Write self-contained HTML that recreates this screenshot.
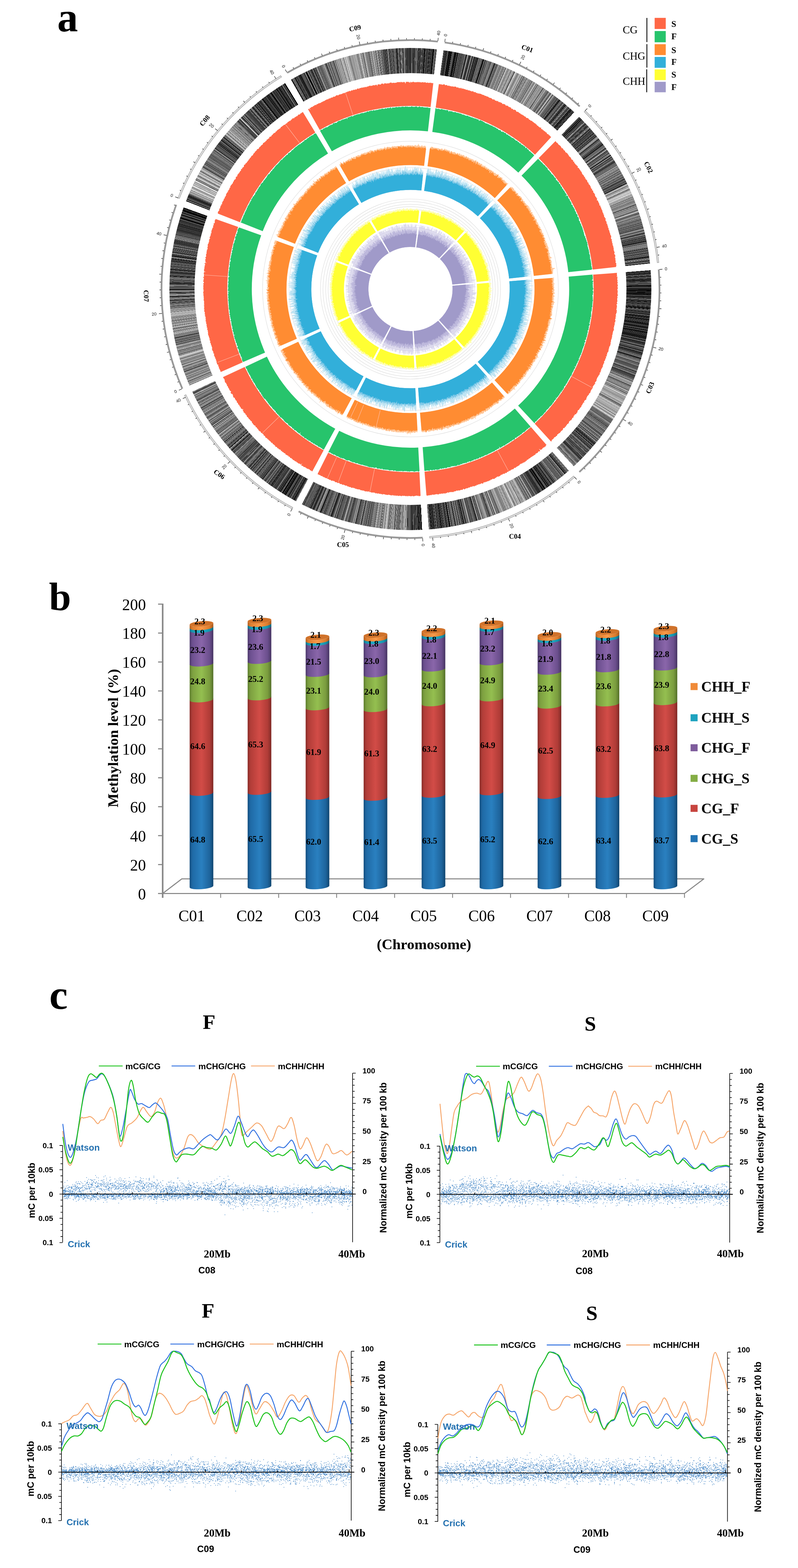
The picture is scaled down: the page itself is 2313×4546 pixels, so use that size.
<!DOCTYPE html><html><head><meta charset="utf-8"><title>Figure</title><style>html,body{margin:0;padding:0;background:#fff}#root{position:relative;width:2313px;height:4546px;overflow:hidden;background:#fff}#hm{position:absolute;border-radius:50%}svg{position:absolute;left:0;top:0}</style></head><body><div id="root">
<div id="hm" style="left:491.2px;top:139.4px;width:1397.2px;height:1397.2px;background:conic-gradient(#444 0 0.01deg,#333 0 0.10deg,#444 0 0.19deg,#777 0 0.24deg,#555 0 0.35deg,#aaa 0 0.38deg,#444 0 0.51deg,#444 0 0.67deg,#222 0 0.73deg,#333 0 0.77deg,#222 0 0.86deg,#666 0 0.95deg,#111 0 1.11deg,#888 0 1.27deg,#888 0 1.30deg,#222 0 1.41deg,#555 0 1.46deg,#777 0 1.57deg,#888 0 1.66deg,#555 0 1.82deg,#000 0 1.91deg,#555 0 2.00deg,#111 0 2.07deg,#666 0 2.16deg,#444 0 2.21deg,#000 0 2.30deg,#444 0 2.46deg,#555 0 2.50deg,#444 0 2.56deg,#111 0 2.59deg,#444 0 2.67deg,#000 0 2.70deg,#999 0 2.81deg,#222 0 2.90deg,#222 0 2.94deg,#333 0 3.05deg,#777 0 3.10deg,#444 0 3.26deg,#111 0 3.35deg,#333 0 3.38deg,#000 0 3.45deg,#222 0 3.50deg,#000 0 3.57deg,#666 0 3.70deg,#333 0 3.81deg,#555 0 3.92deg,#222 0 3.95deg,#222 0 4.00deg,#333 0 4.11deg,#444 0 4.27deg,#333 0 4.34deg,#222 0 4.37deg,#666 0 4.43deg,#444 0 4.49deg,#000 0 4.55deg,#333 0 4.66deg,#000 0 4.72deg,#666 0 4.83deg,#555 0 4.91deg,#000 0 5.00deg,#444 0 5.03deg,#000 0 5.06deg,#444 0 5.12deg,#666 0 5.23deg,#333 0 5.27deg,#111 0 5.35deg,#111 0 5.51deg,#111 0 5.60deg,#000 0 5.66deg,#555 0 5.73deg,#666 0 5.86deg,#666 0 5.99deg,#444 0 6.05deg,#777 0 6.08deg,#333 0 6.17deg,#666 0 6.30deg,#fff 0 7.90deg,#555 0 8.01deg,#111 0 8.04deg,#333 0 8.08deg,#111 0 8.11deg,#555 0 8.19deg,#333 0 8.23deg,#444 0 8.31deg,#444 0 8.35deg,#000 0 8.43deg,#000 0 8.46deg,#444 0 8.59deg,#333 0 8.65deg,#000 0 8.74deg,#444 0 8.83deg,#555 0 8.89deg,#444 0 8.96deg,#666 0 9.07deg,#555 0 9.10deg,#000 0 9.18deg,#222 0 9.29deg,#000 0 9.45deg,#111 0 9.54deg,#333 0 9.61deg,#000 0 9.69deg,#000 0 9.73deg,#111 0 9.84deg,#111 0 10.00deg,#aaa 0 10.05deg,#444 0 10.18deg,#555 0 10.34deg,#666 0 10.47deg,#333 0 10.58deg,#111 0 10.69deg,#000 0 10.85deg,#666 0 10.89deg,#000 0 11.05deg,#666 0 11.10deg,#444 0 11.26deg,#111 0 11.35deg,#000 0 11.46deg,#555 0 11.49deg,#222 0 11.53deg,#777 0 11.69deg,#444 0 11.75deg,#000 0 11.83deg,#666 0 11.99deg,#444 0 12.03deg,#555 0 12.12deg,#555 0 12.18deg,#000 0 12.27deg,#777 0 12.40deg,#333 0 12.53deg,#444 0 12.61deg,#444 0 12.68deg,#888 0 12.76deg,#444 0 12.82deg,#333 0 12.91deg,#555 0 13.02deg,#777 0 13.13deg,#222 0 13.16deg,#777 0 13.32deg,#111 0 13.45deg,#333 0 13.58deg,#444 0 13.71deg,#666 0 13.74deg,#bbb 0 13.90deg,#666 0 13.96deg,#666 0 14.00deg,#111 0 14.03deg,#222 0 14.14deg,#555 0 14.17deg,#555 0 14.30deg,#000 0 14.36deg,#000 0 14.47deg,#888 0 14.63deg,#888 0 14.79deg,#333 0 14.95deg,#444 0 15.00deg,#444 0 15.11deg,#111 0 15.17deg,#666 0 15.20deg,#bbb 0 15.31deg,#222 0 15.37deg,#000 0 15.46deg,#444 0 15.50deg,#222 0 15.61deg,#333 0 15.67deg,#666 0 15.78deg,#111 0 15.86deg,#111 0 15.93deg,#666 0 16.01deg,#111 0 16.08deg,#222 0 16.16deg,#444 0 16.19deg,#555 0 16.22deg,#222 0 16.29deg,#000 0 16.40deg,#777 0 16.51deg,#666 0 16.62deg,#666 0 16.78deg,#333 0 16.86deg,#888 0 16.89deg,#777 0 17.05deg,#444 0 17.09deg,#999 0 17.14deg,#333 0 17.21deg,#777 0 17.37deg,#333 0 17.48deg,#777 0 17.53deg,#000 0 17.66deg,#000 0 17.82deg,#999 0 17.88deg,#666 0 17.94deg,#555 0 18.10deg,#333 0 18.16deg,#333 0 18.32deg,#888 0 18.43deg,#888 0 18.46deg,#777 0 18.49deg,#222 0 18.53deg,#111 0 18.59deg,#888 0 18.67deg,#666 0 18.70deg,#888 0 18.77deg,#666 0 18.88deg,#999 0 18.94deg,#888 0 18.97deg,#555 0 19.13deg,#999 0 19.26deg,#111 0 19.32deg,#666 0 19.38deg,#666 0 19.54deg,#333 0 19.60deg,#333 0 19.66deg,#999 0 19.72deg,#999 0 19.77deg,#555 0 19.80deg,#999 0 19.96deg,#777 0 20.00deg,#666 0 20.08deg,#888 0 20.17deg,#777 0 20.33deg,#777 0 20.36deg,#111 0 20.52deg,#444 0 20.63deg,#555 0 20.70deg,#444 0 20.79deg,#888 0 20.95deg,#555 0 21.03deg,#222 0 21.12deg,#888 0 21.19deg,#666 0 21.24deg,#666 0 21.37deg,#777 0 21.44deg,#aaa 0 21.57deg,#999 0 21.62deg,#aaa 0 21.68deg,#666 0 21.79deg,#777 0 21.85deg,#888 0 22.01deg,#777 0 22.08deg,#666 0 22.24deg,#ccc 0 22.30deg,#777 0 22.36deg,#aaa 0 22.49deg,#777 0 22.62deg,#777 0 22.70deg,#888 0 22.81deg,#666 0 22.84deg,#aaa 0 22.87deg,#666 0 23.00deg,#bbb 0 23.04deg,#ccc 0 23.09deg,#777 0 23.13deg,#777 0 23.18deg,#888 0 23.24deg,#888 0 23.33deg,#333 0 23.42deg,#bbb 0 23.55deg,#ccc 0 23.71deg,#888 0 23.82deg,#888 0 23.88deg,#999 0 24.01deg,#666 0 24.04deg,#888 0 24.08deg,#777 0 24.16deg,#888 0 24.20deg,#999 0 24.23deg,#bbb 0 24.34deg,#888 0 24.43deg,#ccc 0 24.49deg,#999 0 24.54deg,#888 0 24.60deg,#aaa 0 24.69deg,#666 0 24.78deg,#888 0 24.94deg,#777 0 25.00deg,#ddd 0 25.09deg,#ccc 0 25.12deg,#999 0 25.19deg,#888 0 25.35deg,#bbb 0 25.48deg,#333 0 25.64deg,#777 0 25.73deg,#bbb 0 25.81deg,#888 0 25.87deg,#eee 0 26.00deg,#888 0 26.06deg,#ccc 0 26.09deg,#aaa 0 26.18deg,#999 0 26.31deg,#999 0 26.44deg,#555 0 26.53deg,#666 0 26.56deg,#999 0 26.72deg,#aaa 0 26.75deg,#777 0 26.84deg,#aaa 0 26.95deg,#eee 0 27.02deg,#999 0 27.10deg,#999 0 27.21deg,#aaa 0 27.25deg,#888 0 27.41deg,#ccc 0 27.49deg,#ccc 0 27.52deg,#bbb 0 27.58deg,#666 0 27.71deg,#777 0 27.80deg,#888 0 27.89deg,#888 0 27.95deg,#999 0 28.08deg,#444 0 28.24deg,#888 0 28.30deg,#ccc 0 28.36deg,#aaa 0 28.39deg,#555 0 28.52deg,#ccc 0 28.58deg,#666 0 28.61deg,#999 0 28.68deg,#999 0 28.79deg,#666 0 28.84deg,#aaa 0 28.87deg,#666 0 28.90deg,#666 0 29.06deg,#ddd 0 29.15deg,#999 0 29.19deg,#888 0 29.24deg,#555 0 29.28deg,#999 0 29.37deg,#ddd 0 29.45deg,#666 0 29.61deg,#999 0 29.77deg,#999 0 29.86deg,#555 0 29.93deg,#777 0 29.98deg,#777 0 30.07deg,#999 0 30.13deg,#999 0 30.22deg,#777 0 30.26deg,#555 0 30.35deg,#666 0 30.44deg,#999 0 30.49deg,#888 0 30.56deg,#aaa 0 30.72deg,#888 0 30.75deg,#999 0 30.91deg,#444 0 31.00deg,#ccc 0 31.08deg,#777 0 31.12deg,#888 0 31.21deg,#ccc 0 31.32deg,#ccc 0 31.41deg,#888 0 31.46deg,#777 0 31.62deg,#999 0 31.75deg,#888 0 31.91deg,#555 0 32.07deg,#bbb 0 32.20deg,#777 0 32.31deg,#999 0 32.42deg,#777 0 32.45deg,#aaa 0 32.58deg,#aaa 0 32.62deg,#888 0 32.65deg,#888 0 32.74deg,#999 0 32.87deg,#666 0 32.92deg,#aaa 0 33.01deg,#888 0 33.04deg,#999 0 33.13deg,#888 0 33.19deg,#aaa 0 33.30deg,#999 0 33.38deg,#333 0 33.51deg,#999 0 33.54deg,#555 0 33.61deg,#ccc 0 33.66deg,#999 0 33.82deg,#777 0 33.88deg,#666 0 33.91deg,#999 0 33.97deg,#aaa 0 34.06deg,#888 0 34.15deg,#ccc 0 34.24deg,#777 0 34.37deg,#666 0 34.50deg,#888 0 34.54deg,#999 0 34.62deg,#555 0 34.78deg,#777 0 34.89deg,#444 0 35.05deg,#999 0 35.12deg,#999 0 35.17deg,#aaa 0 35.28deg,#444 0 35.35deg,#bbb 0 35.43deg,#777 0 35.46deg,#444 0 35.59deg,#555 0 35.66deg,#999 0 35.69deg,#666 0 35.85deg,#eee 0 35.91deg,#ccc 0 35.99deg,#aaa 0 36.12deg,#555 0 36.25deg,#444 0 36.34deg,#999 0 36.37deg,#999 0 36.53deg,#999 0 36.69deg,#666 0 36.85deg,#666 0 37.01deg,#777 0 37.07deg,#222 0 37.13deg,#666 0 37.29deg,#555 0 37.33deg,#666 0 37.39deg,#555 0 37.47deg,#666 0 37.56deg,#444 0 37.62deg,#333 0 37.75deg,#777 0 37.79deg,#777 0 37.87deg,#555 0 38.00deg,#aaa 0 38.03deg,#000 0 38.06deg,#333 0 38.15deg,#222 0 38.26deg,#111 0 38.42deg,#444 0 38.49deg,#555 0 38.62deg,#777 0 38.71deg,#555 0 38.84deg,#555 0 38.89deg,#999 0 39.00deg,#111 0 39.07deg,#555 0 39.20deg,#444 0 39.31deg,#333 0 39.40deg,#666 0 39.45deg,#bbb 0 39.54deg,#444 0 39.61deg,#666 0 39.70deg,#777 0 39.75deg,#333 0 39.81deg,#000 0 39.88deg,#444 0 39.91deg,#555 0 39.97deg,#333 0 40.00deg,#000 0 40.06deg,#666 0 40.12deg,#000 0 40.25deg,#555 0 40.36deg,#aaa 0 40.41deg,#333 0 40.52deg,#666 0 40.59deg,#999 0 40.75deg,#222 0 40.78deg,#777 0 40.89deg,#222 0 41.00deg,#444 0 41.05deg,#666 0 41.14deg,#555 0 41.18deg,#000 0 41.26deg,#666 0 41.35deg,#777 0 41.48deg,#555 0 41.55deg,#000 0 41.66deg,#222 0 41.77deg,#333 0 41.88deg,#000 0 42.01deg,#555 0 42.09deg,#000 0 42.12deg,#444 0 42.25deg,#333 0 42.28deg,#333 0 42.37deg,#444 0 42.48deg,#222 0 42.59deg,#999 0 42.62deg,#333 0 42.71deg,#000 0 42.80deg,#777 0 42.80deg,#fff 0 44.40deg,#444 0 44.45deg,#555 0 44.48deg,#333 0 44.63deg,#666 0 44.77deg,#000 0 44.92deg,#666 0 44.98deg,#333 0 45.08deg,#222 0 45.14deg,#333 0 45.25deg,#111 0 45.41deg,#888 0 45.45deg,#333 0 45.53deg,#555 0 45.66deg,#222 0 45.70deg,#222 0 45.81deg,#aaa 0 45.87deg,#444 0 45.92deg,#333 0 46.01deg,#333 0 46.14deg,#bbb 0 46.30deg,#444 0 46.36deg,#666 0 46.43deg,#666 0 46.51deg,#555 0 46.55deg,#222 0 46.64deg,#111 0 46.73deg,#777 0 46.81deg,#444 0 46.97deg,#666 0 47.03deg,#777 0 47.12deg,#222 0 47.23deg,#000 0 47.27deg,#999 0 47.35deg,#000 0 47.39deg,#000 0 47.44deg,#000 0 47.47deg,#555 0 47.63deg,#666 0 47.74deg,#555 0 47.78deg,#777 0 47.81deg,#bbb 0 47.89deg,#111 0 47.93deg,#888 0 48.09deg,#555 0 48.18deg,#111 0 48.21deg,#222 0 48.26deg,#111 0 48.37deg,#777 0 48.44deg,#555 0 48.47deg,#555 0 48.55deg,#444 0 48.62deg,#666 0 48.65deg,#222 0 48.76deg,#444 0 48.82deg,#444 0 48.85deg,#444 0 49.01deg,#444 0 49.06deg,#444 0 49.19deg,#333 0 49.23deg,#333 0 49.29deg,#666 0 49.38deg,#444 0 49.47deg,#555 0 49.58deg,#000 0 49.71deg,#777 0 49.82deg,#222 0 49.90deg,#666 0 49.93deg,#777 0 50.06deg,#333 0 50.10deg,#222 0 50.23deg,#333 0 50.29deg,#888 0 50.35deg,#555 0 50.48deg,#000 0 50.53deg,#222 0 50.59deg,#444 0 50.65deg,#666 0 50.71deg,#777 0 50.75deg,#777 0 50.83deg,#999 0 50.92deg,#999 0 51.08deg,#aaa 0 51.19deg,#777 0 51.32deg,#888 0 51.36deg,#333 0 51.42deg,#222 0 51.50deg,#222 0 51.57deg,#555 0 51.73deg,#666 0 51.86deg,#444 0 51.92deg,#666 0 52.00deg,#888 0 52.07deg,#666 0 52.10deg,#777 0 52.21deg,#777 0 52.30deg,#444 0 52.43deg,#777 0 52.56deg,#222 0 52.67deg,#666 0 52.70deg,#333 0 52.73deg,#333 0 52.81deg,#555 0 52.97deg,#000 0 53.13deg,#666 0 53.19deg,#222 0 53.23deg,#333 0 53.29deg,#777 0 53.45deg,#666 0 53.48deg,#555 0 53.59deg,#888 0 53.64deg,#666 0 53.77deg,#666 0 53.83deg,#555 0 53.87deg,#999 0 53.95deg,#999 0 54.04deg,#333 0 54.10deg,#111 0 54.17deg,#777 0 54.22deg,#222 0 54.31deg,#333 0 54.37deg,#888 0 54.53deg,#555 0 54.59deg,#ccc 0 54.75deg,#222 0 54.82deg,#333 0 54.90deg,#444 0 55.01deg,#666 0 55.14deg,#444 0 55.20deg,#444 0 55.31deg,#888 0 55.44deg,#999 0 55.48deg,#444 0 55.51deg,#333 0 55.67deg,#555 0 55.72deg,#999 0 55.85deg,#555 0 55.96deg,#ddd 0 56.02deg,#555 0 56.13deg,#666 0 56.20deg,#000 0 56.26deg,#111 0 56.35deg,#333 0 56.44deg,#ccc 0 56.55deg,#666 0 56.58deg,#444 0 56.67deg,#333 0 56.80deg,#777 0 56.83deg,#222 0 56.89deg,#666 0 56.92deg,#999 0 56.95deg,#777 0 57.04deg,#222 0 57.09deg,#555 0 57.22deg,#444 0 57.31deg,#555 0 57.47deg,#aaa 0 57.53deg,#aaa 0 57.60deg,#555 0 57.66deg,#666 0 57.72deg,#444 0 57.81deg,#777 0 57.84deg,#444 0 57.87deg,#333 0 57.98deg,#333 0 58.14deg,#444 0 58.30deg,#666 0 58.38deg,#666 0 58.41deg,#444 0 58.44deg,#777 0 58.47deg,#999 0 58.51deg,#666 0 58.59deg,#333 0 58.65deg,#888 0 58.78deg,#555 0 58.84deg,#666 0 58.87deg,#666 0 59.03deg,#666 0 59.16deg,#aaa 0 59.32deg,#888 0 59.38deg,#888 0 59.45deg,#666 0 59.48deg,#444 0 59.53deg,#aaa 0 59.62deg,#666 0 59.65deg,#aaa 0 59.78deg,#555 0 59.87deg,#ccc 0 59.94deg,#777 0 59.99deg,#666 0 60.08deg,#777 0 60.15deg,#555 0 60.21deg,#777 0 60.32deg,#999 0 60.40deg,#999 0 60.53deg,#444 0 60.69deg,#888 0 60.85deg,#333 0 60.88deg,#888 0 61.01deg,#666 0 61.10deg,#333 0 61.17deg,#888 0 61.23deg,#777 0 61.29deg,#666 0 61.35deg,#aaa 0 61.46deg,#555 0 61.49deg,#888 0 61.52deg,#999 0 61.55deg,#666 0 61.60deg,#555 0 61.71deg,#888 0 61.78deg,#111 0 61.83deg,#777 0 61.96deg,#777 0 62.00deg,#bbb 0 62.03deg,#777 0 62.08deg,#444 0 62.17deg,#666 0 62.24deg,#444 0 62.33deg,#888 0 62.36deg,#555 0 62.47deg,#888 0 62.58deg,#666 0 62.69deg,#222 0 62.85deg,#555 0 62.94deg,#555 0 63.07deg,#111 0 63.10deg,#777 0 63.21deg,#555 0 63.37deg,#333 0 63.45deg,#444 0 63.49deg,#555 0 63.62deg,#444 0 63.65deg,#666 0 63.68deg,#666 0 63.71deg,#888 0 63.77deg,#111 0 63.93deg,#333 0 64.02deg,#777 0 64.08deg,#999 0 64.16deg,#bbb 0 64.32deg,#ddd 0 64.36deg,#999 0 64.52deg,#444 0 64.57deg,#777 0 64.68deg,#bbb 0 64.81deg,#555 0 64.85deg,#bbb 0 64.96deg,#888 0 65.04deg,#ccc 0 65.10deg,#ddd 0 65.23deg,#999 0 65.39deg,#555 0 65.45deg,#999 0 65.48deg,#777 0 65.59deg,#888 0 65.75deg,#bbb 0 65.86deg,#ccc 0 65.95deg,#ccc 0 66.02deg,#ccc 0 66.10deg,#999 0 66.17deg,#eee 0 66.23deg,#eee 0 66.29deg,#999 0 66.40deg,#aaa 0 66.46deg,#eee 0 66.55deg,#ccc 0 66.60deg,#ddd 0 66.67deg,#aaa 0 66.80deg,#bbb 0 66.89deg,#888 0 66.98deg,#aaa 0 67.03deg,#aaa 0 67.12deg,#ccc 0 67.15deg,#666 0 67.18deg,#ccc 0 67.25deg,#888 0 67.34deg,#aaa 0 67.47deg,#999 0 67.50deg,#444 0 67.63deg,#ccc 0 67.76deg,#666 0 67.84deg,#888 0 67.90deg,#777 0 68.01deg,#999 0 68.10deg,#888 0 68.23deg,#aaa 0 68.30deg,#555 0 68.36deg,#bbb 0 68.45deg,#777 0 68.48deg,#555 0 68.61deg,#999 0 68.67deg,#999 0 68.78deg,#666 0 68.94deg,#ccc 0 68.99deg,#aaa 0 69.05deg,#888 0 69.12deg,#999 0 69.28deg,#888 0 69.36deg,#555 0 69.47deg,#333 0 69.58deg,#ccc 0 69.65deg,#555 0 69.71deg,#bbb 0 69.76deg,#777 0 69.87deg,#777 0 70.00deg,#999 0 70.13deg,#999 0 70.26deg,#777 0 70.37deg,#777 0 70.46deg,#bbb 0 70.59deg,#777 0 70.66deg,#666 0 70.79deg,#888 0 70.84deg,#444 0 70.91deg,#888 0 70.99deg,#555 0 71.05deg,#bbb 0 71.18deg,#ccc 0 71.34deg,#777 0 71.40deg,#444 0 71.56deg,#bbb 0 71.65deg,#444 0 71.78deg,#000 0 71.84deg,#bbb 0 72.00deg,#777 0 72.09deg,#777 0 72.20deg,#999 0 72.36deg,#444 0 72.52deg,#999 0 72.63deg,#ccc 0 72.69deg,#555 0 72.72deg,#aaa 0 72.76deg,#222 0 72.82deg,#777 0 72.93deg,#666 0 72.96deg,#aaa 0 73.04deg,#666 0 73.13deg,#222 0 73.17deg,#444 0 73.23deg,#666 0 73.39deg,#888 0 73.52deg,#444 0 73.58deg,#444 0 73.63deg,#888 0 73.72deg,#aaa 0 73.76deg,#666 0 73.92deg,#555 0 73.97deg,#222 0 74.06deg,#999 0 74.22deg,#444 0 74.38deg,#555 0 74.44deg,#666 0 74.60deg,#888 0 74.63deg,#888 0 74.69deg,#444 0 74.85deg,#888 0 74.94deg,#444 0 75.07deg,#777 0 75.11deg,#999 0 75.14deg,#333 0 75.17deg,#444 0 75.28deg,#333 0 75.33deg,#666 0 75.39deg,#777 0 75.42deg,#999 0 75.48deg,#999 0 75.59deg,#888 0 75.70deg,#777 0 75.86deg,#333 0 75.93deg,#444 0 76.02deg,#777 0 76.05deg,#555 0 76.14deg,#bbb 0 76.27deg,#444 0 76.38deg,#666 0 76.49deg,#333 0 76.57deg,#222 0 76.68deg,#555 0 76.75deg,#888 0 76.80deg,#333 0 76.83deg,#888 0 76.96deg,#555 0 76.99deg,#777 0 77.02deg,#777 0 77.09deg,#333 0 77.12deg,#333 0 77.25deg,#333 0 77.30deg,#999 0 77.37deg,#777 0 77.43deg,#333 0 77.48deg,#111 0 77.61deg,#999 0 77.65deg,#444 0 77.76deg,#666 0 77.82deg,#222 0 77.91deg,#666 0 78.00deg,#666 0 78.03deg,#222 0 78.16deg,#444 0 78.19deg,#555 0 78.35deg,#555 0 78.40deg,#000 0 78.53deg,#333 0 78.69deg,#888 0 78.73deg,#666 0 78.79deg,#666 0 78.95deg,#222 0 79.00deg,#666 0 79.16deg,#777 0 79.19deg,#999 0 79.32deg,#666 0 79.36deg,#666 0 79.41deg,#777 0 79.57deg,#555 0 79.60deg,#999 0 79.76deg,#888 0 79.82deg,#444 0 79.88deg,#444 0 79.92deg,#999 0 80.08deg,#333 0 80.24deg,#000 0 80.27deg,#666 0 80.30deg,#555 0 80.35deg,#444 0 80.48deg,#999 0 80.54deg,#444 0 80.70deg,#444 0 80.86deg,#555 0 81.02deg,#444 0 81.06deg,#777 0 81.17deg,#555 0 81.30deg,#222 0 81.46deg,#888 0 81.55deg,#555 0 81.66deg,#666 0 81.77deg,#777 0 81.80deg,#222 0 81.89deg,#777 0 82.02deg,#555 0 82.15deg,#111 0 82.28deg,#222 0 82.44deg,#444 0 82.53deg,#333 0 82.62deg,#888 0 82.75deg,#aaa 0 82.78deg,#777 0 82.87deg,#111 0 82.93deg,#aaa 0 83.02deg,#444 0 83.18deg,#222 0 83.29deg,#444 0 83.45deg,#666 0 83.58deg,#999 0 83.66deg,#222 0 83.75deg,#222 0 83.90deg,#fff 0 85.50deg,#555 0 85.58deg,#111 0 85.61deg,#111 0 85.73deg,#333 0 85.84deg,#333 0 85.89deg,#666 0 85.98deg,#000 0 86.09deg,#333 0 86.17deg,#333 0 86.24deg,#444 0 86.33deg,#000 0 86.44deg,#111 0 86.50deg,#bbb 0 86.58deg,#555 0 86.69deg,#000 0 86.73deg,#444 0 86.78deg,#222 0 86.84deg,#333 0 86.93deg,#444 0 86.96deg,#333 0 87.12deg,#222 0 87.19deg,#777 0 87.32deg,#777 0 87.37deg,#111 0 87.43deg,#444 0 87.52deg,#000 0 87.58deg,#333 0 87.71deg,#333 0 87.82deg,#000 0 87.98deg,#333 0 88.02deg,#666 0 88.15deg,#000 0 88.20deg,#222 0 88.29deg,#444 0 88.33deg,#555 0 88.46deg,#777 0 88.57deg,#444 0 88.65deg,#222 0 88.68deg,#333 0 88.77deg,#222 0 88.80deg,#222 0 88.83deg,#666 0 88.99deg,#444 0 89.02deg,#444 0 89.05deg,#111 0 89.12deg,#000 0 89.28deg,#000 0 89.33deg,#333 0 89.46deg,#111 0 89.50deg,#444 0 89.66deg,#555 0 89.74deg,#000 0 89.77deg,#222 0 89.93deg,#111 0 89.96deg,#444 0 90.02deg,#222 0 90.13deg,#444 0 90.19deg,#000 0 90.32deg,#000 0 90.35deg,#000 0 90.46deg,#444 0 90.57deg,#000 0 90.68deg,#000 0 90.74deg,#666 0 90.80deg,#111 0 90.96deg,#222 0 91.02deg,#111 0 91.11deg,#333 0 91.14deg,#000 0 91.23deg,#222 0 91.29deg,#000 0 91.38deg,#333 0 91.54deg,#444 0 91.58deg,#555 0 91.66deg,#333 0 91.82deg,#111 0 91.89deg,#111 0 92.00deg,#333 0 92.08deg,#444 0 92.15deg,#444 0 92.21deg,#666 0 92.24deg,#000 0 92.30deg,#000 0 92.33deg,#444 0 92.39deg,#888 0 92.55deg,#333 0 92.64deg,#222 0 92.70deg,#333 0 92.83deg,#222 0 92.91deg,#444 0 92.97deg,#222 0 93.04deg,#111 0 93.09deg,#666 0 93.13deg,#000 0 93.22deg,#444 0 93.28deg,#666 0 93.36deg,#333 0 93.45deg,#333 0 93.58deg,#000 0 93.61deg,#222 0 93.70deg,#555 0 93.86deg,#444 0 94.02deg,#444 0 94.08deg,#111 0 94.14deg,#777 0 94.25deg,#444 0 94.28deg,#000 0 94.39deg,#222 0 94.43deg,#111 0 94.48deg,#444 0 94.59deg,#000 0 94.72deg,#000 0 94.81deg,#666 0 94.85deg,#222 0 94.88deg,#999 0 94.94deg,#333 0 95.02deg,#444 0 95.08deg,#555 0 95.11deg,#666 0 95.14deg,#555 0 95.21deg,#666 0 95.30deg,#333 0 95.46deg,#222 0 95.54deg,#111 0 95.58deg,#444 0 95.64deg,#333 0 95.80deg,#444 0 95.89deg,#333 0 95.95deg,#444 0 96.03deg,#111 0 96.19deg,#555 0 96.32deg,#777 0 96.45deg,#000 0 96.58deg,#000 0 96.61deg,#333 0 96.74deg,#222 0 96.85deg,#000 0 96.96deg,#555 0 97.09deg,#444 0 97.20deg,#000 0 97.23deg,#000 0 97.34deg,#111 0 97.45deg,#555 0 97.52deg,#000 0 97.55deg,#333 0 97.66deg,#333 0 97.77deg,#333 0 97.90deg,#666 0 97.98deg,#000 0 98.04deg,#333 0 98.20deg,#444 0 98.23deg,#000 0 98.26deg,#444 0 98.29deg,#000 0 98.38deg,#000 0 98.41deg,#111 0 98.44deg,#222 0 98.57deg,#333 0 98.61deg,#111 0 98.70deg,#333 0 98.73deg,#555 0 98.82deg,#444 0 98.88deg,#333 0 99.04deg,#333 0 99.13deg,#000 0 99.26deg,#111 0 99.31deg,#444 0 99.40deg,#000 0 99.47deg,#333 0 99.60deg,#666 0 99.76deg,#000 0 99.85deg,#000 0 99.94deg,#222 0 99.97deg,#444 0 100.10deg,#444 0 100.23deg,#222 0 100.31deg,#000 0 100.42deg,#111 0 100.51deg,#111 0 100.58deg,#666 0 100.64deg,#000 0 100.69deg,#111 0 100.72deg,#333 0 100.85deg,#000 0 100.89deg,#666 0 100.97deg,#222 0 101.03deg,#111 0 101.16deg,#444 0 101.23deg,#444 0 101.32deg,#000 0 101.48deg,#333 0 101.57deg,#000 0 101.63deg,#222 0 101.76deg,#222 0 101.81deg,#000 0 101.97deg,#777 0 102.03deg,#444 0 102.16deg,#111 0 102.20deg,#555 0 102.33deg,#000 0 102.42deg,#222 0 102.53deg,#555 0 102.66deg,#777 0 102.77deg,#333 0 102.93deg,#111 0 103.06deg,#444 0 103.15deg,#111 0 103.21deg,#444 0 103.29deg,#444 0 103.33deg,#111 0 103.41deg,#444 0 103.52deg,#666 0 103.55deg,#777 0 103.58deg,#555 0 103.74deg,#888 0 103.83deg,#222 0 103.96deg,#222 0 104.09deg,#555 0 104.20deg,#888 0 104.36deg,#333 0 104.43deg,#111 0 104.48deg,#666 0 104.54deg,#777 0 104.61deg,#444 0 104.77deg,#333 0 104.88deg,#000 0 104.93deg,#333 0 104.99deg,#666 0 105.03deg,#333 0 105.12deg,#555 0 105.21deg,#888 0 105.32deg,#000 0 105.45deg,#000 0 105.51deg,#444 0 105.59deg,#444 0 105.66deg,#555 0 105.71deg,#111 0 105.82deg,#333 0 105.85deg,#555 0 105.98deg,#555 0 106.01deg,#444 0 106.10deg,#555 0 106.13deg,#666 0 106.16deg,#888 0 106.25deg,#222 0 106.31deg,#444 0 106.35deg,#777 0 106.41deg,#999 0 106.46deg,#666 0 106.49deg,#666 0 106.65deg,#111 0 106.81deg,#222 0 106.84deg,#333 0 106.87deg,#222 0 106.93deg,#444 0 107.00deg,#666 0 107.09deg,#999 0 107.14deg,#000 0 107.18deg,#666 0 107.29deg,#888 0 107.32deg,#555 0 107.35deg,#777 0 107.38deg,#777 0 107.54deg,#666 0 107.62deg,#777 0 107.65deg,#888 0 107.71deg,#aaa 0 107.82deg,#555 0 107.98deg,#333 0 108.07deg,#666 0 108.23deg,#555 0 108.27deg,#888 0 108.35deg,#333 0 108.48deg,#aaa 0 108.64deg,#666 0 108.67deg,#333 0 108.73deg,#444 0 108.79deg,#666 0 108.88deg,#444 0 109.01deg,#555 0 109.14deg,#444 0 109.25deg,#666 0 109.29deg,#666 0 109.42deg,#333 0 109.50deg,#666 0 109.63deg,#777 0 109.70deg,#999 0 109.83deg,#666 0 109.94deg,#555 0 110.00deg,#777 0 110.08deg,#111 0 110.17deg,#444 0 110.33deg,#888 0 110.49deg,#111 0 110.55deg,#333 0 110.66deg,#999 0 110.79deg,#444 0 110.86deg,#888 0 110.94deg,#888 0 111.01deg,#222 0 111.10deg,#333 0 111.26deg,#444 0 111.34deg,#444 0 111.47deg,#444 0 111.51deg,#333 0 111.56deg,#555 0 111.69deg,#444 0 111.72deg,#333 0 111.81deg,#555 0 111.84deg,#777 0 111.90deg,#444 0 111.97deg,#999 0 112.02deg,#444 0 112.06deg,#555 0 112.15deg,#888 0 112.23deg,#777 0 112.30deg,#999 0 112.39deg,#999 0 112.48deg,#222 0 112.59deg,#aaa 0 112.65deg,#888 0 112.74deg,#999 0 112.85deg,#bbb 0 112.98deg,#888 0 113.14deg,#aaa 0 113.22deg,#777 0 113.26deg,#777 0 113.32deg,#aaa 0 113.40deg,#555 0 113.43deg,#aaa 0 113.56deg,#888 0 113.63deg,#666 0 113.66deg,#444 0 113.75deg,#333 0 113.83deg,#888 0 113.99deg,#666 0 114.12deg,#999 0 114.23deg,#888 0 114.32deg,#bbb 0 114.35deg,#666 0 114.38deg,#888 0 114.45deg,#888 0 114.56deg,#999 0 114.64deg,#666 0 114.68deg,#888 0 114.81deg,#666 0 114.89deg,#666 0 114.98deg,#888 0 115.11deg,#ccc 0 115.27deg,#777 0 115.43deg,#888 0 115.46deg,#777 0 115.52deg,#999 0 115.68deg,#888 0 115.77deg,#222 0 115.83deg,#777 0 115.90deg,#999 0 115.99deg,#aaa 0 116.10deg,#888 0 116.21deg,#aaa 0 116.30deg,#ccc 0 116.36deg,#ddd 0 116.52deg,#999 0 116.60deg,#999 0 116.76deg,#ccc 0 116.82deg,#999 0 116.91deg,#bbb 0 116.97deg,#999 0 117.04deg,#999 0 117.15deg,#999 0 117.28deg,#999 0 117.34deg,#888 0 117.50deg,#bbb 0 117.63deg,#999 0 117.72deg,#999 0 117.75deg,#bbb 0 117.78deg,#aaa 0 117.87deg,#bbb 0 117.96deg,#bbb 0 118.12deg,#aaa 0 118.28deg,#888 0 118.44deg,#999 0 118.49deg,#eee 0 118.52deg,#aaa 0 118.68deg,#aaa 0 118.72deg,#777 0 118.81deg,#666 0 118.86deg,#555 0 119.02deg,#aaa 0 119.09deg,#777 0 119.20deg,#777 0 119.25deg,#777 0 119.34deg,#eee 0 119.41deg,#ccc 0 119.44deg,#bbb 0 119.57deg,#888 0 119.63deg,#ddd 0 119.69deg,#ccc 0 119.78deg,#777 0 119.89deg,#ccc 0 120.00deg,#aaa 0 120.11deg,#bbb 0 120.22deg,#aaa 0 120.31deg,#aaa 0 120.44deg,#ccc 0 120.47deg,#999 0 120.63deg,#ddd 0 120.69deg,#999 0 120.74deg,#999 0 120.80deg,#888 0 120.96deg,#aaa 0 121.09deg,#aaa 0 121.25deg,#bbb 0 121.41deg,#ddd 0 121.44deg,#ccc 0 121.47deg,#555 0 121.60deg,#999 0 121.66deg,#ddd 0 121.79deg,#aaa 0 121.90deg,#999 0 121.96deg,#999 0 122.02deg,#999 0 122.13deg,#666 0 122.20deg,#aaa 0 122.36deg,#eee 0 122.49deg,#888 0 122.55deg,#ccc 0 122.68deg,#888 0 122.71deg,#777 0 122.82deg,#777 0 122.95deg,#444 0 123.06deg,#999 0 123.15deg,#444 0 123.26deg,#777 0 123.34deg,#777 0 123.41deg,#555 0 123.46deg,#666 0 123.52deg,#666 0 123.65deg,#444 0 123.76deg,#777 0 123.89deg,#999 0 123.98deg,#888 0 124.05deg,#888 0 124.10deg,#ccc 0 124.14deg,#555 0 124.22deg,#777 0 124.38deg,#555 0 124.45deg,#666 0 124.50deg,#999 0 124.54deg,#444 0 124.70deg,#999 0 124.76deg,#444 0 124.81deg,#333 0 124.85deg,#888 0 124.91deg,#222 0 124.99deg,#555 0 125.05deg,#777 0 125.16deg,#666 0 125.23deg,#666 0 125.26deg,#777 0 125.34deg,#555 0 125.50deg,#aaa 0 125.63deg,#222 0 125.67deg,#333 0 125.72deg,#888 0 125.83deg,#aaa 0 125.94deg,#777 0 125.97deg,#555 0 126.08deg,#666 0 126.19deg,#555 0 126.30deg,#444 0 126.34deg,#888 0 126.39deg,#999 0 126.42deg,#444 0 126.51deg,#777 0 126.62deg,#888 0 126.78deg,#666 0 126.82deg,#333 0 126.87deg,#777 0 126.96deg,#999 0 127.05deg,#777 0 127.18deg,#222 0 127.27deg,#666 0 127.36deg,#555 0 127.47deg,#222 0 127.53deg,#555 0 127.56deg,#888 0 127.59deg,#777 0 127.72deg,#999 0 127.88deg,#444 0 128.04deg,#666 0 128.17deg,#ccc 0 128.21deg,#444 0 128.32deg,#777 0 128.38deg,#666 0 128.41deg,#aaa 0 128.57deg,#333 0 128.68deg,#444 0 128.79deg,#888 0 128.90deg,#555 0 129.01deg,#888 0 129.09deg,#555 0 129.12deg,#555 0 129.18deg,#333 0 129.31deg,#ccc 0 129.40deg,#888 0 129.51deg,#666 0 129.57deg,#555 0 129.61deg,#555 0 129.69deg,#111 0 129.73deg,#666 0 129.84deg,#000 0 129.92deg,#444 0 129.98deg,#333 0 130.09deg,#111 0 130.20deg,#555 0 130.31deg,#333 0 130.44deg,#888 0 130.55deg,#000 0 130.71deg,#555 0 130.78deg,#666 0 130.89deg,#666 0 131.05deg,#222 0 131.18deg,#666 0 131.27deg,#444 0 131.33deg,#444 0 131.42deg,#444 0 131.51deg,#111 0 131.62deg,#888 0 131.67deg,#333 0 131.71deg,#444 0 131.77deg,#777 0 131.93deg,#999 0 132.04deg,#444 0 132.09deg,#444 0 132.25deg,#666 0 132.34deg,#555 0 132.37deg,#111 0 132.44deg,#555 0 132.47deg,#777 0 132.55deg,#777 0 132.64deg,#222 0 132.71deg,#444 0 132.79deg,#000 0 132.82deg,#999 0 132.86deg,#777 0 132.97deg,#777 0 133.03deg,#555 0 133.06deg,#666 0 133.17deg,#444 0 133.28deg,#333 0 133.31deg,#333 0 133.42deg,#777 0 133.48deg,#666 0 133.51deg,#333 0 133.56deg,#333 0 133.72deg,#555 0 133.85deg,#888 0 133.88deg,#888 0 133.91deg,#333 0 134.02deg,#111 0 134.05deg,#777 0 134.16deg,#666 0 134.22deg,#666 0 134.28deg,#333 0 134.32deg,#777 0 134.43deg,#333 0 134.49deg,#222 0 134.60deg,#555 0 134.68deg,#333 0 134.84deg,#555 0 134.87deg,#222 0 135.03deg,#333 0 135.12deg,#777 0 135.21deg,#555 0 135.27deg,#888 0 135.31deg,#777 0 135.42deg,#888 0 135.55deg,#888 0 135.60deg,#333 0 135.64deg,#333 0 135.67deg,#444 0 135.73deg,#777 0 135.82deg,#444 0 135.88deg,#999 0 135.94deg,#111 0 136.00deg,#333 0 136.03deg,#888 0 136.19deg,#666 0 136.35deg,#bbb 0 136.48deg,#666 0 136.64deg,#aaa 0 136.67deg,#555 0 136.72deg,#555 0 136.85deg,#888 0 136.96deg,#666 0 137.09deg,#999 0 137.22deg,#444 0 137.29deg,#555 0 137.30deg,#fff 0 138.90deg,#777 0 139.03deg,#555 0 139.10deg,#777 0 139.23deg,#333 0 139.32deg,#ddd 0 139.40deg,#000 0 139.46deg,#666 0 139.55deg,#666 0 139.61deg,#333 0 139.72deg,#000 0 139.75deg,#666 0 139.81deg,#444 0 139.92deg,#222 0 140.08deg,#111 0 140.16deg,#333 0 140.23deg,#aaa 0 140.34deg,#777 0 140.50deg,#444 0 140.56deg,#666 0 140.65deg,#666 0 140.68deg,#444 0 140.71deg,#777 0 140.77deg,#555 0 140.88deg,#666 0 140.93deg,#333 0 141.06deg,#222 0 141.10deg,#888 0 141.23deg,#666 0 141.34deg,#666 0 141.41deg,#777 0 141.49deg,#222 0 141.52deg,#444 0 141.58deg,#666 0 141.71deg,#666 0 141.75deg,#555 0 141.86deg,#777 0 141.91deg,#555 0 142.07deg,#666 0 142.13deg,#666 0 142.20deg,#444 0 142.26deg,#333 0 142.31deg,#999 0 142.42deg,#000 0 142.46deg,#bbb 0 142.57deg,#555 0 142.65deg,#666 0 142.69deg,#777 0 142.78deg,#666 0 142.87deg,#666 0 142.90deg,#777 0 143.03deg,#000 0 143.12deg,#555 0 143.15deg,#666 0 143.31deg,#111 0 143.40deg,#444 0 143.49deg,#222 0 143.62deg,#666 0 143.75deg,#333 0 143.81deg,#666 0 143.94deg,#888 0 144.00deg,#222 0 144.08deg,#333 0 144.17deg,#000 0 144.24deg,#444 0 144.32deg,#333 0 144.35deg,#111 0 144.38deg,#666 0 144.54deg,#111 0 144.65deg,#555 0 144.81deg,#000 0 144.97deg,#333 0 145.10deg,#666 0 145.17deg,#000 0 145.30deg,#333 0 145.41deg,#111 0 145.50deg,#777 0 145.61deg,#555 0 145.69deg,#333 0 145.78deg,#888 0 145.89deg,#000 0 146.05deg,#000 0 146.09deg,#000 0 146.20deg,#333 0 146.31deg,#333 0 146.39deg,#222 0 146.55deg,#111 0 146.61deg,#000 0 146.64deg,#000 0 146.75deg,#777 0 146.88deg,#111 0 146.92deg,#666 0 147.05deg,#222 0 147.10deg,#777 0 147.19deg,#333 0 147.35deg,#222 0 147.44deg,#333 0 147.60deg,#222 0 147.76deg,#555 0 147.82deg,#333 0 147.88deg,#111 0 147.99deg,#555 0 148.10deg,#555 0 148.21deg,#333 0 148.28deg,#444 0 148.31deg,#555 0 148.37deg,#555 0 148.46deg,#333 0 148.57deg,#666 0 148.66deg,#aaa 0 148.71deg,#777 0 148.87deg,#444 0 149.00deg,#444 0 149.09deg,#444 0 149.12deg,#555 0 149.28deg,#777 0 149.37deg,#333 0 149.50deg,#888 0 149.59deg,#777 0 149.70deg,#ccc 0 149.76deg,#ccc 0 149.83deg,#666 0 149.94deg,#666 0 149.99deg,#555 0 150.03deg,#777 0 150.08deg,#444 0 150.21deg,#bbb 0 150.37deg,#666 0 150.40deg,#555 0 150.44deg,#666 0 150.60deg,#555 0 150.73deg,#999 0 150.78deg,#777 0 150.94deg,#999 0 150.97deg,#888 0 151.04deg,#555 0 151.07deg,#444 0 151.16deg,#777 0 151.32deg,#ddd 0 151.37deg,#bbb 0 151.40deg,#333 0 151.44deg,#999 0 151.52deg,#ccc 0 151.68deg,#aaa 0 151.79deg,#bbb 0 151.95deg,#666 0 152.08deg,#eee 0 152.14deg,#999 0 152.20deg,#777 0 152.31deg,#bbb 0 152.34deg,#bbb 0 152.40deg,#999 0 152.49deg,#888 0 152.53deg,#bbb 0 152.62deg,#666 0 152.75deg,#888 0 152.78deg,#777 0 152.87deg,#eee 0 153.00deg,#888 0 153.09deg,#aaa 0 153.17deg,#ccc 0 153.28deg,#777 0 153.34deg,#bbb 0 153.45deg,#888 0 153.61deg,#999 0 153.64deg,#888 0 153.68deg,#ddd 0 153.81deg,#777 0 153.84deg,#999 0 153.93deg,#bbb 0 154.01deg,#aaa 0 154.08deg,#555 0 154.24deg,#bbb 0 154.37deg,#777 0 154.45deg,#bbb 0 154.48deg,#ddd 0 154.52deg,#ccc 0 154.55deg,#ddd 0 154.71deg,#ddd 0 154.77deg,#999 0 154.83deg,#999 0 154.99deg,#ddd 0 155.08deg,#777 0 155.16deg,#888 0 155.23deg,#777 0 155.28deg,#999 0 155.32deg,#555 0 155.35deg,#aaa 0 155.44deg,#888 0 155.60deg,#777 0 155.63deg,#ddd 0 155.69deg,#aaa 0 155.78deg,#ccc 0 155.86deg,#555 0 155.92deg,#aaa 0 156.01deg,#777 0 156.08deg,#ccc 0 156.14deg,#777 0 156.22deg,#bbb 0 156.35deg,#888 0 156.41deg,#999 0 156.50deg,#ccc 0 156.54deg,#444 0 156.62deg,#999 0 156.75deg,#888 0 156.86deg,#777 0 156.97deg,#777 0 157.01deg,#777 0 157.06deg,#888 0 157.15deg,#888 0 157.31deg,#999 0 157.35deg,#aaa 0 157.44deg,#999 0 157.49deg,#bbb 0 157.56deg,#ccc 0 157.65deg,#999 0 157.68deg,#888 0 157.79deg,#999 0 157.88deg,#999 0 157.91deg,#aaa 0 158.07deg,#777 0 158.15deg,#aaa 0 158.19deg,#999 0 158.28deg,#444 0 158.44deg,#888 0 158.49deg,#666 0 158.55deg,#777 0 158.68deg,#888 0 158.72deg,#777 0 158.85deg,#666 0 158.96deg,#555 0 159.01deg,#aaa 0 159.07deg,#aaa 0 159.18deg,#ddd 0 159.29deg,#aaa 0 159.32deg,#333 0 159.48deg,#888 0 159.57deg,#888 0 159.64deg,#888 0 159.69deg,#999 0 159.73deg,#555 0 159.84deg,#777 0 159.87deg,#666 0 159.96deg,#888 0 160.09deg,#ddd 0 160.17deg,#666 0 160.24deg,#ddd 0 160.29deg,#777 0 160.45deg,#666 0 160.52deg,#555 0 160.58deg,#ccc 0 160.64deg,#000 0 160.77deg,#666 0 160.90deg,#666 0 160.95deg,#555 0 160.99deg,#555 0 161.07deg,#777 0 161.10deg,#555 0 161.21deg,#aaa 0 161.25deg,#777 0 161.31deg,#444 0 161.40deg,#aaa 0 161.56deg,#ddd 0 161.62deg,#777 0 161.75deg,#bbb 0 161.88deg,#777 0 161.94deg,#888 0 162.00deg,#888 0 162.06deg,#777 0 162.14deg,#888 0 162.25deg,#bbb 0 162.29deg,#666 0 162.45deg,#222 0 162.48deg,#666 0 162.53deg,#777 0 162.57deg,#aaa 0 162.68deg,#aaa 0 162.81deg,#888 0 162.92deg,#777 0 162.98deg,#333 0 163.14deg,#666 0 163.20deg,#aaa 0 163.29deg,#666 0 163.32deg,#111 0 163.38deg,#333 0 163.51deg,#999 0 163.60deg,#aaa 0 163.65deg,#888 0 163.74deg,#666 0 163.81deg,#999 0 163.89deg,#000 0 164.05deg,#333 0 164.08deg,#555 0 164.21deg,#444 0 164.32deg,#555 0 164.45deg,#666 0 164.56deg,#666 0 164.69deg,#666 0 164.85deg,#bbb 0 164.88deg,#444 0 165.04deg,#444 0 165.17deg,#777 0 165.23deg,#555 0 165.34deg,#555 0 165.47deg,#444 0 165.63deg,#444 0 165.67deg,#888 0 165.76deg,#bbb 0 165.89deg,#999 0 165.97deg,#888 0 166.00deg,#666 0 166.13deg,#444 0 166.22deg,#888 0 166.33deg,#555 0 166.40deg,#888 0 166.51deg,#333 0 166.64deg,#000 0 166.73deg,#666 0 166.81deg,#555 0 166.87deg,#666 0 166.93deg,#888 0 166.97deg,#444 0 167.06deg,#222 0 167.17deg,#000 0 167.30deg,#aaa 0 167.36deg,#333 0 167.49deg,#333 0 167.54deg,#555 0 167.63deg,#333 0 167.72deg,#888 0 167.85deg,#888 0 167.88deg,#444 0 167.99deg,#aaa 0 168.02deg,#777 0 168.06deg,#111 0 168.19deg,#777 0 168.25deg,#888 0 168.41deg,#666 0 168.47deg,#bbb 0 168.50deg,#444 0 168.56deg,#222 0 168.64deg,#333 0 168.67deg,#777 0 168.80deg,#888 0 168.89deg,#444 0 168.96deg,#888 0 169.09deg,#222 0 169.22deg,#111 0 169.35deg,#999 0 169.51deg,#444 0 169.60deg,#777 0 169.71deg,#888 0 169.74deg,#666 0 169.85deg,#444 0 169.88deg,#444 0 169.94deg,#888 0 170.03deg,#000 0 170.06deg,#111 0 170.17deg,#444 0 170.23deg,#aaa 0 170.39deg,#000 0 170.47deg,#000 0 170.60deg,#333 0 170.64deg,#222 0 170.75deg,#555 0 170.88deg,#222 0 170.93deg,#888 0 171.00deg,#333 0 171.13deg,#555 0 171.19deg,#222 0 171.25deg,#444 0 171.34deg,#111 0 171.47deg,#444 0 171.52deg,#777 0 171.65deg,#555 0 171.74deg,#333 0 171.90deg,#999 0 171.93deg,#555 0 172.02deg,#222 0 172.13deg,#333 0 172.20deg,#555 0 172.25deg,#333 0 172.38deg,#555 0 172.42deg,#333 0 172.48deg,#444 0 172.53deg,#111 0 172.64deg,#000 0 172.77deg,#777 0 172.88deg,#333 0 172.94deg,#222 0 173.07deg,#555 0 173.16deg,#555 0 173.20deg,#444 0 173.33deg,#444 0 173.41deg,#111 0 173.54deg,#666 0 173.63deg,#666 0 173.69deg,#777 0 173.76deg,#888 0 173.81deg,#000 0 173.94deg,#666 0 174.03deg,#666 0 174.16deg,#222 0 174.25deg,#000 0 174.34deg,#555 0 174.41deg,#222 0 174.52deg,#111 0 174.57deg,#666 0 174.61deg,#444 0 174.66deg,#111 0 174.69deg,#222 0 174.85deg,#222 0 174.94deg,#777 0 174.97deg,#333 0 175.00deg,#000 0 175.03deg,#222 0 175.19deg,#111 0 175.26deg,#999 0 175.37deg,#444 0 175.45deg,#888 0 175.52deg,#555 0 175.60deg,#fff 0 177.20deg,#000 0 177.23deg,#333 0 177.31deg,#222 0 177.40deg,#000 0 177.53deg,#888 0 177.62deg,#111 0 177.66deg,#222 0 177.79deg,#000 0 177.86deg,#000 0 177.89deg,#555 0 178.00deg,#222 0 178.09deg,#111 0 178.14deg,#000 0 178.27deg,#888 0 178.43deg,#222 0 178.59deg,#222 0 178.66deg,#555 0 178.79deg,#333 0 178.85deg,#555 0 178.88deg,#444 0 179.04deg,#000 0 179.12deg,#444 0 179.21deg,#777 0 179.30deg,#777 0 179.33deg,#111 0 179.36deg,#222 0 179.40deg,#555 0 179.49deg,#111 0 179.60deg,#111 0 179.71deg,#444 0 179.82deg,#555 0 179.88deg,#444 0 180.00deg,#555 0 180.16deg,#222 0 180.20deg,#aaa 0 180.31deg,#555 0 180.47deg,#666 0 180.58deg,#222 0 180.69deg,#888 0 180.75deg,#555 0 180.80deg,#777 0 180.93deg,#555 0 181.00deg,#aaa 0 181.07deg,#eee 0 181.16deg,#555 0 181.29deg,#aaa 0 181.42deg,#ccc 0 181.55deg,#888 0 181.61deg,#888 0 181.74deg,#ccc 0 181.77deg,#888 0 181.82deg,#888 0 181.98deg,#666 0 182.02deg,#666 0 182.13deg,#aaa 0 182.29deg,#888 0 182.45deg,#222 0 182.48deg,#888 0 182.56deg,#aaa 0 182.60deg,#666 0 182.65deg,#777 0 182.72deg,#444 0 182.88deg,#888 0 183.04deg,#444 0 183.09deg,#666 0 183.25deg,#444 0 183.31deg,#aaa 0 183.38deg,#777 0 183.54deg,#555 0 183.60deg,#bbb 0 183.65deg,#666 0 183.69deg,#999 0 183.77deg,#222 0 183.80deg,#444 0 183.93deg,#666 0 184.00deg,#888 0 184.03deg,#eee 0 184.11deg,#999 0 184.14deg,#888 0 184.21deg,#888 0 184.29deg,#777 0 184.42deg,#bbb 0 184.51deg,#999 0 184.67deg,#888 0 184.71deg,#222 0 184.76deg,#aaa 0 184.82deg,#aaa 0 184.93deg,#111 0 184.97deg,#888 0 185.10deg,#999 0 185.13deg,#888 0 185.18deg,#777 0 185.22deg,#444 0 185.31deg,#888 0 185.47deg,#888 0 185.55deg,#999 0 185.58deg,#bbb 0 185.74deg,#bbb 0 185.81deg,#bbb 0 185.89deg,#ccc 0 186.02deg,#888 0 186.06deg,#888 0 186.17deg,#777 0 186.25deg,#aaa 0 186.29deg,#999 0 186.38deg,#aaa 0 186.47deg,#bbb 0 186.58deg,#999 0 186.66deg,#888 0 186.70deg,#555 0 186.78deg,#777 0 186.91deg,#bbb 0 186.98deg,#555 0 187.03deg,#aaa 0 187.06deg,#444 0 187.09deg,#999 0 187.15deg,#555 0 187.18deg,#666 0 187.24deg,#666 0 187.33deg,#777 0 187.39deg,#aaa 0 187.50deg,#777 0 187.53deg,#888 0 187.69deg,#bbb 0 187.75deg,#777 0 187.91deg,#777 0 188.02deg,#999 0 188.15deg,#555 0 188.18deg,#aaa 0 188.29deg,#bbb 0 188.40deg,#777 0 188.47deg,#888 0 188.58deg,#444 0 188.63deg,#888 0 188.66deg,#555 0 188.77deg,#888 0 188.88deg,#777 0 189.04deg,#777 0 189.10deg,#777 0 189.17deg,#999 0 189.30deg,#555 0 189.35deg,#777 0 189.42deg,#bbb 0 189.45deg,#555 0 189.54deg,#777 0 189.60deg,#555 0 189.76deg,#555 0 189.85deg,#666 0 189.98deg,#888 0 190.01deg,#666 0 190.06deg,#555 0 190.15deg,#444 0 190.21deg,#333 0 190.34deg,#aaa 0 190.43deg,#888 0 190.46deg,#555 0 190.50deg,#777 0 190.55deg,#444 0 190.71deg,#444 0 190.80deg,#777 0 190.96deg,#777 0 191.05deg,#333 0 191.18deg,#888 0 191.34deg,#888 0 191.38deg,#444 0 191.49deg,#bbb 0 191.57deg,#777 0 191.64deg,#999 0 191.69deg,#222 0 191.80deg,#222 0 191.89deg,#222 0 191.93deg,#888 0 191.98deg,#999 0 192.07deg,#777 0 192.16deg,#777 0 192.20deg,#333 0 192.23deg,#999 0 192.31deg,#666 0 192.34deg,#666 0 192.40deg,#333 0 192.51deg,#999 0 192.57deg,#666 0 192.68deg,#444 0 192.79deg,#555 0 192.85deg,#666 0 192.92deg,#555 0 192.98deg,#888 0 193.01deg,#333 0 193.09deg,#111 0 193.22deg,#666 0 193.33deg,#bbb 0 193.42deg,#999 0 193.45deg,#777 0 193.56deg,#555 0 193.63deg,#999 0 193.79deg,#888 0 193.84deg,#888 0 194.00deg,#333 0 194.04deg,#777 0 194.10deg,#555 0 194.18deg,#666 0 194.25deg,#555 0 194.30deg,#888 0 194.37deg,#555 0 194.48deg,#555 0 194.56deg,#555 0 194.72deg,#222 0 194.85deg,#888 0 194.89deg,#777 0 194.92deg,#222 0 195.00deg,#555 0 195.11deg,#888 0 195.18deg,#777 0 195.34deg,#666 0 195.50deg,#444 0 195.66deg,#777 0 195.77deg,#777 0 195.88deg,#bbb 0 195.93deg,#bbb 0 196.09deg,#555 0 196.18deg,#666 0 196.21deg,#555 0 196.37deg,#555 0 196.44deg,#444 0 196.60deg,#444 0 196.71deg,#111 0 196.77deg,#999 0 196.88deg,#777 0 196.91deg,#333 0 196.97deg,#888 0 197.05deg,#555 0 197.09deg,#555 0 197.25deg,#666 0 197.41deg,#666 0 197.47deg,#333 0 197.58deg,#888 0 197.66deg,#444 0 197.72deg,#333 0 197.75deg,#777 0 197.79deg,#111 0 197.95deg,#999 0 198.11deg,#444 0 198.19deg,#444 0 198.35deg,#333 0 198.42deg,#999 0 198.51deg,#999 0 198.59deg,#444 0 198.62deg,#666 0 198.75deg,#777 0 198.78deg,#555 0 198.89deg,#333 0 198.92deg,#333 0 198.98deg,#333 0 199.14deg,#111 0 199.30deg,#333 0 199.36deg,#555 0 199.45deg,#666 0 199.58deg,#ddd 0 199.64deg,#000 0 199.70deg,#555 0 199.81deg,#444 0 199.88deg,#666 0 200.01deg,#888 0 200.17deg,#555 0 200.30deg,#888 0 200.38deg,#777 0 200.44deg,#444 0 200.57deg,#aaa 0 200.61deg,#666 0 200.66deg,#555 0 200.69deg,#444 0 200.75deg,#222 0 200.81deg,#666 0 200.90deg,#222 0 200.94deg,#666 0 201.05deg,#111 0 201.13deg,#666 0 201.22deg,#666 0 201.35deg,#888 0 201.44deg,#000 0 201.51deg,#888 0 201.60deg,#444 0 201.65deg,#444 0 201.81deg,#222 0 201.88deg,#000 0 201.91deg,#111 0 202.07deg,#555 0 202.13deg,#999 0 202.29deg,#333 0 202.37deg,#aaa 0 202.50deg,#888 0 202.63deg,#aaa 0 202.76deg,#333 0 202.83deg,#444 0 202.94deg,#222 0 203.10deg,#666 0 203.21deg,#666 0 203.29deg,#777 0 203.38deg,#666 0 203.51deg,#333 0 203.64deg,#222 0 203.80deg,#222 0 203.91deg,#333 0 204.04deg,#666 0 204.15deg,#777 0 204.18deg,#333 0 204.24deg,#555 0 204.33deg,#222 0 204.40deg,#111 0 204.48deg,#444 0 204.59deg,#222 0 204.68deg,#666 0 204.74deg,#111 0 204.77deg,#777 0 204.84deg,#222 0 204.97deg,#999 0 205.06deg,#555 0 205.12deg,#444 0 205.17deg,#444 0 205.24deg,#444 0 205.30deg,#888 0 205.38deg,#555 0 205.41deg,#444 0 205.45deg,#555 0 205.53deg,#666 0 205.64deg,#333 0 205.75deg,#888 0 205.84deg,#555 0 205.95deg,#444 0 206.01deg,#777 0 206.10deg,#666 0 206.19deg,#555 0 206.25deg,#000 0 206.36deg,#666 0 206.52deg,#777 0 206.55deg,#555 0 206.61deg,#111 0 206.70deg,#fff 0 208.30deg,#333 0 208.33deg,#777 0 208.49deg,#444 0 208.53deg,#333 0 208.69deg,#333 0 208.85deg,#111 0 208.90deg,#111 0 209.06deg,#222 0 209.13deg,#666 0 209.21deg,#555 0 209.28deg,#000 0 209.37deg,#333 0 209.48deg,#777 0 209.51deg,#444 0 209.59deg,#444 0 209.68deg,#777 0 209.84deg,#444 0 209.91deg,#222 0 210.00deg,#333 0 210.09deg,#444 0 210.25deg,#555 0 210.36deg,#000 0 210.45deg,#111 0 210.58deg,#777 0 210.61deg,#444 0 210.72deg,#333 0 210.80deg,#555 0 210.86deg,#666 0 210.93deg,#555 0 211.09deg,#333 0 211.20deg,#000 0 211.36deg,#222 0 211.41deg,#111 0 211.45deg,#111 0 211.50deg,#444 0 211.59deg,#000 0 211.75deg,#777 0 211.86deg,#000 0 211.99deg,#000 0 212.10deg,#222 0 212.21deg,#555 0 212.24deg,#555 0 212.33deg,#aaa 0 212.39deg,#555 0 212.45deg,#000 0 212.49deg,#444 0 212.58deg,#555 0 212.63deg,#000 0 212.74deg,#222 0 212.87deg,#333 0 212.91deg,#999 0 212.94deg,#444 0 213.00deg,#222 0 213.05deg,#111 0 213.18deg,#333 0 213.24deg,#666 0 213.37deg,#000 0 213.48deg,#777 0 213.64deg,#999 0 213.68deg,#777 0 213.81deg,#333 0 213.97deg,#555 0 214.06deg,#222 0 214.22deg,#444 0 214.28deg,#666 0 214.36deg,#222 0 214.47deg,#666 0 214.54deg,#444 0 214.60deg,#222 0 214.71deg,#777 0 214.82deg,#333 0 214.90deg,#333 0 214.93deg,#333 0 215.00deg,#333 0 215.09deg,#999 0 215.12deg,#000 0 215.23deg,#666 0 215.31deg,#000 0 215.40deg,#222 0 215.51deg,#777 0 215.64deg,#222 0 215.77deg,#aaa 0 215.80deg,#444 0 215.93deg,#000 0 216.00deg,#888 0 216.03deg,#333 0 216.09deg,#444 0 216.18deg,#888 0 216.31deg,#555 0 216.44deg,#333 0 216.55deg,#111 0 216.58deg,#888 0 216.69deg,#888 0 216.75deg,#000 0 216.78deg,#777 0 216.94deg,#333 0 217.10deg,#444 0 217.18deg,#111 0 217.22deg,#888 0 217.27deg,#888 0 217.30deg,#111 0 217.37deg,#777 0 217.53deg,#555 0 217.56deg,#777 0 217.69deg,#666 0 217.78deg,#000 0 217.87deg,#333 0 218.03deg,#666 0 218.12deg,#333 0 218.23deg,#444 0 218.28deg,#444 0 218.44deg,#444 0 218.51deg,#555 0 218.59deg,#777 0 218.63deg,#111 0 218.66deg,#555 0 218.69deg,#333 0 218.75deg,#555 0 218.84deg,#888 0 218.95deg,#777 0 218.98deg,#000 0 219.06deg,#999 0 219.19deg,#111 0 219.25deg,#777 0 219.38deg,#111 0 219.45deg,#ccc 0 219.51deg,#111 0 219.67deg,#444 0 219.73deg,#888 0 219.86deg,#444 0 219.92deg,#888 0 219.98deg,#555 0 220.03deg,#555 0 220.14deg,#555 0 220.17deg,#000 0 220.24deg,#444 0 220.32deg,#666 0 220.38deg,#777 0 220.41deg,#777 0 220.54deg,#888 0 220.63deg,#222 0 220.70deg,#666 0 220.86deg,#555 0 220.89deg,#555 0 221.00deg,#555 0 221.06deg,#333 0 221.15deg,#333 0 221.23deg,#444 0 221.29deg,#999 0 221.36deg,#444 0 221.41deg,#444 0 221.57deg,#111 0 221.66deg,#555 0 221.79deg,#444 0 221.82deg,#888 0 221.98deg,#111 0 222.11deg,#444 0 222.17deg,#666 0 222.24deg,#111 0 222.35deg,#777 0 222.43deg,#666 0 222.50deg,#777 0 222.63deg,#333 0 222.72deg,#888 0 222.88deg,#777 0 222.93deg,#777 0 222.97deg,#666 0 223.06deg,#777 0 223.22deg,#333 0 223.38deg,#555 0 223.46deg,#333 0 223.62deg,#444 0 223.68deg,#888 0 223.75deg,#777 0 223.80deg,#888 0 223.93deg,#777 0 224.04deg,#333 0 224.15deg,#000 0 224.21deg,#777 0 224.37deg,#222 0 224.40deg,#777 0 224.43deg,#111 0 224.54deg,#888 0 224.67deg,#444 0 224.73deg,#666 0 224.76deg,#444 0 224.87deg,#666 0 225.00deg,#111 0 225.07deg,#555 0 225.18deg,#333 0 225.31deg,#555 0 225.37deg,#666 0 225.40deg,#666 0 225.51deg,#222 0 225.60deg,#444 0 225.71deg,#555 0 225.82deg,#666 0 225.98deg,#666 0 226.07deg,#333 0 226.10deg,#777 0 226.21deg,#555 0 226.24deg,#777 0 226.40deg,#777 0 226.46deg,#444 0 226.51deg,#666 0 226.58deg,#999 0 226.64deg,#444 0 226.70deg,#777 0 226.83deg,#aaa 0 226.92deg,#aaa 0 226.97deg,#000 0 227.03deg,#333 0 227.07deg,#444 0 227.13deg,#666 0 227.29deg,#222 0 227.42deg,#777 0 227.48deg,#666 0 227.54deg,#555 0 227.57deg,#666 0 227.63deg,#666 0 227.69deg,#444 0 227.74deg,#666 0 227.81deg,#222 0 227.92deg,#000 0 228.03deg,#888 0 228.08deg,#555 0 228.21deg,#666 0 228.34deg,#888 0 228.37deg,#999 0 228.43deg,#bbb 0 228.54deg,#222 0 228.57deg,#777 0 228.60deg,#111 0 228.76deg,#444 0 228.79deg,#555 0 228.95deg,#666 0 229.06deg,#555 0 229.19deg,#666 0 229.22deg,#222 0 229.28deg,#666 0 229.34deg,#000 0 229.37deg,#666 0 229.40deg,#333 0 229.51deg,#888 0 229.64deg,#555 0 229.77deg,#999 0 229.83deg,#888 0 229.94deg,#555 0 230.01deg,#aaa 0 230.04deg,#666 0 230.15deg,#777 0 230.24deg,#444 0 230.40deg,#bbb 0 230.49deg,#000 0 230.65deg,#999 0 230.68deg,#aaa 0 230.81deg,#444 0 230.90deg,#555 0 230.93deg,#555 0 230.98deg,#666 0 231.11deg,#999 0 231.20deg,#444 0 231.33deg,#aaa 0 231.49deg,#333 0 231.53deg,#666 0 231.69deg,#666 0 231.85deg,#888 0 231.94deg,#aaa 0 232.03deg,#888 0 232.14deg,#aaa 0 232.27deg,#222 0 232.36deg,#888 0 232.49deg,#888 0 232.65deg,#777 0 232.71deg,#eee 0 232.80deg,#999 0 232.86deg,#555 0 232.97deg,#555 0 233.05deg,#777 0 233.14deg,#666 0 233.30deg,#bbb 0 233.33deg,#aaa 0 233.36deg,#444 0 233.43deg,#888 0 233.48deg,#444 0 233.57deg,#ccc 0 233.63deg,#444 0 233.69deg,#333 0 233.75deg,#666 0 233.84deg,#888 0 233.91deg,#888 0 234.07deg,#666 0 234.16deg,#888 0 234.19deg,#ddd 0 234.28deg,#555 0 234.33deg,#555 0 234.49deg,#ccc 0 234.56deg,#bbb 0 234.67deg,#777 0 234.70deg,#555 0 234.86deg,#aaa 0 235.02deg,#111 0 235.11deg,#666 0 235.17deg,#777 0 235.28deg,#ccc 0 235.41deg,#444 0 235.57deg,#555 0 235.73deg,#777 0 235.84deg,#333 0 235.89deg,#666 0 236.00deg,#777 0 236.06deg,#888 0 236.19deg,#999 0 236.23deg,#777 0 236.32deg,#555 0 236.43deg,#999 0 236.54deg,#666 0 236.57deg,#aaa 0 236.66deg,#555 0 236.82deg,#555 0 236.93deg,#bbb 0 237.09deg,#666 0 237.15deg,#888 0 237.26deg,#999 0 237.35deg,#666 0 237.43deg,#444 0 237.56deg,#777 0 237.59deg,#888 0 237.63deg,#555 0 237.71deg,#444 0 237.75deg,#555 0 237.83deg,#333 0 237.86deg,#aaa 0 237.95deg,#888 0 238.04deg,#aaa 0 238.15deg,#555 0 238.28deg,#aaa 0 238.39deg,#555 0 238.45deg,#000 0 238.48deg,#444 0 238.55deg,#777 0 238.60deg,#888 0 238.71deg,#444 0 238.84deg,#999 0 238.88deg,#aaa 0 239.01deg,#aaa 0 239.10deg,#222 0 239.16deg,#999 0 239.19deg,#eee 0 239.22deg,#777 0 239.35deg,#555 0 239.41deg,#999 0 239.47deg,#999 0 239.58deg,#666 0 239.64deg,#888 0 239.70deg,#888 0 239.75deg,#666 0 239.81deg,#aaa 0 239.85deg,#444 0 240.01deg,#999 0 240.04deg,#777 0 240.07deg,#888 0 240.10deg,#999 0 240.18deg,#555 0 240.22deg,#444 0 240.38deg,#555 0 240.54deg,#777 0 240.57deg,#bbb 0 240.60deg,#999 0 240.76deg,#777 0 240.79deg,#777 0 240.85deg,#999 0 240.96deg,#666 0 241.01deg,#888 0 241.10deg,#111 0 241.14deg,#666 0 241.22deg,#888 0 241.28deg,#999 0 241.32deg,#aaa 0 241.45deg,#555 0 241.61deg,#bbb 0 241.66deg,#666 0 241.72deg,#666 0 241.75deg,#777 0 241.78deg,#222 0 241.82deg,#666 0 241.90deg,#888 0 242.03deg,#aaa 0 242.16deg,#666 0 242.25deg,#555 0 242.41deg,#555 0 242.44deg,#333 0 242.48deg,#444 0 242.56deg,#888 0 242.65deg,#555 0 242.76deg,#888 0 242.87deg,#999 0 242.94deg,#777 0 243.07deg,#777 0 243.12deg,#777 0 243.19deg,#777 0 243.28deg,#666 0 243.44deg,#888 0 243.53deg,#aaa 0 243.69deg,#444 0 243.85deg,#ccc 0 244.01deg,#888 0 244.07deg,#888 0 244.13deg,#555 0 244.16deg,#333 0 244.19deg,#888 0 244.24deg,#888 0 244.27deg,#222 0 244.34deg,#444 0 244.45deg,#555 0 244.51deg,#444 0 244.60deg,#999 0 244.66deg,#555 0 244.69deg,#999 0 244.75deg,#888 0 244.80deg,#fff 0 246.40deg,#777 0 246.46deg,#666 0 246.50deg,#999 0 246.55deg,#777 0 246.62deg,#bbb 0 246.65deg,#ddd 0 246.70deg,#aaa 0 246.79deg,#888 0 246.95deg,#777 0 247.02deg,#aaa 0 247.13deg,#666 0 247.19deg,#aaa 0 247.27deg,#777 0 247.36deg,#777 0 247.39deg,#555 0 247.52deg,#aaa 0 247.55deg,#777 0 247.64deg,#ccc 0 247.80deg,#666 0 247.91deg,#888 0 248.04deg,#777 0 248.13deg,#ddd 0 248.16deg,#444 0 248.25deg,#888 0 248.32deg,#bbb 0 248.48deg,#555 0 248.64deg,#aaa 0 248.75deg,#999 0 248.83deg,#bbb 0 248.90deg,#777 0 248.99deg,#777 0 249.10deg,#666 0 249.13deg,#777 0 249.24deg,#888 0 249.33deg,#666 0 249.41deg,#aaa 0 249.47deg,#999 0 249.63deg,#999 0 249.79deg,#666 0 249.82deg,#222 0 249.95deg,#777 0 250.11deg,#999 0 250.17deg,#777 0 250.23deg,#555 0 250.26deg,#555 0 250.33deg,#ccc 0 250.36deg,#666 0 250.49deg,#888 0 250.60deg,#999 0 250.65deg,#999 0 250.78deg,#aaa 0 250.87deg,#777 0 250.93deg,#888 0 251.06deg,#333 0 251.10deg,#555 0 251.21deg,#bbb 0 251.29deg,#bbb 0 251.36deg,#888 0 251.44deg,#bbb 0 251.53deg,#aaa 0 251.60deg,#333 0 251.68deg,#888 0 251.79deg,#aaa 0 251.83deg,#888 0 251.88deg,#999 0 252.04deg,#888 0 252.13deg,#888 0 252.26deg,#777 0 252.33deg,#666 0 252.38deg,#999 0 252.51deg,#666 0 252.58deg,#999 0 252.61deg,#777 0 252.70deg,#ccc 0 252.86deg,#888 0 253.02deg,#777 0 253.15deg,#888 0 253.31deg,#bbb 0 253.47deg,#bbb 0 253.60deg,#ddd 0 253.69deg,#ccc 0 253.85deg,#555 0 253.94deg,#aaa 0 254.10deg,#444 0 254.15deg,#999 0 254.19deg,#666 0 254.22deg,#555 0 254.35deg,#999 0 254.46deg,#999 0 254.57deg,#777 0 254.73deg,#444 0 254.78deg,#bbb 0 254.85deg,#999 0 254.93deg,#555 0 255.04deg,#777 0 255.13deg,#888 0 255.24deg,#222 0 255.28deg,#ddd 0 255.39deg,#555 0 255.45deg,#ccc 0 255.56deg,#222 0 255.62deg,#bbb 0 255.73deg,#666 0 255.81deg,#888 0 255.88deg,#666 0 256.04deg,#999 0 256.10deg,#aaa 0 256.26deg,#ccc 0 256.29deg,#333 0 256.32deg,#bbb 0 256.43deg,#666 0 256.56deg,#555 0 256.72deg,#666 0 256.80deg,#777 0 256.86deg,#777 0 256.92deg,#bbb 0 256.98deg,#444 0 257.04deg,#333 0 257.13deg,#777 0 257.19deg,#333 0 257.23deg,#777 0 257.29deg,#aaa 0 257.37deg,#555 0 257.44deg,#444 0 257.55deg,#888 0 257.61deg,#555 0 257.77deg,#999 0 257.83deg,#444 0 257.88deg,#777 0 257.92deg,#777 0 257.98deg,#888 0 258.07deg,#777 0 258.10deg,#666 0 258.13deg,#666 0 258.18deg,#222 0 258.34deg,#666 0 258.41deg,#999 0 258.52deg,#666 0 258.55deg,#777 0 258.61deg,#888 0 258.66deg,#777 0 258.69deg,#777 0 258.75deg,#777 0 258.84deg,#666 0 258.88deg,#aaa 0 258.96deg,#777 0 259.05deg,#999 0 259.08deg,#444 0 259.15deg,#ddd 0 259.24deg,#bbb 0 259.40deg,#555 0 259.46deg,#aaa 0 259.59deg,#bbb 0 259.75deg,#222 0 259.83deg,#777 0 259.92deg,#eee 0 259.99deg,#777 0 260.05deg,#555 0 260.13deg,#999 0 260.17deg,#eee 0 260.28deg,#555 0 260.44deg,#888 0 260.47deg,#666 0 260.58deg,#999 0 260.74deg,#aaa 0 260.87deg,#ccc 0 261.00deg,#555 0 261.06deg,#888 0 261.14deg,#555 0 261.21deg,#ccc 0 261.26deg,#777 0 261.35deg,#ccc 0 261.51deg,#555 0 261.60deg,#aaa 0 261.67deg,#888 0 261.78deg,#888 0 261.87deg,#888 0 261.96deg,#777 0 262.02deg,#777 0 262.08deg,#ddd 0 262.21deg,#444 0 262.37deg,#999 0 262.50deg,#999 0 262.58deg,#777 0 262.64deg,#666 0 262.70deg,#bbb 0 262.83deg,#888 0 262.96deg,#999 0 263.03deg,#555 0 263.09deg,#999 0 263.25deg,#888 0 263.41deg,#888 0 263.49deg,#ccc 0 263.65deg,#999 0 263.69deg,#999 0 263.82deg,#ddd 0 263.91deg,#aaa 0 263.99deg,#888 0 264.10deg,#ccc 0 264.21deg,#bbb 0 264.27deg,#aaa 0 264.36deg,#bbb 0 264.40deg,#bbb 0 264.43deg,#444 0 264.46deg,#888 0 264.54deg,#999 0 264.63deg,#888 0 264.67deg,#aaa 0 264.70deg,#aaa 0 264.79deg,#777 0 264.87deg,#999 0 265.00deg,#999 0 265.03deg,#777 0 265.07deg,#999 0 265.23deg,#aaa 0 265.26deg,#888 0 265.29deg,#888 0 265.40deg,#555 0 265.53deg,#777 0 265.61deg,#888 0 265.77deg,#444 0 265.90deg,#666 0 266.06deg,#888 0 266.15deg,#999 0 266.28deg,#555 0 266.35deg,#444 0 266.51deg,#aaa 0 266.59deg,#777 0 266.63deg,#444 0 266.68deg,#111 0 266.81deg,#aaa 0 266.84deg,#777 0 266.90deg,#555 0 266.97deg,#777 0 267.06deg,#555 0 267.19deg,#222 0 267.27deg,#444 0 267.33deg,#333 0 267.42deg,#333 0 267.45deg,#999 0 267.52deg,#777 0 267.63deg,#666 0 267.68deg,#888 0 267.77deg,#666 0 267.83deg,#999 0 267.87deg,#888 0 267.96deg,#777 0 267.99deg,#000 0 268.05deg,#333 0 268.18deg,#222 0 268.23deg,#333 0 268.27deg,#555 0 268.43deg,#aaa 0 268.56deg,#999 0 268.69deg,#444 0 268.77deg,#999 0 268.90deg,#222 0 269.03deg,#555 0 269.07deg,#444 0 269.10deg,#444 0 269.18deg,#111 0 269.24deg,#777 0 269.33deg,#777 0 269.44deg,#888 0 269.57deg,#aaa 0 269.63deg,#333 0 269.70deg,#222 0 269.75deg,#444 0 269.78deg,#333 0 269.94deg,#111 0 270.10deg,#999 0 270.14deg,#888 0 270.27deg,#000 0 270.36deg,#555 0 270.49deg,#777 0 270.60deg,#777 0 270.63deg,#666 0 270.66deg,#666 0 270.71deg,#111 0 270.75deg,#333 0 270.80deg,#333 0 270.86deg,#bbb 0 271.02deg,#333 0 271.11deg,#333 0 271.14deg,#111 0 271.18deg,#333 0 271.27deg,#555 0 271.30deg,#444 0 271.35deg,#111 0 271.42deg,#222 0 271.51deg,#444 0 271.67deg,#888 0 271.70deg,#222 0 271.79deg,#555 0 271.88deg,#777 0 271.93deg,#666 0 272.04deg,#333 0 272.11deg,#666 0 272.20deg,#222 0 272.29deg,#666 0 272.38deg,#aaa 0 272.46deg,#444 0 272.55deg,#666 0 272.62deg,#777 0 272.68deg,#999 0 272.71deg,#777 0 272.77deg,#444 0 272.88deg,#888 0 272.96deg,#000 0 273.09deg,#555 0 273.13deg,#444 0 273.22deg,#333 0 273.38deg,#666 0 273.51deg,#555 0 273.64deg,#444 0 273.77deg,#333 0 273.86deg,#333 0 273.99deg,#222 0 274.12deg,#333 0 274.20deg,#555 0 274.31deg,#555 0 274.47deg,#555 0 274.51deg,#777 0 274.57deg,#000 0 274.66deg,#222 0 274.82deg,#555 0 274.93deg,#777 0 274.99deg,#111 0 275.05deg,#666 0 275.10deg,#777 0 275.17deg,#444 0 275.33deg,#666 0 275.39deg,#444 0 275.45deg,#333 0 275.56deg,#444 0 275.65deg,#777 0 275.78deg,#666 0 275.81deg,#444 0 275.97deg,#111 0 276.00deg,#666 0 276.03deg,#666 0 276.08deg,#444 0 276.17deg,#666 0 276.24deg,#555 0 276.37deg,#555 0 276.42deg,#777 0 276.45deg,#444 0 276.56deg,#444 0 276.60deg,#222 0 276.63deg,#222 0 276.79deg,#555 0 276.85deg,#333 0 277.01deg,#444 0 277.10deg,#666 0 277.15deg,#000 0 277.26deg,#111 0 277.35deg,#888 0 277.46deg,#555 0 277.50deg,#222 0 277.53deg,#888 0 277.62deg,#999 0 277.71deg,#333 0 277.87deg,#000 0 278.03deg,#555 0 278.14deg,#444 0 278.19deg,#333 0 278.23deg,#444 0 278.31deg,#000 0 278.37deg,#666 0 278.44deg,#777 0 278.55deg,#ddd 0 278.63deg,#111 0 278.79deg,#555 0 278.95deg,#111 0 279.01deg,#555 0 279.04deg,#555 0 279.20deg,#777 0 279.23deg,#555 0 279.36deg,#000 0 279.40deg,#777 0 279.43deg,#444 0 279.56deg,#666 0 279.72deg,#111 0 279.85deg,#666 0 279.88deg,#999 0 279.99deg,#555 0 280.12deg,#555 0 280.20deg,#ccc 0 280.23deg,#777 0 280.27deg,#000 0 280.43deg,#999 0 280.59deg,#333 0 280.72deg,#666 0 280.83deg,#444 0 280.92deg,#333 0 281.05deg,#333 0 281.18deg,#111 0 281.23deg,#444 0 281.27deg,#444 0 281.43deg,#000 0 281.46deg,#444 0 281.51deg,#222 0 281.60deg,#333 0 281.63deg,#444 0 281.72deg,#888 0 281.75deg,#111 0 281.82deg,#444 0 281.93deg,#555 0 282.02deg,#555 0 282.05deg,#999 0 282.18deg,#222 0 282.21deg,#999 0 282.27deg,#555 0 282.43deg,#ddd 0 282.46deg,#777 0 282.55deg,#777 0 282.66deg,#777 0 282.69deg,#444 0 282.75deg,#666 0 282.84deg,#999 0 282.92deg,#555 0 283.03deg,#555 0 283.07deg,#000 0 283.15deg,#777 0 283.26deg,#555 0 283.32deg,#333 0 283.41deg,#666 0 283.52deg,#444 0 283.68deg,#555 0 283.71deg,#333 0 283.74deg,#666 0 283.87deg,#000 0 283.91deg,#333 0 284.02deg,#555 0 284.08deg,#333 0 284.17deg,#333 0 284.22deg,#222 0 284.38deg,#333 0 284.42deg,#444 0 284.50deg,#222 0 284.59deg,#444 0 284.66deg,#333 0 284.75deg,#555 0 284.80deg,#222 0 284.96deg,#555 0 285.07deg,#333 0 285.13deg,#222 0 285.24deg,#111 0 285.30deg,#333 0 285.46deg,#555 0 285.52deg,#111 0 285.58deg,#111 0 285.64deg,#333 0 285.71deg,#333 0 285.76deg,#444 0 285.83deg,#000 0 285.92deg,#555 0 286.03deg,#444 0 286.19deg,#222 0 286.25deg,#333 0 286.38deg,#333 0 286.44deg,#444 0 286.47deg,#555 0 286.52deg,#111 0 286.58deg,#222 0 286.65deg,#333 0 286.78deg,#555 0 286.94deg,#555 0 287.02deg,#000 0 287.09deg,#111 0 287.20deg,#000 0 287.36deg,#222 0 287.42deg,#555 0 287.55deg,#444 0 287.64deg,#333 0 287.69deg,#555 0 287.78deg,#555 0 287.85deg,#000 0 288.01deg,#000 0 288.10deg,#777 0 288.15deg,#555 0 288.31deg,#444 0 288.44deg,#000 0 288.53deg,#333 0 288.60deg,#111 0 288.66deg,#222 0 288.69deg,#666 0 288.85deg,#000 0 288.96deg,#000 0 289.09deg,#000 0 289.14deg,#111 0 289.27deg,#000 0 289.33deg,#000 0 289.42deg,#777 0 289.51deg,#000 0 289.67deg,#000 0 289.73deg,#000 0 289.80deg,#fff 0 291.40deg,#000 0 291.53deg,#222 0 291.56deg,#666 0 291.72deg,#777 0 291.83deg,#000 0 291.96deg,#000 0 291.99deg,#444 0 292.06deg,#999 0 292.11deg,#777 0 292.19deg,#111 0 292.27deg,#555 0 292.44deg,#222 0 292.56deg,#444 0 292.61deg,#000 0 292.70deg,#333 0 292.86deg,#222 0 292.99deg,#111 0 293.05deg,#888 0 293.12deg,#444 0 293.25deg,#666 0 293.37deg,#999 0 293.53deg,#aaa 0 293.69deg,#999 0 293.76deg,#888 0 293.79deg,#888 0 293.88deg,#aaa 0 293.93deg,#888 0 294.01deg,#ccc 0 294.18deg,#888 0 294.22deg,#999 0 294.25deg,#888 0 294.32deg,#555 0 294.37deg,#eee 0 294.46deg,#ddd 0 294.57deg,#bbb 0 294.70deg,#aaa 0 294.77deg,#aaa 0 294.88deg,#bbb 0 294.91deg,#888 0 295.00deg,#888 0 295.11deg,#aaa 0 295.17deg,#ccc 0 295.33deg,#eee 0 295.50deg,#aaa 0 295.61deg,#888 0 295.74deg,#ddd 0 295.78deg,#eee 0 295.87deg,#999 0 295.94deg,#999 0 296.06deg,#bbb 0 296.19deg,#eee 0 296.21deg,#555 0 296.24deg,#ccc 0 296.35deg,#777 0 296.44deg,#aaa 0 296.52deg,#bbb 0 296.61deg,#eee 0 296.77deg,#ddd 0 296.88deg,#333 0 297.01deg,#bbb 0 297.05deg,#aaa 0 297.08deg,#888 0 297.21deg,#777 0 297.37deg,#777 0 297.45deg,#ccc 0 297.52deg,#ddd 0 297.68deg,#aaa 0 297.76deg,#aaa 0 297.87deg,#aaa 0 297.96deg,#777 0 298.05deg,#666 0 298.21deg,#999 0 298.28deg,#ddd 0 298.34deg,#ccc 0 298.42deg,#999 0 298.45deg,#888 0 298.49deg,#eee 0 298.57deg,#bbb 0 298.63deg,#ddd 0 298.67deg,#999 0 298.78deg,#888 0 298.83deg,#999 0 298.92deg,#ccc 0 299.01deg,#bbb 0 299.17deg,#888 0 299.28deg,#555 0 299.37deg,#333 0 299.40deg,#888 0 299.47deg,#bbb 0 299.55deg,#999 0 299.68deg,#bbb 0 299.77deg,#eee 0 299.86deg,#999 0 299.95deg,#999 0 300.01deg,#999 0 300.12deg,#999 0 300.23deg,#999 0 300.32deg,#555 0 300.36deg,#666 0 300.45deg,#333 0 300.56deg,#777 0 300.59deg,#444 0 300.70deg,#999 0 300.79deg,#555 0 300.85deg,#777 0 300.91deg,#999 0 300.99deg,#444 0 301.03deg,#bbb 0 301.11deg,#444 0 301.14deg,#666 0 301.21deg,#444 0 301.37deg,#888 0 301.48deg,#444 0 301.51deg,#555 0 301.59deg,#444 0 301.75deg,#888 0 301.82deg,#777 0 301.87deg,#444 0 301.96deg,#888 0 302.02deg,#444 0 302.06deg,#666 0 302.19deg,#555 0 302.25deg,#999 0 302.36deg,#888 0 302.52deg,#777 0 302.65deg,#888 0 302.73deg,#555 0 302.89deg,#777 0 303.05deg,#999 0 303.09deg,#666 0 303.25deg,#111 0 303.30deg,#777 0 303.41deg,#555 0 303.52deg,#555 0 303.63deg,#333 0 303.66deg,#888 0 303.75deg,#555 0 303.91deg,#555 0 304.07deg,#888 0 304.10deg,#555 0 304.17deg,#666 0 304.28deg,#777 0 304.41deg,#aaa 0 304.46deg,#111 0 304.50deg,#555 0 304.53deg,#ccc 0 304.59deg,#666 0 304.75deg,#666 0 304.84deg,#666 0 304.93deg,#555 0 304.96deg,#999 0 305.04deg,#666 0 305.11deg,#666 0 305.20deg,#333 0 305.26deg,#666 0 305.29deg,#555 0 305.42deg,#666 0 305.47deg,#aaa 0 305.63deg,#444 0 305.66deg,#444 0 305.79deg,#222 0 305.95deg,#777 0 306.01deg,#777 0 306.07deg,#444 0 306.20deg,#666 0 306.24deg,#666 0 306.40deg,#333 0 306.45deg,#666 0 306.51deg,#444 0 306.54deg,#333 0 306.58deg,#666 0 306.63deg,#333 0 306.66deg,#444 0 306.82deg,#666 0 306.98deg,#000 0 307.05deg,#222 0 307.18deg,#777 0 307.26deg,#000 0 307.32deg,#222 0 307.48deg,#666 0 307.54deg,#444 0 307.61deg,#444 0 307.72deg,#333 0 307.80deg,#666 0 307.96deg,#666 0 308.07deg,#666 0 308.13deg,#111 0 308.22deg,#000 0 308.25deg,#333 0 308.28deg,#111 0 308.34deg,#666 0 308.38deg,#333 0 308.51deg,#666 0 308.64deg,#111 0 308.70deg,#444 0 308.75deg,#777 0 308.91deg,#444 0 309.04deg,#111 0 309.20deg,#666 0 309.31deg,#555 0 309.34deg,#666 0 309.37deg,#888 0 309.46deg,#333 0 309.49deg,#777 0 309.56deg,#555 0 309.65deg,#666 0 309.81deg,#888 0 309.87deg,#bbb 0 309.98deg,#bbb 0 310.14deg,#bbb 0 310.20deg,#888 0 310.28deg,#888 0 310.32deg,#666 0 310.48deg,#ccc 0 310.54deg,#bbb 0 310.67deg,#999 0 310.80deg,#eee 0 310.85deg,#777 0 310.92deg,#999 0 311.03deg,#444 0 311.08deg,#aaa 0 311.14deg,#ddd 0 311.25deg,#888 0 311.29deg,#999 0 311.40deg,#888 0 311.49deg,#aaa 0 311.62deg,#888 0 311.73deg,#666 0 311.76deg,#999 0 311.84deg,#aaa 0 311.90deg,#666 0 311.96deg,#888 0 312.05deg,#bbb 0 312.14deg,#888 0 312.30deg,#666 0 312.39deg,#888 0 312.55deg,#bbb 0 312.62deg,#888 0 312.78deg,#888 0 312.89deg,#333 0 312.95deg,#999 0 313.08deg,#888 0 313.24deg,#666 0 313.35deg,#000 0 313.38deg,#888 0 313.47deg,#999 0 313.53deg,#555 0 313.61deg,#aaa 0 313.74deg,#444 0 313.80deg,#aaa 0 313.91deg,#555 0 313.98deg,#666 0 314.04deg,#777 0 314.13deg,#333 0 314.16deg,#111 0 314.22deg,#666 0 314.27deg,#555 0 314.31deg,#333 0 314.40deg,#444 0 314.48deg,#777 0 314.57deg,#111 0 314.60deg,#444 0 314.64deg,#555 0 314.73deg,#666 0 314.78deg,#222 0 314.91deg,#555 0 314.98deg,#ccc 0 315.09deg,#ccc 0 315.25deg,#777 0 315.34deg,#111 0 315.39deg,#777 0 315.48deg,#555 0 315.52deg,#000 0 315.63deg,#444 0 315.72deg,#888 0 315.80deg,#777 0 315.83deg,#666 0 315.89deg,#444 0 316.02deg,#666 0 316.08deg,#777 0 316.17deg,#999 0 316.21deg,#777 0 316.27deg,#555 0 316.43deg,#111 0 316.49deg,#333 0 316.65deg,#999 0 316.71deg,#666 0 316.74deg,#555 0 316.85deg,#444 0 316.88deg,#666 0 316.94deg,#666 0 316.99deg,#555 0 317.05deg,#222 0 317.11deg,#444 0 317.20deg,#666 0 317.26deg,#333 0 317.42deg,#555 0 317.55deg,#111 0 317.61deg,#333 0 317.74deg,#555 0 317.85deg,#333 0 317.96deg,#888 0 318.12deg,#000 0 318.16deg,#333 0 318.25deg,#333 0 318.36deg,#555 0 318.47deg,#444 0 318.52deg,#777 0 318.56deg,#aaa 0 318.69deg,#444 0 318.78deg,#666 0 318.87deg,#222 0 318.92deg,#666 0 318.98deg,#000 0 319.14deg,#555 0 319.25deg,#333 0 319.34deg,#777 0 319.45deg,#222 0 319.48deg,#777 0 319.61deg,#444 0 319.72deg,#111 0 319.83deg,#333 0 319.99deg,#999 0 320.08deg,#333 0 320.12deg,#000 0 320.25deg,#aaa 0 320.28deg,#555 0 320.37deg,#111 0 320.43deg,#666 0 320.48deg,#555 0 320.54deg,#333 0 320.60deg,#111 0 320.76deg,#000 0 320.79deg,#444 0 320.86deg,#444 0 320.94deg,#000 0 321.00deg,#777 0 321.06deg,#777 0 321.12deg,#000 0 321.25deg,#444 0 321.41deg,#333 0 321.48deg,#222 0 321.59deg,#777 0 321.75deg,#000 0 321.78deg,#777 0 321.94deg,#000 0 322.00deg,#111 0 322.11deg,#222 0 322.14deg,#000 0 322.30deg,#666 0 322.36deg,#333 0 322.49deg,#333 0 322.60deg,#333 0 322.76deg,#666 0 322.79deg,#111 0 322.84deg,#222 0 322.97deg,#555 0 323.13deg,#000 0 323.17deg,#444 0 323.33deg,#000 0 323.42deg,#222 0 323.58deg,#333 0 323.66deg,#222 0 323.70deg,#222 0 323.81deg,#000 0 323.89deg,#333 0 323.96deg,#555 0 323.99deg,#333 0 324.12deg,#444 0 324.25deg,#777 0 324.34deg,#111 0 324.47deg,#333 0 324.56deg,#000 0 324.62deg,#000 0 324.78deg,#444 0 324.91deg,#888 0 324.94deg,#666 0 325.05deg,#111 0 325.11deg,#000 0 325.14deg,#444 0 325.30deg,#111 0 325.41deg,#111 0 325.46deg,#666 0 325.57deg,#222 0 325.70deg,#222 0 325.81deg,#555 0 325.92deg,#111 0 326.01deg,#666 0 326.07deg,#999 0 326.11deg,#000 0 326.27deg,#111 0 326.35deg,#444 0 326.39deg,#333 0 326.52deg,#444 0 326.61deg,#222 0 326.64deg,#444 0 326.69deg,#222 0 326.80deg,#000 0 326.84deg,#000 0 326.97deg,#666 0 327.06deg,#000 0 327.17deg,#555 0 327.30deg,#333 0 327.33deg,#333 0 327.44deg,#333 0 327.60deg,#000 0 327.65deg,#111 0 327.74deg,#888 0 327.85deg,#666 0 328.01deg,#444 0 328.17deg,#000 0 328.26deg,#777 0 328.37deg,#222 0 328.46deg,#000 0 328.59deg,#000 0 328.66deg,#333 0 328.70deg,#fff 0 330.30deg,#333 0 330.33deg,#555 0 330.39deg,#000 0 330.50deg,#000 0 330.56deg,#777 0 330.65deg,#555 0 330.78deg,#888 0 330.84deg,#444 0 330.90deg,#999 0 330.96deg,#555 0 330.99deg,#444 0 331.10deg,#777 0 331.21deg,#444 0 331.28deg,#000 0 331.36deg,#000 0 331.43deg,#333 0 331.48deg,#333 0 331.55deg,#777 0 331.63deg,#666 0 331.67deg,#000 0 331.78deg,#777 0 331.84deg,#333 0 331.97deg,#444 0 332.10deg,#555 0 332.26deg,#555 0 332.31deg,#111 0 332.47deg,#333 0 332.52deg,#333 0 332.59deg,#222 0 332.65deg,#111 0 332.70deg,#111 0 332.86deg,#333 0 333.02deg,#555 0 333.15deg,#555 0 333.31deg,#777 0 333.35deg,#333 0 333.41deg,#666 0 333.49deg,#000 0 333.56deg,#666 0 333.69deg,#111 0 333.85deg,#666 0 333.91deg,#555 0 333.99deg,#999 0 334.10deg,#666 0 334.14deg,#555 0 334.20deg,#000 0 334.36deg,#000 0 334.52deg,#222 0 334.55deg,#777 0 334.68deg,#888 0 334.76deg,#555 0 334.82deg,#555 0 334.89deg,#222 0 335.00deg,#333 0 335.08deg,#888 0 335.17deg,#555 0 335.24deg,#555 0 335.32deg,#555 0 335.43deg,#000 0 335.46deg,#555 0 335.49deg,#555 0 335.53deg,#555 0 335.56deg,#222 0 335.69deg,#222 0 335.85deg,#999 0 335.88deg,#666 0 336.04deg,#666 0 336.20deg,#111 0 336.31deg,#333 0 336.47deg,#444 0 336.50deg,#bbb 0 336.53deg,#666 0 336.58deg,#444 0 336.74deg,#000 0 336.77deg,#555 0 336.93deg,#666 0 336.97deg,#444 0 337.00deg,#aaa 0 337.13deg,#888 0 337.21deg,#777 0 337.34deg,#555 0 337.45deg,#555 0 337.48deg,#333 0 337.54deg,#aaa 0 337.57deg,#888 0 337.64deg,#555 0 337.70deg,#888 0 337.73deg,#555 0 337.84deg,#666 0 338.00deg,#555 0 338.08deg,#333 0 338.15deg,#888 0 338.26deg,#666 0 338.42deg,#444 0 338.50deg,#bbb 0 338.63deg,#333 0 338.70deg,#888 0 338.75deg,#888 0 338.79deg,#888 0 338.84deg,#aaa 0 339.00deg,#888 0 339.03deg,#888 0 339.10deg,#777 0 339.18deg,#555 0 339.31deg,#888 0 339.37deg,#222 0 339.48deg,#222 0 339.54deg,#666 0 339.70deg,#aaa 0 339.73deg,#777 0 339.82deg,#999 0 339.91deg,#444 0 340.02deg,#333 0 340.08deg,#888 0 340.12deg,#888 0 340.18deg,#888 0 340.21deg,#888 0 340.30deg,#666 0 340.41deg,#888 0 340.44deg,#555 0 340.53deg,#222 0 340.59deg,#777 0 340.72deg,#aaa 0 340.78deg,#555 0 340.81deg,#777 0 340.97deg,#777 0 341.00deg,#777 0 341.16deg,#555 0 341.32deg,#444 0 341.48deg,#aaa 0 341.54deg,#aaa 0 341.59deg,#666 0 341.62deg,#bbb 0 341.69deg,#444 0 341.82deg,#777 0 341.89deg,#ccc 0 341.98deg,#aaa 0 342.04deg,#777 0 342.20deg,#aaa 0 342.33deg,#aaa 0 342.42deg,#888 0 342.47deg,#999 0 342.60deg,#bbb 0 342.64deg,#999 0 342.77deg,#777 0 342.83deg,#bbb 0 342.92deg,#ccc 0 342.98deg,#222 0 343.06deg,#999 0 343.13deg,#aaa 0 343.21deg,#ccc 0 343.37deg,#999 0 343.48deg,#777 0 343.52deg,#eee 0 343.60deg,#ccc 0 343.63deg,#888 0 343.66deg,#777 0 343.70deg,#aaa 0 343.75deg,#888 0 343.88deg,#777 0 343.99deg,#ddd 0 344.12deg,#bbb 0 344.18deg,#777 0 344.21deg,#bbb 0 344.30deg,#999 0 344.43deg,#ddd 0 344.59deg,#aaa 0 344.75deg,#bbb 0 344.82deg,#aaa 0 344.95deg,#aaa 0 345.08deg,#777 0 345.21deg,#999 0 345.30deg,#555 0 345.33deg,#777 0 345.49deg,#aaa 0 345.65deg,#888 0 345.71deg,#aaa 0 345.76deg,#999 0 345.92deg,#aaa 0 345.98deg,#888 0 346.14deg,#bbb 0 346.23deg,#999 0 346.34deg,#aaa 0 346.37deg,#ccc 0 346.41deg,#999 0 346.52deg,#888 0 346.63deg,#ccc 0 346.66deg,#bbb 0 346.72deg,#bbb 0 346.83deg,#777 0 346.91deg,#bbb 0 347.07deg,#777 0 347.10deg,#666 0 347.17deg,#888 0 347.28deg,#555 0 347.34deg,#bbb 0 347.39deg,#888 0 347.52deg,#888 0 347.68deg,#eee 0 347.79deg,#888 0 347.87deg,#eee 0 347.94deg,#888 0 348.10deg,#ccc 0 348.15deg,#444 0 348.22deg,#aaa 0 348.35deg,#999 0 348.44deg,#777 0 348.49deg,#777 0 348.60deg,#999 0 348.64deg,#555 0 348.80deg,#ccc 0 348.96deg,#aaa 0 349.02deg,#999 0 349.10deg,#999 0 349.26deg,#777 0 349.42deg,#777 0 349.51deg,#999 0 349.60deg,#555 0 349.67deg,#888 0 349.72deg,#888 0 349.81deg,#888 0 349.87deg,#666 0 349.94deg,#555 0 350.10deg,#777 0 350.16deg,#888 0 350.27deg,#777 0 350.36deg,#eee 0 350.39deg,#999 0 350.50deg,#888 0 350.63deg,#666 0 350.72deg,#888 0 350.77deg,#888 0 350.83deg,#eee 0 350.90deg,#999 0 351.06deg,#999 0 351.17deg,#888 0 351.30deg,#666 0 351.39deg,#bbb 0 351.52deg,#777 0 351.57deg,#777 0 351.61deg,#444 0 351.67deg,#777 0 351.75deg,#666 0 351.82deg,#555 0 351.85deg,#aaa 0 351.98deg,#aaa 0 352.09deg,#999 0 352.15deg,#222 0 352.20deg,#777 0 352.31deg,#999 0 352.35deg,#333 0 352.40deg,#777 0 352.53deg,#777 0 352.62deg,#ccc 0 352.65deg,#555 0 352.69deg,#888 0 352.85deg,#666 0 353.01deg,#777 0 353.06deg,#aaa 0 353.09deg,#222 0 353.15deg,#222 0 353.18deg,#777 0 353.21deg,#777 0 353.30deg,#777 0 353.37deg,#555 0 353.48deg,#222 0 353.56deg,#444 0 353.58deg,#333 0 353.64deg,#333 0 353.67deg,#777 0 353.72deg,#777 0 353.75deg,#555 0 353.79deg,#333 0 353.92deg,#111 0 354.05deg,#bbb 0 354.13deg,#111 0 354.17deg,#333 0 354.28deg,#333 0 354.41deg,#666 0 354.54deg,#aaa 0 354.60deg,#777 0 354.76deg,#555 0 354.79deg,#555 0 354.88deg,#222 0 354.99deg,#555 0 355.15deg,#555 0 355.20deg,#777 0 355.23deg,#111 0 355.30deg,#888 0 355.38deg,#444 0 355.49deg,#666 0 355.58deg,#555 0 355.69deg,#666 0 355.72deg,#777 0 355.75deg,#222 0 355.86deg,#555 0 356.02deg,#777 0 356.15deg,#555 0 356.26deg,#666 0 356.42deg,#777 0 356.46deg,#777 0 356.49deg,#333 0 356.58deg,#222 0 356.74deg,#222 0 356.87deg,#555 0 356.96deg,#000 0 356.99deg,#666 0 357.15deg,#777 0 357.28deg,#555 0 357.36deg,#222 0 357.40deg,#222 0 357.56deg,#999 0 357.67deg,#222 0 357.72deg,#888 0 357.85deg,#555 0 357.89deg,#777 0 357.92deg,#555 0 357.95deg,#666 0 358.01deg,#555 0 358.06deg,#666 0 358.12deg,#999 0 358.16deg,#000 0 358.25deg,#555 0 358.36deg,#666 0 358.42deg,#777 0 358.53deg,#999 0 358.56deg,#888 0 358.72deg,#222 0 358.77deg,#333 0 358.88deg,#777 0 358.94deg,#222 0 359.01deg,#444 0 359.07deg,#333 0 359.20deg,#333 0 359.31deg,#444 0 359.38deg,#222 0 359.44deg,#444 0 359.52deg,#222 0 359.60deg,#555 0 359.73deg,#444 0 359.82deg,#222 0 359.88deg,#000 0 359.97deg,#444 0 360.00deg)"></div>
<svg width="2313" height="4546" viewBox="0 0 2313 4546">
<circle cx="1189.8" cy="838.0" r="626" fill="#fff"/>
<path d="M1272 244l2 0 1 1 1-2 1 2 1 0 2-1 1 2 1 0 2-1 1 0 1 0 1-1 2 1 1 2 1 0 1 0 2-1 1 1 1 0 1 1 1 1 1 0 2-1 1 0 1 2 2-1 1 1 1 0 1 1 1-1 2 1 1-1 1 1 2 0 1 1 1-1 1 0 2 0 1 1 1-1 1 2 1 1 1 0 2-1 1 0 1 2 1 0 2 1 1-2 1 1 1 2 2-3 1 2 1 2 2-2 1 1 1 0 1 1 1 0 1 0 2 1 1 0 1 0 1 2 2-1 1 0 1 0 1 2 1 0 1 0 2 0 1 0 1 1 1 1 2-1 1 2 1 0 1 0 2-1 1 1 1 1 1-1 1 3 1-1 2 0 1 0 1 1 1 1 1 1 2-1 1 1 1 1 1 1 2-2 1 1 1 1 1 0 1 0 2 0 1 1 1 0 1 2 1-1 1 1 2 0 1 1 1 0 1 0 1 2 1 0 1 0 2 0 1 1 1 1 1 0 2 0 1 1 1 0 1 2 1 0 1 0 1 1 2 0 1 0 1 1 1 0 1 2 1 0 1 1 1 1 2-1 1 0 1 1 1 1 1 1 1 1 1 0 2 0 1 1 1 1 2-2 1 1 0 2 1 1 2-1 1 2 2-1 1 0 0 2 1 0 2 0 1 1 1 2 0 1 2-1 1 1 2-1 1 1 1 1 1 0 1 1 1 2 1 1 1-1 2 0 1 1 1 0 1 1 1 1 1 1 1 1 2-1 1 1 1 1 1 1 1-1 0 3 1 1 2-1 1 1 1 1 1 1 1 1 2-1 1 0 1 1 1 0 1 1 1 1 0 2 2 1 1 0 1 0 1 1 2-1 0 3 2-1 0 2 2 0 0 1 2 0 0 2 2 0 0 1 2 0 1 1 1 0 1 2 2-1 0 2 1 0 1 1 1 1 2 0 1 1 0 1 1 1 1 1 1 0 2 0 1 1 1 0 1 1 1 2 1 1 1 0 1 1 1 0 1 2 1 0 1 0 2 1 1 0 0 1 1 1 1 1 2 0 0 2 1 0 2 1 0 1 2 0 1 1 0 1 1 1 2 0 0 2 1 1 1 1 2-1 0 2 1 1 1 1 1 0 1 1 1 1 1 0 2 0 1 1-1 3 2 0 1 1 1 0 1 0 0 2 2 1 1 0 1 1 0 2 2-1 1 1 1 2 1 0 0 1 2 0 1 2 0 1 1 1 1 1 1 0 2 0 0 2 1 1 2 0 0 1 1 1 1 1 0 1 2 0 0 2L1550.6 448.4A531 531 0 0 0 1262.8 312ZM1609 410l2 0 1 0 0 2 1 1 1 1 2 0 0 2 1 0 1 1 0 2 2 0 0 1 1 1 2 0 0 2 2 0 0 1 1 1 0 2 1 0 1 1 0 2 2 0 2 0 0 2 0 1 1 0 1 1 0 2 2 0 1 1 1 1 0 2 1 1 1 0 0 2 3-1-1 2 2 0 1 1 0 2 2 0 0 2 0 1 2 0 0 2 0 1 2 1 1 0 0 2 2 0 1 1-1 2 2 0 0 2 0 1 2 1 1 0 1 1 0 1 2 0-1 2 1 2 1 0 2 0-1 3 1 1 2 0-1 2 2 0 0 1 1 2 2 0 1 1-1 1 1 1 2 0 1 2-1 2 1 1 1 1 2 0 0 1 1 1 0 1 1 1 1 1 0 1 2 1-1 2 2 0 0 2 2 0 0 2 0 1 1 1 0 1 1 1 0 1 1 1 1 1 2 1-1 1 2 1 0 1 0 2 3 0 0 1-1 2 1 1 2 0-1 2 1 1 1 1 2 0-1 2 2 0 0 2 0 1 1 1 0 2 2 0 1 1-1 2 2 0-1 2 2 1 0 1 2 0 0 2 0 1 2 1 0 1 0 2 0 1 2 0-1 2 1 1 2 1 1 0-1 2 0 2 2 0 1 1 0 1 1 1-1 2 1 1 1 1 1 1 1 1 0 1 1 1 1 1-1 2 1 1 0 1 1 1 0 1 1 1 1 1 1 1 0 2 1 0 1 1-1 2 1 1-2 2 3 0 1 1 1 2 0 1 0 1 2 1-1 2 1 0 1 1 0 2 1 1-1 1 1 2 1 0 2 1-1 2 1 1 0 1 2 1-1 1 1 1 0 2 1 1 1 0-1 2 2 1 0 1 0 2 0 1 1 1 0 1 0 1 2 1 0 1-1 2 3 0-2 2 2 1 0 2 0 1 0 1 0 1 3 1-1 1 1 2 1 0 1 1-1 2 0 1 0 2 1 1 0 1 1 1 1 1 1 1-2 2 2 1-1 1 1 1 2 1-1 2 0 1 2 1 0 1-1 2 2 0-1 2 0 1 2 1 0 1 0 2 0 1 0 1 2 1-1 1 1 1 1 2-1 1 1 1 0 1 1 1 0 2 1 1 0 1 0 1 0 2 2 0 0 2 0 1 1 1-1 2 0 1 0 1 0 2 1 1 1 1 1 1-1 1 0 2 0 1 2 1-2 1 2 1-1 2 0 1 2 1 0 1 0 1-1 2 1 1 1 1 0 1 1 2-1 1 2 1-2 1 2 1 0 2-1 1 1 1 0 2 0 1 0 1 2 1-1 1 1 2 1 1-1 1 0 1-1 2 1 1 1 1 1 1 0 1 1 2-2 1 2 1-2 2 0 1 2 1 0 1-1 2 2 1-2 1 1 1 0 2 1 1 0 1-1 1 0 2 1 1 1 1 0 1 1 1-2 2 2 1-1 1 1 1-2 2 1 1 0 1L1717.8 781.6A531 531 0 0 0 1561.3 458.6ZM1789 791l-1 1 0 1 0 2 0 1 0 1 1 1-1 2 0 1-1 1 4 1-2 2 0 1 0 1 1 1-1 2 0 1 0 1 2 1-2 2 1 1-1 1 2 2 0 1-2 1 1 1-1 2 2 1-1 1 1 1 0 2-2 1 2 1-2 1 2 2 0 1-1 1 1 1-2 2 1 1-1 1 1 1 1 2-1 1 0 1 1 2-2 1 1 1 0 1 0 2 0 1 2 1-2 1 1 2-2 1 0 1 0 1 2 2-2 1 0 1 0 1 0 2 0 1 0 1 0 1 1 2-1 1 0 1-1 1 0 2 1 1 1 1-2 1-1 2 0 1 1 1 0 1 0 2 0 1 1 1-2 1 1 2-1 1 0 1 0 2-1 1 1 1 1 1 0 2-1 1 0 1 1 1-1 2-1 1 0 1 0 1-1 2-1 1 1 1 0 1 1 2-2 1 0 1 0 1 1 2-1 1 0 1-1 1 0 1 0 2 1 1 0 1-1 2 0 1 1 1-3 1 0 1 2 2-2 1 0 1 1 2-1 1-1 1 0 1 0 1 0 2 0 1-2 1 1 1 0 2 0 1 1 1-1 1 0 2-1 1-1 1 0 1 0 1-1 2 0 1 0 1 0 1-1 2 0 1 1 1-2 1 0 1 0 2 1 1-1 1-1 1 1 2-1 1-1 1 1 1-1 1-1 2 0 1 0 1 0 1 0 2-2 1 1 1 0 1 0 2-1 1 1 1-1 1 0 2-1 1 0 1-1 1 0 1-2 1 1 2 0 1-1 1-1 1 1 2-1 1-1 1 1 1 0 2-1 1-1 1 1 1-2 1-1 1 0 1 0 2 0 1-1 1-1 1 1 2 0 1-1 1-2 1 0 1 1 2 0 1-2 1 0 1-1 1 1 1-1 1-1 2 1 1-3 1 0 1 0 1 0 2 1 1-2 1 0 1-1 1 0 1-1 2 0 1-1 1 0 1 1 2-2 1 0 1 0 1-2 1 1 2-2 0 0 1-1 1 1 2-1 1-1 1 0 1 0 2 0 1-2 1-1 1 0 1 1 2-1 1-1 1 0 1-2 1 0 1 0 1-1 1-1 1 0 1-1 1-1 1 0 2-1 0 0 2-1 1 0 1 0 2 0 1-1 1-1 1 0 1-2 1 0 1-1 1 2 2-2 1-1 1 0 1-1 1-1 1-1 1 0 1-1 1-1 1 0 1 0 2 0 1-1 1-1 1-1 1 0 2-2 0 1 2-2 0 1 2-2 1 1 1-1 1 0 2-2 0 0 2-2 0 0 2 0 1-1 1-1 1-1 0 0 2-2 0 0 2 0 1-2 1 1 2-1 0-1 1 1 2-1 1-1 1-1 1-2 0 0 2-1 0-1 1 0 2 1 2-2 0-2 0 1 2-2 1 0 1-1 1 0 1-1 2-2 0 1 2-1 1 0 1-1 1-1 1 0 1-2 0 0 2-1 1-1 1 0 1-1 1-1 1-2 0 0 2-1 0 0 2 0 2-1 0 0 2-2 0 0 2-1 1 0 1-2 0-2 0 0 2-1 1-1 1-1 0 0 2-1 0 1 3-2 0 0 1-2 1-1 1 0 1 0 2-2 0 0 1 0 2-3-1 0 2-1 0-1 1-1 1-1 1 0 1 0 2-1 1-1 1-1 1-1 0-1 1-1 1 0 2-1 0-1 1-1 1 1 2-2 0-2 1 0 1 0 1-1 1-3 0-1 1 0 1 0 2-1 1-1 1 0 1-2 0 0 2-2-1 0 2-1 1-1 1 0 1-2 1 0 1-2 0-1 1-1 1 0 1-2 0-1 1 0 2 0 1-2 1-1 0-1 1 0 1-1 1-2 0-1 1-1 1-1 1 0 1-1 1-1 1-1 0-1 2-1 0-1 1 0 2 0 1-2 1L1549.9 1228.2A531 531 0 0 0 1719.2 796.3ZM1585 1291l-2-1-1 1 0 3-1 0-1 1-1 0-1 1-1 2-2-1-1 1 0 1-1 1-2 0 1 2-2 1-1 0-1 1-2 0-4-3 4 6-1 1-2 1-1-1-1 1-1 1-1 1 0 2-2 0-1 1-1 0-1 1-2 0 1 3-2-1 0 2-2 0-1 1-1 0-1 2-1 0-1 0-1 2-1-1-1 2-1 0-2 1 0 1-1 0-1 2-2 0-1 0 0 1-1 1-1 1-2 1-1 0-1 0 0 3-1 0-2 0 0 2-1 0-1 1-2 0 0 2-2 0-2-1 1 3-3-1 0 2-2-1 0 2-2-1-1 1-1 1-1 0-1 1 0 2-2 0-1 1 0 1-2 0-1 1-1 0-1 2-2-1 0 2-1 1-2 0-1 0-1 1-1 0-1 1 0 2-2 0-1 1-2-1 0 1-2 1 0 1-2-1 0 3-2-1-1 1-1 0-1 2-2-1 0 2-2 0-1 0-1 2 0 1-2 0-1 1-2-2 0 3-1 0-1 1-2-1-1 1-1 0-2 1 0 2-2-1-1 0-1 1-1 1-1 1-1 1-1 1-2-1 0 2-2 0-1-1-1 1-1 0-1 1-2 1 0 2-2-1-1 1 0 1-2 1-1 0-1 1-2-1-1 0-1 1-1 1-1 0-1 1-2-1 0 3-2-1-1 2-1-1-1 1-1 1-2 0-1 0-1 1-1 1-2-1 0 2-2-1-1 2-1-2-1 2-2-1-1 2 0 1-1 1-2 0-2-1-1 0-1 2-1-1-1 2-2-1-1 1 0 1-2-1-1 0-1 2-2 0-1-1-1 3-1 0-1-1-1 2-2-1 0 2-2 0-1-1-1 1-2-1-1 2-1 1-1-2-1 2-2-1-1 1-1 1-1 0-1 1-2-1-1 2-1 0-1 1-1-1-2 1-1 0-1 0-1 1-1 1-1 1-2-1-1-1-2 1 0 1-2 1-1 1-1-1-2 0-1 1-1 0-1 1-1 0-2 0-1-1-1 2-1-1-1 1-2-1-1 0-1 2-1 0-2 0-1 1-1 0-1-1-1 2-2 1-1 0-1-1-1 0-2 1-1 0-1-1-2 1-1 0-1 0-1 1-1 1-2-2-1 1-1 0-1 2-2-1-1 1-1 0-1 2-2-2-1 0-1 0-1 1-1 1-2-2-1 2-1-1-2 0-1 1-1 1-1-2-2 1-1 2-1-2-1 2-2-1-1 0-1-1-1 1-2 0-1 0-1 1-1 0-2 0-1 0-1 1-1-1-2 0-1 0-1 1-1 1-2-1-1 0-1 1-1 0-2 0-1 0-1 1-1-1-2 2-1-2-1 0L1230.5 1367.4A531 531 0 0 0 1538.9 1238.1ZM1219 1437l-1 1-1 0-2 1-1-2-1 0-1 2-2-2-1 0-1 0-2 0-1 1-1-1-1 1-2 0-1 1-1 0-1 0-2-2-1 2-1-1-1 1-2-1-1 1-1 0-1-1-2 0-1 0-1-1-1 2-2 0-1-2-1 1-2 1-1-1-1 0-1 0-2-1-1 1-1 0-1-1-2 1-1-1-1 0-1 2-2-1-1 0-1-1-1 0-2 1-1-1-1 1-1 0-2-1-1-1-1 2-1-1-2 0-1 1-1-3-2 3-1-2-1 1-1-2-2 2-1-2-1 0-1 2-2-1-1 0-1-1-1 0-2 0-1-1-1 0-1 1-2 0-1 0-1-1-1 1-2-1-1 0-1 0-1-1-2 0-1 0-1-1-2 2-1 0-1-2-1 0-1 1-2-1-1-1-1 1-1 0-2-1-1-1-1 1-1 0-2 0-1-1-1-1-1 2-2-1-1-1-1-1-1 1-1-1-2 0-1 0-1 0-2 0-1 0-1 0-1-1-1-1-2 1-1 0-1-3-1 1-1 0-2 0-1 1-1-2-2 1-1 0-1-1-2 1-1-1-1-1-1 0-1-1-1 0-2 1-1-2-1 1-1-1-2 1-1-2-1 1-1-2-1 0-2 0-1 0-1-1-1 1-2-1-1 0-1 0-1-2-2 2-1-2-1-1-1 0-1 1-1-2-1 0-2 1-1-2-2 2-1-1-1-1-1-1-1 0-2 0-1 0-1-1-1-1-1 1-1-1-2 0 0-2-2 0-1 0-2 0-1-1-1 0-1-1-1 0-1-1-1 0-2 1-1-1-1-1-1 0-1-1-2 0-1 1-1-1-1-2-1-1-1 0-2 0-1 1-1-1-1-1-1-1-2 0-1 0-1 0-1-1-1-1-1-1-1-1-2 1-1-1-1-1-2 1-1 0-1-1-1 0-1-2-1 0-2 0-1 0-1-2-1 0-1 0-1-1-2 0 0-2-1 0-2 1-1-1-1-1-2 0 0-1-1-1-2 1-1-2-1 0-1 0-1-2-1 0-2 0-1 0-1-2-1 0-1-1-1 0-2 0 0-2-2 1-1-1 0-2L951.2 1312.4A531 531 0 0 0 1215.7 1368.4ZM905 1367l-1-1-1 0-1-2-1 0-1 0-2-1 0-1-1-1-1-1-2 1 0-2-2 0-2 0 0-1-2 0 0-2-1 0-2 0 0-2-2 0-1 0-1 0-2-1 0-2-1 0-2 0 0-1-2 0-1-1 3-6-5 5 0-2-1-1-1-1-2 1 0-2-2 1-1-1-1-1-1-1-1-1-2 0 0-1-1-2-2 1-1-1-1-1-1 0 0-2-2 0-1 0-1-1-1-1 0-1-2-1-1 0 0-2-2 0-1 0-1-1-1-1 0-2-2 0-1 0-1-1 0-2-2 0-1-1-1 0-1-1-1-1-2 1 0-2-1-1 0-1-1-1-2 0-1-1-1 0 0-2-2 0-1-1-1 0-1-2 0-1-3 1 0-1 0-3-1 0-2 0 0-2-2 1-1-1-1-1 0-2-2 1-1-1-1-1 0-2-2 0-1-1-2 1 0-2 0-2-2 0 0-2-2 0 0-1-1-1-2 0 0-1-1-1 0-2-1 0-2 0-1-1 0-1-2-1 0-2-2 0 0-1-2 0 1-2-3 0 0-1 0-2-2 1-1-2-1-1-1-1 0-1-2 1-1-1-1-2 0-1-1-1-1-1 0-1-2 0-1-1 0-1 0-2-2 0 0-2-2 0-1-1 0-1-2 0-1-1 0-1-1-2-1-1-2 1 0-2-1 0-1-1-1-1 0-2-2 0 1-2-2 0-1-1 0-1-1-2-1 0-1-1-2 0 1-2-1-2-2 0 0-1-2 0 0-1-1-1-1-1-1-1 0-1-1-1-1-1-1-1 0-1 0-2-1-1-2 0 0-2-1 0-2-1 1-2-2 0 0-1-2 0 0-2-1-1-1-1 0-1-2-1-1 0 0-2-1 0 0-2 0-2-2 1 0-2-2 0 1-3-2 0-1-1 0-1-2-1-1 0 0-2 0-1-1-1 0-1-2-1 3-4-3 1-1 0 0-2-3 0-1-1 0-1 0-2-1 0-1-1 0-2-2 0 0-1 0-2-1-1-1-1-1 0-1-1 0-2 0-1-2-1 0-1-2 0 1-2-1-1 0-1-1-2-2 0 0-2 0-1-2 0 0-1 0-2-1-1 0-1-2 0-1-1-1-1 0-2-1-1 1-2-2 0 1-2-1-1-1-1-2 0-1-1 0-1-2-1 1-2 1-2-1-1-1 0-1-1-1-1 0-1-2-1 1-2-2-1 0-1 0-1-2-1 0-1 0-1-1-2 0-1-3 0 1-1 0-2 0-1-2-1 0-1 0-1-1-2-1 0-1-1-1-1 0-2-1 0 1-2-1-1 0-2 0-1-1-1-1-1 0-1-2-1 0-1 0-2L709.3 1064.1A531 531 0 0 0 938.1 1305.5ZM641 1078l-3 0 2-2-2-1 0-1 0-2-2 0 1-2-2-1 1-1-2-1 0-1 1-2-1-1-2-1 1-1-1-1 1-2-1-1-2 0-1-2 0-1 0-1-1-1 0-2-1 0 1-2-1-1 0-2-1-1-1 0 1-2 0-1-1-1-2-1 1-2 0-1-2-1 0-1 0-2-1 0-1-1 1-2-1-1 1-2-1-1-2-1 0-1 1-2-1 0 0-2-1-1-1-1 0-1-1-1 0-1-1-2 2-1-2-1 1-2 0-1-1-1 0-1-1-1 0-2 0-1-2-1 1-1-1-1 0-1 0-2-2-1 1-1-2-1 2-2 0-1-2-1 1-2-2 0 0-2 2-1-1-1-2-1 1-2-1-1 0-1-1-1 0-2 0-1-2-1 1-1-1-1 0-2 1-1-2-1 1-1 0-2 0-1 0-1-2-1 2-2-1-1-1-1-1-1 1-2 0-1 0-1 0-1-2-1 0-1 1-2-1-1 0-1-1-2 2-1-1-1-1-1-1-1 1-2 0-1-2-1 2-2-2-1-1-1 2-1-1-1 1-2-1-1-1-1 2-2-1-1-1-1 1-1-1-2-2-1 2-1 0-1-2-1 2-2-2-1 0-1 1-2 0-1-1-1 0-1-1-1 0-2 0-1 0-1 1-2-2-1 0-1 1-1 0-2 0-1-1-1 2-1-2-1 1-2-2-1 3-1-2-2 1-1-1-1 1-1-1-2 1-1-1-1 1-1-1-2-1-1 1-1-1-1 1-2-1-1 1-1 0-1-1-2 0-1 1-1-1-1 0-2 0-1-1-1 0-1 2-2-2-1 0-1 0-2 0-1 1-1 0-1-1-2 3-1-3-1 1-1-1-2 1-1-1-1 0-1 1-2-1-1 1-1-1-1 0-2 1-1 0-1 0-1-1-2 0-1 1-1 1-1 0-2-1-1-1-1 0-2 2-1-2-1 1-1 1-2-1-1 1-1 0-1-3-2 2-1 2-1-1-1 0-2 0-1 1-1 0-1-2-2 1-1 0-1 0-1 0-2 6-1-6-1 1-1-1-2 1-1-1-1 1-2 0-1 1-1-1-1 1-1-1-2 2-1-1-1 0-2 1-1 1-1 0-1-2-2 0-1 0-1 6-1-5-2 1-1 1-1 0-1-1-2-1-1 1-1 0-1 2-1-1-2 0-1-1-1 1-2 2-1-1-1 1-1-1-2 0-1 0-1 1-1 0-1 1-2 0-1-1-1 1-1 0-2 0-1 1-1-1-2 2-1 0-1 0-1 1-1 0-1-1-2 0-1 1-1 0-2 1-1-1-1 0-1 0-2 1-1 0-1 1-1 1-1-1-2 2-1 0-1-1-1 2-1-2-2 2-1-1-1 1-1 0-2 2 0 0-2-2-1 1-2 1-1 0-1 2-1-2-2 2 0 0-2 0-1-1-1 3-1-2-2 2 0 0-2 0-1-1-2 2-1-1-1 1-1 0-1 1-2 1-1-1-1 1-1 1-1 1-1 0-2-1-1 1-1 0-2 2 0 0-1-1-2 0-2 2 0 0-1 1-1 1-1-1-2 1-1-1-2 1-1 0-1 2-1-1-1 1-1L690.2 658.1A531 531 0 0 0 703.2 1050.6ZM631 619l1-1-1-2 1-1 0-1 1-1 0-1 2-1 0-1 1-1-1-2 1-1 0-1 1-1 2-1-1-2 0-1 1-1 1-1-1-2 1 0 2-1-1-2 1-1 2 0 0-2-1-1 1-1 0-2 2 0-1-2 1-1 2-1-1-1 2-1-1-2 1-1 1-1 1-1 0-1 1-1-1-2 2 0 0-1 1-1 0-2 2 0-1-2 0-1 1-2 1-1 0-1 1-1 1-1-1-1 4 0-3-3 3 0-1-1 1-1 1-1 1-2 1 0 0-2 0-1 0-1 2-1 1-1-1-2 1-1 0-1 1-1 1-1 0-1 2-1 0-1 1-1 1-1 1-1 0-1 0-1 1-2 1 0 0-2 1 0 0-2 1-1 1-1 1-1 1 0 1-1 0-2 1-1-1-2 1-1 1-1 2 0 0-1 1-1 0-2 0-1 1-1 1-1 1-1 0-1 2-1 1-1-1-1 2-1 0-1 1-1 0-1 2-1 1-1-1-2 1-1 0-1 3 0 0-1-1-2 3 0-1-2 2 0 1-1 1-1 0-1 0-2 0-1 1-1 2-1 1 0 0-2 1-1 1-1 1 0 1-2 1 0 0-2 1 0 1-1 0-2 2 0 0-1 1-2 0-1 2 0 0-1 1-2 0-1 2 0 0-2 2 0-1-2 2 0-1-2 2 0 1-1 2-1 0-1 1-1 0-1 1-2 1 0 0-1 1-1 2 0-1-3 2 0 0-1 2-1 0-1 1-1 2 0-1-3 2 0 0-1 2 0 1 0 1-2 1 0 0-2 1-1 0-1 2 0 1-1 0-2 2 0 0-2 1 0 2-1 0-1 2 0 0-1 0-3 1 0 1-1 2 0 0-2 1 0 2 0 0-2 1-1 1 0 1-1 1-1 0-2 1-1 2 1 0-2 1 0 1-1 1-1 2 0-1-3 1-1 2 0 0-1 2 0 1-1 1 0 0-3 1 0 1 0 1-2 1 0 0-2 2 0 0-2 2 0 1-1 1 0 1-1 1-1 0-2 1 0 2 0 0-2 1-1 1 0 1-2 1 0 1 0 1-2 1 0 1-1 1 0 1-1 1-1 1-2 0-1 2 0 0-1 2 0 0-2 2 0 1-1 1-1 0-1 2 0 2 0 0-1 1-1 1 0 1-2 2 0 0-1 2 0 0-2 0-1 2 0 1-1 1-1 1 0 1-2 2 1 1-1 0-2 2 1 0-3 2 1 0-2 1 0 1-2 1 0 2 0 1 0 1-1 1-1 0-2 2 1 1-1 1-1 1-1 1 0 2 0 0-2 1 0 1-1 1-2 1 0 1 0 2 0 1-1 0-2 2 0 1 0 0-2 2 0 1 0 0-2 2 0L913.9 384.3A531 531 0 0 0 695.4 644.3ZM893 317l1-1 1 0 1-1 4 4-3-6 2 0 1 0 1-1 1-1 1-1 2 0 1 0 1-1 0-2 2 1 1-1 1-1 1-1 1 0 1-1 2 1 1-1 1-2 1 0 1 0 1 0 1-2 2 0 1-1 1 1 1-2 2 1 0-1 2 0 0-2 2 0 1 0 1-2 1 1 1-1 1-1 2 0 1-1 1 0 0-2 2 1 1-2 1 0 1 0 1-1 2 0 1 0 1-1 1-1 1-1 2 1 1-1 1 0 0-2 2 1 1-1 1-1 2 1 1-1 1-2 1 0 2 1 0-1 2 0 1-1 1-1 1-1 1-1 1 0 2 1 0-2 2 2 1-1 1-1 1-1 2 0 1 0 1-1 2 0 1 0 1-1 1 0 1-1 1 0 1-2 2 2 1-1 1-1 1 0 2 0 0-2 2 1 1-2 1 1 1-1 1-1 2 1 1-2 1 0 1-1 2 2 1-1 1-1 1 0 1-1 1-1 2 2 1-2 1 0 1-1 1 0 2 1 1-1 1-1 1 0 2 1 1-1 1-2 1 0 1 0 1-1 2 2 1-1 1-1 1-1 2 0 1 1 1-2 1 0 2 0 1 1 1-2 1 0 2 1 1-1 1 0 1-2 2 2 1 0 1-1 1 0 1-2 2 2 1-2 1 0 1 0 1-1 2-1 1 2 1-2 2 1 1 0 1 0 1-2 2 2 0-2 2 0 1 0 1 0 2 1 1-2 1 0 1 0 1-1 3 5 0-5 1 1 1-2 2 1 1-1 1 1 2 0 1 0 1 0 1-2 1-1 2 1 1-1 1 0 2 3 1-3 1 1 1-2 1 0 2 1 1 1 1-2 2 2 1-2 1 1 1-1 2 1 1 0 1-2 1 0 1 0 2-1 1 0 1 2 1-1 2 1 1-1 1 0 1 0 2 0 1 1 1-1 2 0 1 0 1-1 1 1 1-2 2 0 1 1 1-1 1 0 2 0 1 0 1 2 1-3 2 1 1-1 1 2 2 0 1-2 1 0 1 2 2-1 1-1 1 2 1 4 2-6 1 0 1 0 1 1 2-1 1 0 1 0 1 2 2 0 1-2 1 5 1-5 2 1 1 1 1 0 1-1 2-1 1 0 1 0 1 2 2-1 1 0 1 1 2-1 1 1 1-2 1 2 2-2 1 2 1-2 1 2 2-2 1 2 1 0 1-1 2 1 1 0 1 0 1-1 2 0 1 2 1-2 1 1 2 0 1-1 1 0 1 2 2 0 1 0 1 0 1-1 2 1 1 1 1-1 1 0 2 0 1 1 1-2 1 1 2 1 1 0 1-1 1 2 2-2L1248.1 310.2A531 531 0 0 0 926.7 376.8Z" fill="#ff6746"/>
<path d="M1262 315l2-2 1 1 1 3 1-1 1-1 1 0 1 1 1-1 1 0 1 2 2-1 1 1 1 0 1 1 1-2 1 0 1 0 1 0 1 1 1 2 2-2 1 1 1 1 1-1 1 1 1 0 1 0 1 1 1-1 2 0 1 0 1 1 1 1 1-1 0 5 2-3 1 0 1-1 1 1 1 1 1 0 2-1 0 1 2 0 1 0 0 2 2 0 1 0 1 0 1 0 1 0 1 0 1 0 1 0 1 1 1 1 1 0 2 0 1 0 1 1 1-1 1 2 1-2 1 2 1 0 1 1 1-1 1 0 1 1 1 1 1 0 1 1 1 1 2-2 1 2 1 0 1 1 1-2 1 3 1 0 1 0 1 0 1 1 1-1 1 1 2-1 0 1 2 0 0 2 1 0 1 0 2 0 1 1 1 0 1 1 1 0 1 1 1-1 1 0 1 1 1 1 1 1 1-1 2 0 0 2 1 0 2-1 1 1 0 1 2-1 1 1 0 1 2 0 1 0 1 0 1 1 1 1 0 3 2-2 1 0 1-1 1 1 1 0 1 1 1 0 1 1 1 0 1 0 1 1 1 2 1-1 1 1 1 0 1 2 1 0 1 1 1 0 1 1 1 0 1 0 1 0 1 1 1 0 1 2 1-1 1 0 1 1 1 1 1 1 1-1 1 1 1 1 1 0 1 0 1 1 2-1 0 3 1 0 1 0 1 0 1 2 2-2 0 3 1-1 1 1 1 0 1 1 1 1 1 1 1 0 1 0 1 1 1 0 0 2 1 0 1 1 1 0 2 0 0 1 2-1 1 2 0 1 1 1 0 1 2 0 2-2 0 3 1 0 2-1 1 1 0 2 1 0 1 0 1 0 1 1 2 0 0 1 0 2 2 0 0 1 1 1 3-2 0 1 0 3 1 0 1 0 2 0 0 2 1 1 2-2 0 2 0 1 1 1 2-1 0 2 1 1 1 0 2 0 1 0 0 2 2 0 1 0 0 2 1 1 1 0 1 0 0 2 1 0 1 1 1 0 2 0 1 0 0 2 1 1 1 1 1 0 1 0 1 1 0 1 1 1 1 1 1-1 1 1 2 0-1 3 2 0 0 1 2-1 0 2 2 0 1 0 0 1 1 2 1 0 1 0 1 1 1 0 1 1-1 2 1 1 1 0 3-1 1 1-1 3 2-1 0 2 1 0 1 1 1 0 1 0 0 2 0 2 1 0 2 0 0 2 2-1 1 1-1 2 2 0 1 1 0 1 2 0 0 2 0 0 2 0 1 1 0 1 1 1 1 1 1 0L1502.3 500.5A460 460 0 0 0 1253 382.4ZM1560 460l1 1 0 2 1 0 1 0 1 1 0 2 1 0 0 1 2 0 0 1 1 1 1 1 0 1 2 0 1 0 0 2 0 1 2 0 0 2 1 0 1 1 1 1 0 1 2 0 1 0 0 2 1 1 0 1 2 0-1 2 2-1 0 2 2 0 0 2 1 0 1 0-1 3 1 0 0 1 2 1 0 1 1 1 2-1 0 2 0 1 1 1 1 1 1 0 0 2 1 0 1 1 0 1 0 1 1 1 2 0 0 2 2 0 0 1 1 0 0 2 2 0-1 2 1 0 1 1 0 1 2 1-1 1 3 0 0 1 0 1 1 1-1 2 1 1 1 0 1 1 0 1 3 0-1 2 0 1 2 0 1 1 1 0 0 2 1 0-1 2 1 1 1 0 2 1 0 1 0 1 1 1 0 1 1 1 0 1 0 1 2 0 1 1 0 2 0 1 0 1 2 0-1 2 2 0 1 1 0 1 0 2 1 0 2 1 0 0 0 2 1 1 1 0-1 2 2 0-1 2 2 0 1 1-1 2 1 0 2 1 0 1-5 4 5-2 1 1 3 0-1 2 1 1 0 1 0 1 0 1 2 0-1 2 1 1 1 0 1 1 1 1-1 2 1 0 0 2 2 0-1 1 2 1-1 2 2 0 0 1 1 1-1 2 0 1 1 1 0 1 2 0 1 1 0 1 0 1 0 1 1 1 0 1 2 1 0 1 0 1 2 1-1 1 1 1 1 1 1 1-1 1 0 1 1 1 0 1 1 1 1 1 0 1 2 1-2 1 1 1 0 1 1 1 1 1 1 1 1 1 0 1 0 1 0 1 0 1 0 2 2 0 1 1 0 1 0 1 1 1 0 1 0 1 0 1 0 2 0 1 1 1 1 1 0 1 1 0 1 1-1 2 0 1 1 1 1 1 0 1 2 0-1 2 0 1 1 1 0 1 0 1 2 0-1 2 1 1 1 1-1 1 2 1 0 1-1 1 1 1 0 2 2 0 0 1-2 2 2 0 0 2 0 1 0 1 2 0-1 2 0 1 1 1 0 1 0 1 0 2 2 0-1 1 0 2 1 1 2 0-1 1 1 1-1 2 1 1 0 1 2 0-1 2 1 1-1 1 2 1 0 1 0 1 0 1 0 1 2 1-1 1 1 1 1 1-1 2-1 1 2 0 0 2 0 1 1 1-2 1 1 1 0 1 1 1 0 1 0 2 1 0 0 2 0 1 0 1 1 1 1 1-1 1 1 1 0 1 0 1-1 1 3 1-1 1-1 2 2 0-2 2 2 1-1 1 2 1-1 1 1 1 0 1 1 1-2 2 2 0-1 2 1 1-1 1 0 1 0 1 2 1 0 1-1 1 0 1 2 1 0 1-1 2 1 1 1 1-2 1 2 1-1 1 1 1 0 1-1 1 2 1-2 2 1 1 0 1 1 1-1 1 2 1-1 1 0 1 1 1 0 1 1 1-2 2 0 1L1647.2 789.1A460 460 0 0 0 1511.6 509.3ZM1718 796l-1 2 1 1-1 1 1 1 0 1 1 1-1 1-1 1 2 1-1 2 0 1-1 1 2 1-5 1 3 1 2 1 0 1 1 1-2 2 0 1 0 1 0 1 1 1 0 1-2 1 1 1 0 1 1 2-2 1 1 1 1 1 0 1-1 1 1 1-1 1 2 1 0 2-1 1 0 1-2 1 1 1 0 1 2 1-2 1 2 1 0 2-2 1 0 1 1 1 0 1 0 1-1 1 0 1-1 1 0 1 1 2-1 1 2 1-1 1-1 1 2 1-1 1 1 1-2 1 2 2 0 1-1 1 1 1-1 1 0 1 0 1-2 1 2 1 0 2-2 1 2 1-2 1 2 1-2 1 2 1-2 1 1 1 0 2 0 1-1 1-1 1 0 1 0 1 1 1 0 1 0 1-1 1-1 1 2 2-1 1-1 1-1 1 0 1 1 1 0 1-1 1 0 1 1 2 0 1-2 1 2 1 0 1-1 1 1 1-1 1 0 1-2 1 1 2 0 1 1 1-3 1 2 1-1 1-1 1 0 1 1 1-1 1 0 1-1 1 1 2 1 1-5 0 3 2 0 1 1 1-1 1 0 1 0 1-2 1 1 2-2 0 1 2 0 1 0 1-1 1 1 1-1 1-1 1 2 1-1 1-1 1-1 1-1 1 1 2-1 0 2 2-2 1 0 1-1 1 1 1 0 1-2 1 2 2-1 1-2 0 2 2-1 1-1 0 1 2-1 1-1 1-1 1 1 1 0 1 0 1 0 1-2 1 0 1-3 0 3 3 0 1-1 1 0 1-1 1 0 1-3 0 3 2-1 1 0 1 1 1-3 1 1 1 0 1 0 2-2 0 0 1 0 2 0 1-1 0 0 2-1 1 0 0-1 2 1 1-1 1-1 0 1 2-1 1 0 1 0 1-1 1 0 1 0 1-2 1 1 1-1 1 1 2-2 0 0 2-1 0-1 1 1 2 0 1-2 0-1 1 2 2-2 1 0 0-2 1 2 2-1 1 0 1-1 1 0 1 0 1-1 1-2 0 1 2 0 1-1 1-1 1 0 1-1 1-1 1 2 2-3-1 1 2-1 1-1 1 1 1 0 1-3 1-3-1 4 3-1 1 0 2-1 0-1 1 0 1-2 1 0 1 2 2-3 0 0 1-1 1 2 1-3 1 1 1-2 0 1 2-2 0 1 2-2 0 2 3-2 0-1 1 1 1-1 1 0 1-3 0 1 2 0 1-2 0 0 1 0 2-1 0-1 1 0 2-1 0-1 1 0 1 0 2-2 0 1 1-1 1-1 1 0 1-1 1 1 1-2 1-1 1 1 1-1 1-2 0 0 1 0 2 0 1-1 0-1 2-2 0 1 1-2 1 0 1 0 1 0 2-1 0 0 1 0 2-3-1 1 2 0 1-1 1-1 1-2 0 1 2 0 1-1 1-3-1 1 2-1 1-1 0 1 2-2 1-1 0 0 2-1 0 1 2-2 0 0 1-1 1-1 1 0 1-1 1-1 1-1 0 0 1-1 1 0 2-4-2 2 3 1 2-2 0-1 0-1 1 0 2-1 0-1 1-1 0 0 2 0 1-1 1 0 1-3 0 1 1-1 1 0 1-1 1-1 1 0 1-1 1-1 0 0 1-1 1-1 1-1 1-1 0-1 1 0 1 0 1-2 0 1 3-3-1 0 1 0 2-2 0 0 1-1 0-1 1-1 1 0 1 0 1-2 0 0 2 0 1-1 1-1 0-1 1-1 1-1 1 0 1 0 1-2 0-1 0 1 3-2 0-1 1 0 1-2 0 0 1-1 1 0 1-2-1-1 1 0 2 0 1-2 0-1 0 0 2-2 0 0 1-1 1 0 2-2-1-1 1 1 2-1 0-2 0 1 2-2 0 0 1-2 0-1 1 0 2 0 1-1 0-1 1L1501.8 1176.1A460 460 0 0 0 1648.4 801.9ZM1538 1237l-1 1-1 0 0 2-2 0-1-1 0 2-2 0 0 2-1 1-1 0-2-1 1 3-2-1 0 2-1 0-1 1 0 1-2 0 0 1-1 2-1 0-1 1-2-1 0 2-1 0 0 1-2 0-1 1 0 2-1 0-1 1-1 0 0 1-2 0-1 1 0 1-1 1-2 0 0 0-1 1-1 1-1 1-1 0-1 0-1 1 0 2-1 0-2 0-1 0-1 1 0 1-1 1 0 2-1 0-1 1-2-1-1 0 0 2-2 0 0 1-2 0 0 2 0 1-3-1 0 1-2 0 0 0 0 3-2-1-1 1-1 0 0 2-2 0-1 0 0 1-2 0 0 1-1 1-1 1-2-1 0 2-1 0 0 2-1 0-2-1-1 1-1 1-1 0-1 1-1 0 0 2-2-1-1 1 0 2-2-1 0 2-1-1-4-3 2 4-1 2-2-1-1 0 0 2-1 0-2 0-1 1 0 2-1-1-1 1-1 0-2 0 0 2-1 0-1 1-1 1-1-1-1 1-1 1-1 0-1 0-1 0-1 2-1 0-1 1-1-1-1 2-1 0-1 0-1 1-1 0-1 0-1 2-1 0-1 0-1 2-1-1-1 1-1 1-1-1-1 0-1 2-1-1-1 1-1 1-1 1-1-1-1 2-1-1-1 2-1-1-2 0 0 2-1 0-1 1-2-1 0 1-2-1 0 2-1 1-1 0-1 0-1 1-1 1-2-2-1 2 0 1-1 0-2-1 0 2-2 0-2-2 0 3-1-1-1 2-1 0-1 0-1 0-1 1-1 0-1 1-1 1-1 0-1 0-1 0-2-1 0 2-2-1 0 3-2-2-1 0-1 1 0 2-2 0-1-1-1 1-1 0-1 1-1 0-2-1 0 2-2-1 0 1-2-1-1 2 0 1-2 0-1-1-1 0-1 2-1 0-1 0-1 1-1 0-1 1-1 0-2-2-1 2 0 1-1 0-2 0-1 1-1 0-1 0-1 1-1-2-1 1-1 1-1 0-2-1-1 0-1 1-1 1-1 0-2-3 0 2-1 3-1 0-1-1-1 0-1 1-1 0-1 0-2-1-1 1-1 2-1-1-1 1-1 0-1 0-1 1-1-2-1 1-2 0 0 2-2-1-1 0-1-1-1 2-1 0-1 1-1-1-2-1 0 1-1 0-2 0 0 2-2 0-1 0-1 0-1 1-1 0-1 0-1-1-1 1-2-1-1 0-1 1-1 1-1 0-1-1-1 1-1-1-1 0-1 2-2-1-1 1-1-1-1-1-1 1-1-1-1 1-1 2-1 1-2-2-1 0-1 0-1 0-1 1-1-1-1 0-1 1-1 0-1 0-1 1-2-2L1225.1 1296.6A460 460 0 0 0 1492.2 1184.6ZM1216 1366l-1 0-2 1-1 1-1-1-1-2-1 1-1 0-1 0-1 1-1 0-2-1-1 2-1 0-1-1-1 1-1-2-1 0-1 1-1-1-2 0-1 0-1 1-1-1-1 0-1 1-1 1-1-1-1 0-2-1-1 2-1-2-1 1-1-1-1-1-1 2-1-1-1 0-2-1-1 2-1-1-1 0-1 0-1 1-1 0-1-1-1-1-2 1-1 1-1-2-1 0-1 2-1-1-1 0-1-1-2 2-1-1-1 0-1-1-1 1-1 0-1 1-1-3-1 1-1-1-1 0-2 1-1 0-1 0-1-1-1-1-1 0-1 1-1-1-1 1-2-1-1 2-1-2-1 1-1 0-1-1-1-1-1 0-1 1-1-1-1-1-2 2-1-2-1 1-1 0-1-1-1 1-1-1-1 0-2 1-1-2-1 1-1-1 0-3-2 4-1-1-1-1-1 1-1-1-2 1 0-2-2 0-1 1-1 0-1 0-1-1-1 0-1 0-1-3-1 0-1 1-2 0-1 1-1 0-1-2-1 2-1-2-1 1-1-2-2 2 0-1-2 1 0-2-2 0-1 2-1-2-1 0-1 0-1 0-1-1-1 0-1-1-2 1 0-3-2 1-1 1-1-1-1-2-1 2-1-2-1 1-1-1-1 0-1 0-1-2-2 2 0-2-1 0-2 1-1-1-1 0-1-1-1 0-1-1-1 1-1 0-1-2-1 1-1-2-1 0-1 0-2 0-1 0-1 0-1 0-1-2-1 0-1-1-1 1-1 0-1-2-1 2-1-1-2 0 0-2-1 0-2 1 0-1-1-1-1 0-1-1-1-1-1 0-1-1-2 1-1 0-1 0-1-1-1 0-1 0-1 0-1-1-1-1-1 0-1-1-1-1-1 0-1 0-1-2-1 1-2 1 0-2-2 1 0-2-2 1-1 0-1-1-1-1-1 0-1-1-1 0-1 0 0-2-1 0-2 0 0-1-2 1-1-1-1-1-1-1-1 0-1-1 0-1-2 0-1 0-1 1-1-2-1 1 0-2-2 0-1-1-1 0-1 0 0-2-2 1 0-2-2 0-1-1-1 1-1 0-1-2L983.1 1249A460 460 0 0 0 1212.3 1297.5ZM939 1303l-1 1-1-2-2 1 0-1-1-1-1 0 0-2-2 0-1 1 0-2-1-1-2 0 0 0-1-2-2 1 0-1-2 0 0-1-1-1-1-1-1-1-1 0-1 0-1 0 0-2-2 0-1 0-1 0 0-3-1 0-2 1-1-1 0-1-1 0-1-1-1-1-1-1-2 1 0-2-2 1 0-2 0-1-1-1-2 1 0-2-2 1-1-1-1 0 0-3-2 1-1 0 0-1-1 0-1-1 0-2-2 0 0-1-2 1-1-1-1-1-1 0 0-3 0 0-2 0-1 0-1-1-1-1-1-1 0-1-2 1 0-2-1 0-1-1 0-1-2 0 3-6-5 5 0-2-1 0-1-1-1 0 0-2-1 0-2 0 0-1-1-2-1 0-1-1 0-1-2 0 0-1-2 0-1 0-1-1 0-1 0-2-2 0-1 0-1-1 0-1-1 0-1-1 0-2-1 0-1-1-1 0-1-1 0-1-2 0-1 0 0-2-2 0-1-1 0-1-1 0 0-2-1-1-1-1-1 0 0-1-2 0-1-1-1 0 0-2-1 0-2 0 0-1 0-2-2 0-1 0 1-3-2 1 1-2-2 0 0-1-1-1-2 0 1-2-2 0-1-1 0-1-2 0-1 0-1-1 1-2-2 0 0-2-2 1 1-3-2 1-1-1 1-2-2 0-1-1-1 0 0-2-1 0 0-2-1 0-2 0 0-1 0-2 0-1-1-1-2 0 0-1-1-1 0-1-1-1-2 0 0-1-1-1 0-1-2 0 0-1 0-2-2 1 1-2-2-1 0-1-2 0 0-2-1 0-1-1 0-1-1-1 0-1-3 1 1-2 0-2-2 0 0-1-1-1 0-1-1 0 0-2-1-1-2 0 0-1 0-1 0-1-2-1 0-1-2 0 1-2-2 0-1 0-1-1 0-1-1-1-1-1 0-1-1-1 0-1-2 0 0-1 0-2 0-1-1-1-2 0 0-1 0-2 0-1-2 0 1-2-1-1-2 1 0-2-1-1 0-1-1 0 0-1 0-2-1-1-1 0-1-1-1-1 0-1 0-1-2-1 0 0-1-1-1-1 1-2-2 0 0-2-1 0 0-1 0-2-1 0-1-1 0-1 0-2-1 0-1-1 0-2-2 1 1-2-2 0 0-2 0-1 0-1-2 0-1-1 1-2-1-1 0-1 0-1-2 0-1-1 0-1-1-1 1-2-2 0 1-2-2 0 0-1 0-1 0-2-3 0 1-1 0-1-2-1 1-2-1 0-1-1 0-1-1-1 0-1-2-1 1-1 0-1-2-1-1 0 2-2-2-1 1-1-2-1-1 0 0-2-1-1 1-1-2 0 1-2L773.6 1033.9A460 460 0 0 0 971.7 1243ZM706 1049l-2 0 0-1-1-1-1-1 0-1 0-1-1-1 0-1 1-2-1-1-1 0-1-1 3-2-3-1 0-1 0-1-2 0 0-1 1-2-1-1-1-1 1-1-2-1 1-1-2-1 1-1-2-1-1 0 1-2-1-1 1-1-1-1 1-2-2 0 1-2-1-1 0-1-2 0 0-1-1-1 0-2 0 0 1-2 1-2-2 0-1-1-1-1 0-1 1-1-1-1 0-1 0-2-1-1-1 0-1-1 1-2-1-1 0-1 0-1-2-1 2-1-2-1 1-1-1-1-1-1 0-1-1-1 1-1-1-1 1-2-2 0 0-1 0-2 4-2-5 0 0-1 1-1-1-1-1-1 1-1 0-2 0-1-1 0-1-1 1-2-2 0 0-2 1-1 0-1 0-1-2-1 1-1-1-1 0-1 0-2 1-1-2-1 1-1-1-1-1-1 2-1-3-1 1-1 0-1 0-1 0-2-2 0 2-2-1-1 1-1-1-1-1-1-1-1 0-1 2-1-1-1 0-2-1-1 0-1 0-1-1-1 1-1 0-1-3-1 2-1 0-1 0-2-1 0 0-1-1-2 1-1 0-1 1-1-2-1 0-1 1-1-2-1 2-2-1-1 0-1 1-1-2-1 0-1-1-1 1-1-1-1 0-1 0-1 1-2-1-1-1-1 2-1-1-1-1-1 1-1 0-1 0-1 0-2-1-1 0-1 1-1-1-1 1-1-1-1-1-1 2-1-2-1 0-2 1-1 1-1-1-1 0-1-1-1 0-1 1-1-1-1 1-2-1-1 1-1-2-1 2-1-2-1 1-1 0-1 1-1 0-2-1-1 0-1-1-1 6-1-6-1 2-1-2-1 0-1 1-2 0-1 1-1-2-1 2-1 0-1-1-1-1-1 1-1 0-2-1-1 2-1-2-1 2-1-1-1 1-1 0-1 0-1-1-2-1-1 2-1 0-1-1-1 2-1-1-1 0-1 1-1-2-2 0-1 1-1 0-1 0-1 0-1 0-1 4-1-2-1-3-2 2-1-1-1 1-1-1-1 0-1 2-1-2-1 1-1-1-1 1-2 1-1-1-1-1-1 3-1-1-1 0-1 1-1-1-1-1-2 2 0-1-2 1-1 0-1 1-1 0-1 0-1 0-1 0-1-1-2 0-1 2-1-2-1 2-1-1-1 0-1 0-1 2-1-1-1 2-1-1-1 1-1-2-2 1-1-1-1 1-1 1-1-1-1 1-1 1-1-1-1 0-2 1-1 1-1-2-1 1-1 2-1-1-1 0-1-1-1 2-1 0-1 1-1-1-2 0-1 0-1 1-1-1-1 2-1 1-1 0-1-2-1 0-2 2 0 0-2-1-1 2 0-1-2 0-1 2-1-1-1 0-1-1-2 2 0 0-1 0-2 1-1 0 0 1-1 0-2 1-1-1-1 0-1 1-1 0-1 1-1 1-1 0-1 0-1 0-1 0-1-1-2 1-1-1-1 2-1 0-1 2 0-1-2 1-1 0-1-1-1 1-1 0-1 2-1 1-1-1-1 1-1-1-2 2 0 0-1 0-1-1-2 0-1 1-1 0-1 2-1-1-1 1-1 1-1 1-1-1-1L757 682.2A460 460 0 0 0 768.3 1022.2ZM698 645l-1-1 2-1 0-1 1-1 0-1-1-1 2-1-1-1 2-1-1-1 1-1 2-1-2-2 1 0 1-1 1-1 0-1 0-2 0-1 1 0 1-1-1-2 2 0 1-1-1-2 1 0 0-2 0-1 2 0 0-2-1-1 2-1 0 0 2-1-2-2 0-1 3 0 0-2-1-1 2 0-1-2 1-1 2 0-1-2 0-1 1-1 1 0 0-2 0-1 2 0 0-2 1 0-1-2 3 0-1-1 0-1 0-2 2 0 0-1 1-1-1-2 2 0 0-1 2-1-2-2 1-1 1 0 0-1 1-1 1-1 0-1 1-1 1-1-1-1 1-1 1-1 2 0 0-2 1 0-1-2 2 0 1-1 0-1 1-1 0-1 0-1 0-2 2 0 0-1 1 0 1-2-1-1 2-1 0-1 1 0 1-1-1-2 1-1 2 0 0-1 0-2 0-1 1 0 1-1 0-1 2-1 0-1 0-1 2 0 0-2-1-1 2-1 0-1 0-1 1 0 1-1 1-1 0-1 2 0 0-1 2-1-1-2 2 0-1-2 2 0 0-1 1-1 1 0 0-2 1 0 1-1 0-1 1-1 1-1 0-1 2 0-1-2 2 0-1-2 1 0 1-1 0-2 2 0 0-1 0-1 1-1 2 0 0-1 2 0 0-1 0-2 0-1 2 0 1-1 0-1 0-2 2 0 1 0 0-1 1-1 0-1 1-2 1 0 1 0 0-2 1 0 1-1 1-1 0-1 1-1 0-1 2 0 0-1 0-2 1 0 1-1 1-1 1-1 1 0 0-1 1-1 2 0-1-2 2 0 0-1 1-1 1-1 1 0 0-2 0-1 2 0 0-1 1-1 0-1 2 0 0-2 1 0 2 0 1 0-1-3 2 0 1 0 0-2 0-1 2 1 0-2 2 0 0-1 1-1 1 0 0-2 2 0 0-1 1-1 1-1 1 0 1 0 1-1 0-1 1-1 0-2 1 0 1 0 1-1 2 0 0-2 1 0 1 0 1-1 1-1 0-2 1 0 1 0 0-2 2 0 1 0 1-1 0-2 1 0 1-1 1 0 0-2 2 0 0-1 1-1 1 0 0-2 2 1 0-2 2 1 0-2 1-1 1 0 1 0 0-2 2 0 1 0 0-2 1 0 2 0 1 0 0-2 1-1 1 0 1 0 1-1 1-1 0-1 2 0 0-1 1-1 1 0 1 0 1-2 0-1 1-1 1 0 2 0 0-1 2 0 0-1 1-1 1-1 1 1 0-2 1-1 2 0 1 0 0-2 1 0 0-2 2 1 1-1 1-1 0-1 2 1 0-2 2 0 1 0 0-2 2 1 1 0 0-2 1 0 1-2 1 0 1 0 1-2 1 1 2 0L950.8 444.9A460 460 0 0 0 761.5 670.2ZM927 378l2 1 0-2 1-1 2 0 1 1 0-2 2 1 1-1 0-2 1 0 1 0 1-1 2 0 0-1 2 0 0-2 1 0 2 1 0-2 2 1 1 0 1-1 0-2 2 1 1-1 0-2 2 1 0-2 1 1 1-1 1-1 2 1 0-2 1 0 2 1 0-1 1-1 1 0 0-3 2 0 2 2 0-3 1 0 1 1 1-1 1 0 1 0 2 0 1-1 0-1 1-1 1 0 1-1 1-1 1 0 1-1 1 0 2 1 1-1 0 0 1-2 1 0 2 1 0-2 1-1 2 1 1 0 0-2 2 1 1-1 1 0 1 0 1-1 1 0 1-1 1 0 1-1 2 4 0-4 1-2 1 0 1 1 1-1 1-1 1 0 1 0 1 0 1-1 1-1 1 0 2 0 0-1 2 2 1-1 1-1 1 0 1-2 1 1 1-1 1 0 1 0 1-1 1 0 1-1 1 0 1 1 1-2 1 0 1 0 2 0 1 0 1 0 1-2 1 1 1-1 1 0 1-1 1 0 1 0 1 0 1-1 2 1 1 0 1-1 0-1 2 1 1-1 1-1 1 1 1 0 1-1 1-1 1-1 1 1 1-1 1 0 2 2 0-2 1-1 2 0 1 0 1-1 1 0 1 0 1-1 1 1 1 1 1-1 1-1 1 0 1-1 2 1 1 1 1-1 1-2 1 2 1 0 1-2 2 1 0-1 2 1 1-1 1-1 1 1 1-1 1-1 1 2 1-3 1 2 1 0 1-1 1-1 2 0 1 0 1 0 1 1 1-1 1 1 1-1 1 1 1-2 1-1 2 2 1 0 1-1 1-1 1 0 1 0 1 1 1-2 1 2 1-2 2 2 1-3 1 1 1-1 1 1 1 4 1-3 1-1 1-1 2 1 1 0 1 0 1-1 1 1 1 0 1-1 1-1 1 0 1 1 1-1 2 1 1 0 1 0 1-2 1 1 1 0 1 1 1-2 1 1 2 1 1-1 1-1 1 0 1 1 1-1 1 0 1 0 1 1 2 0 1 0 1-1 1 0 1-1 1 2 1-1 1 1 1-2 2 2 1 0 1 0 1-1 1 1 1 0 1-1 1 1 1 0 1-1 2-1 1 1 1-1 1 2 1-1 1 1 1-1 1 1 1 0 2-1 1 0 1 0 1-1 1 1 1 0 1 0 1 2 1 0 1-1 2 0 1-2 1 1 1 0 1 1 1 0 1 1 1-1 1 0 2 0 1 0 1 0 1 1 1 1 1-2 1 2 1 0 1-2 1 2 1 0 2-1 1 1 1-1 1 2 1-3 1 2 1 1 1 0 1 0 2 0 1 0 1 0L1240.3 380.8A460 460 0 0 0 961.9 438.4Z" fill="#27c46c"/>
<g fill="none" stroke="#dcdcdc" stroke-width="1.2"><circle cx="1189.8" cy="838" r="428.7"/><circle cx="1189.8" cy="838" r="261"/><circle cx="1189.8" cy="838" r="253.7"/><circle cx="1189.8" cy="838" r="245.7"/><circle cx="1189.8" cy="838" r="238.8"/><circle cx="1189.8" cy="838" r="231"/></g>
<path d="M1247 428l1-1 2-1 1-1 2 1 1 0 2 1 1 2 1 1 2-4 1 4 2-2 1 1 2 0 1 0 1 1 2-1 1 1 2 1 1 1 2-1 1 1 1 1 2-3 2 1 1 1 1 3 2-2 1 2 2-2 1 1 1 0 2-1 1 1 2 0 1 2 1 2 2-1 1-1 2 0 1 3 1 1 2-1 2-1 1 2 1 1 1 0 2 0 1 0 2 0 1-1 1 2 2 1 0 2 2 1 2-3 1 1 2 0 0 3 3-2 1 0 2 0 0 3 2 1 2-1 1 0 1 2 1 1 2-2 2 1 1 1 0 3 2-1 1 2 2-2 2 1 0 2 2-1 1 2 2-1 1 2 1 1 1 0 2 0 0 2 3-2 0 3 3-1 1 0 0 3 3-2 0 4 2-1 1 0 1 3 4-5-1 4 1 1 2 0 1 1 2-1 0 4 1 0 2 0 1 1 2 0 0 3 2-1 2 0 1 1 1 0 0 4 1 1 3-2 0 3 1 0 3-2 1 2 0 3 1 0 2 0 1 1 2 0 0 3 2 0 1 0 2 0 0 2 1 1 1 1 2 0 2 0 0 3 2 0 2-1 1 2-1 3 2-1 1 2 2 0 2 0 1 0 1 2 0 2 2 0 2-1 1 1 0 4 2-1 1 1 0 2 2 0 2 0-1 3 3-1 2 0 0 2 2 0-1 4 1 0 2 1 1 1 0 1 4-1 0 1 1 2 0 2 3-1-1 3 1 1 2 0 1 1 0 2 4-1 0 1L1434.1 574.2A359.5 359.5 0 0 0 1239.2 481.9ZM1481 541l1 1 0 2 3-2 1 2 1 1 1 1 1 1 1 1 0 2 1 2 3-1-2 3 3-1-1 4 3-1 0 2 0 2 1 1 3-1 1 1-1 3 1 0 1 2 1 1 1 1 2 0 0 2 3 0 0 1 2 1 0 1 1 2 1 1-1 2 2 0 2 1-1 3 0 1 3 0 1 1 1 1 0 2 0 1 2 1 1 1 1 1 0 2 2 0 0 2 3 0 1 1 0 1 1 2 3-1-4 5 5-2-1 3-1 2 5-2-3 4 2 1 3 0-3 3 2 1-1 2 3 0 2 1-1 2-1 2 3 0 0 2 0 1 2 0 0 2 0 2 2 0 1 1 0 3 1 0-1 3 2 0 1 1 1 1 2 1-1 2 1 1 0 2 1 1-1 2 3 0 1 2-1 1 1 2 3 0-3 3 2 0 1 2 1 1 0 1 1 1 2 1-1 2 1 2 0 1 2 1 1 1 0 2 0 1 2 1-1 2 0 2 1 1 3 0-1 2 1 1-1 2 2 1 1 1 0 1 0 2 0 2 0 1 0 2 3 0 0 2 1 1-2 2 1 2 0 1 2 1 2 1-3 2 1 1 2 1 2 1-2 2 3 1-2 2 2 1 0 2 1 1 1 1-1 2 1 1 3 1-3 2-1 2 3 1-2 2 0 1 3 1 0 1-2 2 2 1 1 2 1 1 0 1-1 2-1 2 3 1-2 2 2 1 2 1-1 1 5 1-7 3 1 1 1 1 0 2 2 1 0 1 1 2 0 1-1 2 2 1-3 2 2 1 0 2 0 1 0 1 1 2 0 1 0 2 1 1-1 2 8 0 0 2-6 2 2 1 0 1-2 2 2 1-2 2 1 1 0 2-1 2 1 1L1547.3 799.8A359.5 359.5 0 0 0 1441.3 581.1ZM1606 805l0 2-2 1 1 2 1 1 0 2-2 1 0 2 2 1-2 2 1 1-1 1 5 2-3 1-1 2 0 1 2 2-3 1 2 2 1 1-1 1 0 2-2 1 3 2 0 1 0 2-1 1 1 2-3 1 3 2 1 1 0 2-2 1-2 1 0 2 2 1 1 2 0 1 0 2-3 1 1 2-1 1 3 2-1 1-2 1-1 2 3 1-1 2 0 1 4 2-3 1-1 2 0 1 0 2 0 1-4 1 2 2 1 2-3 1 2 1-1 2-1 1 1 1-2 2 1 1-1 2 1 1-1 2-1 1 0 1 2 2-1 1 0 2-3 1 4 2-2 1 0 2-2 1 0 1-1 2 1 1 0 2 2 2-3 1 0 1 0 2-2 1 3 2-3 0 0 2 2 2-1 1-3 1 2 2-2 1 1 2 0 1-3 1 0 2 0 1 0 2 0 1-2 1 2 2-2 1 1 2 0 1-2 1 1 2-2 1-1 1-1 2 3 2-1 1-2 1-1 1 0 2 1 2 0 1-4 0 2 2 1 2-1 2-3 0 0 2 1 1 1 2 2 3-7-1 0 1 0 2 5 4-6-1-1 1 1 2-2 1-1 1 3 2-1 2 0 1-4 0 2 3 0 1-1 1-3 1-1 1 1 2 0 1-2 1-2 1-1 1 0 1 1 3-3 0 1 2-1 1-1 1-1 1-1 2 1 1 0 2-1 1 1 2 2 3-6-1 1 2-1 1 0 2-1 1-3 0 0 2 1 2-1 1-1 1-1 1-2 1-2 0 2 3-3 0 1 2-2 1 0 2 0 1 0 2-4-1 0 2 1 2 0 2-3 0 0 1 1 3-4-1 0 2-1 1-2 0 2 3-1 1-3 0 1 3-3-1-1 1 2 3-2 1-1 1 0 2 0 2-2 0-2 0 3 4-3 0-2 0 0 2-1 1-3-1 2 4-1 1-2 0-2 1 0 2-2 0 0 2-1 1-1 0-1 2 1 2-1 1-2 1-3-1 1 3-3 0 1 2-1 1-1 1-1 1-1 2 0 1-2 0-2 1-1 0 0 3-1 0 3 6-5-3-1 1-1 1-2 0 0 2-1 1-1 1-2 0-1 2 0 1-2 0 1 3-4-1 0 2-1 1-1 1-2 0L1433.6 1102.2A359.5 359.5 0 0 0 1548.2 809.8ZM1463 1151l0 2-2 0 0 2-3-1 1 4-3-1-1 0-1 1 0 3-2 0-1 0-1 2-2-1-2 1 0 2 0 3-1 1-1 0-1 1-2 0-2 1-2-1 0 2-1 1-2 0-1 1-1 1-2 1-1 0-1 1 0 2-2 0 0 3-2-1-2 1-1 0-1 1 0 3-1 1-2-1-1 2-1 1-1 1-1 1-2 0-2 0 0 3-2 0 0 1-3-2-1 1 0 3-2 1-1 1-1 1-2-1-2 0 0 2-2-1-1 2-1 0-2 0 0 3-2-1-2 1-1 0-1 1-2-1 0 3-2 0-1 2 1 5-3-3-2-2-1 3-1 1-1 2-2-2-1 2-2 0-2-2-1 2-2-1 0 2-2 1 0 2-2 0-2-1-2-1 0 5-1 0-2-2-1 1-1 2-2-1-1 3-2-2-1 0-1 2-2 0-1 1-2 0-1 1-1 1-2 0 0 2-2 0-2 0-1-1-1 2-2 0-1 0-2 0-1 1-1 0-2 0-1 3-1 1-2-2-2 0-1 1-1 0-1 2-2-1-1 1-2 1-1 1-2-1 0 2-1 3-3-3-1 0-2 0-1 1-2-2-1 2-1 2-2-1-1 1-2-2-1 1-1 2-1 4-2-4-1 1-2-1-1 2-2-3-2 1-1 0-1 5-2-4-1 1-2-1-1 1-1 0-2 2-1-2-1 3-2 0-2-2-1 0-1 2-2-1-1 2-2-1-1 1-1 1-2 0-2-3-1 1-1 1-2 2-1-1-2 0-1 2-2-3-1 1-1 2-2-3-1 3-2-2-1 0L1217.4 1196.4A359.5 359.5 0 0 0 1426.1 1108.9ZM1210 1252l-1 2-2-2-1 0-2 2-1 1-2 0-1-1-2-1-1 1-1 1-2-1-1 2-2-3-1 8-2-8-1 1-2 5-1-4-2 0-1 5-2-4-1-4-1 0-2 3-1-2-2 0-1-1-2 3-1 0-2-2-1 0-2 1-1 0-1-1-2 1-1 0-2-2-1 2-2 0-1 0-1-3-2 3-2-1-1-1-1-2-2 3-1-1-2 0-1 1-1-3-2 2-2-1-1-3-1 0-2 3-1-1-2 0-1-2-2 2-1 0-2-1-1-2-2 3-1-3-1-1-1 0-2 2-1-3-2 3-1-4-2 4-1-4-1 0-2 1-1-2-2 1-1 1-2 0-1-3-1 0-2 0-1 0-2-1-2 2-1 0-1-4-1 1-2 1-1-1-1-2-2 2-1-3-2 1-1-2-2 2-2 1 0-4-2 2-1-1-2 0-1-2-1-1-2 2-1-3-2 1-1 0-1-1-2-1-1-2-2 2-2 3 0-5-2 1 0-3-2 1-2 0-1 0-1-3-2 2 0-3-2 1-2 1-1-2-2 1 0-4-3 3-1-1-1-1-1-2-2 1-1-1-1-3-1 0-1 0-3 1-1-1-1-1-1-2-2 2-1-2-1-2-1 0-1-1-2 0-1-1-1 0-2 0L1028.3 1159.2A359.5 359.5 0 0 0 1207.4 1197.1ZM992 1205l0-2-1-2-3 2 0-2-2 0-1-1 0-2-2 0-1-1-3 1-1-1 0-3-2 1-2 1 0-4-2 2-1-2 0-2-2-1-2 1 0-3-2 1-2 0 0-2-3 1 0-2-1-1-2 0-1-1-2 0 0-3 0-1-2 0-2 1-2-1-1-1-1-1-1-2 0-2-1 0-2-1 0-2-1-1-1 0-3 0-1 0 0-4-1 0-2 0 0-2-2 0-6 5 4-7-2 0 0-2-3 1 1-3-2 0 0-2-2-1-2 0 0-1-1-2-3 1 0-1 0-3-3 1 0-2-1-1-2 0-1-1 1-3-2 0-1-1-3 1-1-1 0-2 0-2-3 1 1-3-3 0 1-3-3 2 0-3-6 4 4-6-2 0 1-3-2 0-1-1-2 0-1-1 0-2-1-1-1-2 0-1-3 0-1 0 0-2-2-1 1-3-1-1-2 0-1-1-2 0 1-3 0-1-2-1-2 0 1-3-3 1 0-2-3 0 1-3 0-1-1-1-2 0-2-1 1-2-3 0 2-3-1-1-1-2-1 0-1-2-2 0 0-2-2 0-1-1-2-1 2-3-2 0 0-2 0-2-3 1 1-3-3 0-1-1 0-1 0-2-2 0 1-3-1-1-3 0-1-1 1-2-1-1-2-1 1-2-2 0 0-2-3 0 1-3 0-1-1-1 0-2-3 0 0-1-1-2-1-1 1-2-2-1 2-2-4 0 2-2-3-1-1-1 1-2-2 0-1-2 0-1-1-1-1-2 0-1 0-2 0-1-3-1 0-1-1-1 0-2-1-1 1-2L864.5 991.1A359.5 359.5 0 0 0 1019.4 1154.5ZM808 1005l-2-1 3-3-3 0 1-2-3 0 2-3-3 0 0-2 1-2-1-1 1-2-1-1-1-1-2-1 2-2-3-1-1-1-1-1 0-2 2-2 0-1-4-1 3-2-4 0 1-2 0-2 1-1-2-1 0-2 0-1-1-2-2-1 0-1-1-1 2-3-3 0 2-2 0-2-3 0 0-2-1-1 2-2 0-2-5 0 2-2 2-2-3-1 2-2-3 0 3-3-2 0 1-2 0-2-4 0 2-2-2-1 1-2 1-2 0-1-3-1 1-2 0-1-1-2 0-1 0-2 0-1-1-1-1-2 0-1 1-2 0-1 0-2 0-1-3-1 2-2-2-1 0-2 0-1-1-1 1-2 0-1-1-2 0-1 1-2-1-1 1-2-2-1-1-1 2-2-1-1 1-2 1-1-2-2-1-1 1-2-1-1 0-1 1-2-2-1 0-2 2-1-2-2 2-1-2-2-1-1 4-2-1-1-1-1-1-2 2-1-2-2 2-1 1-2-2-1 0-2-2-1 0-2 1-1 2-1 0-2-1-1-1-2 3-1 0-2-3-1 2-2-1-1 2-1-2-2-1-1 0-2 3-1-4-2 3-1-6-2 7-1-1-2-1-1 0-2 3-1-5-2 2-1 3-1-2-2-1-1 2-2 2-1-3-2-4-2 5 0-1-2 3-1 1-1-4-2 1-2 2-1 1-1-2-2-1-2 3-1 1-1-3-2 4-1-2-2-1-1 0-2 3-1-2-2 1-1 1-1-2-2 2-1-1-2 1-1 2-1 0-2 0-1 1-1 1-2-3-2 1-1 3-1-2-2 0-1 3-1 0-2-1-1 0-2-1-1 3-1-2-2-2-2 6 0-3-2 1-2 0-1 0-2 2-1 1-1 1-1-2-2 2-1 0-2 2-1-3-2 3-1-1-1 2-1 1-1-2-3 0-1 0-2 2-1 0-1 0-2 0-1 2-1L851.6 716.2A359.5 359.5 0 0 0 860.4 981.9ZM804 687l-2-3 3 0-6-4 5 0 0-1 2-1 0-1 1-2 0-1 0-2-3-3 6 1-1-1 1-2 2-1-2-2 1-1 3 0-1-3 2 0 1-1 0-2-1-2 2-1 1-1 1-1 1-1 0-1-1-3 1-1 0-2 2 0 1-1-1-3 3 1 0-2 1-1 1-1-2-3 2-1 0-1 0-2 3 0 0-1 0-2 1-2 1 0 2-1 1-1 0-2 1-1 0-2 0-1 1-2 2 0 1-1 0-1-1-3 3 0-1-2 4 0-2-2 2-1 2 0-1-2 1-2 3 0-1-2 2 0 1-1-1-3 0-1-2-4 5 2 1-2 3 1 0-1 0-2 1-1 0-2 1-2 2 0 0-1 2-1 1-1 0-1-1-3 4 1-2-3 3 0-1-2 2-1 2 0-1-3 2 0 2 0 1-1 0-2 2 0 2-1 0-2 1-1 0-1 1-1 1-2 1 0 1-2-1-2 4 1 1-1-1-3 1-1 1-1 0-2 3 1 0-2 2 0 2 0-1-4 1 0 3 0 1-1-1-3 1-1 3 2 1-1 1-2 0-2 1-2 1 0 3 1-2-4-2-5 6 5 0-2 3 1 0-3 2 1 0-3 0-2 3 1-1-3 3 2 1-2 0-2 2 0 2 0 1-1-2-5 3 1 2 0 1-1 1-1 1 0 2 0 1-1 1-2 1-1 0-2 2 0 2 1 0-3 2 0 2 0 0-1 2 0 0-3 2 0 2 1 1-2 0-2 3 1-1-4 1 0 2 0 2 0 1-1 1-1 0-2 3 1 1-1 1 0 0-3 3 1 0-3 1-1L1003 530.8A359.5 359.5 0 0 0 855.1 706.8ZM984 477l1-1 1 0 2-1 0-3 1 0 3 2 1-2 2 0 1 0 0-3 3 2 1-1 1-2 1-1 1-1 1 0 2 0 1-2 1-1 2 2 0-4 1-1 3 3 0-4 2 1 2 1 1-2 1 0 2-1 1 0 0-3 2 1 1-2 2 2 1-1 2 0 0-3 3 2 1-1 1-3 1 1 1-2 2 1 2 1 1-2 2 1 1-1 0-3 2-1 2 2 0-2 2 0 1-1 2 0 1-1 1-1 3 2 0-3 3 3 0-4 2 1 1-1 1 0 2 0 1-2 2 1 0-2 1-3 3 5 1-2 2 0 1 0 2 1 1-1 1-1 2 1 1-3 2 1 1 0 1-1 2 0 1-1 2 2 1-4 1 0 2 2 1-2 1-1 2 1 1-2 2 2 1 0 2-1 1 1 2-2 1-1 1-4 2 6 1-1 1-2 2 1 1-1 2-2 2 2 1-1 1 0 2 0 1 1 2 0 1 0 1-3 2 3 1-5 2 3 1 0 2-1 1-1 2 1 1 1 1-1 2 0 1-1 2 0 1 2 2 0 1 0 2-2 1 0 1-1 2-3 1 4 2-1 1 1 2 0 1-2 2 3 1 0 2-3 1 3 1-1 2-2 1 2 2-2 1 0 2 0 1 1 2-1 1 1 2-1 1 2 1-1 2-1 1 0 2 3 1-3 2 3 1-4 2 1 1-1 1 3 2-1 1 1 2-2 2-5 1 6 1-1 2 3 1-1 1 2 2-2 2-2 1 0 1 3 2 1 1-2 2-1 1 2 2-2 1 4 1 0L1229.2 480.7A359.5 359.5 0 0 0 1011.7 525.7Z" fill="#ffc79a"/>
<path d="M1246 430l1 1 2-1 1 0 1 1 0 3 2-1 2-6 0 6 1 1 1-4 1 2 2-2 0 4 2-3 1 0 1-1 0 3 2-1 1 1 1 2 1 0 1-1 0 3 2-1 2-5 0 4 1-1 1 1 1 3 2-6 0 4 1 0 1 2 1 0 2-3 1 2 1-3 0 5 4-10-1 9 1 0 1-1 1 1 2-1 0 3 1-1 1 1 3-6-1 9 1-2 2-2 1 2 0 3 1-1 1 2 1 0 1 0 4-8-2 9 2-2 1-1 0 3 1 1 1 0 2-2 0 2 1 1 1 1 3-5 0 5 0 1 3-4 0 3 1-1 1 0 2-2 0 4 1 1 2-2 0 2 1 0 1 2 1-1 1 2 2-3-1 4 3-3 0 3 1-1 2-2 0 4 2-2 0 2 0 2 3-3 0 3 2-1-1 3 2-1 4-7-2 8 1 0 1 0 0 2 4-4-1 4 1-1 1 2 1 1 0 2 2-2 1 0 1 0 1 1 1 1 2-2 0 2 0 2 1 1 1 0 2 0 2-2 0 2-1 5 2-2 6-9-3 8 0 3 2-3 1 0-2 6 3-2 4-6 0 3-1 4 1 0 0 2 2-1 2-1-1 4 2-1 1 0 1 0 2-1-1 4 2-1 0 3 1 0 1-1 1 1 1 0 1 2 0 0 2-1 1 2 2-2 1 1-1 2 2 1 0 1 2-2 0 4 3-3-1 3 0 1 2-1 2-1 1 1-1 3 2 0 0 1 5-5-4 7 0 3-1 2 9-10-3 6-2 5 5-5-1 3 2-1 5-5-5 9 4-4 0 2-1 3 1 0 1 1 0 1 1 2 1-1 1 1 3-2-1 3 1 0 4-3 4-3-2 4-3 5 1 2 2-1 2-1-2 3 3-1 1 0 1 1 3-2-1 3 1 0-1 3 7-7-6 9 1 0 2 0 2 0 1 0-2 3 1 1 3-1-1 2 0 1 1 2 1 0 2-1-1 3 1 0 3-1 0 1 3-1-3 4 1 1 3-2L1434.1 574.2A359.5 359.5 0 0 0 1239.2 481.9ZM1477 545l2-1 1 1-1 3 3-2 0 1 1 1 1 0-1 3 1 1 2-1-1 2 2 0-1 2 2 0 1 0 2 0 0 2 2-1 2 0-3 4 1 0 2 1-2 2 4-1 4-2-5 6 2-1 0 1 0 2 1 0 2 0 2 0-1 2 1 0 2 0 3-1-2 4-2 2 2 0 3-1 1 1 0 1 1 1 0 1-2 3 0 1 1 1 0 1 2 0 3-1 1 1-1 2-1 2 3-1 0 1 1 1-1 2 3-1 1 0-1 3-1 2 2 0 0 1 2 0 1 1 2 0 0 1 1 0-1 3-1 1 2 0-1 2 4-1-1 2 2 0-2 2 4 0-2 2 0 1 2 0 1 1 0 1-1 2 3-1 1 1-3 3 2 0 0 2 3-1 1 0-1 2 0 2 1 0 1 1 1 0 1 1-2 3 2 0-1 2 1 0 4-1-1 2 0 1 2 1 2 0-3 3 3-1-3 3-3 3 6-2-2 2 4-1 0 1 1 1 0 1-2 2 4 0-5 3 5-1-2 2 1 1 0 1 1 1 2 0 1 1-1 1 2 0 1 1-2 3 2 0 0 1-1 2 1 0 2 1 0 1 2 0-1 2 1 0 1 1 4-1-5 4-1 2 1 0 0 2 2 0 2 0-3 3 2 0 2 0 1 1-3 3 0 0 5 0-3 2 5-1-3 3 2 0 3 0-4 3 1 0-1 2 2 1 1 0 4 0-4 3 2 0 0 1-1 2 1 0-1 2 5-1-3 3-3 2 1 1 2 0-1 1 3 1-2 1 0 2 0 1 0 1 3 0 1 1-2 1 0 2 3 0-1 1 0 1 1 1-5 3 4 0 2 0-1 2 3 0 1 1-3 2 5-1-2 2 4 0-5 3 3 0-2 2-2 1 0 1 2 1 2 1-2 1 2 1-1 1 0 1 2 1-2 1-1 2 3 0-1 2 1 0-1 2 1 1 1 1 1 0-3 2 3 1-1 1-1 1 3 1 3 0-2 2 1 1-4 1 1 1 3 1 1 1-1 1 0 1-1 2 1 0 2 1-1 2 1 0-2 2 1 1-1 1 2 1-2 1 0 1 4 1-1 1-2 1-1 2 2 0 0 1 2 1-2 2 1 1 0 1 1 1 1 1-1 1 0 1 2 1-4 1 3 1 0 1L1547.3 799.8A359.5 359.5 0 0 0 1441.3 581.1ZM1602 806l-3 1 2 1 2 1-3 1-4 1 5 1 0 1 1 1-3 1 3 1-1 2-1 1 0 1-3 1 5 1-3 1 2 1 0 1 1 1-1 1-2 1 1 1 4 1-4 2 1 1 0 1 2 1 2 1-5 1 3 1 3 1-7 1 1 1 1 1-2 1 4 2-2 1-2 1 1 1 0 1 3 1-1 1 1 1-1 1 1 1-3 1 0 1 2 1-1 2-1 1 0 1 2 1-2 1 1 1-3 1 4 1-2 1 2 1-4 1 3 1-1 1-1 1 3 2 2 1-4 1 1 1-4 1 1 1 1 1-1 1 0 1 3 1-4 1 0 1 1 1 0 1 1 2 5 1-8 1 2 1-2 1 2 1-2 1 2 1 1 1-2 1-2 1 1 1 0 1 2 2-3 0 3 2-2 1-2 0 1 2 2 1-4 1 9 2-6 0-4 1 8 2-7 0 2 2 1 1-2 0 0 2 0 1 0 1 7 2-3 1-6 0 1 1-3 0 1 2-1 1 0 1 0 1 0 1-1 1-3 0 4 2-1 1-1 1 0 1-1 1 2 2-1 0 0 2 1 1 0 1-2 1-1 1 3 1-3 1-1 1 2 1-4 0 2 2 2 2 0 1-7-1 5 2 0 2-2 0-1 1-1 1 1 1-1 1-1 1 0 1 3 2-3 0-1 1-1 1-1 1 2 2 2 1-1 1-4 0 3 2-2 0 4 3-5-1 0 1-1 1 2 2-2 1 1 1-1 1 3 2 2 2-9-2 2 2-2 0 1 2 0 1 0 1 1 1-4 0-1 1 0 1 3 2-1 1 0 1 0 1-1 1-4 0 1 1-1 1 1 2-2 0-1 1 2 2 0 1 4 3-5-1 6 4-6-2-4-1 0 2 0 1 5 4-4-1-3 0-1 1 0 1 2 2-2 0 1 2-5-2 1 2 0 1 3 3-2 0 0 2-2 0 1 1-4 0 2 2-2 0 2 2 0 1-1 1 0 1-1 1 1 2-4-1 0 1-2 0 1 2-1 0 1 2-4-1 5 5-4-2 1 2-3 0 2 2-2 1-2-1 0 2 0 1 5 4-4-1-2 0-5-2 5 5 3 3-6-3 2 3-4-2 2 3-9-4 14 10-10-5 0 1 1 2 1 2-1 1-3-1 0 1 2 2-5-1 2 2-2 0-1 1 2 2-3 0 1 2-3-1 1 2 1 2-2 0 0 1-3-1 0 1-2 1 3 3-3 0 0 1-2-1 2 4-1 0 0 2 0 0-3 0-1 0-1 1 1 2-1 1 0 1-2 0 0 1-3-1 0 2 1 2-1 0 1 2-1 1-1 1-1 1-2-1-1 1 4 5-5-3 5 5-6-3-2 0 1 1-3-1 3 4 1 3-5-3-1 0 0 2 0 1-3-1-1 0 0 2 0 1-2 0 1 2-3-1 2 3-2 0-1 1 0 1-2 0 1 2-3-1 1 3-2-1 2 3-2-1 1 3-3-1-2 0-4-3 4 6-1 0 0 1 0 2-2 0 0 1-3-2L1433.6 1102.2A359.5 359.5 0 0 0 1548.2 809.8ZM1459 1147l2 4-3-2 0 2-2-1 1 2-3-1 2 4-1 0 0 2-2 0-2-2 1 3-2 0-2 0-1-1-1 0 0 2 0 2-2 0 1 2-4-2 2 4-2-1-1 0 4 7-6-6-2 0 1 2-1 1-2-1 0 2-3-3 2 5-3-2 0 2-1 0-1 0 1 4-2-1 0 2-2-1-1-1 0 4 0 0-1 1-3-2 0 2-2-1 1 4 2 4-5-6 0 3-1-1-2 0 0 1-1 2-2-1-1 0 0 1-2 0 1 4 0 1-2-1-1 1-1 0-2-1 0 2-1 0-1 1-1-1-2 0 0 1-1 1-1 0 0 4-1-1-3-2 0 2 0 1-2 0 1 3-3-3 1 4-1 0-1 1-3-3-1 1 0 1-1 1 0 3-2-2 0 2-1 1-2-1 0 2-1-1-3-2 1 3-2-1 0 2-2-2 0 3-2-1-1-1 0 4-1-1-2 0 0 1-1 2-2-2 1 3-1 1-2-2-2 0 0 1-1 1-1 0 1 6-2-3-3-3-1 1 0 2-1 1-1 0-2-2 1 4-2-2-2 0 0 2-1 0-1 0-2-2 1 5-2-2-1 2-1-1 0 4-2-2 0 2-2-1-1-1-2-1 2 9-3-7-2-1 0 4-2-4 0 4-1-1-1 2-1-1-1 1-1 1-3-7 1 7-1 1-2-2-1-1-1 0 0 4-1 0-2-1-1-1-1 1-1 1 1 6-3-5-2-2 0 1-1 1-1-1-1 2-2-1-1 0 0 2-2-2-1 1 0 2-1 0-1 1-2-1 0 2-2-1-2-5 0 3-1 4-1-1 1 7-2-1-3-10 0 5-1 1-1 0-1 1-2-3 0 4 0 3-3-7 0 4-2-3 0 7-2-6-1 2-1-1 0 6-2-4-1-3-1 3-1-2-1 3-1-2-1 3-2-7-1 4-1 1-1 1 0 2-2-1-1-1-1-1-1 3-1-2-1-1-1 0-1 3-1 0-1 0-1 1-1 0-2-1 0 4-1 4-2-7-1-2-1 2-1-1-1 1-1 0-1 1-1-1-1 1-2-3 0 3-1 1L1217.4 1196.4A359.5 359.5 0 0 0 1426.1 1108.9ZM1210 1247l-1 3-1-2-1 1-1-2-1 2-2 0-1 1-1 0-1-3-1 1-1 3-1-3-1 1-1 2-1-2-1 2-1 2-2-5-1 1-1 3-1-2-1-2-1 9-1-11-1 5-1-4-1 2-1 1-1-2-2 1-1 2-1-4-1 4-1-4-1 4-1-3-1 0-1 3-1-1-1-2-1 2-1-2-2 3-1 0-1-2-1 1-1-3-1 3-1-2-1-1-1-1-1 1-1-1-1 1-2 1-1 5 0-8-2 4-1-1-1-3-1 1-1-1-1 0-1 0-1 0-1 1-1 0-1-2-2 4 0-4-2 4 0-5-2 5-1-4-1 0-2 9 1-13-2 4-1 1-1-1-1-1-2 1-2 7 0-6-1-1 0-3-2 3-1-2-1 3-1-1-1-2-1 0-1-1-1-2-1 0-1 1-1 1-2 2 0-4-2 2 0-2-1-1-2 4-1-3 0-1-2 1-1-1-1 2-1-1 0-5-3 5 0-1-1-2-2 4 0-4-1-1-1 1-1-3-2 4-1-2-1 2-1 0-1-1 0-4-3 7 0-5-1-1-1 1-1 0-1-1-1-1-1-1 0-2-1 0-2 2-1 0-1-1-1-2-1 0-1-1-1 1-1-1-2 3 0-3-2 1-1 0 0-2-2 0 0-2-2 2-1 1-1-2-1 1-1-1 0-3-1-1-1 1-2 2 0-4-2 2-3 6 1-6-1-1 0-2-1-1-4 7 1-6 0-1-1-2-2 3-1 0-1-1-1-1 0-2-1-1-2 2-1-1-1 0-1 0 0-2-1-1-1 0-1-1-2 1 0-1-2 1 0-3-2 2 0-4-5 10 3-10-2 2-1-1 0-1-1-1-1 0L1028.3 1159.2A359.5 359.5 0 0 0 1207.4 1197.1ZM994 1201l1-3-3 3-3 3 3-7-3 3-1-1-1-1 0-2 0-2 0-1-2 0-1-1-6 10 3-9 1-3-1 0-2 0-2 3 0-3 0-2-1-1-3 3-1 0 0-3 0-2-2 3-1-1-2 0 2-4-2 1-2 1-1-1 0-2 0-2-2 2-1 0 0-3-1-1 0-1-2 0-5 6 4-8-5 6 1-4 1-3-1 0 0-2-1-1-2 2-1-1 0-2-2 1-2 0 1-2-1-1-1 0-1-1 1-2 0-3-2 2-2-1-1 1-1 0-2 0-4 3 3-5-1-1-1 0-1-1 1-3-4 4 0-3 1-2-2 0-1 0 1-3-1-1-1 0-2 1-2 1 0-2 1-3-2 1-2 0 0-1-1-1-2 1 2-4-1 0 0-2-5 3 5-6-5 3 0-1 0-2 0-1-2 1-2 0 0-1 1-3-2 1-1-1-5 4 4-6-5 3 1-2 0-2 0-1 1-3-1 0-2 0 0-1-3 1 0-2-1 0-2 1 2-4-1 0 1-3-1-1-3 1 1-2-3 2 1-3-5 3 2-3 1-2 0-2-3 1-2 1 0-2 0-1 0-1-1-1-1-1 0-1-3 1 0-1-3 1 4-5-3 1 0-1 0-2 0-1-4 2 3-4 0-1-3 1-2 0 3-4-3 1 1-2-3 1-1-1-1 0 3-4-3 1-2 0 6-6-7 4 1-2 0-1-3 0 1-1 0-1 3-4-7 3 0-1 0-1 1-2-1-1-1 0-5 2 2-3 1-2-1 0-2 0 1-2-3 0 0-1 0-1 0-2-1 0-1-1 2-2-3 0-1-1 2-2-8 4 5-4-1-2 2-2-3 1-3 0 2-2-1-1 0-1-1 0 0-2 2-2-3 0 0-1 1-2-2 0-1-1 0-1 0-1-1-1-4 1 1-2-5 2 4-4-6 3 4-4 0-1 3-3-1-1-1-1-3 1 1-2 0-1 0-1-2 0-1-1 2-2-3 0-1-1 1-2-2 0-1 0 7-5-4 1-4 1 0-2 1-1 1-2-1-1-1 0 0-2-4 1 0-1 2-2 0-2L864.5 991.1A359.5 359.5 0 0 0 1019.4 1154.5ZM814 1002l0-1-4 0 0-1 3-2-4 0-7 2 7-4-3 0 5-3-3 0 1-2 1-1-5 1 1-2 1-1-3 0 2-2-1-1 0-1 2-2-5 1 4-3-2-1 0 0-7 1 7-4-8 2 11-5-5 1-2-1 2-2-4 0 1-1-2-1 0-1-5 1 8-4-2-1-1 0 3-2-2-1-1-1-1-1 2-1-5 0 3-2-6 1 4-2 3-2-4 0 3-3-4 0 3-1-4-1 4-2 0-1-9 2 5-3 0-1-1-1 2-1-1-2-2 0 1-2-1 0-1-1 1-1 3-2-2-1-3 0 4-2-1-1-2-1-1-1 0-1 1-1-2-1-1-1 4-2-1-1-2 0 0-1 2-2-2-1-1 0 3-2-3-1-2-1 2-1 0-1 2-1-1-1 0-1-3-1-1-1-5 0 9-3-1-1-1-1-3 0 0-1 1-2 1-1-2-1 1-1 0-1 2-1 0-1-3-1 2-1-2-1-1-1 0-1 3-2-1-1-4 0 4-2-4-1 1-1 3-1-2-1 1-1 0-1-1-1-7-1 9-2-8 0 4-2 4-1-2-1-3-1 3-1-2-1 0-1 0-1 1-1-2-1 3-1-2-1-1-1 3-2-5 0 4-2 2-1-1-1-2-1-7-1 2-1 7-1 0-1-2-1-1-1-4-1 4-2-1-1 4-1-3-1 2-1 1-1-2-1 3-1-2-1-3-1 1-1 0-1 0-2 1-1-1-1 0-1 3-1-4-1 2-1 0-1 3-1-2-1-3-1 4-1-3-2 3-1 0-1-3-1 2-1 3-1-2-1 2-1-1-1 1-1-3-1 1-1-2-2-4-1 5-1 1-1-1-1 3-1-2-1 2-1-4-1 2-1-4-2 4 0 1-1 2-1-4-2-1-1 6 0 2-1-6-2 4 0 0-2-1-1 0-1-1-1 2-1-5-2 3 0 3-1-3-2 1-1 1 0-2-2 4 0 0-1-1-2 0-1-1-1 3-1-1-1-3-1 5-1-3-1 0-1 3-1 1-1-3-2-1-1 2-1 2 0-2-2-1-1 0-1 3-1-3-1 3-1-1-1-1-2-1-1 2 0 0-2 3 0-2-2 3 0-2-2 3 0-1-1 0-1-2-2 2-1 2 0-2-2 1-1-2-1 1-1 2-1 1-1 1-1 0-1-4-2 2-1 1 0-4-3 6 1 1-1 0-1-4-2 4 0-2-2 4 0-2-2 4 0-1-1 0-1-1-1-1-2 3 0 3 0-4-3 1 0-1-2L851.6 716.2A359.5 359.5 0 0 0 860.4 981.9ZM808 688l-3-2 2 0-1-2 4 0-1-1 0-1 1-1-1-2 0-1 3 1-1-2 2-1 1 0-2-2-1-2 2 0-1-2 1-1 3 1-2-2 2-1 1 0-2-3 4 1-4-3 4 1 1-1-2-2 3 0-2-2 1-1 2 0-1-2 3 0 0-1-4-3 4 1-4-3 6 2-4-4 2 0 2 0 0-2-1-1 0-1 1-1 1-1 4 1-2-2 1-1-1-2 3 1-8-6 13 6-7-5 4 1 1-1 1 0 1-1-7-5 7 3-2-3 1 0-4-4 5 1 3 1-7-5 3 0 4 2 1-1 4 1-7-6 2 0 2 0 1 0-4-5 4 2 0-1 4 1 0-1-1-2 3 1-1-2 2-1 0-1-4-4 3 1 2 0-1-2 3 0 1 0-2-2-1-2 2 0 1-1 1-1 1 0 0-2 1 0 3 1-1-2-2-4 3 1 0-1 4 2-1-2-2-4 5 3-3-4 3 2 0-2 0-1 1-1 1-1 1 0 1-1 0-1 1-1 1 0 2 0 0-1 0-2-1-2 0-1 0-1 3 1 0-2 1 0 3 1-3-4 5 2-2-3 2 0-1-2 0-1 3 1 0-2 0-1 3 2-3-4 4 1 3 2-3-5 2 1 1 0-2-4 4 2-1-2 0-2-1-2 3 1 2 1-2-4 1 0 4 2-1-2-1-3 4 2-2-3 4 2-2-3 0-1 2 0-3-5 5 4 0-1 1-1 1-1 2 1 0-2 2 0-4-5 3 1 1 0 4 2 0-1-2-4 6 5-4-5 1-1-2-4 4 3 0-2 1 0 2 1 1-1-5-8 7 7 2 0 1 0-1-2 0-3 1 0-2-5 4 5 2-1-1-2 2 0-2-3 2 1-1-4 3 3 3 1-1-2 1-2 1 0 3 2 0-2-1-2 2 1 0-3 0-1 3 2-1-3 3 1 2 1 1 1-2-5 3 2 0-2 2 1-3-6 1 0 3 2 2 1-1-3 3 2-1-3 1 0 0-2 1 0 3 1-4-7 6 7 0-2 0-2 2 1 0-2 2 2 1-2 2 1 1 0 0-1-1-4 2 1 1 0 1-1 0-3L1003 530.8A359.5 359.5 0 0 0 855.1 706.8ZM983 476l4 5 1 0 0-3 1 0-3-9 5 7 1-1 1 1 2 1 1 0 0-3 0-2-1-5 3 5 3 2 1 0-1-4 3 2-1-3 1 0 1 0 2 0 0-1 2 2-1-6 2 2 3 3 0-2 1-1 1 1 1-1 0-3 2 2 1 1 1-1 0-2-2-8 4 6 1 0 1 0 1-1 2 1 1 0 1 0 1 0 1-1 1 1 0-5 1 1-1-6 4 7 0-3 1 0 2 1 1 1 0-4 2 3 1-1 0-3 2 2 1 0 0-2 0-4 2 2 2 2-1-4 2 0 1 1 1-1 1-1 2 3 0-3 2 2 1 0 1-1 1 0 1 0 0-2 2 1 0-2 1-1 2 2 0-3 1-1 2 2 1 0 1 0 2 2 0-4 1 0 0-2 2 3-1-9 3 9-1-8 4 8 0-3 2 1 1 1 1-1-1-7 3 6 0-5 1 3 2 1 1 1 0-4 2 1-1-8 3 8 0-2 2 1 1 0 1 2 1-4 1 2 1 1 1-1 1-3 1 1 2 2 0-3 2 4 0-4 1 0 2 1 0-2 1-1 2 1 1 2 2 2 0-3 1-1 1-1 1 2 1 0 0-8 3 8 1-1 1-1 1 2 0-4 2 1 1 0 1-2 1 5 1-2 1 1 1-2 1-6 1 7 1-3 1 1 1-1 2 2 1-2 1 2 1 0 1-4 1 2 1 3 1-1 1 1 1-4 1-4 1 3 1-4 2 6 0-4 2 2 1 1 1-1 1-1 1 4 1-2 1-1 1 2 1-3 1-4 1 6 1-1 2-1 1 3 1-3 1 1 1 0 1 0 1 1 1 2 1-4 1-2 1 2 1 4 1-5 2 3 1 0 1-4 1 2 1 2 1-2 1 2 1 0 1-3 1 4 1-2 1-2 2 2 1 0 1-1 1 5 1-2 1-2 1 3 1-3 1 3 1 0 1 0 1-4 1 3 1 0 2-2 1 2 1-1 1 3 1-4 1 2 1 4 1-6 1 0 1 4 1-1 2-2 0 3 1 0 2-2 1 1 1 0 1-2 1 4 1 0L1229.2 480.7A359.5 359.5 0 0 0 1011.7 525.7Z" fill="#ff8c32"/>
<path d="M1238 493l1-1 2-6 1 6 1-3 1 0 0 13 3-15 1 2 0 10 2-3 1-2 0 5 1 2 2-5 1 5 3-8-1 11 2-3 0 1 1 2 4-12 2-1 1 0-1 9 2-2 0 4 3-8 1 3 0 2 2-1 1 1 2-2-1 8 2-1 3-10 2 1-1 8 2-6 1 3-1 9 2-2 1 1 3-8 1 2 0 4 0 2 5-12-2 11 1 2 1 2 2-3 2-2 0 4 1 1 2-2 1 1-1 6 2-4 3-4-2 10 4-8 1 1 2-3-2 11 3-4 3-5-2 7 4-5-1 4 1 2 3-4-3 9 6-10-1 4 3-2-1 4 5-8-5 14 6-11-3 11 3-5 1 1 1 2 5-8-1 4 0 4-1 5 0 2 2-1 6-10-5 13 4-5 5-7-5 13 2-2 5-7-2 7 3-3-2 5 6-8-2 6 0 3 4-5-4 10 5-7 0 2-1 5 0 2 3-2 4-6-2 7 3-3 3-2 0 2-3 7 1 1 3-2-1 4 2-2 3-3 2-1 4-4-4 10 4-5-2 6 1 1 6-7-5 10 2-1 6-7-2 4 1 1-1 5 2-1 0 2 1 1 3-3 3-2-1 4 4-4-7 12 3-2 7-7-7 11 5-5 1 0-1 4 6-6-2 4 5-3-7 10 8-7 2-2-2 5-3 6 8-8 2 0-5 7 3-1-5 8 3-2 6-5 0 1-2 4-2 5 7-6 1 1-5 7 6-5-4 7 5-5-4 7 10-9-3 5L1385.1 627.1A287.5 287.5 0 0 0 1229.3 553.2ZM1437 586l-5 7 5-4 0 2 2 0-1 3 1 0 5-3 0 1-2 4-1 3 6-4 1 1-2 3-4 6 4-2-5 6 3-2 5-2 3-2-2 4-1 3 8-6-8 9 5-3-2 4 1 0 7-4-1 2-4 6 9-7-8 9 6-3-4 4-3 4 1 1 10-7 3-1-5 6 5-2-3 4 4-2-2 3-3 4 5-2 2 0 5-3-8 8 8-5 1 1-3 4 5-2-9 8 2 0 7-3-3 3-4 4 4-1 9-4-6 5 0 1 3 0 3-1 0 2 2 0-10 8 5-2-2 3 8-4-5 5 6-2 0 1-2 3 0 1-2 3 4-1 5-2 1 1-11 8 14-7-2 3 2 0-1 2 0 1 2 1-3 3 5-2 0 2 4-1-4 4-7 5 4-1-4 4 5-2-6 5 6-2 1 1 3 0 5-1-11 6 5-1-4 3 0 2 11-4 0 1 3 0-6 5-6 3 13-4-3 3-4 3 7-2 0 1-9 5 8-1-5 3 10-3-3 3-1 1-6 4-1 2 0 1 11-3-2 2-5 4 11-3 1 0-1 2-1 2-10 5 10-2-9 4 0 1 8-1 0 1-6 3 9-1-10 4 13-3-11 5 4 0 10-2-5 3-6 3 9-1-1 1-7 4 1 0 5 0 2 1-7 3 3 1 7-1-5 3 9-1-14 4 9-1 1 1-3 2-6 3 9-1-5 3 6-1 1 2-10 3 1 1 6 0-1 1 10 0-9 3-2 1 6 0-8 3 5 0 1 1-5 3-1 1 6 0 3 1-9 3 16-2-14 4 13-1-6 2 3 1-8 2 7 0 6 1-15 3 10 0-5 2 9 0-7 2 4 1-9 2 4 1 5 1 4 0L1475.7 807.4A287.5 287.5 0 0 0 1391 632.6ZM1542 810l-11 2 14 1-8 1 7 1 0 1-14 2 5 1 4 1-6 2 10 1-8 1-3 2 1 1 11 1 3 1-16 1 3 1 3 2-4 1-3 1 11 1-1 1-7 2 9 1 2 1-1 1-3 2-7 1 10 1-1 1-5 1 3 2 4 1-5 1 1 1-5 1 9 2-14 1 13 2-12 0 11 2-8 1 5 1 1 2 0 1-7 0-3 1 13 3-13 0 2 1 0 1 11 3-1 1-7 0-7 1 7 2-5 0 8 3-7 0-1 1 2 2-4 0 10 3-2 1-5 0 0 2 10 2-14-1 0 2 13 3-14-1 13 3-12-1 10 3-12-1 0 2 6 2 2 2-3 0-4 1 9 3-10-1 3 2 9 3-5 0-9 0 2 1-3 1 11 3-4 1-3 0-4 1 7 3-5 0 2 1 5 3 3 2-13-2 11 4-12-2-2 1 1 1 10 4 1 2-8-1 1 1 7 4-4 0-4 0 2 2-10-2 14 6-10-2 6 3-11-2 1 1 8 4-10-2 13 6-14-4 5 3 5 4-2 0 0 2-10-3 4 3 7 4-8-2 7 4-3 0-5-1 6 4-5-1-5 0 10 5-5 0-4-1 8 5-9-3 9 5-1 2-10-4 4 4 0 1 3 2-9-2-3 0 11 6-13-5 8 6-7-3 0 2-3 0 7 4-4 0-5-1 8 5-1 1-5-1 1 2-3-1-3 1 1 1 0 2 1 1 0 2-3-1 6 5 2 3-1 1-4-1 7 5-16-8 12 9-3-1-6-2 10 8-6-2-6-3-1 1 6 6-6-3 3 3 2 3 0 2-11-6 8 7-11-6 1 2 7 6-8-4 2 3 4 5-3-1 1 2-7-4-4-1 12 10-6-2 0 1-2 0-7-3 2 2 1 3 7 6-8-4 4 5 0 1-7-4-2 0 2 3 5 5-6-3 1 3 7 7-5-2-12-8 9 9 1 1-2 1-9-6 4 5 5 5-5-2 0 2-2-1-4-1-4-2 9 10-10-8 4 5-4-2-2 0-2 0 10 11-7-5 4 6-8-6-2-1 3 5 1 3 2 4-10-8 0 1 5 6-9-7 4 6 2 4 1 2-1 2 1 2-5-3 2 3-11-9 5 7-5-4 8 11-8-7L1384.8 1049.3A287.5 287.5 0 0 0 1476.4 815.4ZM1415 1096l6 9-4-3-2-1 1 4 3 5-11-10 6 8-3-1 1 3 4 6-3-2-1 1-3-2-3-1-6-6 0 2 4 7-7-7 8 13-9-10 3 5 3 7-10-11 5 8-1 1-3-2-2-1 0 2-4-4 4 9 1 3-3-2 1 4-5-6 2 6 0 1 0 3-7-9-2 0 4 8-2-1-4-3 1 3 1 3-4-3-5-5 5 9-5-6 4 10-7-9 5 10-2-1-1 0-6-6 3 7-5-6 4 9-5-6 5 10-4-4 0 3-2-1-6-9 2 6-2 0 4 9-6-9 4 10-2 0-3-4-1 1-2 0 1 5-4-7-3-2 1 3 2 7-4-4 3 8-3-2-6-11 3 10-1 0-1 1-2-2-1 2 1 4-4-6 1 6-5-8 4 11-4-6 1 7-6-11 0 3 1 5-3-5 1 6-1 0-1 2-1 2 0 4-3-6 0 3-1 0-3-3 1 7-6-14 3 12-4-9-1 3-2-2 1 5-1 1-1 0-3-5-1 1-1 2-1 2-1-1 2 11-6-14-1 0 3 14-4-9 0 3-1 3 0 4-2-2-3-9-2 0 3 13-5-13 2 11-2-1-4-10 0 6-2-4 0 5-1-1-2-4-1 4 2 12-4-12 0 6-3-7-1-2 0 6-1 4-2-6-2 0 1 10-3-12 1 14-4-14-1 0-1 0-1 0 0 9-2-4-2-1 1 9-1 2-4-14 1 12-3-10 1 13-3-13-1 2 0 8-1 5-2-7-2-7 0 12-1 0-2-10-1 5-1 5-2-5-1-8 0 20-2-11-2-5L1211.9 1124.7A287.5 287.5 0 0 0 1378.8 1054.6ZM1207 1183l-1 11-1-1-2-4-1-4-1 5-2-12-1 10-1 1-1 4-1-4-2-10-1 10-1 7-1-17-1 13-2-13-1 5-1-4-1 5-2-2-1-5-1 6-1 0-1-1-1-3-2-1-1 14-2 0-1 0-1-5-1 1-1-2-2 4 0-12-2 4-1-5-1 9-1-7-2 8 0-11-2 10-2 3 0-7-2 1-1 2-1-3-1 0-2 6-1-2-2 3 0-8-1-4-3 13 0-5 0-8-3 9 1-12-2 5-2 2-1-1 0-7-2 1-1 2-1-2-3 13 1-15-1 1-1-1-2 4-3 7-2 2 0-6 1-9-2 4-4 10-1 0 0-4-1-3 0-3-2 3-2 3 1-10-3 9 1-10-3 7-3 5-1-2-1 0 0-3-1-1-1-2 1-7-3 4-2 4-2 3 1-8-3 4-2 2 3-11-3 3 0-3-1-2-4 11 2-10-3 3 1-6-1 0-4 7-3 4 1-6-2 1-1 1-3 4 4-14-2 0-1 0-5 10-2 2 3-12-4 8 2-7-5 9 2-10-2 1 2-6-2 2-6 11-1-1 3-10-3 2-3 6 3-12-4 8-2 1-1-2 4-10-7 10 4-11-2 3-6 9 3-9 0-3-5 8 1-4 0-4-3 4 2-8L1060.6 1094.8A287.5 287.5 0 0 0 1203.8 1125.2ZM1026 1142l-4 4 3-8-4 6-3 3 0-3-2 1 2-5-3 2 2-5-5 5 2-6-6 8 7-14-6 7-2 1-1-1-2 2 4-8-1-2-3 2 1-3-1-1-7 9-1-1 2-6-4 4 4-8-6 7-1 0 4-8 2-5-5 5-6 5 1-2-1-1 1-4 3-6-7 7-2 2 3-7-5 5 4-8-4 3-3 2 0-2 4-6-3 1 1-3-3 1 1-3-5 5 0-2-2 1 5-9-3 2-5 5 3-7 2-3-10 10 0-3 0-2 5-7-1-1-1 0 1-3-5 4 3-6-2 1-1 0-4 2-6 4 3-5-1-1 1-3-1 0-4 2 3-4 0-2-6 4 2-4-5 3 1-2 4-6 1-2-9 7 5-7 2-4-8 7 5-7-10 8 3-5 3-4-4 2-9 7 11-12-1-1-3 1 1-2 2-4-6 4-4 2 1-3 6-7-1 0-8 5-3 1-3 1 10-10-1 0-6 3-1-1-4 1 2-3 6-6-11 7 5-5 3-5-2 1-3 0-1 0 4-4-8 4-3 0-2 0 1-2-4 2 5-6-1 0 6-7-9 6-3 0 0-1-1-1 2-3 6-6-11 6 11-8-10 5 6-6-6 3 8-7-4 1-2 1 4-5-8 4 3-3-2-1-3 1-5 2 2-3 8-6-1-1-7 3-4 1 3-3-3 0 0-2 0-1-3 0 0-1 4-4-5 1 4-3-7 2 10-7-3 1-2 0 4-4-11 5 3-3-4 0 7-5-7 3-5 0 4-3-3 0 5-3-5 0 8-5-5 2-5 0 2-2L929.7 960.4A287.5 287.5 0 0 0 1053.5 1091.1ZM866 979l10-5-9 2 1-1-2-1 3-2-8 2 7-5-1 0 6-4-12 3 3-2 7-4-10 2 1-1 0-2 2-2-7 1 10-5 2-2-5 1 3-2 1-2-6 1-3 0 4-3-3 0 2-2-3-1-4 0 8-3-5 0-7 1 12-5 0-1-14 3 11-5 2-2 0-1-14 3 8-4 4-2-12 2 11-4-1-1 0-1-11 1-1-1 6-3-7 1 3-2 8-3-4-1-5 0 0-1-2-1 12-4-2-1-8 1 9-3-14 1 2-1-3-1 4-2 0-1 1-2 3-2 6-2-15 2 10-3-7 0 8-3 1-1-1-1 1-2-5 0-12 0 4-1 7-3 7-2-3-1-12 1 4-2 3-2 3-1-8 0 12-3-3-1-13 0 7-2 1-1 7-2-12 0-2-1 0-1-2-1 9-2 1-2-4-1-1-1 10-2 0-1-13 0 7-2-5-1 1-1-4-1 4-2 1-1-2-1-3-1 4-1 2-2-3-1 1-1 5-1 3-2-4-1 2-1-6-1 7-1-3-2-7-1 4-1-4-1 12-1-14-2 2-1 9-1 4-1-15-2 1-1 12-1-3-1-7-2 0-1 10 0 0-2-3-1 0-1 5-1-7-2 6-1-11-2 11 0-13-2 11-1-6-1-3-2 7 0-2-2 3-1-3-1-3-2 7 0-1-2-2-1 2-1 3-1-5-2 4 0 3-1 1-1 0-2-4-1 5-1-7-2 8 0-12-3 4-1 8 0 1-1-1-1-1-1 3-1-7-3 0-1 5 0 2-1-10-3 8 0-11-3 5-1 8 1-8-3-2-2 9 1 0-1-7-3 0-2 1-1-3-1 13 2-12-5 7 1-3-2-3-2 10 1-7-3 11 2-11-5 2 0-2-2 10 1 3 0-3-2-7-4-1-1 12 2-13-5 2-1-1-1 14 3-1-1-5-3-2-2 6 0-4-3L919.3 740.6A287.5 287.5 0 0 0 926.3 953.1ZM861 709l11 3 0-1-12-6 11 3-7-4 12 3-1-1-3-3-6-4 11 4-7-5 4 1-5-4 2-1-4-3 1 0 6 1-2-2 7 2-9-6 3 0 0-1 5 1 2 0 4 0-9-6 7 3-7-5 9 3-6-5-1-2 12 5-13-8 11 5 3 0-13-8 1-2 2 0 0-1 6 2 1-1 3 0-7-6 8 4 5 2 1-1-12-9 3 1 7 2-7-6 5 2 2 0-6-5 2 0 4 1 8 3-12-9 11 6-7-6 5 2-4-5 8 4-2-2 3 0-3-3 1-1 6 3-7-7 8 4-10-9 6 3-2-3 3 2 6 2-7-6 6 3-6-6 1-2 11 7-9-8 4 2-1-3 8 5-3-4 4 1-7-6 7 4 3 0 1-1-7-7-2-3 8 5-4-5-2-3 1-1 9 7 0-3 1 0-2-4 4 2 4 3-7-8 1-1 0-2 0-1 11 8-7-9-1-2 1 0 4 1-2-3 7 5-4-6-1-2 6 4 3 1 1-1-4-5 1-1 7 6-8-10 5 3-2-4 8 7-3-6 5 4-5-7 4 2-4-5 8 6 2 0-1-2-3-5-3-5 7 5-5-7 0-1 3 1 2 0 5 4-1-2-2-5-1-3 6 5-4-6 5 3 0-1-1-4 6 6 3 2 2 0-4-6 4 3-6-10 9 9-4-7 3 2-5-8 10 11-5-8-2-7 8 11-3-7 6 6-3-6-2-5 2 1 1-1 6 6-6-10 5 4 4 5-6-11 9 10-3-6-2-5 3 2-1-4 8 11 1-1-5-10 3 1 3 3-4-8 4 4 2 0L1040.4 592.3A287.5 287.5 0 0 0 922.1 733.1ZM1021 542l0-3-2-6 3 4 3 2-5-10 2 1 4 5 3 2 0-3-1-4 3 4 0-4-2-5 1-3 5 7-3-8 1 0 6 9 2 1-7-17 9 16-1-6-1-3 1-2 4 7-4-12 8 14-4-11 6 9-2-7-1-5 5 9-4-12 4 5 1-1 1-1-1-5 6 12 1-2 0-3 2 1-2-7 1 0 3 3 3 4-2-7 4 7-2-8 0-4 5 10-1-6 3 5-3-12 5 10 0-3 1-3 0-3 1-1 1 0 1 0 5 11-1-7 0-6 5 11 0-1-1-7 0-5 1-1 3 6 0-7 4 13-1-11 3 7 1-2 0-2 3 4 1-1-1-8 0-3 5 14 0-6 0-5 0-3 5 12 0-2-1-11 4 12 1 1-1-14 3 11 0-6 0-6 3 9 0-7 2 1 0-3 1-2 3 10 0-8 3 9 1 0 1-2 0-5 1-1 1-3 3 9 1 2 2 1 0-6 2 3 1 3 1-1 0-9 3 7-1-11 2 6 2 0 0-8 2 6 1 2 2 1 1-1 1-4 0-4 2 5 2 10 1-5 1-8 1 6 2 5 1-1 1-3 1 2 1-11 2 11 0-15 2 3 1 14 1-11 2 7 1-10 1 13 1 0 1-4 2 3 1-4 1 2 1 2 1-8 2 10 1-5 1 4 1-3 2-8 1 8 1-2 1 2 1-7 2-2 1-1 1 8 1-3 1 1 2-5 1 2 1 11 2-13 1 1 0 13 1 0 2-4 2-8 1 2 1 2 1 4 1-3 1 3 1 6 2-6 0 6L1221.3 552.2A287.5 287.5 0 0 0 1047.4 588.3Z" fill="#bfe4f3"/>
<path d="M1236 502l2 0 1 0 0 5 2-5 1 0 0 6 1-1 1-1 2 0 1 1 1-5 0 7 2-3 0 3 3-7-1 8 2-4 1 3 2-4 0 1 1 1 1 2 1-1 2-2 1-1 0 8 2-8 0 5 1 3 1-1 2-4 2-2-1 5 2 0 1-1 0 3 2-1 1 1 4-13-1 9-1 7 3-7-1 7 3-5-1 5 3-5 1 0-1 7 3-7-1 7 3-6 1 1 1 1-1 6 5-12-2 9 2-1-1 5 3-5 2-2-1 5 2-2 1-1 1 2-1 6 1 1 2-4 1 1 1 1 0 1 2 0 1-1 1 0 3-3 1 0-2 7 2-1 1-2 1 3 0 2 2-2 0 4 4-7-2 6 2-1 2-3 2-1-2 8 3-4 1-2 0 3 1 1 2-3-1 6 3-4-1 4 1 1 1 0 1 1 1 1 1-1 1 0 3-2 0 2 0 2 1 1 0 1 4-5 0 3 2-2-3 7 6-8 1 0-3 9 0 1 1 1 2-2 2-1-1 4 4-6 0 3 0 2 4-4-3 7 2-2 0 2 2-1 2-1 1 0 0 3 2-3-2 6 1 1 7-9-1 4-3 6 2-1 3-3-3 7 5-5-2 5 4-6 0 3 2-2-4 9 1 1 4-5 0 2-1 3 2-1-1 4 1 0 5-5 1 0 0 3-1 2-1 3 5-5-2 5 1 1-1 2 6-6 1 1-2 4 3-2-1 3 1 1 3-3-1 4 3-3 1 1 0 1-3 6 5-5-1 4 3-3-2 4 4-2 1 0-3 5 4-3-2 4 1 1 1 0 2-1-2 4 2-1-2 4 5-3-3 4 7-6-3 5-1 3L1385.1 627.1A287.5 287.5 0 0 0 1229.3 553.2ZM1429 594l-3 4 2 0 0 1 0 2 1 1-1 2 6-4 0 1-1 2 2 0 1 1-1 2 2-1-2 4 4-3-3 5 5-3 3-1-2 3-2 3 2-1 0 2 0 1 4-2-3 4 3-1 4-2-5 6 5-3 0 1-2 3 1 1-1 2 0 1 6-3 0 1-1 2 1 1 6-4-8 8 4-1-2 2 5-2 0 1 2 0-5 5 3 0 0 1 1 0 2 0 1 1-4 4 1 1 2-1 0 2 0 1 2 0 1 0-2 3 3-1 5-2 0 1 0 2-3 3 1 1 0 1 3-1-1 2 2 0 1 1 4-2-1 2-1 2 3 0-5 4 2 0 3-1 0 1 0 2 3-1-2 3 3-1-3 3 0 2-1 1 0 2 2-1 2 0 1 1 0 1 2 1 2 0 5-2-8 6 5-2-2 2 3 0-3 3 4-1-7 5 10-4-5 4-3 3 7-3-3 3-1 1 8-2-5 3 2 0 2 1-3 2 0 2-3 2 2 0 5-1 0 1 1 1 1 1-2 2-2 2 2 0 10-3-4 3-3 2 2 1-2 2-3 2 3 0 3 0 1 1 1 0-4 3 3 0-4 3 0 1 0 1 5-1-2 2 3 0-5 3 7-1 2 0-2 2-5 3 3 0 0 1 6-1-4 3-1 1-2 2 5-1 1 1 3 0-8 4 1 1 7-1-3 2-4 2 6-1-5 3 6-1-3 2 3 1 1 0-3 2 5 0 1 1-6 3 7-1-7 3 4 0 3 0 0 1-1 2 6-1-7 3 1 1 2 0-7 3 1 1 7 0-2 1 2 1-4 2-1 1 7 0 0 1 0 1-3 1 9 0-13 4 8-1-6 2 6 0-7 3 4 0 1 1 1 1-1 1 6 0-4 2 4 0-4 2 0 1 2 1-8 2 9 0-6 2 2 1 4 0 4 1-11 2 8 0-1 1-8 2 8 1 2 1-1 1-5 1L1475.7 807.4A287.5 287.5 0 0 0 1391 632.6ZM1531 811l-2 1-4 2 0 1 2 1 10 0-14 2 5 1-5 1 0 1 1 1 6 1-1 1 0 1-5 1 0 2 4 0 2 2-4 1 0 1 3 1-2 1 4 1-4 1 0 1 1 1 3 1-2 1-1 1 4 1-3 1-4 1 1 1 1 2 3 1 0 1 1 1 3 1-11 1 5 1-5 1 5 1-5 1 5 1-5 1 10 2-4 1 2 1-7 0-1 1 0 1 5 2-5 0 2 2 2 1-3 1 0 1 6 1-2 1-1 1-3 1-3 1 7 2-4 0 3 2-3 0 2 2-4 0 4 2-4 0 5 2 2 2-2 0-1 1-4 1-3 0 5 2 1 1-6 1 10 2-8 0 4 2-5 0 3 2 2 1-1 1-7 0 7 2-4 0 1 2 3 1-3 1-4 0 0 1 6 3-6-1 1 2 3 2-2 0 1 1-2 1-3 0-1 1 2 2 4 2-3 0 3 2-4 0-2 1 4 2-3 0 3 2-2 1-3 0 4 2-1 1 0 1 0 1-2 1-2 0 3 2-5 0-1 1-1 1 2 1 5 3-2 1-5-1-2 0 3 3 4 2-7-1 2 2 4 2-6-1-1 1 2 2-2 0 2 2-5-1 3 3 0 1 0 1-4-1 6 4-4-1 0 2 0 1-2 0 0 1 1 2-2 0 3 2-3 0 4 3-1 1-4-1-1 1-3 0 4 3-2 0-2 0-1 1 0 1 4 3 0 2-6-2-1 1 8 5-8-3 0 1 5 4-2 0 1 2-8-3 0 1 4 3 5 4-5-1-3-1 0 1-1 1-2 0 2 3-2-1-1 1 4 4-5-2-3 0 5 4-4-1-2 0 2 2 0 2-3-1 1 2 0 1-3-1 4 4-5-2 2 3-3-1-1 1 4 4-1 0-1 1-4-1 4 3-1 1 1 2-5-2-2 0 5 4-1 1-1 1-4-2 2 3-2 0 3 3 4 4-7-3-2 0-3-1-1 0 3 4-4-2-1 0 5 6-2-1 1 3-7-4 2 2-1 1-2 0 3 4 1 2-5-3 0 2 3 3-3-1 2 3-7-4 2 3-4-2 0 1 4 5-4-2 2 3-2 0 2 3-4-2-2 0 2 3-2-1 0 2-2-1 3 5-5-3 3 3 3 5-4-3-3 0-2-1 3 4-4-2 6 7-7-5 3 4-7-5 0 2 5 5-4-1 1 2 0 1-4-2 2 3-5-3 0 1 2 4-1 0-2 0 0 1-2 0-3-2 3 5 0 2-5-4 1 3L1384.8 1049.3A287.5 287.5 0 0 0 1476.4 815.4ZM1412 1093l-1 0-1 1-1 0 0 2-1 0 2 4-3-2-4-3-1 0 3 6 2 5-4-4-4-3-1 1 4 6-3-3 0 3-3-2 2 3-3-1 0 1-3-2 1 3 0 2-3-3 0 3-2-2-2 0 4 7 3 6-9-11 0 2-1 0 0 3-1 0 1 4-5-6 1 3-2-2 3 8-2-2 0 2-2-1-4-4 2 5 2 6-6-8 1 4 0 2-3-4-1 1-1 1 2 4-4-3 2 4-1 0 0 2-4-4 4 9-6-8 2 5-4-4 0 2 0 3-2-2 0 2-1 1-2-3-2 0 5 10-7-10 1 4-2-1-1 1 1 4-3-4-1 1 1 4-4-5 0 1 1 6-1 0-1 0-1 1-1-1-2-2 1 5-4-5 2 6-3-4 1 6-2-2-1 0-3-5-1 2 2 5-2 0-1 0-1-1-1 0 0 4-1 0-1 1-2-3-1 0 0 3-2-1 0 3-2-3-2-2 1 6-1 1-3-7 0 4-2-2 2 8-3-6-2-1 0 3-1 0-2-2-1 0 0 5-2-4-1-1 0 6-2-4 0 2-1 2-1 0-2-3-1 0 1 9-2-5-1 1-3-5 2 8-1 0-2 0-2-4 0 2-1 1-1 1-1 0-1 2-2-2-1-2-2-2 0 5 0 1-2-2-1 1-2-4 1 8-1-1 0 7-3-7-1 0-1-2 0 8-3-10 0 2-2-2-1 0 0 4-1 4-2-6 0 5-1-1-2-1-1-1 0 5-2-7-1 5 0 1-1 1-1 1-3-8 0 3-1 1 0 9-2-9-2-2 0 2 0 7-3-8-1 1 0 2-2-3-1 3 0 6-2-6-1 0-1 3-1-2-1 3-1-4-1 4-1-6-1 5-1-5 0 15-2-12L1211.9 1124.7A287.5 287.5 0 0 0 1378.8 1054.6ZM1206 1177l-1-4-1 0-1 4-1-2-1-1-1 4-1 1-1-7-1 8-1 0-1-1-2-6-1 4-1 2-1-3-1 0-1-2-1 2-1 2-1-2-1-2-1 4-1-4-1-2-1 1-1 2-1-3-2 3-1 5-1-5-1 4-1-6-1-1-1 2-1-1-1 1-1-3-1 8-1-9-2 9 0-4-2 2 0-6-1 2-2 3-1 4-1-6-1-3-1 5-2 4 0-11-1 7-1-1-1-1-2 1-1 1 0-3-1-5-2 6-1 3 0-6-2 5-1-4-1 3-2 5 1-12-2 2-1 2-2 2 0-6-1 3-1 1-1-5-2 5 0-2-1-2-1-3-2 9-1-3-1-2 0-4-2 5 0-6-2 5-1-2-1 3-1-2 0-5-3 8 0-4 0-3-3 4 1-5-3 5-1 0-1-1 1-5-3 5 1-7-3 5 0-1-2 1-1 0-1 1 0-5-3 5 1-5-1-2-3 5 0 0-3 3 1-7-1 2-2 1 2-8-2 1-1-1-3 6-2 4 2-8-2 1 1-5-2 1-1-1 0-1-3 4 0-2-2 1-1-1 1-3-4 5 1-5-2 2 0-4-1 1-2 3 0-4-2 3-2 2 1-6-3 4-1 0 0-2-2 1-2 2 3-10-3 6 1-6-3 4-2 2 2-6-2 2-1-2-2 2-2 2 2-6-2 1-4 5 1-3-1-1 0-1-3 1-1 0L1060.6 1094.8A287.5 287.5 0 0 0 1203.8 1125.2ZM1031 1132l-3 4 2-5-5 6 3-8-1 0-5 6 2-5 0-2 0-1-2 1-1-1 0-1-5 6 2-6-1-1-1 0-2 2-3 2 3-7-8 11 3-7 1-3-2 1-2 2-1-1 0-2 1-4-2 1-2 2 2-5-3 2-2 1 3-6-1 0-3 2 0-2 0-2 0-2-5 6 3-6-3 1-3 4 0-3-1-1 0-1-2 1 0-2-1-1-2 1 0-1 3-6-4 3-3 3 2-5-1 0 1-2-2 0-3 2-2 0-1 0 0-1 3-6-2 1 1-3-4 3 3-5-10 10 7-10-4 3-1 0-7 6 9-11 0-2-4 3-3 1 3-4-3 1 0-1-3 1 0-1 2-4-3 2-2 0 4-5-5 3-1-1-1 0 2-4-2 1 1-2-4 2 4-6-1 0-1 0-6 4 2-4-2 1 1-2-2 0-2 1-1-2 2-3-1 0-1 0 0-2-3 1 0-1 3-5-3 1-2 1-2 1 1-2-2 0 3-4 0-2-11 8 7-7 1-2-3 1-3 1 1-3-1 0-2 0 6-6-2 0-1-1 0-1-3 2-1-1-3 1 5-6-6 4 2-3-2 0-3 1 2-3-3 1 0-1 5-5-1-1-7 4 0-2 3-3-4 2 5-5-3 1-3 0 5-4-1-1-1-1-3 2-6 2 5-4-3 0 3-3-1-1-5 3 2-3 3-4-5 2 0-1 1-2-5 2 6-5-1-1-1 0-2 0-3 1 5-5-5 2 3-3-4 1 2-2 1-2-5 2 4-4-1-1-7 3 1-2 1-1-1-1 1-2 0-1-5 1-1 0 0-2 4-3-6 2 1-2 2-2 0-1 1-2-3 1 1-2 2-2-5 1 2-2-9 3 6-4-2 0 0-1 0-2L929.7 960.4A287.5 287.5 0 0 0 1053.5 1091.1ZM881 973l-5 1 3-3-1 0-2-1 5-3 0-1-4 1 4-3-2-1 1-1-7 2 7-4-3 0 1-2 0-1-6 1 0-1 1-1 3-3 0-1-12 3 12-5-8 2 7-4-5 1 3-3-5 1 3-2-2 0 4-3-1-1-13 4 8-4-1-1-2 0 3-3-3 0 4-2 1-1-2-1-1-1-5 1 5-3-5 0 3-2-1 0 1-2-2 0 2-2-10 1 6-2 6-3-1-1-5 0 2-1 0-1 0-1-9 1 12-4-3-1-4 0 6-2-8 1 3-2-8 0 11-3 1-1-7 0-1-1 1-1 0-1 3-2-2-1 4-1 0-1-5-1-3 0 4-2 0-1 3-2-5 0 1-1-2-1 4-2-2 0-3-1-2-1 4-1 1-2 3-1-3-1 0-1 2-1-5-1 2-1-6 0 8-2-7-1 7-1-6-1 2-1 2-1-5-1 2-1 5-2-1-1-3-1 1-1 0-1-1-1 3-1-5-1 6-1-5-1-3-1-1-1 8-1-14-1 13-1-5-1 1-1 4-1 0-2 0-1-5-1 2-1 4-1 0-1-2-1 2-1-4-1 0-1-2-1 0-1 5-1-3-1-3-1 5-1 1-1 0-1-4-2 4-1-1-1-2-1 5-1-5-1-2-1 7-1-4-1 2-1-1-1-2-1 0-1 5-1 0-1-2-1 1-1 1-1-5-2 5 0-7-2 1-1 2-1 0-1 5-1-6-1 6-1-3-1-3-2 0-1-1-1 9 0-3-1 2-1-5-2 1-1 1-1-3-1 1-1 5 0-4-2 1-1 1-1-2-1-1-2 2 0 6 0-8-3 1-1 6 0-7-2 7 0-3-2-3-1 1-1 3-1 0-1-2-1 2-1 5 0-8-2 5-1 2 0-6-3 4 0 3 0-1-2-1-1 2 0 1-1-2-2-4-2 2-1-2-1 7 0 0 0-5-3 5 0 1 0-4-3 1-1-1-1 0-1 5 0-3-2 1-1 0-1 0-1-1-1 5 0-1-1 2-1-4-2 5 1-1-2 2-1 1 0 1-1-5-3-1-1 7 1L919.3 740.6A287.5 287.5 0 0 0 926.3 953.1ZM874 714l1 0-1-2-1-2 1 0 1-1 3 0-3-2 5 1 1-1-3-3 0-1 5 1-2-2-1-2-1-1-2-2 6 1-2-2 3 0-2-2-1-1 2-1 4 1-5-3 4 1-3-3 7 2-1-2-5-3 5 1 2 0 1-1-2-2 0-1-3-3 8 3-5-4 4 1 0-1 2 0-6-5 6 2 2 0-6-4 4 1-8-6 3 1 5 1-1-2 7 3-1-2 0-1-4-4 3 1 0-1 2 0-2-3-1-1 1-1 4 1 0-1-1-2 3 0 0-1-2-2 1-1 6 2-1-1-3-4 1 0-4-4 9 5 1-1-4-4 1-1 0-1 7 4-4-5 2 1-1-2 1-1 4 2-3-4 3 1-2-3-1-2 7 4-6-6 4 2-7-6 7 3-1-2 6 4 1-1-4-4 5 2 0-2-4-4 5 3 2 0-3-4 2 1 2 0 2 0-2-3-3-4 3 1 2 0-1-2-6-6 9 6 3 1-5-6 7 5-5-6 5 4 1-1-9-10 6 4 5 3 2 1-2-3-2-3 1-2 4 3-3-4 1-1 0-1 3 1 3 2-3-5 5 4-4-6 3 2 4 2-1-3-3-4 1-1 4 3 0-1-1-3 4 3 2 0 1 0-4-6 2 0 4 4-1-4 3 2-1-2 1 0-1-3-1-3 5 3-2-3 3 2-5-8 3 2 1 0 2 0 3 2-1-2 3 2-1-3 1-1 3 2 0-2-1-2 0-2 2 0 0-1 2 1 3 2-1-3-3-6 3 2 0-1 1-1 5 5-4-7 5 5-1-3 1-1-1-2 2-1 0-1 0-1 5 5 0-1-2-6 5 5-3-6 4 5 0-2-2-5 6 6-3-7 4 5-2-5 2 2-1-4 4 5-1-4 2 1 1-1-3-7 3 3L1040.4 592.3A287.5 287.5 0 0 0 922.1 733.1ZM1021 543l4 4-1-4 1 1 0-3 4 5-1-4 3 2-2-5 3 4-1-5 0-2 1 0 1-1 3 3-3-8 4 5 0-1 2 2 1-1 1-1 2 3-1-5 3 3-1-4 3 4 2 0-2-6 3 4 0-2 0-3 2 2 1 1 2 0-1-5 2 3 1 1-1-7 4 7 1 0 0-3 0-4 3 6 0-4 1 0 1 1 1 0-1-7 3 4 0-1 1-1 2 1 1 2-1-7 4 8-1-5 1 0 1-3 2 3 2 2 0-3 0-3 2 4 1-1-1-5 2 3 1-3 1 0 1-1 1 1 1 0 3 5 1 0-1-5 3 3 1 0 1 1 0-4 2 2 1 0-3-12 4 9-2-10 3 7 3 6 0-6 1 3 0-4 1-3 3 8 0-4 1-1 1 0 1 1 1-3 1 1 1-3 2 4-1-5 1 0 3 7 0-6 1-1 2 5 1 0 1 1 0-5 2 1 0-5 2 5 0-4 2 6 1-3 1 1 1 0 1 2 2 0 1 0 0-3 1 0 1-2 1 2 1-1 2 0 1 2 0-4 1-1 1-1 2 4 1 2 0-7 2 1 1 3 1-1 1 4 1-6 1 4 1-6 1 2 1 1 2 4 0-2 2 2 0-8 1 2 1-8 1 6 2 3 1 5 0-11 2 5 1-2 1 0 1 3 1 0 1-2 1 5 1-1 1-3 2 6 0-7 2 6 1-1 1-3 1 0 1-1 1 6 1-3 1-4 1 1 1-2 1 3 1-7 1 3 1 2 1 6 1-1 2-6 1 0 1 1 1-1 1 2 1-4 1 4 1 3 1-5 1 6 1 0 1 0 1 2 1-1 2-6 1 0 0 7 2-7 0 7 2-5 0 7 2-8 1 5 0 3L1221.3 552.2A287.5 287.5 0 0 0 1047.4 588.3Z" fill="#7ec8e7"/>
<path d="M1236 507l0 3 1 0 2-2 1 0 1 1 0 3 2-4 1 3 1-2 1 1 1 3 1-4 1 4 1-2 1-1 1 4 1 0 1 0 2-4 0 4 2-4 0 3 1 0 1-1 2 0 0 3 2-2 0 3 1 0 1-1 2-2 1 2 1 0 0 1 1 0 1 0 2-1 1 1 0 2 3-5-1 7 2-3 1-1 1 2 1 1 1-1 0 3 1-1 2-2 1 1 1 0 2-2-1 5 2-1 1 0 1 0 1 1 0 2 2-2 1 0 1 1 0 2 2-1 0 2 1-1 2 0 0 1 1 2 2-3 0 2 2 0 1-1 1-1 1 2 0 2 1 2 1 0 1 1 1 0 0 1 2-2 2-1-1 4 2-2 2 0 0 2 1-1 4-5-3 8 2-2 1 2 1-2 1 1 0 3 2-1 0 2 3-3-1 3 1 1 2-2-1 4 3-4-1 5 3-4 1 0 0 4 1-1 0 2 2 0-1 3 3-3 0 1 2 1-1 2 2-1 3-2 1-1-2 5 2-1 0 2 1 0 1 2 3-3-2 4 2-1 4-4 0 3-1 2 2 0 0 1 1 1 0 1 1 1 2-1 3-3 0 2-2 5 2-1 1 1 1-1 0 2 1 0 2-1 1 2 2-1-2 4 3-3 1 1 0 2 0 2 2-1 2-1 0 2 1 0 0 2 0 1 3-2-2 4 2 0 2-1-1 2 1 1 3-2-2 4 4-3-1 3 0 2 3-3-1 4 3-3-1 3 2 0 1 0-1 3 3-2 1 1 0 1 0 1-1 3 4-3-2 4 2-1 2 0 1 0 1 1 1 0-2 4 3-1-2 3 3-2 0 1 0 3 1-1L1385.1 627.1A287.5 287.5 0 0 0 1229.3 553.2ZM1422 601l2 0-2 3 1 0 3-1 2 0-2 3 1 0 1 1 6-5-3 5-1 2 0 1 3 0-1 1 1 1 1 0 6-4-3 5-2 3 4-2-3 4 3-1-2 3 3-2-1 3 1 1 1 0 0 1 2 0 1 0 1 0 1 1 0 2 1 0-1 2 2 0 1 1 2 0-1 2 2 0-3 3 4-2 1 0 0 2-1 2 1 1 2 0-2 2 4-1-2 3 0 1 3-1 1 0-2 3 1 0 0 2 4-2-2 3 2 0 3-1-4 5 1 0 0 1 1 1 2 0 0 1 0 1 1 1-1 2 1 0 1 0 1 2 1 0 0 1 1 1-1 2 4-2 0 2-1 2 3-1 3-1-4 4 2 0 0 1 2 0-2 2 1 1 2 0 0 1 1 1-1 2 2 0-2 2 3 0-1 2 2-1-2 3 0 1 3 0-1 1 2 1-2 2 2 0 1 0 2 1 0 1-3 3 2 0 3 0 0 0-3 3 1 1 4-1-3 3 2 0 1 1 1 0-2 2-1 2 2 0 0 2 5-1-2 2-1 1 0 1-1 2 2 0 2 0-2 2 3 0-3 3 3-1-2 2 1 1 3 0 1 1-1 1-1 2 3 0-1 1 1 1-2 2 1 0 1 1 1 1 1 1-2 2 2 0 1 1-2 1 2 1-1 2 2 0-1 1 1 1-2 2 2 0 0 1 0 1 3 1 0 1 0 1-1 1-1 2 0 1 3 0 1 1 0 1 1 1-5 2 3 0 1 1 2 1-3 2 2 0-1 2-1 1 4 0 0 1-2 2 2 0 1 1-2 2 2 0 1 1-2 1 2 1-3 2 1 1-4 2 5 0 2 0-4 2 2 1 3 0 0 2 0 0-4 2 2 1 2 1-2 1 4 1-1 1-4 1 2 1 1 1 3 1-5 2 1 0 3 1-2 1 5 1-7 2 4 0-3 2 0 1 4 0-2 2-2 1L1475.7 807.4A287.5 287.5 0 0 0 1391 632.6ZM1520 812l3 1 1 1-5 1 5 1-3 1-2 1 2 1-1 1 4 1-3 1-1 1-3 2 7 0 1 1-1 2-1 1 0 1-1 1-3 1 3 1 2 1-1 1 0 1 0 1 2 1-1 1-3 1 1 1 2 1 1 1-5 1 3 1 2 2-3 1-1 1 2 1 1 1-1 1 0 1-2 1-1 1 3 1-3 1 1 1-1 1 0 1 0 1 0 1 2 1 1 1 1 1-4 1-1 1 2 1-2 1 2 2-2 0 1 1 0 2 0 1 0 1 1 1-3 1 3 1-1 1 1 1-2 1-1 1-1 1 3 1 1 1 5 2-8 0 2 1 1 2-5 0 1 1-1 1 0 1 3 2-1 0 1 2-1 1-1 1 0 1-2 0 3 2-4 0 4 2-3 1-1 1-2 0 1 1 1 2-1 0 2 2-5 0 3 2 2 1 0 1 0 1-5 0 3 2-2 1 0 1-1 1-2 0 2 2 1 1-2 1 3 1 0 2-4 0 2 1-2 1 2 1-4 0 2 2 3 2-5 0 1 1-1 1-1 1 0 1 2 1 0 2-4-1 0 1 4 3-4-1-1 2 1 1 0 1 0 1 1 1-1 1 1 2-1 1-3 0 1 1-6-1 5 3-3 0 4 3-1 0 0 1-1 1-2 1-2 0 0 1 2 2 0 1 0 1-2 0-2 1 3 2-1 1-1 0-1 1 2 2-3 0 1 2-1 0 0 2-4-1 2 2 1 2-1 0 0 1-1 1-1 1-2 0 1 2-2 0 2 2-1 1-2 0 1 1 5 5-6-3 1 2-3 0 2 2-3-1 0 2 0 1 0 1-3 0 3 2-3 0 2 2-3 0-2 0 2 2-2 0 0 2-2-1 2 3 2 2-4-1 0 1 1 2-4-1-1 1-1 0 1 2-1 0 2 3-4-1 0 1 0 2 1 2-2-1 2 3-2 0-2 0 2 2-3 0 1 2-2-1-2 0 2 3-2 0 2 2-2 0 0 2-2-1 0 2-2 0 2 2-3 0 0 1 0 1-3 0 2 2 2 3-5-2-1 0 0 1-1 1-1 0-1 1 2 2-1 2-2-1-1 1-1 0 1 2-2 0 5 6-8-6 2 3-1 1-2-1-1 1 2 3-3-1-2-1 3 5-1 0-3-1-1 0 2 4-3-2 0 2 0 1-2 0 0 1 1 2 0 2-4-3 2 4-2-1-1 1 0 1-3-1 0 1-1 1 1 2-3-1 2 3-1 1-3-2-1 1 6 7-7-5 1 2L1384.8 1049.3A287.5 287.5 0 0 0 1476.4 815.4ZM1412 1092l-5-3-2-1-1 0 0 2-1 1 2 4-1 0 0 1-4-3 2 4 2 4-7-6 0 1 1 4-1 0-2-1-1 0-1 1 0 2 1 2-3-2 1 3-3-2-2-1 2 4-2 0 1 2-1 1-3-2 0 2-2-2 1 3-3-2 0 2 0 2-1 0-2-1 0 2-2-1-1 0 0 2 0 3-2-2-1 0 1 4-3-2 1 2-2-1-2 0 1 3-2-1-4-4 4 7-3-2 0 1-2 0-1 0-1 0 0 3 0 2-1 0 0 1-2-1 0 2-3-2 0 1-1 1-2-1 0 1-2-1-1 0 1 4-2 0-1 0-1 0 0 2-1 1-1 0-2-2-1 1 0 1-1 1-2-1 1 3-2 0-1-1-1 2-2-2 1 3-1 0-1 0-1 2-1 0-1 1-1-1-1 1-1 1-1-1-1 2 0 1-2-1-2-2 0 4-2-3-1 0-1 0 0 3-1 1-1-1-1 0-1 0-1 0-2 0 1 3-1 1-2 0-1-2 2 9-4-9-1 1 1 6-3-4-1-1-1 1-1 1 1 7-3-6-1 1 1 5-2-3-1-1-1 1-2-1-1-2 1 8-3-6-1 1-1-1-1 1-1 0 0 3-2-1 0 2-2-3 0 5-2-3-1 1-1-1-1 1-1-1-1 1-2-4 1 7-2-1-1-3-1 4-1-3-1 0-1 3-1 0-1-1-1 2 0 5-3-8 0 1-2-1 0 4-2-3 0 2-1 0-2-1-1 1-1 0 0 2-2-1 0 1-2 0 0 1-2-1-1 1 0 1-2-1-1-3-1 4-1 0-1-1-1 3-1-2-1 0-1-3-1 3-1-3-1 3-1-2-1 1-2-2-1 2-1-2-1 1-1 3-1-5-1 4-1-1L1211.9 1124.7A287.5 287.5 0 0 0 1378.8 1054.6ZM1206 1168l-1 0-1 3-1 5-1-4-1-3-1 1-1 1-1 2-1-2-1 0-2-3-1 3-1-2-1 2-1 0-1 1-1-1-1 1-1-3-1 1-1-1-1 1-1 1-1-1-1 3-1-3-1 2-1-2-1 2-2-1 0-2-1 0-2 2-1 1-1-2-1 2-1-2-1 2-1-3-1 1-1-1-1 2-1 0-1-1-2 4 0-5-1 2-1-1-1-3-2 3-1 0-1 4 0-13-2 7 0-3-2 3-1 1-1 1 0-5-2 2-1-2-1 4-1-3-1-1-1 2-1-2-1 3-1 0-1-1-1 0-1-3-1 1-1-2-1 2-1-1-2 2 0-2-1-2-1 0-2 4 0-4-2 2-1 0-1-2-1 0-1 2-1-2-1 1-1-1 0-3-2 3-1-1 0-2-2 2-1-2-1-1-1 1-3 6 0-4 0 0-1-1-1-3-1 1-1-1 0-2-2 2-1 0-1 0-1 0 0-6-2 5-1 0-1-1 0-3-1 0-2 3-1-2-1 1-2 1 1-5-1 0-1 0-1-1-2 2-1 1-1-2-1 1-1-2-1 2-1-3-1 0 0-1-1-1-3 3 0 0 0-4-3 4 1-5-1 0-2 2 0-2-2 1 0-3-2 2-1-1 0 0-1-2-1 1-1-1-2 1-1 0 0-3-1 0 0-2-1 0-1 0-2 2-1-1 0-3-2 3 0-3-1-1-1 0L1060.6 1094.8A287.5 287.5 0 0 0 1203.8 1125.2ZM1032 1132l-1-1-1-1-2 2 0-3 0-2-2 2-1-1-1 0 1-3-3 2 1-3-1 0-2 1 0-3-3 3 0-1-1-1 0-1-2 1 0-3 0-2-2 2-3 3 2-5-1-1-1 0 0-2-3 2 0-1 0-3-1 0-3 2 2-4-2 1-1 0-1-2-1 0-2 2 1-3-2 0-4 4 4-7-2 1-1 0-2 0 2-4-3 2-2 0 1-3 0-1-1-1-3 3 0-2-1-1-1 1 0-2-1-1-1 0-1 0 0-2 0-2-3 2-4 3 3-5-3 2 1-3 2-4-2 1-3 1 0-1 1-2-1-1-1-1-4 3 2-3-2 0-1 0-1-1 0-1 1-2-2-1-1 0 0-1-1-1-4 3 1-3 0-1-1 0 1-3-1-1-2 1 0-2-2 1 0-2-2 1 0-2 1-2-2 0 0-1-2 1 1-3-3 1 0-1 1-3-1 0 1-2-5 3 0-2 3-3-5 2 2-3 0-1-3 1 0-1 1-3-1 0 0-1-3 1-1-1 2-2-3 0-3 2 1-3 2-2-2-1-2 1-1 0 1-3 1-2-1-1-2 1 0-2-1 0 0-1-2-1-1 1 0-2 1-2-3 1-1-1 1-2-2 0 0-1 2-2-4 1 0-1-1-1-1-1 0-1-1 0 2-3-3 1 2-3-4 1 1-2-2 0 3-2-1-1-3 0 2-2-5 2 1-2 1-2-1 0 1-2-3 0 2-2-2 0-1-1 3-3-3 1-3 0 1-1 0-2 1-1 0-1-4 0 3-2-5 1 0-1 1-2-2 0-5 1 5-3 1-2 0-1-2 0 2-2-2-1 0-1-1-1-3 1 2-2-3 0-1-1 3-2 0-1-1-1-1-1-3 0 0-1 2-2L929.7 960.4A287.5 287.5 0 0 0 1053.5 1091.1ZM884 972l-1-1 3-3-4 1 3-3 1-1-4 1-1-1 2-2-2 0 1-2-1-1 0-1 1-1-2-1-1 0-1-1-1-1 2-2 4-2-8 1 1-1 0-1 1-2 1-1-3 0-1-1-1 0 1-2 0-1 0-1-3 0 0-1 4-3-2 0-3 0 3-2 0-2-2 0 2-2-3 0-1-1 0-1-1-1 3-2 1-1-1-1-2 0-2-1 0-1-2 0 4-3-4 0 4-2-3 0 3-2-3 0-1-1 3-2-2 0-2-1 2-2-7 1 8-3-1-1-1-1-1 0-1-1-2-1 3-2-2 0 0-1 2-2-3 0 2-2-3 0 1-2 3-1-2-1 0-1-5 0 3-2 3-1 0-1-4-1 1-1 0-1 0-1 2-1-3-1 3-2-1 0-1-1 1-1-2-1-2-1 3-2-2 0 0-1-1-1 1-2 1-1 1-1 4-1-5-1-2-1 0-1 0-1 1-1-1-1-1-1 4-1 0-1-4-1 1-1 1-1-2-1 3-1-3-1 0-1 3-2-2 0 2-2 0-1-2-1 3-1-1-1-1-1-1-1-2-1 5-1-7-1 2-1 2-1-4-1 5-1-2-1 1-1 3-1 0-1-2-1-3-1 2-1 1-1 2-1-3-2 1-1-2-1 3-1 1-1-2-1 1-1-2-1 1-1 1-1-1-1 0-1-4-1 3-1 1-1 0-1 2-1-3-1 0-2 3 0-6-2 7 0-2-1 3-1-8-2 4-1 0-1 1-1 2-1-4-1 3-1-1-1 3-1-1-1-2-1 1-1 1-1 1-1 2-1-4-1 1-1 2-1-1-1 2-1-1-1-2-2 4 0-2-1 0-1 3-1-2-1 3-1-4-2 1-1-1-1 2 0-1-2 3 0 0-1 2-1-2-1-1-2 4 0-3-2 2 0-3-2 4 0-2-2-3-1 2-1 3-1-5-2 2 0 5 0-4-2 3 0 0-2-2-1 2-1 0-1 0-1 0-1 3 0-1-2 0-1 2 0-3-2 3 0-3-2 4 0 0-1-2-2-1-1 2-1 0-1 1-1-1-1L919.3 740.6A287.5 287.5 0 0 0 926.3 953.1ZM880 716l-1-1 3 0-2-2 3 0 1 0 1-1 0-1 0-1-4-3 2 0 3 0 1-1-1-2-2-2 2 0-1-2 2 0 3 0 0-1-2-2-4-3 5 1 2 0-5-3 2 0 5 1-2-2 0-1 1-1 0-1 1-1-1-2 2 0 1 0-1-2-3-3 4 1 0-1 2-1 2 0-2-2 4 1-3-3 3 1-3-3 3 0 2 0-1-1 0-2 3 1 0-2-1-1 3 0-3-2 1-1 3 0-3-3 2 0 2 1-1-2 3 0-3-3 1-1 3 1-1-2 1-1-1-1 3 0-2-2 2 0-1-2 3 1-2-3 1-1-1-2 4 2 0-1 0-2 0-1 2 0-1-2 3 1 1 0 0-2 1 0 0-2 1 0 1-1-1-1 2-1 0-1-1-2 3 1 0-2 1 0-6-6 6 3 1 0 1-1-1-2 1 0 3 1 1-1-1-1 1-2 0-1 2 1-1-3 0-1 4 2-1-3 3 2-1-2-1-3 2 1 1-1-1-2 4 2-3-4 2 0 0-1 0-1 4 2-3-5 4 3 1 0-1-3 1-1 2 1 1 0 1 0-1-3 0-1 2 0 2 0 0-1 0-2 0-1 3 1 0-1-1-3 3 2 0-1-1-3 2 0 0-2 1 0 3 2 0-2 2 1-1-3 2 1 1 0 0-2-1-3 3 2 1 0 0-2-2-4 3 2 0-1 3 1-2-3 2 1 2 0 0-1 0-2 0-1 3 1 0-1 1 0 0-2 3 1 1 0-1-3 1 0 2 1 1-1 0-1 0-2 1 0 0-2 1-1 2 2 1-1 2 0 1 0 0-2 0-2 2 1-1-3 1 0 2 2 2 0-1-4-2-4 4 5 2 0-1-3 2 1 0-2 2 1 1-1 1 1 0-2 1-1 1 0L1040.4 592.3A287.5 287.5 0 0 0 922.1 733.1ZM1025 549l1 0 0-3 2 1 0-1 1-1 2 2 0-2 2 2 0-3 0-2 2 2 0-2 2 1 1 0 0-3 2 1 1 1 0-3 1 0 1-1 0-2 2 1 2 3 1-1 0-2 1 0 1-2 1 1 1 0-1-5 2 2 2 1 1 0 1 0 0-3 4 6-1-4 1-1 1 0 1-1 1 0-2-7 3 4 1 0 0-2 1 0 3 3 0-3 1 1 1-1 1 0 1 1 3 3-2-9 1 2 2 2 1-2 2 2 2 4 0-4 1 0 0-4 0-1 2 1 3 6-2-7 3 3-2-9 4 10 0-3 1-1 1-2 1 3 0-4 3 4 1 0 0-3 1-2 1 1 1-1 1 0 1 2 2 0 0-3 1 2 2 1 0-4 2 3 0-4 0-3 2 4 2 3 0-5 2 4 1 0 0-5 2 4 0-4 2 3 1 0 0-3 2 2 1 1 0-3 1-1 2 2 1 1 1-1 0-3 2 2 1-1 1 0 1 0 1 2 0-4 2 3 1-3 1 3 1-4 1 1 1-1 0-2 2 3 1 1 1-3 1 3 1 0 1-5 1 3 1 2 1-6 1 3 2 3 1 0 1-2 1 0 0-1 2 2 1-1 1 0 1-1 1-2 1 4 1-6 1 6 1 0 1-2 1 2 1-1 1-3 1 0 1 1 1 4 1-5 1 3 1-4 1 2 2 2 1-3 1 4 1-1 1 0 1-1 1 1 1-4 1 0 1 0 1 4 1-2 1-2 1 4 1 1 1-1 1 0 1-2 1-2 1 5 1-4 1 3 1 0 2-1 1-2 1 0 1-4 1 7 1-1 1-1 1 3 1-1 1-2 1 1 1 0 1 3 1 0 1-4 1 3 1-3 1 2 1 0 1 0L1221.3 552.2A287.5 287.5 0 0 0 1047.4 588.3Z" fill="#32afda"/>
<circle cx="1189.8" cy="838" r="352" fill="none" stroke="#d8d8d8" stroke-width="1"/>
<path d="M1222 607l0 3 1 0 2-2 0 3 2-4 1-1 0 6 2-5 0 4 2 0 0 1 2-6 0 7 1 0 2-4 1 1 0 3 2-1 1-4 1 4 1-3 1 3 2-5 0 3 1 1 0 3 2-1 2-3-1 6 1 1 2-4 1-1 1 1 0 5 2-6 1 2 0 5 1-1 2-2 1 0 0 1 2-1 0 1 1 2 1-1 2 0 1-1 1-1 1 1 1 2-1 4 3-4 1 0-1 5 3-4 1-1 0 2 1 1 0 3 2-2-1 4 4-5-1 4 2-3 1 0 1 2 1 0-1 5 2-4 2-1-2 7 3-3 0 3 1-1 2-1-1 4 1 0 3-4 1 0-1 4 3-3 2-2-3 8 1 0 4-5 1 1-1 3 2-1 2-1 0 1 1 1 0 3-1 3 3-4 1 0 0 3 3-2-3 5 2-1 1 0 0 2 1 1 1 0 2-1 2-1 0 1 1 1 0 2 0 2 1-1 1 2 0 1 4-3 1 0 0 1-2 5 1 0 1 0 3-2 1 1-1 3 3-2-2 4 2-1 1 0 1 1 2-2 0 2-1 3 3-2 1 0 1 1 0 1-1 3 3-2-1 3 4-3-3 5 3-2L1320.9 696.4A193 193 0 0 0 1216.3 646.8ZM1353 671l2-1 1 1 0 2-1 2 1 0 0 2 0 1 1 1 2-1 2 0 0 1-1 3 1 0 4-2-1 2 2 0-4 4 2 0 1 0-1 2 2 0 1 1 1 1 4-2-1 2-3 3 4-2 1 1 1 0-2 3 1 0 0 2 5-3 0 2-3 3 0 1 5-2-1 2-2 3 2-1 0 2 1 1 3-1-2 2 3-1 4-1-7 6 3-1 0 1 0 1 0 1 1 1 3 0-2 2 1 0 1 1-2 2 5-1-4 3 2 0 2 0-2 3 2 0 3-1-1 2 1 1-3 2 5-2 0 2-2 2 2 0 0 1 3 0-3 2 2 1 2 0-5 3 3 0-1 1 2 1 0 1 1 1 0 1 4-1-1 2-2 1 0 2 3 0 0 1 0 1-1 1 1 1 2 0-4 3 4-1 3 0-5 3 5-1-1 2-4 2 3 1 1 0 1 1-2 2 0 1 4-1 0 1 2 1 0 1 0 1 0 1 0 1 0 1 1 1 3 0-5 3 2 0-1 2 3 0-5 2 1 1-1 1 6 0-4 2 1 1-2 1 5 0 2 1-6 2 4 0 0 1 3 1 0 1-1 1-2 1-1 2 4 0-2 1 0 1-1 1 2 1-3 2 4 0-1 1-3 2 1 1 4 0 2 1-5 2-1 1 2 0 0 1 1 1 4 1-5 1 4 1 0 1-1 1L1381.7 817.5A193 193 0 0 0 1324.8 700.1ZM1425 820l-4 1 4 1-1 1-2 1-4 1 6 1 0 1-3 1-2 1 5 1-4 1 3 1 0 1-3 1 3 1 3 1-1 1-2 1-4 1 4 1-1 1 6 1-3 1-6 1 4 1 2 1 0 1-4 1-2 1 0 1 1 1 4 1-1 1 0 1 0 1-3 1 2 1-1 1-1 1 1 1 3 2-4 0 3 2-2 0-1 1-2 1 0 1 6 2-3 1 1 1-4 0 3 2-1 0 0 2-2 0 0 1-1 1 4 2 0 1-2 1-3 0 0 1 3 2-3 0 1 1 1 2-3 0-2 1 3 1-1 1-1 1 0 1 3 2 1 1-2 0-3 1 0 1 2 1 0 1 2 2-1 1-3 0 1 1-4 0 3 2-2 1 0 1 0 1 5 2-2 1 1 1-3 0-2 1 0 1-4 0 5 2-4 0-1 1 5 3-1 0-5 0 4 2-2 1 0 1 0 1 0 1-1 0 1 2-2 1 1 1-3 0-2 0 5 3-7-2 0 1 4 3-5-1 3 3-1 0 1 2 1 1-1 1-5-1 0 1 4 3-1 1-3-1-2 1 1 1 0 1 1 2 1 2-3-1-3 0-1 0 1 2 2 2-3 0 0 1 2 2-4-1-1 1 2 2-2 0 1 2-3-1-1 0 3 4-4-2 4 4-2 0-4-1 2 2 0 2 0 0-2 1-3-1 5 4-3-1 0 2 0 1-3-1 0 2-2-1 3 4-2 0-3-2 2 3-4-1 0 1-1 1 2 2-3-1 3 3-5-2 0 1 0 2 0 1 1 2-1 0-3 0 1 1 2 3-1 1 0 1-6-3 1 2 0 1 0 1-1 1-2-1 3 4-6-3 1 1-1 1-1 1 1 2 0 2-1 0-2-1 0 2 0 1 1 3-4-3 2 3-3-1-2 0L1320.7 979.8A193 193 0 0 0 1382.2 822.9ZM1342 1013l-2-1 1 3 0 1-3-3 1 4-1 1-2-2 1 4-2-1-2-2 3 5-4-3 1 4-1 0-2-1-1 0 0 2 0 1-3-2 0 2 2 4-4-4-1 1 1 4-3-3 1 4-2-2 1 3-3-3-1 1 1 3-1 0 0 2-3-3-2 0 0 1 1 4 0 1-2-1 0 2-3-2 2 4-3-3 0 3-3-4 1 5 0 1 0 2-2-2 0 3-5-6 2 5-1 0-1 1-2-2-2-1 0 1 1 4-1 0-1 1-4-5 0 3 1 4-2-3 0 3-3-4-1 1-1-1 2 6-1 1-3-5 1 5-4-5 1 5-1 0-2-3-1 0 1 6-2-3 0 2-2-2-2-1 1 6-2-3-2-2 0 1-1 3 0 3-2-3-1-1 1 6-1-1-3-5-1 0 0 5-2-3-1 1-1-1 0 3-2-2 0 2-1 0-2-1 0 3-1-2-2-2 0 3-1 1-1-1-1 3-1 0 0 2-3-6 0 5-1 0 0 2-2-4-1-1-1 2-1 3-1 0-2-5 0 3-1 2-1-2-1 4-1-4-2-2 0 3-2-3 0 5-1-1-1-1-1-2-1 1-1 0-1 0-1 3-1 0-1 2-2-6 0 2-1 4-1-1-1 1-1-3L1204.6 1030.4A193 193 0 0 0 1316.7 983.4ZM1201 1068l-1 3-1 2-1-1-1 4-1-8-1 4-1-1-1-3-1 5-1-1-1-2-1-1-1-2-1 7-1-4-1 3-1-4-1 1-1 1-1-4-1 1-1 5-1-5-1 4-1 0-1-3-1-2-1 2-1 1-2 0 0-1-1-1-1 0-2 1 0-2-1-1-2 3 0-3-1 0-1 1-2 3-1 0 0-4-1-1-1 1-2 0-1 3-1-1 0-3-2 1-1 3 0-5-2 6-1-1 0-5-1-1-2 3-1 0 0-3-2 4-1 0-1-3-2 4 0-5-1 1 0-3-3 5 0 0 0-4-2 2 0-4-2 2 0-2-1-1-1-1-1 0-2 3-1 0 0-4-1 1-2 4-1-2-1 2-1-2-1 1 0-5-1 0-2 4 0-4-2 3-1-2-1 1 0-2 0-3-3 4 0-2-2 1-1 0 0-3-3 4 2-7-1 1-2 1-1-1-2 2 0-1 0-2-1-1-2 2-1-1-1 0 1-5-3 4-1 0 2-5-2 2-2 0L1103.1 1010.4A193 193 0 0 0 1199.2 1030.8ZM1078 1046l0-3 0-2-1 0 0-2-1 0-3 3-1-1 2-4-1-2-1 1-2 1-2 1-1-1 0-2 1-3-1 0-1 0-3 2 2-4-4 4 1-4-2 2 1-3-1-1-1 0-2 0 1-3-2 2 0-2-3 2 0-1-2 0 0-1-3 2 0-2 1-2-2 1-2 0 3-5-3 2 0-2-2 1-2 1 0-1-1-1-1-1 2-4-1 1-3 1-1 0 3-5-1 0-1-1-3 2 0-2-2 1 1-3-4 3 4-6-3 2 0-1-4 2 3-5-2 1-1 0-3 1-1 0 1-2 2-4-1 0-4 2-1 0 0-2 1-2-4 2 1-2 2-4-1 0 1-2-6 3 0-1 4-4-1-1-2 0 0-1-4 2 0-1 1-2-3 1-1-1 1-2 1-2-1 0 1-2-2 0-3 1-3 1 6-6-3 1 1-2-5 2 4-4-1 0 0-2-5 3 3-4-1 0-6 2 5-4-1-1 0-1-2 0 1-2-4 2 1-2-3 0 4-3-5 2 4-4-2 0 1-2-1 0-1-1 0-1-1-1-4 2 4-4 0-1-2 0 0-1 0-2-2 0-2 0 3-3-5 2 4-3 0-1-6 2 0-1-3 0 5-4 1-1-1-1-4 1 0-1L1015.2 920.2A193 193 0 0 0 1098.3 1007.9ZM975 932l5-3-3 0-1-1-2 0 0-1-1-1 1-1 0-2-2 0 3-2-3 0 1-2 1-1 0-1-2-1-4 1 3-2-3 0-1-1 2-2 0-1-3 0 1-1 0-1-2-1 5-2-1-1-3 0 3-2-3 0-3-1 5-2 0-1-1-1-3 0-1-1 1-1 1-2 1-1-4 0 2-2-3 0 2-1 3-2-3-1-2 0 4-2-6 0 2-1-1-1 2-2-1 0 3-2-3 0-1-1 0-1-1-1 1-1 2-2 1-1-3 0 3-2-1-1-1-1-3 0 4-2-5 0 0-1 0-1 5-2-1-1-6 0 3-2-1-1-2 0 4-2 2-1-4-1 4-1-1-1 0-1-4-1 4-1 0-1 1-1-3-1-2-1 3-1 1-1-4-1 4-1 0-1-6-1 4-1-2-1 4-1-3-1-1-1 0-1 1-1-2-1 2-1 1-1 0-1-3-1 1-1 1-1-2-1 4-1-5-1 6-1-5-1 2-1 4-1-2-1 0-1 1-1 0-1-4-2 0-1 6 0-6-2 5 0-3-2-1-1 1-1 4 0-3-2 3 0-3-2-1-1 6 0-1-1-1-1-4-2 0-1 3 0-2-2 0-1 0-1 4 0 1-1-1-1-2-2 5 0-7-2 3-1 5 0-1-1-1-1-1-2 0-1 3 0-2-1 2-1-1-1 2-1-3-2-2-1 6 1 0-2 2 0-6-3 6 1-3-2 0-1 2-1 2 0-5-3 3 0 2 0 1-1-6-3L1008.2 772.6A193 193 0 0 0 1012.9 915.3ZM971 752l1 0-1-2 4 0-2-1 5 0-5-2 5 0-3-2 1-1 1 0-4-3 7 2 0-1 1-1-2-2-2-2 1-1 1 0 3 0-3-3 1-1 4 1 2 0 0 0-1-2-1-2 2 0 1 0-1-2-1-2 4 1-1-2-3-3 4 2-2-3 4 1 1 0-4-4 3 1 2 0-2-3 3 1-3-3 2 0 1-1-2-2 6 3-1-2-3-3 5 2-3-4 0-1 4 2-4-4 6 3-2-3 3 1-4-4 3 1 3 1-1-3 1 0 2 0-4-4 5 2 1 0-2-3 3 2-4-5 2 0 3 1-1-2 2 0-2-3 1 0 2 0 1 0 0-2 3 2 1-1-3-3 2 0-1-2 2 0-2-3 1-1 3 1 1 1-1-3 3 1 1 0-2-4 2 1 1 0 1-1-2-3 3 1 2 1-1-3 0-1 1 0 4 2 0-2 1 0-1-3 0-1 4 3 0-1 0-1 2 0-3-5 1-1 1 0 1-1 0-1 5 4-2-3 1-1 1-1 1 1 1-1-1-3 4 4-2-5 3 3-2-5 4 3-1-2 1 0 3 2-2-5 0-1 4 4 1-1 0-2-1-2 0-2 1 0 3 1 0-1 3 2-1-4 0 0 1-1 2 1 0-2 3 3-3-6 3 2L1089.5 673.1A193 193 0 0 0 1010.1 767.6ZM1075 637l2 1 0-2-1-4 4 5-3-6 2 0 1 0 1 0 1 0 2 1 2 1-2-5 1 0 3 2 1 1-1-4 1-1 2 2 1 0 2 2-1-6 2 2 1 1-1-5 2 1 0-1 1 0 2 1 0-2 2 1 2 2-1-4 2 3 1-2-1-3 3 3 1-1 0-1 2 1 0-2 1-1 1 1 1-1 2 3 1 1 0-4 1-1 2 4 0-3 1 0 0-5 1 1 2 4 1-1 0-4 2 2 1 0 0-2 1 0 2 0 1 3 1-3 1 0 1 0 2 3 0-1 1-3 1 1 0-2 2 1 1-1 1 2 1 0 1 0 0-4 2 5 0-6 1 0 2 5 0-6 2 5 0-5 1-1 1 2 2 1 1 3 0-5 1-1 2 1 1 3 1-1 0-3 2 4 1-1 1-2 1 0 1 1 0-3 2 1 0-2 2 3 1 2 1 1 1-4 1 4 1-4 1-2 1 3 1 0 1-3 1 0 1 5 1-1 1 0 1 0 1-2 1 1 1-4 1 4 1-1 1 0 1-1 1 2 1 2 1-1 1-3 1 4 1 0 1 0 1 0 1-1 1 2 1-5 1 3 1 1 1-4 1 1 1 0 1 0 1 5 1-1 1-1 1 0 1 1L1211 646.2A193 193 0 0 0 1094.2 670.4Z" fill="#ffffa8"/>
<path d="M1221 614l1-2 1 1 0 1 1 1 2-3 0 1 1 2 1-2 1 1 1 0 1 0 1-2 0 2 1-1 1 2 1 1 1-2 1 1 1-1 0 3 1-2 1 0 1 0 1 1 1 1 1-1 0 3 1 0 1-2 1 1 1-1 1 1 1-1 0 1 2-1 0 3 0 1 2-2 1 0 0 1 1 2 3-7-1 7 1-3 1 2 0 2 1 0 1 0 0 1 2-3 0 3 2-2 0 3 1 0 0 0 1 0 1 1 2-2 0 3 1-2 1 0 0 2 1 1 1 0 1-1 1-1 1 2 1-1-1 4 1 0 2-1 1-1 0 1 0 2 2-2 2-1 0 1 0 2 2-1 0 2 1 0 1 0 0 2 0 1 2-1 1-1 0 2 2-1 1 0 0 2 0 2 2-2 0 1 2-1-2 6 2-2 1 0 0 0 2-1 0 3 1-2 2-1 0 2 2-1 0 2 1-1-1 3 2-1 0 2 1 0 1 0 0 1 2-2 0 3 1-1 0 2 1 0 2-1 1 0-1 3 2-1-2 4 2-2 2-1 0 1 2 0-1 2 1 1 2-2 1 1 0 1-1 3 1 0 2-1-1 2 2-1 1 0-1 3 2-1 1 0 1 0 0 1 0 2 2-1 0 1 0 2 1 0 0 1 2 0-1 1 2 0 1-1-1 3 3-2 0 1 0 2 2 0-1 1L1320.9 696.4A193 193 0 0 0 1216.3 646.8ZM1349 675l0 2 2-1 1 0 0 1 2 0-2 3 2-1-1 2 3-1-1 1 1 1-1 2 2 0 1 0 1 0 1 1 0 1 2-1-3 3 3-1-2 3 3-1-1 2 0 1 3-2 0 2 0 1 2 0 0 1-1 1 3 0-2 1 1 1 1 0 1 1 1 0 1 1 0 0-1 3 1 0 0 1 2-1-2 3 2-1 2 1-2 2 1 0 0 1 1 1 1 0 1 1 1 0 1 0 1 1 0 1-1 1 2 0-2 2 0 1 4-1-3 3 4-1-3 2 3 0-1 1 2 0 2 0-3 2 3 0-1 1-1 2 2 0 1 0 0 1-1 2 1 0 0 1 2 0-2 2 4-1-3 3 0 1 2-1 0 2 0 0 3 0 1 1-2 2 2 0-2 2 3-1-2 2 2 0-2 2 1 0 1 1 1 0 1 1 0 1 0 1-2 2 3 0-1 1 2 0-1 1 0 1 2 0-2 2 3 0 0 1-2 2 3-1 0 1 0 1-1 1 2 1-1 1-1 1 0 1 1 1 1 0-1 2 3 0-2 1 1 1 2 0-1 1-1 1 2 1 0 1 2 0-1 1 0 1 0 1 0 1-1 1 2 0-2 2 0 1 0 1 6-1-3 2-1 1 0 1 1 0 2 1 0 1 0 1 0 1 1 0-2 2 1 0-2 2 2 0 1 1 0 1-3 1 2 1 0 1 2 0 0 1 0 1-2 1 3 0-3 2 0 1 4 0 0 1-1 1-4 1 3 1 3 0-2 2-2 1 2 0-2 1 1 1 1 1 0 1L1381.7 817.5A193 193 0 0 0 1324.8 700.1ZM1416 820l2 1-3 1 3 1-1 1-2 1 2 0 2 1-2 1 0 1 3 1-2 1 0 1-1 1 1 0-1 1-1 1 0 1 0 1 1 1-1 1 3 1-2 0 0 1-1 1-1 1 3 1-3 1 2 1-2 0 3 1 0 1-1 1 0 1 0 1-1 1 3 1-4 0 4 2-2 0-1 1-1 1 0 1 3 1-2 1 2 1-2 0 1 1-3 1 2 1 0 1 1 1 0 1-2 0-1 1 2 1 0 1-3 1 1 1 1 1-2 0 2 1-2 1 1 1 1 1-1 1 1 1-1 1-1 0 0 1 2 1-1 1-2 1 1 1 4 2-5-1-2 1 1 1 2 1-1 1-1 1 0 0 0 2-2 0 2 1 4 2-4 0-1 1 1 1-2 0 1 1 3 2-4 0-1 1-1 0 3 2-1 1-3 0 0 1 4 2-5-1 0 1 2 1-1 1-2 0 3 2 0 1-4 0 5 2-5 0-3 0 5 2-1 1-2 0 2 2-3-1 2 2 0 1-2 0 0 1 1 2 0 0-3 0 2 2-3 0 2 1 0 1-2 1-1 0-1 1 2 1 2 2-2 0-2 0 0 1-3 0 2 2-1 0 0 1 1 1-1 1 2 2-2 0-2 0 1 1-1 1-2 0 1 2 1 1-2 0 1 2-1 0 0 1 0 1-3-1 0 1-3-1 4 4-3-1 2 2-2 0-2 0 3 3 0 1-3-1 1 2-3-1 1 2 0 1 4 3-6-3 0 2-1 0 1 2-3-1 2 2-2 0 3 3-4-2 1 2-2 0 1 1-3 0 2 2-2 0-1 0 1 2 0 1-3-1 0 1 1 2-2-1 1 2-2 0 0 1-1 0 2 2-3-1 1 3 1 1-4-2 0 1-1 0 2 3-1 1-3-2 2 3-3-1-1 0 0 1 0 2 1 1-1 0-3-1 1 2 0 2 2 2-4-2 0 1-2-1-1 1 0 1 0 1-1 0 0 2 0 1-2-1-1 0 1 2-2 0 1 2 0 1-1 1-2-2-1 1 0 1L1320.7 979.8A193 193 0 0 0 1382.2 822.9ZM1340 1010l-1 0-1 1-1-1-2 0 1 2 0 2-2-1 1 2-2-1 1 2-2 0 0 2-2-2 1 2-2 0-1 0 1 2-1 1-1 0-1 0 0 1-2-1 0 2-1 0 0 1-1 0-2-1 1 3-2-1-1 0-1 0 0 2 0 0-2-1 0 2-1 0-1 1-1-1 0 2-1 1 0 0-1 1-1-1-1 1-1 0 0 1-2-1 3 6-3-3-1 0-2-1-1 0 1 4-1-1-2-1 0 1-1 1-1-1 0 1-2 0 1 2-1 1-2-2-1 0 0 2 0 2-1-1-2-1-1 0 0 3-1-1 0 2 0 1-2-1 0 2-2-3 0 2-1 0-1 1 0 2-1-1-1 0-1 1 0 1-1 0-2-1 1 4-2-2-1 0 0 0-1 1-2-3 0 4-1-2-1 1-1 1-1-2-1 0 0 2-1 2 0 0-2 0-1-2 0 2-1 1-1-2-1 1-1 1-2-4 0 4 0 0-2-1 1 4-3-6 0 3 0 2-1 1-1-2-1 3-1-2-2-2 1 5-2-2-1-1 0 2-1 1-1-2-1-1-1 1-1 1 0 0-1 1-1-1-1 3-1-1-1-1-1 0-1-1-1 0 0 0-1 3-1-2 0 3-1 0-2-2-1-1 0 5-1-4-1 0-1 1-1 1 0 1-2-3 0 0-1 1-1-1-1 4-1 0-1-4-1 0 0 3-1 1-1 3-1-2-1-4-1 2L1204.6 1030.4A193 193 0 0 0 1316.7 983.4ZM1201 1063l-1 4-1-1-1 0-1 0 0 1-1 1-1-4-1 1-1 2-1-2-1 0-1 0 0 4-1-2-1-2-1 1-1-1-1 2-1 0-1-2 0-1-1 1-1 0-1-1-1 0-1 1-1-1-1 3 0-2-1 2-1-1-1-2-1 0-1 0-1 2 0-3-2 5 0-2-1 0-1 0-1-3-1 0-1 1 0-2-1 0-1 1-1-1-1-1-1 3-1 1 0-3-2 2 0-3-1 3-1-2-1 0-1 2-1-1 0-1-1-1-1 2-1-4-1 2-2 4 1-5-2 2-1 0 0-1-1-2 0-1-2 3 0-3-1 0-2 2 0 0-1-1-1-1-1 1 0-3-2 3 0-2-1-1-1 0-1 2-2 3 0-3-1 0-1 0 1-4-2 3-1 0 0-3-2 3 0-2-1-1-1 2-1-2 0-2-1 1 0-2-2 2 0-2-3 4 0-2-1 0 0-1-1-2-1 2 0-4-1 2-2 1 1-4-2 3-1-1 0-1-1-1-2 3 1-4-2 2 0-2-1 1 0-3-2 2-1-1 0 0 0-2-2 1-1 0-1 1 0-3-1 0 0-1-2 1 0-2L1103.1 1010.4A193 193 0 0 0 1199.2 1030.8ZM1082 1039l-1-1-3 3 1-3 0-1 0-2-1 0-1-1-1 0-2 2 0-1-1 0-1-1 0-1-1 0-1 0 0-2 0-1-2 0 0-1-1-1-1 2-1-1 1-2-2 0-1 0-1 1 0-3-1 1-1 0-1-1 0-1-1 0 0-3-1 1 0-2-5 6 2-5 1-2-3 2 2-3-3 2-1 0-1-1 1-2-1 0-1 0-1-1-1 0-1-1-1 0-1 0-1 0 3-4-2 0 0-1 0-1-3 2 1-2-1-1-1 0-2 1 0-1 1-3-4 3 2-3 0-1-3 1 3-4-4 3 2-3-1 0-1-1-3 2 0-1 1-3 0-1-3 2 0-2 0 0-1-1-1-1 1-2-1 0-1 1 0-2-1 0 0-1-1-1-2 1 0-2-1 0-2 1 2-3-1 0-1-1 1-1 0-1-2 0-2 1 1-2-1-1-1 0 1-2-2 0-1 0 0-1 0-1-2 0 1-1-2 0-1-1 2-2-1 0-5 2 4-4 0-1-4 2 0-2 2-2-1 0 1-2-2 1-2-1 0-1 1-1-2 0 2-2-2 0-1-1-1 0 1-2-2 1 1-2-1 0-1-1-1 0 2-2-2 0-1-1-1 0 2-2 0-1-2 0-2 0 1-1 0-1 0-2 1-1-1-1-2 0-4 2 2-2-1-1 2-2-1-1-1 0 0-1 0-1 0-1 1-1-2 0-5 1 4-3 2-2-3 1L1015.2 920.2A193 193 0 0 0 1098.3 1007.9ZM979 930l0-1 2-2-1 0-2 0 1-2 2-1-4 0 1-1 2-2-1 0-1-1-1-1 1-1-2 0-1-1 1-1 0-1-3 0 1-1 2-2 1-1-4 1-1-1 3-2-2 0 0-1-2-1 3-1-2-1 1-1 0-1-3 0 2-1 1-1-3-1 1-1 0 0-2-1 3-2-1 0-1-1 0-1 0-1-1 0-2-1 0-1 2-1-1-1-1 0-1-1 1-1 2-1 0-1-2-1-1-1 0-1 0 0 2-2 0 0 0-1-4-1-1 0 1-1 0-1 2-1-4-1 2-1 1-1 0-1 1-1-1-1 0 0-1-1-2-1 1-1 2-1 0-1-1-1 2-1-3 0-1-1 2-1 2-1-3-1-1-1-4 0 5-1 0-1-1-1 2-1-3-1 2-1 1-1-3 0 3-1 0-1-3-1 0-1 3-1-2-1 2-1-3 0 2-1 0-1-1-1-1-1-1-1 3-1 1-1-2-1 0 0-1-1 0-1 0-1 2-1 0-1-2-1 2-1 1 0-1-1-1-1-1-1 3-1-3-1 1-1 1-1-1 0 1-1-1-1 1-1 2-1-3-1 1-1-1-1 3 0-2-1 1-1 1-1 0-1-3-1 3 0-1-1-1-1 1-1 3-1-2-1-1-1 0-1 0-1-1-1-1-1 4 0 1-1 0-1-1-1-1-1 0-1 1 0 1-1 1-1 0-1 1 0-1-1 0-1-1-2-3-1 4 0 2-1-2-1 0-1 2 0 2-1-4-1 2-1-1-1 1-1-1-1 3 0-3-2 1 0 3 0-3-2 1-1 1 0 2-1-2-1 3 0-1-1-2-2 2 0 1-1 0-1-1-1-1-1 4 0-2-1-1-2L1008.2 772.6A193 193 0 0 0 1012.9 915.3ZM980 756l0-1-3-2 4 0 0-1 0-1-1-1 0-1 2 0-2-2 1 0-1-2 2 0-1-1 0-1 0-1 3 1 4 0-3-2 1-1-2-2 3 1-2-2 3 0-1-1-1-2 0-1 0 0 2 0 0-2 1 0 2 0 0-1 1 0-1-2-1-1 0-2 2 1-1-2 3 1-2-2 4 1-2-2 1-1-1-1 1 0 1-1 1 0-2-3 4 2-2-3 2 1 1-1-2-2 1-1 2 1 0-1-1-2 1 0 2 0-1-2 2 0 0 0-1-3 0 0 3 1 0-1 0-1 2 0-1-2 1 0-1-2 1 0 1-1 0-1 2 1 2 0-2-3 2 1 1 0-2-3 0-1 4 1-2-2 2 0-1-1 0-1 3 0 0-1-1-2 2 1 0-1 0-1 0-1 3 1-1-2 1 0 1-1 2 1-1-2 1 0-1-2 1-1 1 0 1 0 0-2-3-3 6 5-1-3 0-1 3 2-1-3 1 0 1-1 0 0-3-5 5 4 0-1 0-2 4 3-1-2 0-1 0-1 2 1-1-3-2-3 4 3 1-1 2 1 0-1-1-3 2 1-1-2 3 2 0-1 1 0 0-2 0-1 2 1 1-1-4-5 5 5 0-2 1-1 0 0 1-1 1 0 1 1 0-3 2 2-1-3 2 0 0-1 1 0 2 1-1-2 2 1 0-1 2 0 1 1 0-2 0 0-1-4 2 1 1 0 1 1 0-2 1 0 1 0 0-2L1089.5 673.1A193 193 0 0 0 1010.1 767.6ZM1077 641l1-2 0 0 1 0 1 0 0-2 2 1 0-1 2 1 1 0 0-2 0-2 2 2 0-1 1 1 1-2 1 0 0-2 1 2 0-3 1 1 0-3 2 2 1-1 1 1 0-1 2 1 0-2 2 2 0-1 1-1 2 2-1-5 2 4-1-4 2 1 1 1 0-2 0-2 1 0 2 2 1-1 1 1 1 0 0-2 0-2 2 3 1 0 1-1 1 0 0-2 0-1 1-1 1 1 1-1 1 2 1-1 0-2 2 3 0-3 2 1 0 0 1-1 1 0 1-1 1 2 1 0 0-2 1 1 1 1 1-2 1-1 1 1 1 0 0-3 1 2 1-2 0 0 2 0 1 1 0-2 2 3 0-3 1 0 1 2 1 0 1-1 0-1 1 0 1 1 1-1 1-1 1 0 0-4 1 4 1 1 1-2 1 2 1 0 1-1 1 1 0-2 1 1 1 0 1-2 1-1 1 1 1 1 1 0 1 1 0-3 1 0 1 0 1 2 1-2 1 1 1 1 0-3 1 3 1 0 1-2 1 2 1-1 1 1 1-2 0 1 1 1 1-3 1 2 1-2 1 2 1 0 1 1 1-1 0-2 1 0 1 1 1 2 1-3 1 3 1-3 1 1 0 1 1 1 1 1 1-2 1 1 1-1 1-2 1 2 0-1 1-1 1 3 1-1 1 1 1-3 1 2 1-1 0 1 2-3 0 5 1-3 1 2 1 1L1211 646.2A193 193 0 0 0 1094.2 670.4Z" fill="#ffff33"/>
<path d="M1215 654l1 5 1-3 1 3 2-9 0 9 1-2 1-1 1-3 1 2 1 1 1 0 0 6 3-10 0 2 0 4 1 1 2-1 0 4 0 2 1 0 1 1 1-3 1 0 1 3 3-9 1 2-2 7 4-8-2 10 3-7 0 3 1-1 0 4 1 0 1 0 1 0 2-2 1 0 4-8-2 8-1 6 2-4 0 4 0 2 1-1 4-6 1-2-2 9 4-7-3 10 5-10 1 0 1 0-1 4 2-1 1 0-1 5-1 4 1 1 0 0 5-7 4-5-4 10 6-10-2 7-1 3 0 2 2-2 4-5 1 1-1 2-3 8 3-3-1 4 5-6 2-2-4 8-1 4 6-9 2 0-2 5 1 0 1 0 0 1 1 1 2-1-2 4-1 4 2-1 0 2 7-10 1 1-1 3 2-1-3 6 0 2 5-5 0 1-4 6 7-7-6 9 4-3 3-2 1 0 2-1-5 7 4-3-1 3 3-2-3 5 6-6 0 2 0 2-4 6 7-7 2-1L1272.7 748.5A122 122 0 0 0 1206.6 717.2ZM1315 710l4-2-1 1 5-2-3 3 1 1 7-6-9 10 9-7-8 9 2-1 8-6-4 5 6-4-5 6-3 4 1 0 0 2 8-6-3 4-3 3 9-6-6 7 6-4-4 4 7-3-9 7 0 1 9-5-3 3 2 0 6-3-7 6-3 4 7-4 2-1 4-1-11 9 3-1-1 2 10-6-10 8 4-2 8-3-1 2-5 4 6-3 1 0-5 4-3 4 2-1 3 0 5-2-4 4-4 3 11-5-6 4 7-3-1 2-3 3-4 3 4-1-4 3 2 0 7-2 1 1-7 4 10-4-3 3 1 0-1 2 4-1-1 2-4 2 2 1 3 0 1 0-1 2-5 3-3 2 6-2-4 3-1 2 0 1 4-1 9-2-10 4 0 1 6 0-6 2 1 1-1 1 4 0 10-2-11 5 2 0 4 0 0 1 3 0-1 1-1 2-4 2 6-1-2 2-8 2 10-1-9 3 5 0-2 1 8 0-6 2-1 1-1 1 9-1-10 3 3 1 5 0-7 2 13-1-8 2-6 2 6 0 2 1 12-1-14 3 8 0 0 1-6 2-6 1 0 1 12 0-7 2L1311.1 825A122 122 0 0 0 1275.2 750.8ZM1379 823l-1 1-5 1-4 2 8 0 1 1-11 2 7 0 3 1 4 1-13 1 3 1 6 1-9 1-1 1 9 1-9 1 0 1 10 1-4 1-2 1 7 1-8 1-1 1 2 1 7 1 5 1-4 1 1 1-4 1 4 1-6 1 4 1-8 0 3 1-4 1-1 1 1 1 4 1-1 1 2 1 3 2 1 1 0 1-8 0 0 1 5 1-11 0 3 1-1 1 9 3-10-1 8 2 4 2-1 1-1 1 1 1-11-2 10 4-2 0-5 0-4 0 7 3 0 1 3 2-5-1 2 2-10-2 6 3-6-1 10 4-2 0-3 1-7-2 9 4-8-1 1 1-2 0-1 1 8 4-6-2 3 3-5-1 0 1 11 5-7-2 5 3-12-3 8 4-6-1 6 3-9-3 5 3 2 3-5-1-1 0 8 5-7-2-4-1 0 1 8 5-7-3 1 2 10 6-7-3 5 4-15-6 5 3 0 1-2 0-3 0 3 3-2-1 1 2 2 3-3-1-4-2 6 5-8-3 0 1 1 2 8 5-9-4 8 6-2 0-3-1-7-3 9 7-3-1-8-4 8 6-4-1-3-1 0 1 8 7-5-2-4-2 2 3-4-2 4 4-2 0-6-4-1 1 9 8-3-1-3-1 1 2-4-2 6 6-1 0-3-1-3-1 2 3-6-4 6 6 0 2 0 2-9-8 2 3 1 3 2 3-8-6 3 4 1 3-6-5 8 9-4-2 0 1 2 3-2 0-8-7 6 7 0 2L1272.5 927.7A122 122 0 0 0 1311.4 828.4ZM1315 981l-1 1-7-7 2 4-4-3 3 5 2 3-6-5-1 1 2 4-5-6-1 0 1 4 1 2-4-4 3 7-5-5 4 6 1 3-5-5 0 2 1 3-5-5 5 9-5-6 5 9-5-6-3-2-2-1-1-1 3 6 2 5-4-4-4-5 7 13-8-11-1 1-1-1 0 2-2 0 3 6 1 4-3-3 0 2-2-1-3-5 0 3 1 4-1-1-2-1-2-3 3 10 0 1-2-2-2-2-2-1-3-5 2 7 0 2-4-7-2-1 0 3-1-2 1 5 3 11-5-10 2 9-4-9 0 3 0 2-3-3 0 2-1 0-1-1-3-4 0 1-1 0 2 10-1-1-4-9 2 11-2-5-2-1-1 0 1 4-1 0-2-2-1-1-1 2-2-4 1 8 0 3-2-6 0 5-3-6-2-4 1 9-1-3 0 4-2-5-1 2 0 3-2-5-1 1-1 0-2-5 1 8-2-4-1-1-1 3 0 6-1 1-1 1-2-12 0 7-1 6-1-2-2-9 0 7-2-9 0 5-1 8-1-2L1199.2 959.6A122 122 0 0 0 1270 929.9ZM1199 1016l-1 8-1 3-1-8-1 9-1 0-1 0-1 1-1-10-1 5-1-6-1 11-1-6-1 3-1-4-1 7-1 0 0-13-2 11-1 0 0-10-1-1-2 9-1 3-1-1 0-8-1-1-1 5-2 8-1-6-1-1 0-5-1 2-2 3 0-5 0-3-1 1-1-2-2 3-1 2-2 8 0-9-1 4-2 5 1-10-1-1 0-4-2 3-1 0-1-2-1 2-1 0-2 3-1 1-1 2 0-4-2 2 0-4-1 0 1-6-2 4 0-5-4 12 1-7-2 4-1-1 0-2 0-4-3 5-1 0 2-9-2 4-2 2-1 0 0-3-3 4 0 0 0-4-3 4-1 2 2-10 0 0-3 4 0-3-4 6 1-4-2 2-2 2 3-9 0-2-1-1-3 4 0-1-4 6 1-5 0-2-3 5 1-4 1-6L1135 947A122 122 0 0 0 1195.8 959.9ZM1106 994l-3 3-1 1-3 3 3-8-2 1-5 7 5-10-2 2-1-1 0-1-4 4 3-6-1-1-5 6-3 3 1-3 4-8-3 3-3 3 3-7-3 4 2-5-3 2-6 7 5-8-2 1-6 6 7-11 0-2-6 7 0-2 2-5-5 6 0-2 4-6-7 7 1-3 1-3-4 4 1-3-2 0-3 3 5-8-3 2 0 0 0-2 1-3-4 3-5 3 4-4 2-5-6 5 1-2-3 2 2-4 0-1 2-4-1 0-5 4 2-3-1-1-6 4 9-9-3 1-7 5 8-8-2 0-9 7 3-4 2-3-3 1-1 0 2-3-4 2-1-1 8-7-8 5-3 1 3-3-5 2 9-8-9 5 1-2 4-3-1-1-6 3 3-3 4-4-5 2 5-4-8 4 6-6-6 4-2 0 4-5 1-1-11 6 1-2 7-6-1 0-11 5 8-5 3-3-6 2-3 1 2-3 0-1-1 0 2-3-5 2 3-3 3-2-6 2-2 0 9-6-5 1-3 1 2-2 5-4-6 2 2-2L1079.4 889.9A122 122 0 0 0 1132 945.4ZM1017 913l5-3 2-2 2-2-10 4-6 1 4-3 9-4-4 0-2 0 2-2 3-2-10 3-1-1 8-4-11 3 8-4 4-2-10 2 4-2-4 0 8-4-9 2 0-1 9-4-9 2 5-2 2-2-3 0-1-1 4-2-7 1 2-1 0-2 4-2 2-1-4 0-5 0 2-1 3-2-7 1 10-3-6 0 1-1-5 0-3-1 1-1 9-3-5 0-1-1 5-1 1-1-8 0 6-2-2-1-8 0 5-1 2-2 2-1-1-1-1 0 2-2-7 0 10-2 0-1 0-1-5 0 1-1-6-1 8-1-6-1 0-1 2-1 3-1-8-1 10-1-5-1-6-1 3-1 2-1 2-1 1-1 2 0-7-2-5-1 11 0-10-2 5 0-5-2 4 0-4-2 8 0 0-1 4-1-4-1 0-1 0-1-2-1-1-1 7 0 0-1-6-2-3-1 4-1 6 0-2-1-6-2 9 0-12-3 9 1-9-3 7 1 1-1-7-3-2-1 4 0 1-1-4-2 11 2 1-1-6-3 4 0-1-1-5-2-1-1 3-1 8 1 2 0-7-3-1-1 6 0-1-1 2 0-9-4 4 0 1 0-5-3 7 1 3 0-7-3 5 1 0-1 2-1-2-1-1-2L1075 796.7A122 122 0 0 0 1078 886.8ZM1015 769l3 1 6 1-1-1 1-1-1-2-3-2 6 2-4-3-4-3 2 0 1-1-3-2 2 0 1-1-1-2 9 4-5-3 2-1-4-3-6-4 9 3 3 1-2-2 5 1-2-2 4 1 1 0-5-4-2-3 5 3-1-2-1-2 2 0-2-2 7 3-8-7 3 2 3 0 6 3-8-7 2 1 1-1-4-4 11 6 0 0-5-5-5-5 12 8-3-4 1-1 0-1 0-1 2 1-5-6 2 1-2-3 2 0 3 1 0-1 7 5-2-3-4-5 8 6-3-4-5-6 2 1 3 1 2 0 4 3 1-1-6-7 2 1 0-1 8 6-4-5 1-1-3-4 7 6 0-1-4-6 4 2 0 0 2 1 2 0-4-6-2-3 6 4-1-2-2-3 2 0 6 6-9-13 5 5 7 7-5-7 4 3-2-5-4-6 5 5 2 0 0-1 5 5 0-2 0 0 1-2 0-1-2-4 3 2 4 4-2-5-4-6 2 1 2 1 0-2 0-1 5 5-3-7 3 4-2-5 3 3 2 1-3-6 4 4 2 2L1126.4 733.8A122 122 0 0 0 1076.2 793.5ZM1098 677l1 0-2-6 1 0 3 3 1 0-1-3 3 2-2-5 4 6-2-6 4 5 2 2-2-6 3 3-1-3 1-1 5 9-3-9 3 4 3 4-4-10 1-1 4 7-1-5 3 6-1-5 3 3 0-1-1-6 3 4 1 1 1-1-2-6 1-3 2 5 3 6 1 0-3-13 5 12 1 0-3-11 1-1 2 4 0-5 1 0 2 4 2 3 0-4 2 3 0-4 1 1 0-2 3 8-1-9 1-2 3 11-2-12 1-1 1 0 3 6-1-5 3 9 0-6 1 2 0-7 3 9 1-1 1 3 1 1 0-10 0-3 2 10 1-4 1 1 0-5 2 5 0-4 2 9 0-12 1-1 1 1 1 3 1-2 1-6 1 6 1-3 2 11 0-6 2 8 0-12 1 2 1 0 1 4 1-7 1 9 1-4 1 4 1 3 1-4 1-5 1-4 1 12 1-11 1 9 1-9 0 13 1-2 2-6 0 6 1 0 1-3 1 1 2-9 0 8 2-6 1 1 0 9 1 0 1 0 1-2L1203.2 716.7A122 122 0 0 0 1129.4 732Z" fill="#dedbef"/>
<path d="M1213 671l1-3 1 0 1 1 0 4 1-2 1 0 1 2 1 0 1 0 1 0 2-5-1 5 2-4 1 2 1-1-1 7 1-2 2-4 3-6-1 5 2-1-1 5 2-2-1 6 2-5 1 2 0 1 0 3 3-5 1-2 1 2 0 3 1-1 2-3-2 7 2-2 2-2 0 1 1 1 0 4 1-1 1 0 3-6-2 7 3-5-1 4 1 1 2-2-1 5 2-2-1 3 1-1 1 1 4-6-1 4-1 4 2-3 4-5-3 7 6-9-3 7 1 1 1-1 4-5-1 4 0 2 1 0 0 1 0 3-1 3 4-4-1 3 1 0 3-5-1 4 3-3 4-5-7 13 5-7-3 8 0 1 5-6-1 3-1 4 1-1 1 1 2-2 5-6-4 8 1 1-1 2 5-6 1 0-4 8 7-8-4 7 2-1 2-2 0 2 0 1 2 0 1 0 0 1-2 4 1 0-1 2 0 2 4-3 1 0 2-2 5-4-3 5 1 0 0 1-4 7 3-2L1272.7 748.5A122 122 0 0 0 1206.6 717.2ZM1309 716l1 1 2-1 2-1-4 6 3-2 3-2-1 2 4-2-3 4-1 2 1 0 0 2 0 0 3-1 2-1 0 2 0 1-4 5 0 1 0 0 4-1 3-1 8-6-8 8 0 1 1 0-1 2-2 3 4-2-2 2 0 2 6-3-4 3 6-3-2 2 1 1 8-4-8 6-2 3 0 1 2-1 5-2-2 2 0 2-3 2 1 1 3-1-1 2 3-1-5 4 2 0 6-3-2 3-1 1 5-1 1 0-5 4 4-1 2 0-5 3 1 1 2 0-2 2-1 1 2 0-2 2 3 0 8-3-2 2-2 2 1 1-4 2-1 2 4-1-3 2 6-2 2 1 4-1-10 5 2 0 2 0 4 0-7 3 4 0 5-1-1 1-7 4 13-4-12 5 2 1 3-1-4 3 1 0 0 1 6-1-6 3 2 0 3 1-5 2 7-1 1 1-5 2-2 1 0 1 3 0 5 0 4 0-9 3 1 1-3 1 2 1 6-1 1 1-2 1 0 1-4 2 5 0-6 2 7 0-4 1 0 1 2 1 4 0-8 2 5 0-3 2 5 0-6 2 4 0-4 1 13 0L1311.1 825A122 122 0 0 0 1275.2 750.8ZM1356 825l7 0-6 2 7 0-7 1 7 1-3 1-3 1 0 1 8 0-4 2 7 0-11 1-3 1 3 1-1 1 2 1 1 1 1 1-5 1 7 1-6 0-2 1 0 1 3 1 6 1-9 1 0 0 9 2-5 0 1 2 2 1 1 1-5 0-2 1 9 2-7 0 3 1 0 1 1 1 1 1-1 1-7 0 7 2-8-1 0 1 7 2 0 1-3 1-3 0 2 1-2 1 4 1-7 0 2 1 6 2-4 0-3 1 2 1 3 2-4 0-4 0 9 3-7-1 1 1 2 2 2 1-6-1 7 3-7-1 1 1 2 2-4 0 3 1 3 2-9-2 5 3-3 0 2 1-5 0 7 3-2 0-2 1-2 0 4 2-7-1-1 0 5 3 1 2-4-2 7 5-8-3-1 1 6 3 0 1-7-2 0 1 0 1 6 4-6-2 0 1-1 1 3 2 0 1-2 0 1 1-1 1 2 2-6-2 2 2-2 0 0 1 2 2-1 1-3-1 1 2-3-1 6 4-2 0 0 1-1 1 1 1-5-2-3-1 3 4 5 4-10-6 7 6-2 0-1 0-4-2 7 6-8-4 2 3-1 0 3 3-3-1-4-2 2 3 7 7-9-7 2 3-1 1 1 2-1 0-3-1-4-3 6 7-3-2-4-2 5 5-6-3 1 2-3-2 5 6-5-4 4 6-7-6 4 5-2-1-2 0 0 1-1 0-1 0-1 1-2-1 1 2-1 0 3 5-5-4 0 1 6 8-3-2L1272.5 927.7A122 122 0 0 0 1311.4 828.4ZM1304 969l-2-1-2 0-1-1 1 3 1 3-1 0-3-2-1 0 2 3-1 1-4-4-1 0 2 5-2-2-1 1 0 1 0 1-5-5 0 1 0 2 3 5-5-5-1 0 4 7-4-3 4 8-4-5 0 1 0 1-1 1-5-6 0 1 3 6-2-1 0 2-1 0-1 1-3-3 0 1 0 2 0 1-4-6 3 9-4-6 1 4 0 1-2-2 2 7-4-6 1 4-1 1-1 0-3-5 2 7-1 0-1 0-2-4-2-1-1-1 1 4 0 2-3-3 2 6-1 0-2-1 1 4-3-5 0 1-1 1 0 2-4-7 1 4-1 0-2-3-2-1 2 7-1 1-2-4-1-1 0 3-1 1-2-4 0 5 0 1 0 3-2-2-2-5 0 2-2-4 1 9-1 0-2-4-1 0 0 2-2-2 1 5-2-3-2-5 1 9-1 0-1-2-1 2-1-2-2-6 0 7-1-1 0 3-2-4-1-1-1-1 0 6-1-1 0 9-2-8-1-2-1 1 0 2-2-5-1-2 0 4-1-3-1 7L1199.2 959.6A122 122 0 0 0 1270 929.9ZM1198 1008l-1-3-1-2 0 9-1 3-1-6-1 0-1 0-1 1-1 0-1-1-1-4-1 0 0 0-1 5-1 2-1-1-1-7-1 8-1-2-1-5-1 7-1-3 0-1-1-3-1-2-1 6-1 1-1-1-1-1-1 4-1-3 0-5-1-1-1 1-2 8 0-7-1 3-1-3 0-3-1-1-2 9 0-4-2 5-1-3-1 1-1 0 1-7-2 3-1 3-1-2 0-4-2 4-1 2-1-1 0-1 1-7-2 4-2 1 0 0-1-3-1 0-2 5-1-1 0-2 0-2-2 1-1 1 1-5-3 6-1 0 0-2-2 1 2-8-3 5-1 1 2-7-4 7-1 1 1-4-2 1-1 0-2 4 3-12-4 8 0-2-1-1-2 3 2-7-2 3 1-4-4 6 3-9-2 2-3 4-1 1 0-2-1-1 1-3L1135 947A122 122 0 0 0 1195.8 959.9ZM1107 992l3-7-3 3-3 4 1-4-1 0 0-3 0-1 0-1-3 2-2 2 2-5-3 3 3-6-4 4 1-2 0-2-4 4 0-1 2-6-4 6 1-3-2 1 3-7-3 3 1-3-9 11 3-6 3-5-5 5 3-5 0-1-1-1-3 3 3-6-1 0-4 3 0-1-3 2 3-4 1-4-1 0-4 4 1-3-3 3 3-5-1 0 1-3-6 5 2-3 2-3-6 4 2-3-5 4 2-3-1 0 2-4-4 2 4-4-6 4 1-2 1-2-3 1 0-1 2-3-1-1 2-2-5 3 4-5-9 7 2-3 4-4-2 0-4 2 5-5-3 1 3-3-5 2 2-3-5 4 2-4 3-3-8 5 1-2 4-4-6 4 1-2 0-2 0 0 2-3-2 0 2-2-3 1-7 3 5-4 3-3-3 1 2-2-1-1-2 0 3-3-3 1-6 2 4-3-2 0 3-2-4 1 1-2 3-3-1 0-7 3 0-1 3-3 0-1-2 0-10 4 7-4 4-3 0-1-3 0-3 1 2-2L1079.4 889.9A122 122 0 0 0 1132 945.4ZM1031 908l1-2-8 3 9-5 1-2 1-1 1-1-5 1 2-2 3-2-2-1-2 0-6 2 1-2-3 0 5-2 2-2-3 0 1-1-5 0 0-1 5-2 0-1-1-1 3-1-5 0 4-2-8 1 3-1 2-2-4 0 4-2 0-1-6 1 2-1 4-2-1-1-5 0-1 0-5 0 9-3 1-1-6 0 1-1-2-1 6-2-7 1 3-2-2 0 8-3-11 1 4-1 5-2-1-1-1 0-6-1 3-1-2-1 2-1 1-1 2-1 1-1-4 0 4-2 2-1-2 0-2-1 2-1-4-1 5-1-9 0 3-1 7-2-6 0-2-1 8-1-11-1 11-1-3-1-2-1 1-1 0 0-1-1-5-1 1-1 8-1-3-1-5-1 3-1-3-1 7 0-3-1-1-1 0-1-5-2 2 0 0-1 5-1-2-1 6 0-9-2 3 0 4-1 2 0-1-2-7-1 8 0-4-2-3-1 3-1 2 0 2-1-2-1-2-1-3-2 4 0-3-1 0-1 3-1 3 0 3 0-5-2-3-2 7 1-5-2 2-1-1-1 5 1 0-1 1-1-7-3 8 1-4-2 4 1-6-3 7 1 0-1-6-2 0-1-1-2 7 2 2-1-7-3 8 2-2-2L1075 796.7A122 122 0 0 0 1078 886.8ZM1030 775l0-1 5 1-4-2 0-1 3 0 3 0-6-3-2-2 7 2 1 0-1-2-1-1 4 1-2-2-3-3 4 1 0-1-3-2 1-1 5 2 2 0-7-5 7 3 1-1-3-2-3-3 5 2 2 0-3-3 2 0-3-2-2-2 1-1 4 1 3 1-9-6-1-2 10 5-3-3 2 0-1-2 0-1 4 2-2-3 6 3-5-4 6 3-7-6 4 1-1-2 4 3 0-1 0-2 0-1 2 0-1-1 3 1-3-3-1-3 1 0 2 1 4 2-3-4 1 0 1-1 2 1-2-3 4 2-2-3 1 0-1-2 6 4-5-6 1 0 2 1-2-3 7 5-1-2 3 1-4-5 5 4-5-6 0-2 5 4-3-5 1 0 2 2 4 2-5-6 7 6-1-3-1-2 0-1 4 2-3-4 3 2 2 1-4-6 2 1 1-1 0-1 4 4 2 1-2-3 3 2-4-7 1-1 5 6-3-6 0-1 5 5-1-3-4-7 5 6-1-4 5 6-3-6 0-2 2 2 2 2 2 1 0-2 1 1-1-5L1126.4 733.8A122 122 0 0 0 1076.2 793.5ZM1104 688l1 0 1 0 4 4-1-4 1 1 2 3 0-3 1 1-2-7 1 0 4 5-1-2 2 0 1 1 0-2 1 0-1-5 3 5-3-8 3 4 2 3-1-5 1 1 3 5 1-1-2-8 2 3 2 4 0-3 2 2-2-8 2 3 0-4 1 2 1 0 2 2 2 4 1 0-1-7 0-1 0-2 3 4 0-3 0-2 1-1 1 2 1-1 2 4 1 1-1-6 3 8 0-7 1 0 2 6 0-2 0-5 3 7-1-5-1-9 2 5 2 3 1-1 2 5 0-2 0-5 1 1 1 2 2 4 0-5 1 2 1 1 0-6 1-1 1 0 1 2 1 0 1 1 2 5 0-7 0-1 1-3 2 7 0-9 1 5 1 4 1-2 1 0 1 5 1-6 1-2 1 1 1 8 0-5 1-2 1-2 1 8 1-8 1 1 1 3 1 0 1-2 0 4 2-9 0 7 1 1 1 4 1-5 1-1 1 5 0-1 2-6 0 7 1-4 1-2 1 4 1 0 1-6 1 3 0 6 2-7L1203.2 716.7A122 122 0 0 0 1129.4 732Z" fill="#bdb8dc"/>
<path d="M1212 680l1-3 0 4 1-1 1 0 3-11-1 8 1 4 1-2 0 2 1 1 1-1 1 1 1-3 0 5 1-1 2-3 0 0 1 2 1-2 1 2 1-1 0 3 1-3 1 2 0 0 2-1 1-1 2-5-2 10 1 0 2-3 0 3 2-4 0 1 0 5 1-2 1 1 0 1 2-2 1-1 0 3 1 0 1 0 0 2 2-4-1 5 3-5-1 5 1 1 1-2 0 2 3-3-1 4 3-5 0 3-1 4 3-5-1 4 2-2 4-7-4 11 2-2 0 2 1 0 1-1-1 3 2-2 0 2 1 1 3-4-1 3 2-1-1 4 3-4-2 4 3-3 1 0 0 2 0 1 0 2 1 0 1 0 0 2 1 0 6-9-3 7-1 3 2-2 0 3 0 0 1 0 1 1 0 1 6-7-3 6-1 3 2-1 0 0 1 1 2-1 1 0-2 4-2 3 3-2 1 1 4-4-1 2 3-3-2 5-1 2 3-2 0 1-1 2 2-1 0 2 0 1L1272.7 748.5A122 122 0 0 0 1206.6 717.2ZM1301 724l3-2-2 3 1 1 4-3-2 3 1 1 7-6-5 6 0 1 0 1 1 1 0 1 0 1 2 0-1 2 0 0 9-6-8 8 2-1 3-1-2 2 0 2 0 0 3-1 1 1-1 1 2 0 1 0 3-1-4 4-1 2 4-2-2 2 2 0 3-1-3 3 2 0 1 0-1 2 1 0 6-2-7 5 1 0 2 0 0 1-1 2-1 1 4-1 1 0 0 1-2 3 3-1-2 2-1 1 1 1 3-1 1 0-3 3 5-1-4 2 3 0 0 1-2 2 2 0 7-3-4 3-3 3 1 0 0 1 2 0 0 1 7-2-4 3-3 1 1 1-1 1 0 1 9-3-6 4 2 0-3 2 1 1 3-1-4 3 5-1 0 1-4 2 2 0 4 0-1 1-4 2 4 0 0 1-4 2 5-1-1 1-3 2 5 0-4 2 2 0-6 3 15-3-10 3 2 0-1 2 3 0-2 1 0 1 4 0-1 1-5 2 2 0 1 1-2 1 3 0-1 2 1 0-1 1-1 1 3 1 1 0-3 2 2 0 0 1-2 1 4 0-4 2 5 0-5 2 4 0-1 1L1311.1 825A122 122 0 0 0 1275.2 750.8ZM1350 825l1 1-3 1 2 1 1 1-2 1 1 0-2 1 5 1-5 1 3 1-1 1 1 1 2 0-2 1 1 1 0 1 6 1-5 1-1 0-2 1 1 1 0 1 0 1 1 1-3 0 4 2-4 0 0 1 3 1 0 1-4 0 4 2-4 0 1 1 1 1 3 1-6 0 2 1-1 1-2 1 2 1 2 1 5 2-5 0-4 0 5 2-2 0-1 1-1 1 3 1 0 1-5 0 3 1 1 1-4 0 2 1 0 1-1 1 2 1 2 2-6-1 8 3-9-2 1 2-1 0 3 2-4 0 5 2-3 0 3 2 5 2-9-1 3 1-2 0-3 0 4 3-3 0 10 4-6-1-3 0-4-1-1 1 3 2 1 1-4-1 5 3 4 3-7-2 2 2-6-2 3 2 7 4-11-4 4 3-1 0-2 0 1 2-4-1 1 1 3 3-3-1-2 0 4 3-4-1 2 2-3-1 5 4-5-2 3 3-4-2-1 1 1 2-1 0 1 1 1 2-2 0 1 2-5-2 3 2-4-1 3 3-1 0-5-2 3 3 8 6-6-3-2-1-2 0 2 3-2 0-1 0 0 1 2 2-4-2 1 2-3-1 0 1 3 4-1 0 0 1-1 0-1 0-1 0-2 0 0 1-1 0-1 1 3 3-3-1 2 3-3-2-1 1 0 0 0 1 0 2-4-2 0 1-3-2 0 1 4 5 0 1 0 1-4-2-1 0 3 4-2-1-3-1 1 2 1 2-1 0-5-4 4 6L1272.5 927.7A122 122 0 0 0 1311.4 828.4ZM1297 961l-1 0 0 1-4-3 0 1 2 4-4-3 1 3-2-2 2 4-2-2 0 2-2-1-1-1-1 0 2 5-3-2-1 0 2 4-3-3 1 3-2-2 0 2-2-2 2 5-2-2-2-1 0 1 1 3 2 5-6-7 1 2 0 3-1-1-3-3-1 0 0 1 0 3-1-1 1 4-1-1-1 1-1-1-2-2 1 4-1 0-2-2 0 3-1-1-1 0 2 6-2-3-1 1-2-4 0 4-2-4 0 3 0 1-2-2-1 1 1 3-2-1-1-2 0 3 0 2-1 0-1 0-2-2 0 3-1-1-1-2-2-1 0 2-1 0 1 4-2-3-2-1 0 0 0 3 0 2-2-1-2-3 1 5-1-2-1-1-1 2-1-1-1 1 0 1-2-3-1 0 0 1-1 0-2-2 0 3 0 1-1 0-1-2-1 1 0 6-1-1-1-1-1-1-1-2-1 1-1 0 0 2-2-3-1-1 0 1-1 3-1-1-1 0 0-1-1 2-1 1-1-3-1 3-1-2 0-1-1 1-1 1-1 3L1199.2 959.6A122 122 0 0 0 1270 929.9ZM1197 994l0 4-1 4-1-5-1 3-1-1 0-2-1-2-1 3-1 6-1-6-1-2 0 2-1 3-1-2-1 6-1-9-1-1-1 3 0 3-1-4-1 1-1 1-1 0-1 0 0-1-1-5-1 5-1-2-1 2 0-2-2 7-1-2 0-4-1-2-1 5-1-2 0-2-1-1-2 5 0-5 0-1-2 6 0-6-2 5 0-5-1 3-1 0 0-4-2 3 0-2-1-2-2 5 0-1-1-1-1 0-1 2-1 1-1-1 1-5-2 2-1 2-1-1 1-5-1 0-2 2 0-2-1 0-2 4 0-3-3 8 2-11-2 5 0-2 0-3-1 0-1-1-1 0-2 4 0-3-1 0 0-2-1 1-2 1-1 1 1-3-2 2-1 0 1-4-3 3 0-1 0-3-3 5 2-7-2 3 0-1-1-1 0-2-1 1L1135 947A122 122 0 0 0 1195.8 959.9ZM1115 977l-2 2-2 2 0-2 0-2-5 7 3-6 0-2-4 4 2-5 0-2-1 1-2 2-1-1 1-3-2 2 0-2-1 0 0 0-3 2 2-5-2 2-1-1 1-3-1 1 0-1-2 0-2 2-1-1 0-1 2-3-2 1 0-1-3 1 1-2-1 0 0-1-1 0-2 1 2-5-1 0-5 6 3-5-2 1-1-1-1 0-3 2 2-3 0-2 1-2-1 0-1 0-2 1 1-3-3 2 1-1-1-1 1-2-2 0 0 0 0-2-3 2 0-2-1 0 1-2-1 0-1 0-5 3 5-6 0 0 0-1-3 1-2 0 1-2 3-3-4 2 0-1 1-2-3 1 0-1-2 0 2-1-2 0-1-1 1-2 1-1 0-2 0 0-5 2 2-2 0-2-3 1 3-3-4 2 3-3-3 1-2 0 2-2 0-1 0-1-4 2 3-3-1 0-1-1 1-2-2 1 3-3-3 1-1-1-4 2 6-4-2 0-4 1 4-3-5 1 3-2 0-1-1-1-3 1 1-2 3-2-1 0L1079.4 889.9A122 122 0 0 0 1132 945.4ZM1042 903l1-2-1 0 2-2-1 0-2 0 0-1-4 0 1-1 2-2 2-1 0-1-3 0-3 0-1-1 1-1 0-1 3-2 0 0-5 0 3-1 0-1-4 0 1-1 0-1 0-1 1-1-3 0-2-1 3-1 2-2-1-1 2-1-3 0 0-1 3-1-5 0 2-1-3-1 5-1-4 0 3-2-3 0 6-2-7 0 2-1 2-1-5 0 2-1 2-2-3 0-2-1 3-1 2-1-1-1-1 0-2-1-2-1 0-1 5-1 0-1-4 0 0-1 4-1-4-1 3-1-9 0 6-1 3-1-4-1-1-1 1-1 4-1-4 0 0-1 2-1 3-1-5-1 2-1-2-1 6 0-6-1 1-1 1-1-2-1 3-1-2-1 2 0-3-1 5-1 2-1-2-1 0 0-4-2-4-1 7 0-1-1-2-1 2-1-1-1 3 0-4-1 0-1-1-1 4-1-2-1 0-1-1-1 4 0-4-1 4-1-2-1-1-1 3 0 0-1 3 0-5-2 5 0-2-1 1-1 0-1-8-2 6 0 1-1-2-1 5 0-1-1-4-2 3 0 2 0-1-1 0-1-4-2 6 1-2-2-1-1 3 0 0-1-1-1 0-1 0-1 4 1 0-1 0-1-3-2L1075 796.7A122 122 0 0 0 1078 886.8ZM1039 779l6 1-4-2 2 0-3-3 4 1-2-1-5-4 6 2 1 0 2 0-1-1-2-3 1 0 2 0 2 0 0-1 0-1-1-1-2-2 3 1 2 0-3-3 4 1-1-1-1-2 2 0 0 0-3-3 3 0-1-1 3 0-2-1 2 0 0-1 0-1 1-1 1 0-3-3 4 2 1 0 0-2-2-2 1 0 1-1 0-1-1-1 3 1 0-1-1-3 0 0 2 0-3-3 7 4-1-1-1-3 4 2-2-2 0-1 1 0 1-1-1-2 2 1 1 0 0-2 1 0-2-3 4 2-2-2-1-2 5 3-1-2 1 0 2 0-1-1-2-3 4 2-1-2 2 0 1 1-1-3 0-1 1 0 2 1 0-1 0-1 0-2 2 1-1-3-3-3 5 3 0-1 3 2-1-2 2 1 1 0 0-1-2-5 3 4 1-1 1 0 1 0 0-2 0-1 2 1 0-2-2-3 1 0 2 1 0-2 3 3-5-8 6 7 1-1 0-1 0-2-4-6 4 5 1-2 3 4-1-3 0-2 1 0 2 1-1-2L1126.4 733.8A122 122 0 0 0 1076.2 793.5ZM1111 700l-1-3 3 3-1-3 0-2 2 2 2 1-2-4 2 2 0-3-1-5 3 5 0-1 3 3 0-2-1-2 3 2-1-4 2 3 1 0 1 0 1 1 0-3 0-2 1 2 2 1 2 2-1-3 1 0-1-4 1-1 1 1 2 3 1-1 0-1 1 0-1-6 2 4 2 3 0-5 0 0 2 4 1-1 1-1 1 0 0-2 1 1 0-4 2 5 0-2 0-3 3 6 0-4 0-3 2 5 1 0-1-5 1 0 2 2 0-3 2 4 0 0 1 0 1-1 1 0 1 0 0-4 1 0 1 2 0-3 1 2 2 3 0-3 1 2 1-3 1 4 0-3 1-1 1-1 1 2 1-1 1-1 1 5 0-7 0-6 2 7 1 3 1-2 1 4 0-5 1 4 1-5 1 5 1 0 1-2 0-1 1 1 1 1 1-3 1 1 1 0 0 3 1-1 1-3 1 3 1-4 1 0 0 5 1-3 1 0 1-1 1 2 1 0 1 1 0 0 2-9 0 11 1 0 1-3 0 3 2-2L1203.2 716.7A122 122 0 0 0 1129.4 732Z" fill="#a09ac9"/>
<g fill="none" stroke="#c8c8d8" stroke-opacity="0.5" stroke-width="1"><circle cx="1189.8" cy="838" r="173"/><circle cx="1189.8" cy="838" r="179.5"/><circle cx="1189.8" cy="838" r="186"/></g>
<path d="M976 1325.1L949.4 1385.6M1003.5 1336.3L980.4 1398.1M1085.6 1359.7L1072.6 1424.4M808.4 1208.9L761.1 1254.9M868.2 414.2L828.2 361.7M1022.8 332.9L1002 270.2M659 801.8L593.2 797.3M692.5 1026.9L630.8 1050.4M1657.3 1091.8L1715.3 1123.3M1442 1306.4L1473.3 1364.5M1036.8 1166.1L1016.5 1209.6M1054.2 1173.6L1036.2 1218.1M1102.2 1189.2L1090.6 1235.8" stroke="#ffc2b2" stroke-width="1.1" fill="none"/>
<path d="M1289.3 120.7A724.2 724.2 0 0 1 1681.9 306.6L1678.5 310.3A719.2 719.2 0 0 0 1288.7 125.6Z" fill="#999"/>
<path d="M1696.4 320.7A724 724 0 0 1 1909.7 761.1L1905.1 761.6A719.4 719.4 0 0 0 1693.1 324Z" fill="#e2e2e2" stroke="#9a9a9a" stroke-width="1.3"/>
<path d="M1911.8 781.2A724.2 724.2 0 0 1 1680.9 1370.2L1677.5 1366.6A719.2 719.2 0 0 0 1906.8 781.6Z" fill="#999"/>
<path d="M1665.7 1383.6A724 724 0 0 1 1245.3 1559.9L1245 1555.3A719.4 719.4 0 0 0 1662.7 1380.1Z" fill="#e2e2e2" stroke="#9a9a9a" stroke-width="1.3"/>
<path d="M1225.2 1561.3A724.2 724.2 0 0 1 864.4 1485L866.6 1480.5A719.2 719.2 0 0 0 1224.9 1556.3Z" fill="#999"/>
<path d="M846.6 1475.5A724 724 0 0 1 534.7 1146.3L538.9 1144.3A719.4 719.4 0 0 0 848.7 1471.4Z" fill="#e2e2e2" stroke="#9a9a9a" stroke-width="1.3"/>
<path d="M526.2 1127.9A724.2 724.2 0 0 1 508.4 592.7L513.1 594.4A719.2 719.2 0 0 0 530.8 1125.9Z" fill="#999"/>
<path d="M515.7 573.8A724 724 0 0 1 813.7 219.4L816.1 223.3A719.4 719.4 0 0 0 520 575.5Z" fill="#e2e2e2" stroke="#9a9a9a" stroke-width="1.3"/>
<path d="M831 208.9A724.2 724.2 0 0 1 1269.3 118.2L1268.7 123.1A719.2 719.2 0 0 0 833.5 213.3Z" fill="#999"/>
<path d="M1289.2 121.4L1290.5 112.5M1311.7 124.8L1312.4 120.9M1334 129L1334.8 125.1M1356.2 133.9L1357.2 130M1378.3 139.5L1379.3 135.6M1400.1 145.7L1401.9 140M1421.8 152.7L1423 148.9M1443.2 160.3L1444.6 156.6M1464.3 168.6L1465.9 164.9M1485.2 177.6L1486.9 173.9M1505.8 187.2L1509.8 179.1M1526.1 197.4L1528 193.9M1546.1 208.3L1548 204.8M1565.7 219.8L1567.8 216.4M1584.9 231.9L1587.1 228.6M1603.7 244.6L1607.2 239.7M1622.2 257.9L1624.6 254.7M1640.2 271.8L1642.7 268.7M1657.8 286.2L1660.3 283.2M1674.9 301.2L1677.5 298.2M1696 321.1L1702.3 314.6M1712 337.2L1714.9 334.5M1727.5 353.9L1730.4 351.2M1742.4 371L1745.5 368.4M1756.8 388.6L1759.9 386.1M1770.6 406.6L1775.5 403.1M1783.9 425.1L1787.2 422.8M1796.6 444L1799.9 441.8M1808.7 463.2L1812.1 461.1M1820.1 482.8L1823.6 480.9M1831 502.8L1838.9 498.6M1841.2 523.1L1844.8 521.4M1850.8 543.7L1854.4 542.1M1859.7 564.6L1863.4 563.1M1867.9 585.8L1871.7 584.4M1875.5 607.2L1881.2 605.3M1882.4 628.9L1886.2 627.7M1888.6 650.7L1892.5 649.7M1894.2 672.8L1898.1 671.9M1899 695L1902.9 694.2M1903.2 717.3L1912 715.8M1906.6 739.8L1910.6 739.3M1911.1 781.2L1920 780.5M1912.5 803.9L1916.5 803.7M1913.2 826.6L1917.2 826.6M1913.2 849.4L1917.2 849.4M1912.5 872.1L1916.5 872.3M1911.1 894.8L1917.1 895.2M1908.9 917.4L1912.9 917.8M1906.1 939.9L1910 940.5M1902.5 962.4L1906.5 963.1M1898.3 984.7L1902.2 985.5M1893.3 1006.9L1902.1 1009M1887.7 1028.9L1891.5 1030M1881.3 1050.7L1885.1 1051.9M1874.3 1072.4L1878.1 1073.6M1866.6 1093.7L1870.3 1095.2M1858.2 1114.9L1863.8 1117.2M1849.2 1135.7L1852.8 1137.4M1839.5 1156.3L1843.1 1158.1M1829.2 1176.5L1832.7 1178.4M1818.3 1196.5L1821.7 1198.4M1806.7 1216L1814.4 1220.7M1794.5 1235.2L1797.8 1237.4M1781.7 1254L1785 1256.3M1768.4 1272.4L1771.6 1274.8M1754.4 1290.4L1757.6 1292.9M1740 1307.9L1744.5 1311.8M1724.9 1324.9L1727.9 1327.6M1709.4 1341.5L1712.2 1344.3M1693.3 1357.6L1696.1 1360.4M1665.4 1383.2L1671.3 1390M1648.1 1397.9L1650.6 1401M1630.2 1412L1632.7 1415.2M1612 1425.5L1614.3 1428.8M1593.3 1438.5L1595.6 1441.8M1574.3 1450.9L1577.5 1456M1554.8 1462.7L1556.8 1466.1M1535 1473.8L1536.9 1477.3M1514.9 1484.4L1516.7 1487.9M1494.4 1494.2L1496.1 1497.9M1473.7 1503.5L1477.2 1511.8M1452.6 1512.1L1454.1 1515.8M1431.3 1520L1432.6 1523.8M1409.8 1527.3L1411 1531.1M1388 1533.8L1389.1 1537.7M1366.1 1539.7L1367.5 1545.5M1343.9 1544.9L1344.8 1548.8M1321.6 1549.4L1322.4 1553.3M1299.2 1553.2L1299.8 1557.1M1276.7 1556.3L1277.2 1560.2M1254.1 1558.6L1254.9 1567.6M1225.1 1560.6L1225.6 1569.6M1202.4 1561.4L1202.5 1565.4M1179.7 1561.4L1179.6 1565.4M1157 1560.8L1156.8 1564.8M1134.3 1559.4L1134 1563.4M1111.7 1557.3L1111 1563.2M1089.1 1554.5L1088.6 1558.4M1066.7 1550.9L1066 1554.9M1044.3 1546.7L1043.5 1550.6M1022.1 1541.8L1021.2 1545.7M1000.1 1536.2L997.7 1544.9M978.3 1529.9L977.1 1533.7M956.6 1522.9L955.4 1526.7M935.2 1515.2L933.8 1519M914.1 1506.9L912.6 1510.6M893.2 1497.9L890.8 1503.4M872.6 1488.3L870.9 1491.9M846.8 1475L842.5 1482.9M827 1463.9L825 1467.4M807.5 1452.2L805.4 1455.6M788.4 1439.9L786.2 1443.2M769.7 1427L767.3 1430.3M751.4 1413.5L747.7 1418.3M733.5 1399.5L731 1402.6M716.1 1384.9L713.5 1387.9M699.2 1369.7L696.4 1372.7M682.7 1354L679.9 1356.9M666.7 1337.9L660.2 1344.1M651.3 1321.2L648.3 1323.8M636.4 1304L633.3 1306.6M622 1286.4L618.9 1288.9M608.2 1268.4L605 1270.7M595 1249.9L590 1253.3M582.3 1231L579 1233.2M570.3 1211.7L566.9 1213.8M558.9 1192.1L555.4 1194M548 1172.1L544.5 1173.9M537.9 1151.8L529.8 1155.7M526.8 1127.7L518.6 1131.3M518 1106.7L514.3 1108.2M509.9 1085.5L506.2 1086.8M502.5 1064L498.7 1065.2M495.7 1042.3L491.9 1043.4M489.7 1020.4L483.9 1021.9M484.3 998.3L480.4 999.2M479.6 976.1L475.7 976.8M475.6 953.7L471.7 954.3M472.3 931.2L468.4 931.7M469.8 908.6L460.8 909.5M467.9 885.9L463.9 886.2M466.7 863.2L462.7 863.4M466.3 840.5L462.3 840.5M466.6 817.8L462.6 817.7M467.6 795.1L461.6 794.7M469.3 772.4L465.3 772.1M471.7 749.8L467.7 749.3M474.8 727.3L470.9 726.7M478.6 704.9L474.7 704.2M483.2 682.6L474.4 680.7M488.4 660.5L484.5 659.5M494.3 638.6L490.5 637.5M500.9 616.8L497.1 615.6M508.2 595.3L504.5 594M516.2 574L507.8 570.7M524.8 553L521.1 551.4M534.1 532.2L530.5 530.5M544 511.8L540.4 510M554.6 491.7L551.1 489.8M565.8 471.9L560.6 468.8M577.6 452.5L574.2 450.3M590 433.4L586.7 431.2M603 414.8L599.8 412.4M616.6 396.6L613.4 394.1M630.7 378.8L623.8 373.1M645.4 361.4L642.4 358.8M660.7 344.6L657.7 341.8M676.4 328.2L673.6 325.4M692.7 312.3L689.9 309.4M709.4 297L705.5 292.5M726.7 282.1L724.1 279.1M744.4 267.9L741.9 264.7M762.5 254.2L760.1 250.9M781 241L778.8 237.7M800 228.5L795.2 220.9M831.3 209.5L826.9 201.7M851.3 198.6L849.4 195.1M871.5 188.3L869.7 184.7M892.1 178.6L890.4 175M912.9 169.6L911.4 165.9M934.1 161.2L931.9 155.6M955.4 153.5L954.2 149.7M977.1 146.5L975.9 142.7M998.9 140.1L997.8 136.3M1020.9 134.5L1020 130.6M1043.1 129.5L1041.3 120.7M1065.4 125.3L1064.7 121.3M1087.9 121.7L1087.3 117.8M1110.4 118.9L1110 114.9M1133 116.7L1132.7 112.7M1155.7 115.3L1155.4 109.3M1178.4 114.6L1178.4 110.6M1201.2 114.6L1201.2 110.6M1223.9 115.3L1224.1 111.3M1246.6 116.7L1246.9 112.7M1269.2 118.9L1270.2 109.9" stroke="#222" stroke-width="1.4" fill="none"/>
<g font-family="Liberation Sans, sans-serif" font-size="12.5" fill="#111"><text x="1291.4" y="105.5" transform="rotate(-82.1 1291.4 105.5)" text-anchor="start" dominant-baseline="central">0</text><text x="1512.8" y="172.8" transform="rotate(-64.1 1512.8 172.8)" text-anchor="start" dominant-baseline="central">20</text><text x="1707.2" y="309.6" transform="rotate(-45.6 1707.2 309.6)" text-anchor="start" dominant-baseline="central">0</text><text x="1845.1" y="495.4" transform="rotate(-27.6 1845.1 495.4)" text-anchor="start" dominant-baseline="central">20</text><text x="1918.9" y="714.7" transform="rotate(-9.6 1918.9 714.7)" text-anchor="start" dominant-baseline="central">40</text><text x="1927" y="780" transform="rotate(-4.5 1927 780)" text-anchor="start" dominant-baseline="central">0</text><text x="1908.9" y="1010.6" transform="rotate(13.5 1908.9 1010.6)" text-anchor="start" dominant-baseline="central">20</text><text x="1820.3" y="1224.4" transform="rotate(31.5 1820.3 1224.4)" text-anchor="start" dominant-baseline="central">40</text><text x="1675.9" y="1395.3" transform="rotate(48.9 1675.9 1395.3)" text-anchor="start" dominant-baseline="central">0</text><text x="1479.9" y="1518.2" transform="rotate(66.9 1479.9 1518.2)" text-anchor="start" dominant-baseline="central">20</text><text x="1255.5" y="1574.6" transform="rotate(84.9 1255.5 1574.6)" text-anchor="start" dominant-baseline="central">40</text><text x="1225.9" y="1576.6" transform="rotate(87.2 1225.9 1576.6)" text-anchor="start" dominant-baseline="central">0</text><text x="995.9" y="1551.6" transform="rotate(-74.8 995.9 1551.6)" text-anchor="end" dominant-baseline="central">20</text><text x="839.2" y="1489.1" transform="rotate(-61.7 839.2 1489.1)" text-anchor="end" dominant-baseline="central">0</text><text x="655.2" y="1348.9" transform="rotate(-43.7 655.2 1348.9)" text-anchor="end" dominant-baseline="central">20</text><text x="523.5" y="1158.7" transform="rotate(-25.7 523.5 1158.7)" text-anchor="end" dominant-baseline="central">40</text><text x="512.1" y="1134.1" transform="rotate(-23.6 512.1 1134.1)" text-anchor="end" dominant-baseline="central">0</text><text x="453.8" y="910.2" transform="rotate(-5.6 453.8 910.2)" text-anchor="end" dominant-baseline="central">20</text><text x="467.6" y="679.2" transform="rotate(12.4 467.6 679.2)" text-anchor="end" dominant-baseline="central">40</text><text x="501.3" y="568.2" transform="rotate(21.4 501.3 568.2)" text-anchor="end" dominant-baseline="central">0</text><text x="618.4" y="368.6" transform="rotate(39.4 618.4 368.6)" text-anchor="end" dominant-baseline="central">20</text><text x="791.4" y="215" transform="rotate(57.4 791.4 215)" text-anchor="end" dominant-baseline="central">40</text><text x="823.4" y="195.6" transform="rotate(60.3 823.4 195.6)" text-anchor="end" dominant-baseline="central">0</text><text x="1039.8" y="113.9" transform="rotate(78.3 1039.8 113.9)" text-anchor="end" dominant-baseline="central">20</text><text x="1270.9" y="103" transform="rotate(-83.7 1270.9 103)" text-anchor="start" dominant-baseline="central">40</text></g>
<g font-family="Liberation Serif, serif" font-weight="bold" font-size="20" fill="#000"><text x="1528.5" y="140.5" transform="rotate(20 1528.5 140.5)" text-anchor="middle" dominant-baseline="central">C01</text><text x="1880" y="484.8" transform="rotate(63 1880 484.8)" text-anchor="middle" dominant-baseline="central">C02</text><text x="1883.9" y="1124.1" transform="rotate(-67.6 1883.9 1124.1)" text-anchor="middle" dominant-baseline="central">C03</text><text x="1492.5" y="1554.7" transform="rotate(0 1492.5 1554.7)" text-anchor="middle" dominant-baseline="central">C04</text><text x="994.1" y="1578.6" transform="rotate(0 994.1 1578.6)" text-anchor="middle" dominant-baseline="central">C05</text><text x="635.8" y="1374.9" transform="rotate(35 635.8 1374.9)" text-anchor="middle" dominant-baseline="central">C06</text><text x="424.2" y="858" transform="rotate(88.5 424.2 858)" text-anchor="middle" dominant-baseline="central">C07</text><text x="592.9" y="349.5" transform="rotate(-50.7 592.9 349.5)" text-anchor="middle" dominant-baseline="central">C08</text><text x="1029" y="81.4" transform="rotate(-12 1029 81.4)" text-anchor="middle" dominant-baseline="central">C09</text></g>
<g fill="#000">
<rect x="1873.8" y="52" width="2.4" height="70"/>
<rect x="1873.8" y="128" width="2.4" height="68"/>
<rect x="1873.3" y="201" width="2.4" height="66.5"/>
</g>
<rect x="1897.5" y="51.8" width="32.2" height="32.2" fill="#ff6746"/>
<rect x="1897.5" y="90" width="32.2" height="32.6" fill="#27c46c"/>
<rect x="1897.5" y="128.2" width="32.2" height="31.5" fill="#ff8c32"/>
<rect x="1897.5" y="165" width="32.2" height="31.6" fill="#32afda"/>
<rect x="1897.5" y="201.2" width="32.2" height="31" fill="#ffff33"/>
<rect x="1897.5" y="237.2" width="32.2" height="30.3" fill="#a09ac9"/>
<g font-family="Liberation Serif, serif" font-size="31" fill="#000">
<text x="1805" y="97">CG</text><text x="1805" y="173.4">CHG</text><text x="1805" y="245.5">CHH</text>
</g><g font-family="Liberation Serif, serif" font-weight="bold" font-size="25" fill="#000">
<text x="1946" y="78">S</text>
<text x="1946" y="114">F</text>
<text x="1946" y="153.5">S</text>
<text x="1946" y="188">F</text>
<text x="1946" y="225">S</text>
<text x="1946" y="261">F</text>
</g>
<g font-family="Liberation Serif, serif" font-weight="bold" font-size="120" fill="#000"><text x="166" y="91">a</text><text x="142" y="1769" font-size="115">b</text><text x="143" y="2925">c</text></g>
<defs>
<linearGradient id="g0" x1="0" x2="1" y1="0" y2="0"><stop offset="0" stop-color="#154f80"/><stop offset="0.12" stop-color="#1f6aa6"/><stop offset="0.5" stop-color="#2a80c0"/><stop offset="0.85" stop-color="#1e649c"/><stop offset="1" stop-color="#10456f"/></linearGradient>
<linearGradient id="g1" x1="0" x2="1" y1="0" y2="0"><stop offset="0" stop-color="#8a2e2a"/><stop offset="0.12" stop-color="#b23d38"/><stop offset="0.5" stop-color="#d24c47"/><stop offset="0.85" stop-color="#b03c37"/><stop offset="1" stop-color="#7e2824"/></linearGradient>
<linearGradient id="g2" x1="0" x2="1" y1="0" y2="0"><stop offset="0" stop-color="#5f7f2f"/><stop offset="0.12" stop-color="#7da040"/><stop offset="0.5" stop-color="#94bf50"/><stop offset="0.85" stop-color="#7a9c3e"/><stop offset="1" stop-color="#536f29"/></linearGradient>
<linearGradient id="g3" x1="0" x2="1" y1="0" y2="0"><stop offset="0" stop-color="#4f3b6e"/><stop offset="0.12" stop-color="#6d5090"/><stop offset="0.5" stop-color="#8a66aa"/><stop offset="0.85" stop-color="#6a4e8c"/><stop offset="1" stop-color="#453361"/></linearGradient>
<linearGradient id="g4" x1="0" x2="1" y1="0" y2="0"><stop offset="0" stop-color="#0f7389"/><stop offset="0.12" stop-color="#1995ae"/><stop offset="0.5" stop-color="#22b3cf"/><stop offset="0.85" stop-color="#1892aa"/><stop offset="1" stop-color="#0d6679"/></linearGradient>
<linearGradient id="g5" x1="0" x2="1" y1="0" y2="0"><stop offset="0" stop-color="#b65f1e"/><stop offset="0.12" stop-color="#de7e30"/><stop offset="0.5" stop-color="#fa9a48"/><stop offset="0.85" stop-color="#da7a2c"/><stop offset="1" stop-color="#a8561a"/></linearGradient>
</defs>
<g stroke="#888" stroke-width="3" fill="none" stroke-linejoin="round">
<path d="M458 2590.4H1984L2040 2548H527L471.6 2590.4"/>
</g>
<path d="M471.5 1750V2603" stroke="#888" stroke-width="4.6" fill="none"/>
<g stroke="#888" stroke-width="3.2" fill="none">
<path d="M458.2 1751.5H471"/>
<path d="M458.2 1835.4H471"/>
<path d="M458.2 1919.3H471"/>
<path d="M458.2 2003.2H471"/>
<path d="M458.2 2087.1H471"/>
<path d="M458.2 2171H471"/>
<path d="M458.2 2254.9H471"/>
<path d="M458.2 2338.8H471"/>
<path d="M458.2 2422.7H471"/>
<path d="M458.2 2506.6H471"/>
<path d="M458.2 2590.5H471"/>
</g>
<g stroke="#888" stroke-width="2.6" fill="none">
<path d="M639.6 2590.4V2603"/>
<path d="M807.7 2590.4V2603"/>
<path d="M975.7 2590.4V2603"/>
<path d="M1143.8 2590.4V2603"/>
<path d="M1311.8 2590.4V2603"/>
<path d="M1479.8 2590.4V2603"/>
<path d="M1647.9 2590.4V2603"/>
<path d="M1815.9 2590.4V2603"/>
<path d="M1984 2590.4V2603"/>
</g>
<g font-family="Liberation Serif, serif" font-size="46" fill="#000" text-anchor="end">
<text x="423" y="1768.5">200</text>
<text x="423" y="1852.4">180</text>
<text x="423" y="1936.3">160</text>
<text x="423" y="2020.2">140</text>
<text x="423" y="2104.1">120</text>
<text x="423" y="2188">100</text>
<text x="423" y="2271.9">80</text>
<text x="423" y="2355.8">60</text>
<text x="423" y="2439.7">40</text>
<text x="423" y="2523.6">20</text>
<text x="423" y="2607.5">0</text>
</g>
<g font-family="Liberation Serif, serif" font-size="46" fill="#000" text-anchor="middle">
<text x="555.6" y="2671">C01</text>
<text x="723.6" y="2671">C02</text>
<text x="891.7" y="2671">C03</text>
<text x="1059.7" y="2671">C04</text>
<text x="1227.8" y="2671">C05</text>
<text x="1395.8" y="2671">C06</text>
<text x="1563.8" y="2671">C07</text>
<text x="1731.9" y="2671">C08</text>
<text x="1899.9" y="2671">C09</text>
</g>
<text x="1229" y="2752" font-family="Liberation Serif, serif" font-weight="bold" font-size="43" text-anchor="middle">(Chromosome)</text>
<text transform="translate(342 2140) rotate(-90)" font-family="Liberation Serif, serif" font-weight="bold" font-size="43" text-anchor="middle">Methylation level (%)</text>
<path d="M549.7 2300.9L550.4 2302.3L552.3 2303.6L555.5 2304.7L559.7 2305.5L564.9 2306.1L570.9 2306.4L577.3 2306.4L584 2306.1L590.7 2305.4L597.1 2304.6L603.1 2303.4L608.3 2302.1L612.5 2300.7L615.7 2299.2L617.6 2297.6L618.3 2296.1L618.3 2567.9L617.6 2569.4L615.7 2571L612.5 2572.5L608.3 2574L603.1 2575.3L597.1 2576.4L590.7 2577.3L584 2577.9L577.3 2578.2L570.9 2578.2L564.9 2578L559.7 2577.4L555.5 2576.5L552.3 2575.4L550.4 2574.1L549.7 2572.7Z" fill="url(#g0)"/>
<path d="M549.7 2029.9L550.4 2031.3L552.3 2032.6L555.5 2033.7L559.7 2034.5L564.9 2035.1L570.9 2035.4L577.3 2035.4L584 2035.1L590.7 2034.5L597.1 2033.6L603.1 2032.5L608.3 2031.1L612.5 2029.7L615.7 2028.2L617.6 2026.6L618.3 2025.1L618.3 2297.1L617.6 2298.6L615.7 2300.2L612.5 2301.7L608.3 2303.1L603.1 2304.4L597.1 2305.6L590.7 2306.4L584 2307.1L577.3 2307.4L570.9 2307.4L564.9 2307.1L559.7 2306.5L555.5 2305.7L552.3 2304.6L550.4 2303.3L549.7 2301.9Z" fill="url(#g1)"/>
<path d="M549.7 1925.8L550.4 1927.3L552.3 1928.6L555.5 1929.6L559.7 1930.5L564.9 1931.1L570.9 1931.4L577.3 1931.4L584 1931L590.7 1930.4L597.1 1929.5L603.1 1928.4L608.3 1927.1L612.5 1925.7L615.7 1924.1L617.6 1922.6L618.3 1921L618.3 2026.1L617.6 2027.6L615.7 2029.2L612.5 2030.7L608.3 2032.1L603.1 2033.5L597.1 2034.6L590.7 2035.5L584 2036.1L577.3 2036.4L570.9 2036.4L564.9 2036.1L559.7 2035.5L555.5 2034.7L552.3 2033.6L550.4 2032.3L549.7 2030.9Z" fill="url(#g2)"/>
<path d="M549.7 1828.5L550.4 1829.9L552.3 1831.2L555.5 1832.3L559.7 1833.2L564.9 1833.8L570.9 1834L577.3 1834L584 1833.7L590.7 1833.1L597.1 1832.2L603.1 1831.1L608.3 1829.8L612.5 1828.3L615.7 1826.8L617.6 1825.2L618.3 1823.7L618.3 1922L617.6 1923.6L615.7 1925.1L612.5 1926.7L608.3 1928.1L603.1 1929.4L597.1 1930.5L590.7 1931.4L584 1932L577.3 1932.4L570.9 1932.4L564.9 1932.1L559.7 1931.5L555.5 1930.6L552.3 1929.6L550.4 1928.3L549.7 1926.8Z" fill="url(#g3)"/>
<path d="M549.7 1820.5L550.4 1822L552.3 1823.3L555.5 1824.4L559.7 1825.2L564.9 1825.8L570.9 1826.1L577.3 1826.1L584 1825.7L590.7 1825.1L597.1 1824.2L603.1 1823.1L608.3 1821.8L612.5 1820.4L615.7 1818.8L617.6 1817.3L618.3 1815.7L618.3 1824.7L617.6 1826.2L615.7 1827.8L612.5 1829.3L608.3 1830.8L603.1 1832.1L597.1 1833.2L590.7 1834.1L584 1834.7L577.3 1835L570.9 1835L564.9 1834.8L559.7 1834.2L555.5 1833.3L552.3 1832.2L550.4 1830.9L549.7 1829.5Z" fill="url(#g4)"/>
<path d="M549.7 1810.9L550.4 1812.3L552.3 1813.6L555.5 1814.7L559.7 1815.6L564.9 1816.1L570.9 1816.4L577.3 1816.4L584 1816.1L590.7 1815.5L597.1 1814.6L603.1 1813.5L608.3 1812.2L612.5 1810.7L615.7 1809.2L617.6 1807.6L618.3 1806.1L618.3 1816.7L617.6 1818.3L615.7 1819.8L612.5 1821.4L608.3 1822.8L603.1 1824.1L597.1 1825.2L590.7 1826.1L584 1826.7L577.3 1827.1L570.9 1827.1L564.9 1826.8L559.7 1826.2L555.5 1825.4L552.3 1824.3L550.4 1823L549.7 1821.5Z" fill="url(#g5)"/>
<path d="M618.3 1806.1L617.6 1807.6L615.7 1809.2L612.5 1810.7L608.3 1812.2L603.1 1813.5L597.1 1814.6L590.7 1815.5L584 1816.1L577.3 1816.4L570.9 1816.4L564.9 1816.1L559.7 1815.6L555.5 1814.7L552.3 1813.6L550.4 1812.3L549.7 1810.9L550.4 1809.4L552.3 1807.8L555.5 1806.3L559.7 1804.8L564.9 1803.5L570.9 1802.4L577.3 1801.5L584 1800.9L590.7 1800.6L597.1 1800.5L603.1 1800.8L608.3 1801.4L612.5 1802.3L615.7 1803.4L617.6 1804.7Z" fill="#d0722a"/>
<path d="M717.8 2297.9L718.5 2299.4L720.4 2300.7L723.6 2301.7L727.8 2302.6L733 2303.2L739 2303.5L745.4 2303.4L752.1 2303.1L758.8 2302.5L765.2 2301.6L771.2 2300.5L776.4 2299.2L780.6 2297.8L783.8 2296.2L785.7 2294.7L786.4 2293.1L786.4 2567.9L785.7 2569.4L783.8 2571L780.6 2572.5L776.4 2574L771.2 2575.3L765.2 2576.4L758.8 2577.3L752.1 2577.9L745.4 2578.2L739 2578.2L733 2578L727.8 2577.4L723.6 2576.5L720.4 2575.4L718.5 2574.1L717.8 2572.7Z" fill="url(#g0)"/>
<path d="M717.8 2024L718.5 2025.4L720.4 2026.7L723.6 2027.8L727.8 2028.7L733 2029.2L739 2029.5L745.4 2029.5L752.1 2029.2L758.8 2028.6L765.2 2027.7L771.2 2026.6L776.4 2025.3L780.6 2023.8L783.8 2022.3L785.7 2020.7L786.4 2019.2L786.4 2294.1L785.7 2295.7L783.8 2297.2L780.6 2298.8L776.4 2300.2L771.2 2301.5L765.2 2302.6L758.8 2303.5L752.1 2304.1L745.4 2304.4L739 2304.5L733 2304.2L727.8 2303.6L723.6 2302.7L720.4 2301.7L718.5 2300.4L717.8 2298.9Z" fill="url(#g1)"/>
<path d="M717.8 1918.3L718.5 1919.7L720.4 1921L723.6 1922.1L727.8 1923L733 1923.5L739 1923.8L745.4 1923.8L752.1 1923.5L758.8 1922.9L765.2 1922L771.2 1920.9L776.4 1919.6L780.6 1918.1L783.8 1916.6L785.7 1915L786.4 1913.5L786.4 2020.2L785.7 2021.7L783.8 2023.3L780.6 2024.8L776.4 2026.3L771.2 2027.6L765.2 2028.7L758.8 2029.6L752.1 2030.2L745.4 2030.5L739 2030.5L733 2030.2L727.8 2029.7L723.6 2028.8L720.4 2027.7L718.5 2026.4L717.8 2025Z" fill="url(#g2)"/>
<path d="M717.8 1819.3L718.5 1820.7L720.4 1822L723.6 1823.1L727.8 1823.9L733 1824.5L739 1824.8L745.4 1824.8L752.1 1824.5L758.8 1823.9L765.2 1823L771.2 1821.9L776.4 1820.6L780.6 1819.1L783.8 1817.6L785.7 1816L786.4 1814.5L786.4 1914.5L785.7 1916L783.8 1917.6L780.6 1919.1L776.4 1920.6L771.2 1921.9L765.2 1923L758.8 1923.9L752.1 1924.5L745.4 1924.8L739 1924.8L733 1924.5L727.8 1924L723.6 1923.1L720.4 1922L718.5 1920.7L717.8 1919.3Z" fill="url(#g3)"/>
<path d="M717.8 1811.3L718.5 1812.7L720.4 1814L723.6 1815.1L727.8 1816L733 1816.6L739 1816.8L745.4 1816.8L752.1 1816.5L758.8 1815.9L765.2 1815L771.2 1813.9L776.4 1812.6L780.6 1811.1L783.8 1809.6L785.7 1808L786.4 1806.5L786.4 1815.5L785.7 1817L783.8 1818.6L780.6 1820.1L776.4 1821.6L771.2 1822.9L765.2 1824L758.8 1824.9L752.1 1825.5L745.4 1825.8L739 1825.8L733 1825.5L727.8 1824.9L723.6 1824.1L720.4 1823L718.5 1821.7L717.8 1820.3Z" fill="url(#g4)"/>
<path d="M717.8 1801.7L718.5 1803.1L720.4 1804.4L723.6 1805.5L727.8 1806.3L733 1806.9L739 1807.2L745.4 1807.2L752.1 1806.9L758.8 1806.2L765.2 1805.4L771.2 1804.2L776.4 1802.9L780.6 1801.5L783.8 1799.9L785.7 1798.4L786.4 1796.9L786.4 1807.5L785.7 1809L783.8 1810.6L780.6 1812.1L776.4 1813.6L771.2 1814.9L765.2 1816L758.8 1816.9L752.1 1817.5L745.4 1817.8L739 1817.8L733 1817.6L727.8 1817L723.6 1816.1L720.4 1815L718.5 1813.7L717.8 1812.3Z" fill="url(#g5)"/>
<path d="M786.4 1796.9L785.7 1798.4L783.8 1799.9L780.6 1801.5L776.4 1802.9L771.2 1804.2L765.2 1805.4L758.8 1806.2L752.1 1806.9L745.4 1807.2L739 1807.2L733 1806.9L727.8 1806.3L723.6 1805.5L720.4 1804.4L718.5 1803.1L717.8 1801.7L718.5 1800.1L720.4 1798.6L723.6 1797L727.8 1795.6L733 1794.3L739 1793.2L745.4 1792.3L752.1 1791.7L758.8 1791.3L765.2 1791.3L771.2 1791.6L776.4 1792.2L780.6 1793L783.8 1794.1L785.7 1795.4Z" fill="#d0722a"/>
<path d="M885.9 2312.6L886.6 2314L888.5 2315.3L891.7 2316.4L895.9 2317.3L901.1 2317.9L907.1 2318.2L913.5 2318.1L920.2 2317.8L926.9 2317.2L933.3 2316.3L939.3 2315.2L944.5 2313.9L948.7 2312.4L951.9 2310.9L953.8 2309.3L954.5 2307.8L954.5 2567.9L953.8 2569.4L951.9 2571L948.7 2572.5L944.5 2574L939.3 2575.3L933.3 2576.4L926.9 2577.3L920.2 2577.9L913.5 2578.2L907.1 2578.2L901.1 2578L895.9 2577.4L891.7 2576.5L888.5 2575.4L886.6 2574.1L885.9 2572.7Z" fill="url(#g0)"/>
<path d="M885.9 2052.9L886.6 2054.4L888.5 2055.7L891.7 2056.8L895.9 2057.6L901.1 2058.2L907.1 2058.5L913.5 2058.5L920.2 2058.1L926.9 2057.5L933.3 2056.6L939.3 2055.5L944.5 2054.2L948.7 2052.8L951.9 2051.2L953.8 2049.7L954.5 2048.1L954.5 2308.8L953.8 2310.3L951.9 2311.9L948.7 2313.4L944.5 2314.9L939.3 2316.2L933.3 2317.3L926.9 2318.2L920.2 2318.8L913.5 2319.1L907.1 2319.2L901.1 2318.9L895.9 2318.3L891.7 2317.4L888.5 2316.3L886.6 2315L885.9 2313.6Z" fill="url(#g1)"/>
<path d="M885.9 1956L886.6 1957.5L888.5 1958.8L891.7 1959.9L895.9 1960.7L901.1 1961.3L907.1 1961.6L913.5 1961.6L920.2 1961.2L926.9 1960.6L933.3 1959.7L939.3 1958.6L944.5 1957.3L948.7 1955.9L951.9 1954.3L953.8 1952.8L954.5 1951.2L954.5 2049.1L953.8 2050.7L951.9 2052.2L948.7 2053.8L944.5 2055.2L939.3 2056.5L933.3 2057.6L926.9 2058.5L920.2 2059.1L913.5 2059.5L907.1 2059.5L901.1 2059.2L895.9 2058.6L891.7 2057.8L888.5 2056.7L886.6 2055.4L885.9 2053.9Z" fill="url(#g2)"/>
<path d="M885.9 1865.8L886.6 1867.3L888.5 1868.6L891.7 1869.7L895.9 1870.5L901.1 1871.1L907.1 1871.4L913.5 1871.4L920.2 1871L926.9 1870.4L933.3 1869.5L939.3 1868.4L944.5 1867.1L948.7 1865.7L951.9 1864.1L953.8 1862.6L954.5 1861L954.5 1952.2L953.8 1953.8L951.9 1955.3L948.7 1956.9L944.5 1958.3L939.3 1959.6L933.3 1960.7L926.9 1961.6L920.2 1962.2L913.5 1962.6L907.1 1962.6L901.1 1962.3L895.9 1961.7L891.7 1960.9L888.5 1959.8L886.6 1958.5L885.9 1957Z" fill="url(#g3)"/>
<path d="M885.9 1858.7L886.6 1860.1L888.5 1861.4L891.7 1862.5L895.9 1863.4L901.1 1864L907.1 1864.3L913.5 1864.2L920.2 1863.9L926.9 1863.3L933.3 1862.4L939.3 1861.3L944.5 1860L948.7 1858.5L951.9 1857L953.8 1855.4L954.5 1853.9L954.5 1862L953.8 1863.6L951.9 1865.1L948.7 1866.7L944.5 1868.1L939.3 1869.4L933.3 1870.5L926.9 1871.4L920.2 1872L913.5 1872.4L907.1 1872.4L901.1 1872.1L895.9 1871.5L891.7 1870.7L888.5 1869.6L886.6 1868.3L885.9 1866.8Z" fill="url(#g4)"/>
<path d="M885.9 1849.9L886.6 1851.3L888.5 1852.6L891.7 1853.7L895.9 1854.6L901.1 1855.2L907.1 1855.4L913.5 1855.4L920.2 1855.1L926.9 1854.5L933.3 1853.6L939.3 1852.5L944.5 1851.2L948.7 1849.7L951.9 1848.2L953.8 1846.6L954.5 1845.1L954.5 1854.9L953.8 1856.4L951.9 1858L948.7 1859.5L944.5 1861L939.3 1862.3L933.3 1863.4L926.9 1864.3L920.2 1864.9L913.5 1865.2L907.1 1865.3L901.1 1865L895.9 1864.4L891.7 1863.5L888.5 1862.4L886.6 1861.1L885.9 1859.7Z" fill="url(#g5)"/>
<path d="M954.5 1845.1L953.8 1846.6L951.9 1848.2L948.7 1849.7L944.5 1851.2L939.3 1852.5L933.3 1853.6L926.9 1854.5L920.2 1855.1L913.5 1855.4L907.1 1855.4L901.1 1855.2L895.9 1854.6L891.7 1853.7L888.5 1852.6L886.6 1851.3L885.9 1849.9L886.6 1848.4L888.5 1846.8L891.7 1845.3L895.9 1843.8L901.1 1842.5L907.1 1841.4L913.5 1840.5L920.2 1839.9L926.9 1839.6L933.3 1839.6L939.3 1839.8L944.5 1840.4L948.7 1841.3L951.9 1842.4L953.8 1843.7Z" fill="#d0722a"/>
<path d="M1054 2315.1L1054.7 2316.6L1056.6 2317.9L1059.8 2318.9L1064 2319.8L1069.2 2320.4L1075.2 2320.7L1081.6 2320.6L1088.3 2320.3L1095 2319.7L1101.4 2318.8L1107.4 2317.7L1112.6 2316.4L1116.8 2315L1120 2313.4L1121.9 2311.9L1122.6 2310.3L1122.6 2567.9L1121.9 2569.4L1120 2571L1116.8 2572.5L1112.6 2574L1107.4 2575.3L1101.4 2576.4L1095 2577.3L1088.3 2577.9L1081.6 2578.2L1075.2 2578.2L1069.2 2578L1064 2577.4L1059.8 2576.5L1056.6 2575.4L1054.7 2574.1L1054 2572.7Z" fill="url(#g0)"/>
<path d="M1054 2058L1054.7 2059.4L1056.6 2060.7L1059.8 2061.8L1064 2062.6L1069.2 2063.2L1075.2 2063.5L1081.6 2063.5L1088.3 2063.2L1095 2062.6L1101.4 2061.7L1107.4 2060.6L1112.6 2059.2L1116.8 2057.8L1120 2056.3L1121.9 2054.7L1122.6 2053.2L1122.6 2311.3L1121.9 2312.9L1120 2314.4L1116.8 2316L1112.6 2317.4L1107.4 2318.7L1101.4 2319.8L1095 2320.7L1088.3 2321.3L1081.6 2321.6L1075.2 2321.7L1069.2 2321.4L1064 2320.8L1059.8 2319.9L1056.6 2318.9L1054.7 2317.6L1054 2316.1Z" fill="url(#g1)"/>
<path d="M1054 1957.3L1054.7 1958.7L1056.6 1960L1059.8 1961.1L1064 1962L1069.2 1962.5L1075.2 1962.8L1081.6 1962.8L1088.3 1962.5L1095 1961.9L1101.4 1961L1107.4 1959.9L1112.6 1958.6L1116.8 1957.1L1120 1955.6L1121.9 1954L1122.6 1952.5L1122.6 2054.2L1121.9 2055.7L1120 2057.3L1116.8 2058.8L1112.6 2060.2L1107.4 2061.6L1101.4 2062.7L1095 2063.6L1088.3 2064.2L1081.6 2064.5L1075.2 2064.5L1069.2 2064.2L1064 2063.6L1059.8 2062.8L1056.6 2061.7L1054.7 2060.4L1054 2059Z" fill="url(#g2)"/>
<path d="M1054 1860.8L1054.7 1862.2L1056.6 1863.5L1059.8 1864.6L1064 1865.5L1069.2 1866.1L1075.2 1866.3L1081.6 1866.3L1088.3 1866L1095 1865.4L1101.4 1864.5L1107.4 1863.4L1112.6 1862.1L1116.8 1860.6L1120 1859.1L1121.9 1857.5L1122.6 1856L1122.6 1953.5L1121.9 1955L1120 1956.6L1116.8 1958.1L1112.6 1959.6L1107.4 1960.9L1101.4 1962L1095 1962.9L1088.3 1963.5L1081.6 1963.8L1075.2 1963.8L1069.2 1963.5L1064 1963L1059.8 1962.1L1056.6 1961L1054.7 1959.7L1054 1958.3Z" fill="url(#g3)"/>
<path d="M1054 1853.3L1054.7 1854.7L1056.6 1856L1059.8 1857.1L1064 1857.9L1069.2 1858.5L1075.2 1858.8L1081.6 1858.8L1088.3 1858.5L1095 1857.8L1101.4 1857L1107.4 1855.8L1112.6 1854.5L1116.8 1853.1L1120 1851.5L1121.9 1850L1122.6 1848.5L1122.6 1857L1121.9 1858.5L1120 1860.1L1116.8 1861.6L1112.6 1863.1L1107.4 1864.4L1101.4 1865.5L1095 1866.4L1088.3 1867L1081.6 1867.3L1075.2 1867.3L1069.2 1867.1L1064 1866.5L1059.8 1865.6L1056.6 1864.5L1054.7 1863.2L1054 1861.8Z" fill="url(#g4)"/>
<path d="M1054 1843.6L1054.7 1845L1056.6 1846.3L1059.8 1847.4L1064 1848.3L1069.2 1848.9L1075.2 1849.1L1081.6 1849.1L1088.3 1848.8L1095 1848.2L1101.4 1847.3L1107.4 1846.2L1112.6 1844.9L1116.8 1843.4L1120 1841.9L1121.9 1840.3L1122.6 1838.8L1122.6 1849.5L1121.9 1851L1120 1852.5L1116.8 1854.1L1112.6 1855.5L1107.4 1856.8L1101.4 1858L1095 1858.8L1088.3 1859.5L1081.6 1859.8L1075.2 1859.8L1069.2 1859.5L1064 1858.9L1059.8 1858.1L1056.6 1857L1054.7 1855.7L1054 1854.3Z" fill="url(#g5)"/>
<path d="M1122.6 1838.8L1121.9 1840.3L1120 1841.9L1116.8 1843.4L1112.6 1844.9L1107.4 1846.2L1101.4 1847.3L1095 1848.2L1088.3 1848.8L1081.6 1849.1L1075.2 1849.1L1069.2 1848.9L1064 1848.3L1059.8 1847.4L1056.6 1846.3L1054.7 1845L1054 1843.6L1054.7 1842.1L1056.6 1840.5L1059.8 1839L1064 1837.5L1069.2 1836.2L1075.2 1835.1L1081.6 1834.2L1088.3 1833.6L1095 1833.3L1101.4 1833.3L1107.4 1833.6L1112.6 1834.1L1116.8 1835L1120 1836.1L1121.9 1837.4Z" fill="#d0722a"/>
<path d="M1222.1 2306.3L1222.8 2307.8L1224.7 2309L1227.9 2310.1L1232.1 2311L1237.3 2311.6L1243.3 2311.9L1249.7 2311.8L1256.4 2311.5L1263.1 2310.9L1269.5 2310L1275.5 2308.9L1280.7 2307.6L1284.9 2306.1L1288.1 2304.6L1290 2303L1290.7 2301.5L1290.7 2567.9L1290 2569.4L1288.1 2571L1284.9 2572.5L1280.7 2574L1275.5 2575.3L1269.5 2576.4L1263.1 2577.3L1256.4 2577.9L1249.7 2578.2L1243.3 2578.2L1237.3 2578L1232.1 2577.4L1227.9 2576.5L1224.7 2575.4L1222.8 2574.1L1222.1 2572.7Z" fill="url(#g0)"/>
<path d="M1222.1 2041.2L1222.8 2042.6L1224.7 2043.9L1227.9 2045L1232.1 2045.9L1237.3 2046.4L1243.3 2046.7L1249.7 2046.7L1256.4 2046.4L1263.1 2045.8L1269.5 2044.9L1275.5 2043.8L1280.7 2042.5L1284.9 2041L1288.1 2039.5L1290 2037.9L1290.7 2036.4L1290.7 2302.5L1290 2304L1288.1 2305.6L1284.9 2307.1L1280.7 2308.6L1275.5 2309.9L1269.5 2311L1263.1 2311.9L1256.4 2312.5L1249.7 2312.8L1243.3 2312.9L1237.3 2312.6L1232.1 2312L1227.9 2311.1L1224.7 2310L1222.8 2308.8L1222.1 2307.3Z" fill="url(#g1)"/>
<path d="M1222.1 1940.5L1222.8 1942L1224.7 1943.2L1227.9 1944.3L1232.1 1945.2L1237.3 1945.8L1243.3 1946.1L1249.7 1946L1256.4 1945.7L1263.1 1945.1L1269.5 1944.2L1275.5 1943.1L1280.7 1941.8L1284.9 1940.3L1288.1 1938.8L1290 1937.2L1290.7 1935.7L1290.7 2037.4L1290 2038.9L1288.1 2040.5L1284.9 2042L1280.7 2043.5L1275.5 2044.8L1269.5 2045.9L1263.1 2046.8L1256.4 2047.4L1249.7 2047.7L1243.3 2047.7L1237.3 2047.4L1232.1 2046.9L1227.9 2046L1224.7 2044.9L1222.8 2043.6L1222.1 2042.2Z" fill="url(#g2)"/>
<path d="M1222.1 1847.8L1222.8 1849.2L1224.7 1850.5L1227.9 1851.6L1232.1 1852.5L1237.3 1853.1L1243.3 1853.3L1249.7 1853.3L1256.4 1853L1263.1 1852.4L1269.5 1851.5L1275.5 1850.4L1280.7 1849.1L1284.9 1847.6L1288.1 1846.1L1290 1844.5L1290.7 1843L1290.7 1936.7L1290 1938.2L1288.1 1939.8L1284.9 1941.3L1280.7 1942.8L1275.5 1944.1L1269.5 1945.2L1263.1 1946.1L1256.4 1946.7L1249.7 1947L1243.3 1947.1L1237.3 1946.8L1232.1 1946.2L1227.9 1945.3L1224.7 1944.2L1222.8 1943L1222.1 1941.5Z" fill="url(#g3)"/>
<path d="M1222.1 1840.3L1222.8 1841.7L1224.7 1843L1227.9 1844.1L1232.1 1844.9L1237.3 1845.5L1243.3 1845.8L1249.7 1845.8L1256.4 1845.5L1263.1 1844.8L1269.5 1844L1275.5 1842.8L1280.7 1841.5L1284.9 1840.1L1288.1 1838.5L1290 1837L1290.7 1835.5L1290.7 1844L1290 1845.5L1288.1 1847.1L1284.9 1848.6L1280.7 1850.1L1275.5 1851.4L1269.5 1852.5L1263.1 1853.4L1256.4 1854L1249.7 1854.3L1243.3 1854.3L1237.3 1854.1L1232.1 1853.5L1227.9 1852.6L1224.7 1851.5L1222.8 1850.2L1222.1 1848.8Z" fill="url(#g4)"/>
<path d="M1222.1 1831L1222.8 1832.5L1224.7 1833.8L1227.9 1834.8L1232.1 1835.7L1237.3 1836.3L1243.3 1836.6L1249.7 1836.5L1256.4 1836.2L1263.1 1835.6L1269.5 1834.7L1275.5 1833.6L1280.7 1832.3L1284.9 1830.8L1288.1 1829.3L1290 1827.8L1290.7 1826.2L1290.7 1836.5L1290 1838L1288.1 1839.5L1284.9 1841.1L1280.7 1842.5L1275.5 1843.8L1269.5 1845L1263.1 1845.8L1256.4 1846.5L1249.7 1846.8L1243.3 1846.8L1237.3 1846.5L1232.1 1845.9L1227.9 1845.1L1224.7 1844L1222.8 1842.7L1222.1 1841.3Z" fill="url(#g5)"/>
<path d="M1290.7 1826.2L1290 1827.8L1288.1 1829.3L1284.9 1830.8L1280.7 1832.3L1275.5 1833.6L1269.5 1834.7L1263.1 1835.6L1256.4 1836.2L1249.7 1836.5L1243.3 1836.6L1237.3 1836.3L1232.1 1835.7L1227.9 1834.8L1224.7 1833.8L1222.8 1832.5L1222.1 1831L1222.8 1829.5L1224.7 1827.9L1227.9 1826.4L1232.1 1824.9L1237.3 1823.6L1243.3 1822.5L1249.7 1821.6L1256.4 1821L1263.1 1820.7L1269.5 1820.7L1275.5 1821L1280.7 1821.6L1284.9 1822.4L1288.1 1823.5L1290 1824.8Z" fill="#d0722a"/>
<path d="M1390.2 2299.2L1390.9 2300.6L1392.8 2301.9L1396 2303L1400.2 2303.9L1405.4 2304.4L1411.4 2304.7L1417.8 2304.7L1424.5 2304.4L1431.2 2303.8L1437.6 2302.9L1443.6 2301.8L1448.8 2300.5L1453 2299L1456.2 2297.5L1458.1 2295.9L1458.8 2294.4L1458.8 2567.9L1458.1 2569.4L1456.2 2571L1453 2572.5L1448.8 2574L1443.6 2575.3L1437.6 2576.4L1431.2 2577.3L1424.5 2577.9L1417.8 2578.2L1411.4 2578.2L1405.4 2578L1400.2 2577.4L1396 2576.5L1392.8 2575.4L1390.9 2574.1L1390.2 2572.7Z" fill="url(#g0)"/>
<path d="M1390.2 2026.9L1390.9 2028.4L1392.8 2029.7L1396 2030.7L1400.2 2031.6L1405.4 2032.2L1411.4 2032.5L1417.8 2032.5L1424.5 2032.1L1431.2 2031.5L1437.6 2030.6L1443.6 2029.5L1448.8 2028.2L1453 2026.8L1456.2 2025.2L1458.1 2023.7L1458.8 2022.1L1458.8 2295.4L1458.1 2296.9L1456.2 2298.5L1453 2300L1448.8 2301.5L1443.6 2302.8L1437.6 2303.9L1431.2 2304.8L1424.5 2305.4L1417.8 2305.7L1411.4 2305.7L1405.4 2305.4L1400.2 2304.9L1396 2304L1392.8 2302.9L1390.9 2301.6L1390.2 2300.2Z" fill="url(#g1)"/>
<path d="M1390.2 1922.5L1390.9 1923.9L1392.8 1925.2L1396 1926.3L1400.2 1927.1L1405.4 1927.7L1411.4 1928L1417.8 1928L1424.5 1927.7L1431.2 1927.1L1437.6 1926.2L1443.6 1925.1L1448.8 1923.8L1453 1922.3L1456.2 1920.8L1458.1 1919.2L1458.8 1917.7L1458.8 2023.1L1458.1 2024.7L1456.2 2026.2L1453 2027.8L1448.8 2029.2L1443.6 2030.5L1437.6 2031.6L1431.2 2032.5L1424.5 2033.1L1417.8 2033.5L1411.4 2033.5L1405.4 2033.2L1400.2 2032.6L1396 2031.7L1392.8 2030.7L1390.9 2029.4L1390.2 2027.9Z" fill="url(#g2)"/>
<path d="M1390.2 1825.2L1390.9 1826.6L1392.8 1827.9L1396 1829L1400.2 1829.8L1405.4 1830.4L1411.4 1830.7L1417.8 1830.7L1424.5 1830.4L1431.2 1829.7L1437.6 1828.9L1443.6 1827.7L1448.8 1826.4L1453 1825L1456.2 1823.4L1458.1 1821.9L1458.8 1820.4L1458.8 1918.7L1458.1 1920.2L1456.2 1921.8L1453 1923.3L1448.8 1924.8L1443.6 1926.1L1437.6 1927.2L1431.2 1928.1L1424.5 1928.7L1417.8 1929L1411.4 1929L1405.4 1928.7L1400.2 1928.1L1396 1927.3L1392.8 1926.2L1390.9 1924.9L1390.2 1923.5Z" fill="url(#g3)"/>
<path d="M1390.2 1818L1390.9 1819.5L1392.8 1820.7L1396 1821.8L1400.2 1822.7L1405.4 1823.3L1411.4 1823.6L1417.8 1823.5L1424.5 1823.2L1431.2 1822.6L1437.6 1821.7L1443.6 1820.6L1448.8 1819.3L1453 1817.8L1456.2 1816.3L1458.1 1814.7L1458.8 1813.2L1458.8 1821.4L1458.1 1822.9L1456.2 1824.4L1453 1826L1448.8 1827.4L1443.6 1828.7L1437.6 1829.9L1431.2 1830.7L1424.5 1831.4L1417.8 1831.7L1411.4 1831.7L1405.4 1831.4L1400.2 1830.8L1396 1830L1392.8 1828.9L1390.9 1827.6L1390.2 1826.2Z" fill="url(#g4)"/>
<path d="M1390.2 1809.2L1390.9 1810.6L1392.8 1811.9L1396 1813L1400.2 1813.9L1405.4 1814.5L1411.4 1814.8L1417.8 1814.7L1424.5 1814.4L1431.2 1813.8L1437.6 1812.9L1443.6 1811.8L1448.8 1810.5L1453 1809L1456.2 1807.5L1458.1 1805.9L1458.8 1804.4L1458.8 1814.2L1458.1 1815.7L1456.2 1817.3L1453 1818.8L1448.8 1820.3L1443.6 1821.6L1437.6 1822.7L1431.2 1823.6L1424.5 1824.2L1417.8 1824.5L1411.4 1824.6L1405.4 1824.3L1400.2 1823.7L1396 1822.8L1392.8 1821.7L1390.9 1820.5L1390.2 1819Z" fill="url(#g5)"/>
<path d="M1458.8 1804.4L1458.1 1805.9L1456.2 1807.5L1453 1809L1448.8 1810.5L1443.6 1811.8L1437.6 1812.9L1431.2 1813.8L1424.5 1814.4L1417.8 1814.7L1411.4 1814.8L1405.4 1814.5L1400.2 1813.9L1396 1813L1392.8 1811.9L1390.9 1810.6L1390.2 1809.2L1390.9 1807.7L1392.8 1806.1L1396 1804.6L1400.2 1803.1L1405.4 1801.8L1411.4 1800.7L1417.8 1799.8L1424.5 1799.2L1431.2 1798.9L1437.6 1798.9L1443.6 1799.2L1448.8 1799.7L1453 1800.6L1456.2 1801.7L1458.1 1803Z" fill="#d0722a"/>
<path d="M1558.3 2310.1L1559 2311.5L1560.9 2312.8L1564.1 2313.9L1568.3 2314.8L1573.5 2315.3L1579.5 2315.6L1585.9 2315.6L1592.6 2315.3L1599.3 2314.7L1605.7 2313.8L1611.7 2312.7L1616.9 2311.4L1621.1 2309.9L1624.3 2308.4L1626.2 2306.8L1626.9 2305.3L1626.9 2567.9L1626.2 2569.4L1624.3 2571L1621.1 2572.5L1616.9 2574L1611.7 2575.3L1605.7 2576.4L1599.3 2577.3L1592.6 2577.9L1585.9 2578.2L1579.5 2578.2L1573.5 2578L1568.3 2577.4L1564.1 2576.5L1560.9 2575.4L1559 2574.1L1558.3 2572.7Z" fill="url(#g0)"/>
<path d="M1558.3 2047.9L1559 2049.3L1560.9 2050.6L1564.1 2051.7L1568.3 2052.6L1573.5 2053.2L1579.5 2053.4L1585.9 2053.4L1592.6 2053.1L1599.3 2052.5L1605.7 2051.6L1611.7 2050.5L1616.9 2049.2L1621.1 2047.7L1624.3 2046.2L1626.2 2044.6L1626.9 2043.1L1626.9 2306.3L1626.2 2307.8L1624.3 2309.4L1621.1 2310.9L1616.9 2312.4L1611.7 2313.7L1605.7 2314.8L1599.3 2315.7L1592.6 2316.3L1585.9 2316.6L1579.5 2316.6L1573.5 2316.3L1568.3 2315.8L1564.1 2314.9L1560.9 2313.8L1559 2312.5L1558.3 2311.1Z" fill="url(#g1)"/>
<path d="M1558.3 1949.7L1559 1951.2L1560.9 1952.5L1564.1 1953.6L1568.3 1954.4L1573.5 1955L1579.5 1955.3L1585.9 1955.3L1592.6 1954.9L1599.3 1954.3L1605.7 1953.4L1611.7 1952.3L1616.9 1951L1621.1 1949.6L1624.3 1948L1626.2 1946.5L1626.9 1944.9L1626.9 2044.1L1626.2 2045.6L1624.3 2047.2L1621.1 2048.7L1616.9 2050.2L1611.7 2051.5L1605.7 2052.6L1599.3 2053.5L1592.6 2054.1L1585.9 2054.4L1579.5 2054.4L1573.5 2054.2L1568.3 2053.6L1564.1 2052.7L1560.9 2051.6L1559 2050.3L1558.3 2048.9Z" fill="url(#g2)"/>
<path d="M1558.3 1857.9L1559 1859.3L1560.9 1860.6L1564.1 1861.7L1568.3 1862.5L1573.5 1863.1L1579.5 1863.4L1585.9 1863.4L1592.6 1863.1L1599.3 1862.5L1605.7 1861.6L1611.7 1860.5L1616.9 1859.1L1621.1 1857.7L1624.3 1856.2L1626.2 1854.6L1626.9 1853.1L1626.9 1945.9L1626.2 1947.5L1624.3 1949L1621.1 1950.6L1616.9 1952L1611.7 1953.3L1605.7 1954.4L1599.3 1955.3L1592.6 1955.9L1585.9 1956.3L1579.5 1956.3L1573.5 1956L1568.3 1955.4L1564.1 1954.6L1560.9 1953.5L1559 1952.2L1558.3 1950.7Z" fill="url(#g3)"/>
<path d="M1558.3 1851.2L1559 1852.6L1560.9 1853.9L1564.1 1855L1568.3 1855.8L1573.5 1856.4L1579.5 1856.7L1585.9 1856.7L1592.6 1856.4L1599.3 1855.7L1605.7 1854.9L1611.7 1853.7L1616.9 1852.4L1621.1 1851L1624.3 1849.5L1626.2 1847.9L1626.9 1846.4L1626.9 1854.1L1626.2 1855.6L1624.3 1857.2L1621.1 1858.7L1616.9 1860.1L1611.7 1861.5L1605.7 1862.6L1599.3 1863.5L1592.6 1864.1L1585.9 1864.4L1579.5 1864.4L1573.5 1864.1L1568.3 1863.5L1564.1 1862.7L1560.9 1861.6L1559 1860.3L1558.3 1858.9Z" fill="url(#g4)"/>
<path d="M1558.3 1842.8L1559 1844.2L1560.9 1845.5L1564.1 1846.6L1568.3 1847.4L1573.5 1848L1579.5 1848.3L1585.9 1848.3L1592.6 1848L1599.3 1847.4L1605.7 1846.5L1611.7 1845.4L1616.9 1844L1621.1 1842.6L1624.3 1841.1L1626.2 1839.5L1626.9 1838L1626.9 1847.4L1626.2 1848.9L1624.3 1850.5L1621.1 1852L1616.9 1853.4L1611.7 1854.7L1605.7 1855.9L1599.3 1856.7L1592.6 1857.4L1585.9 1857.7L1579.5 1857.7L1573.5 1857.4L1568.3 1856.8L1564.1 1856L1560.9 1854.9L1559 1853.6L1558.3 1852.2Z" fill="url(#g5)"/>
<path d="M1626.9 1838L1626.2 1839.5L1624.3 1841.1L1621.1 1842.6L1616.9 1844L1611.7 1845.4L1605.7 1846.5L1599.3 1847.4L1592.6 1848L1585.9 1848.3L1579.5 1848.3L1573.5 1848L1568.3 1847.4L1564.1 1846.6L1560.9 1845.5L1559 1844.2L1558.3 1842.8L1559 1841.2L1560.9 1839.7L1564.1 1838.1L1568.3 1836.7L1573.5 1835.4L1579.5 1834.3L1585.9 1833.4L1592.6 1832.8L1599.3 1832.4L1605.7 1832.4L1611.7 1832.7L1616.9 1833.3L1621.1 1834.2L1624.3 1835.2L1626.2 1836.5Z" fill="#d0722a"/>
<path d="M1726.4 2306.7L1727.1 2308.2L1729 2309.5L1732.2 2310.6L1736.4 2311.4L1741.6 2312L1747.6 2312.3L1754 2312.3L1760.7 2311.9L1767.4 2311.3L1773.8 2310.4L1779.8 2309.3L1785 2308L1789.2 2306.6L1792.4 2305L1794.3 2303.5L1795 2301.9L1795 2567.9L1794.3 2569.4L1792.4 2571L1789.2 2572.5L1785 2574L1779.8 2575.3L1773.8 2576.4L1767.4 2577.3L1760.7 2577.9L1754 2578.2L1747.6 2578.2L1741.6 2578L1736.4 2577.4L1732.2 2576.5L1729 2575.4L1727.1 2574.1L1726.4 2572.7Z" fill="url(#g0)"/>
<path d="M1726.4 2041.6L1727.1 2043.1L1729 2044.3L1732.2 2045.4L1736.4 2046.3L1741.6 2046.9L1747.6 2047.2L1754 2047.1L1760.7 2046.8L1767.4 2046.2L1773.8 2045.3L1779.8 2044.2L1785 2042.9L1789.2 2041.4L1792.4 2039.9L1794.3 2038.3L1795 2036.8L1795 2302.9L1794.3 2304.5L1792.4 2306L1789.2 2307.6L1785 2309L1779.8 2310.3L1773.8 2311.4L1767.4 2312.3L1760.7 2312.9L1754 2313.3L1747.6 2313.3L1741.6 2313L1736.4 2312.4L1732.2 2311.6L1729 2310.5L1727.1 2309.2L1726.4 2307.7Z" fill="url(#g1)"/>
<path d="M1726.4 1942.6L1727.1 1944L1729 1945.3L1732.2 1946.4L1736.4 1947.3L1741.6 1947.9L1747.6 1948.2L1754 1948.1L1760.7 1947.8L1767.4 1947.2L1773.8 1946.3L1779.8 1945.2L1785 1943.9L1789.2 1942.4L1792.4 1940.9L1794.3 1939.3L1795 1937.8L1795 2037.8L1794.3 2039.3L1792.4 2040.9L1789.2 2042.4L1785 2043.9L1779.8 2045.2L1773.8 2046.3L1767.4 2047.2L1760.7 2047.8L1754 2048.1L1747.6 2048.2L1741.6 2047.9L1736.4 2047.3L1732.2 2046.4L1729 2045.3L1727.1 2044.1L1726.4 2042.6Z" fill="url(#g2)"/>
<path d="M1726.4 1851.2L1727.1 1852.6L1729 1853.9L1732.2 1855L1736.4 1855.8L1741.6 1856.4L1747.6 1856.7L1754 1856.7L1760.7 1856.4L1767.4 1855.7L1773.8 1854.9L1779.8 1853.7L1785 1852.4L1789.2 1851L1792.4 1849.5L1794.3 1847.9L1795 1846.4L1795 1938.8L1794.3 1940.3L1792.4 1941.9L1789.2 1943.4L1785 1944.9L1779.8 1946.2L1773.8 1947.3L1767.4 1948.2L1760.7 1948.8L1754 1949.1L1747.6 1949.2L1741.6 1948.9L1736.4 1948.3L1732.2 1947.4L1729 1946.3L1727.1 1945L1726.4 1943.6Z" fill="url(#g3)"/>
<path d="M1726.4 1843.6L1727.1 1845L1729 1846.3L1732.2 1847.4L1736.4 1848.3L1741.6 1848.9L1747.6 1849.1L1754 1849.1L1760.7 1848.8L1767.4 1848.2L1773.8 1847.3L1779.8 1846.2L1785 1844.9L1789.2 1843.4L1792.4 1841.9L1794.3 1840.3L1795 1838.8L1795 1847.4L1794.3 1848.9L1792.4 1850.5L1789.2 1852L1785 1853.4L1779.8 1854.7L1773.8 1855.9L1767.4 1856.7L1760.7 1857.4L1754 1857.7L1747.6 1857.7L1741.6 1857.4L1736.4 1856.8L1732.2 1856L1729 1854.9L1727.1 1853.6L1726.4 1852.2Z" fill="url(#g4)"/>
<path d="M1726.4 1834.4L1727.1 1835.8L1729 1837.1L1732.2 1838.2L1736.4 1839.1L1741.6 1839.6L1747.6 1839.9L1754 1839.9L1760.7 1839.6L1767.4 1839L1773.8 1838.1L1779.8 1837L1785 1835.7L1789.2 1834.2L1792.4 1832.7L1794.3 1831.1L1795 1829.6L1795 1839.8L1794.3 1841.3L1792.4 1842.9L1789.2 1844.4L1785 1845.9L1779.8 1847.2L1773.8 1848.3L1767.4 1849.2L1760.7 1849.8L1754 1850.1L1747.6 1850.1L1741.6 1849.9L1736.4 1849.3L1732.2 1848.4L1729 1847.3L1727.1 1846L1726.4 1844.6Z" fill="url(#g5)"/>
<path d="M1795 1829.6L1794.3 1831.1L1792.4 1832.7L1789.2 1834.2L1785 1835.7L1779.8 1837L1773.8 1838.1L1767.4 1839L1760.7 1839.6L1754 1839.9L1747.6 1839.9L1741.6 1839.6L1736.4 1839.1L1732.2 1838.2L1729 1837.1L1727.1 1835.8L1726.4 1834.4L1727.1 1832.9L1729 1831.3L1732.2 1829.8L1736.4 1828.3L1741.6 1827L1747.6 1825.9L1754 1825L1760.7 1824.4L1767.4 1824.1L1773.8 1824L1779.8 1824.3L1785 1824.9L1789.2 1825.8L1792.4 1826.9L1794.3 1828.1Z" fill="#d0722a"/>
<path d="M1894.5 2305.5L1895.2 2306.9L1897.1 2308.2L1900.3 2309.3L1904.5 2310.2L1909.7 2310.7L1915.7 2311L1922.1 2311L1928.8 2310.7L1935.5 2310.1L1941.9 2309.2L1947.9 2308.1L1953.1 2306.8L1957.3 2305.3L1960.5 2303.8L1962.4 2302.2L1963.1 2300.7L1963.1 2567.9L1962.4 2569.4L1960.5 2571L1957.3 2572.5L1953.1 2574L1947.9 2575.3L1941.9 2576.4L1935.5 2577.3L1928.8 2577.9L1922.1 2578.2L1915.7 2578.2L1909.7 2578L1904.5 2577.4L1900.3 2576.5L1897.1 2575.4L1895.2 2574.1L1894.5 2572.7Z" fill="url(#g0)"/>
<path d="M1894.5 2037.8L1895.2 2039.3L1897.1 2040.6L1900.3 2041.7L1904.5 2042.5L1909.7 2043.1L1915.7 2043.4L1922.1 2043.4L1928.8 2043L1935.5 2042.4L1941.9 2041.5L1947.9 2040.4L1953.1 2039.1L1957.3 2037.7L1960.5 2036.1L1962.4 2034.6L1963.1 2033L1963.1 2301.7L1962.4 2303.2L1960.5 2304.8L1957.3 2306.3L1953.1 2307.8L1947.9 2309.1L1941.9 2310.2L1935.5 2311.1L1928.8 2311.7L1922.1 2312L1915.7 2312L1909.7 2311.7L1904.5 2311.2L1900.3 2310.3L1897.1 2309.2L1895.2 2307.9L1894.5 2306.5Z" fill="url(#g1)"/>
<path d="M1894.5 1937.6L1895.2 1939L1897.1 1940.3L1900.3 1941.4L1904.5 1942.2L1909.7 1942.8L1915.7 1943.1L1922.1 1943.1L1928.8 1942.8L1935.5 1942.2L1941.9 1941.3L1947.9 1940.2L1953.1 1938.9L1957.3 1937.4L1960.5 1935.9L1962.4 1934.3L1963.1 1932.8L1963.1 2034L1962.4 2035.6L1960.5 2037.1L1957.3 2038.7L1953.1 2040.1L1947.9 2041.4L1941.9 2042.5L1935.5 2043.4L1928.8 2044L1922.1 2044.4L1915.7 2044.4L1909.7 2044.1L1904.5 2043.5L1900.3 2042.7L1897.1 2041.6L1895.2 2040.3L1894.5 2038.8Z" fill="url(#g2)"/>
<path d="M1894.5 1841.9L1895.2 1843.4L1897.1 1844.7L1900.3 1845.7L1904.5 1846.6L1909.7 1847.2L1915.7 1847.5L1922.1 1847.5L1928.8 1847.1L1935.5 1846.5L1941.9 1845.6L1947.9 1844.5L1953.1 1843.2L1957.3 1841.8L1960.5 1840.2L1962.4 1838.7L1963.1 1837.1L1963.1 1933.8L1962.4 1935.3L1960.5 1936.9L1957.3 1938.4L1953.1 1939.9L1947.9 1941.2L1941.9 1942.3L1935.5 1943.2L1928.8 1943.8L1922.1 1944.1L1915.7 1944.1L1909.7 1943.8L1904.5 1943.2L1900.3 1942.4L1897.1 1941.3L1895.2 1940L1894.5 1938.6Z" fill="url(#g3)"/>
<path d="M1894.5 1834.4L1895.2 1835.8L1897.1 1837.1L1900.3 1838.2L1904.5 1839.1L1909.7 1839.6L1915.7 1839.9L1922.1 1839.9L1928.8 1839.6L1935.5 1839L1941.9 1838.1L1947.9 1837L1953.1 1835.7L1957.3 1834.2L1960.5 1832.7L1962.4 1831.1L1963.1 1829.6L1963.1 1838.1L1962.4 1839.7L1960.5 1841.2L1957.3 1842.8L1953.1 1844.2L1947.9 1845.5L1941.9 1846.6L1935.5 1847.5L1928.8 1848.1L1922.1 1848.5L1915.7 1848.5L1909.7 1848.2L1904.5 1847.6L1900.3 1846.7L1897.1 1845.7L1895.2 1844.4L1894.5 1842.9Z" fill="url(#g4)"/>
<path d="M1894.5 1824.7L1895.2 1826.2L1897.1 1827.5L1900.3 1828.6L1904.5 1829.4L1909.7 1830L1915.7 1830.3L1922.1 1830.3L1928.8 1829.9L1935.5 1829.3L1941.9 1828.4L1947.9 1827.3L1953.1 1826L1957.3 1824.6L1960.5 1823L1962.4 1821.5L1963.1 1819.9L1963.1 1830.6L1962.4 1832.1L1960.5 1833.7L1957.3 1835.2L1953.1 1836.7L1947.9 1838L1941.9 1839.1L1935.5 1840L1928.8 1840.6L1922.1 1840.9L1915.7 1840.9L1909.7 1840.6L1904.5 1840.1L1900.3 1839.2L1897.1 1838.1L1895.2 1836.8L1894.5 1835.4Z" fill="url(#g5)"/>
<path d="M1963.1 1819.9L1962.4 1821.5L1960.5 1823L1957.3 1824.6L1953.1 1826L1947.9 1827.3L1941.9 1828.4L1935.5 1829.3L1928.8 1829.9L1922.1 1830.3L1915.7 1830.3L1909.7 1830L1904.5 1829.4L1900.3 1828.6L1897.1 1827.5L1895.2 1826.2L1894.5 1824.7L1895.2 1823.2L1897.1 1821.6L1900.3 1820.1L1904.5 1818.7L1909.7 1817.3L1915.7 1816.2L1922.1 1815.3L1928.8 1814.7L1935.5 1814.4L1941.9 1814.4L1947.9 1814.7L1953.1 1815.3L1957.3 1816.1L1960.5 1817.2L1962.4 1818.5Z" fill="#d0722a"/>
<g font-family="Liberation Serif, serif" font-weight="bold" font-size="25" fill="#000" text-anchor="middle"><text x="573" y="2442.9">64.8</text><text x="573" y="2171.5">64.6</text><text x="573" y="1983.9">24.8</text><text x="573" y="1892.8">23.2</text><text x="577" y="1842.5">1.9</text><text x="579" y="1810">2.3</text><text x="741.1" y="2441.4">65.5</text><text x="741.1" y="2167.1">65.3</text><text x="741.1" y="1977.2">25.2</text><text x="741.1" y="1884.4">23.6</text><text x="745.1" y="1833.3">1.9</text><text x="747.1" y="1800.8">2.3</text><text x="909.2" y="2448.8">62.0</text><text x="909.2" y="2188.9">61.9</text><text x="909.2" y="2010.6">23.1</text><text x="909.2" y="1926.5">21.5</text><text x="913.2" y="1881.5">1.7</text><text x="915.2" y="1849">2.1</text><text x="1077.3" y="2450">61.4</text><text x="1077.3" y="2192.7">61.3</text><text x="1077.3" y="2013.7">24.0</text><text x="1077.3" y="1924.7">23.0</text><text x="1081.3" y="1875.2">1.8</text><text x="1083.3" y="1842.7">2.3</text><text x="1245.4" y="2445.6">63.5</text><text x="1245.4" y="2179.9">63.2</text><text x="1245.4" y="1997">24.0</text><text x="1245.4" y="1909.8">22.1</text><text x="1249.4" y="1862.6">1.8</text><text x="1251.4" y="1830.1">2.2</text><text x="1413.5" y="2442">65.2</text><text x="1413.5" y="2169.2">64.9</text><text x="1413.5" y="1980.8">24.9</text><text x="1413.5" y="1889.4">23.2</text><text x="1417.5" y="1840.8">1.7</text><text x="1419.5" y="1808.3">2.1</text><text x="1581.6" y="2447.5">62.6</text><text x="1581.6" y="2185.1">62.5</text><text x="1581.6" y="2004.9">23.4</text><text x="1581.6" y="1919.4">21.9</text><text x="1585.6" y="1874.4">1.6</text><text x="1587.6" y="1841.9">2.0</text><text x="1749.7" y="2445.8">63.4</text><text x="1749.7" y="2180.3">63.2</text><text x="1749.7" y="1998.2">23.6</text><text x="1749.7" y="1912.5">21.8</text><text x="1753.7" y="1866">1.8</text><text x="1755.7" y="1833.5">2.2</text><text x="1917.8" y="2445.2">63.7</text><text x="1917.8" y="2177.8">63.8</text><text x="1917.8" y="1993.8">23.9</text><text x="1917.8" y="1905.4">22.8</text><text x="1921.8" y="1856.3">1.8</text><text x="1923.8" y="1823.8">2.3</text></g>
<g font-family="Liberation Serif, serif" font-weight="bold" font-size="42" fill="#000">
<rect x="2001.6" y="2421.2" width="20.4" height="20.4" fill="#2273b3"/>
<text x="2032.6" y="2445.7">CG_S</text>
<rect x="2001.6" y="2333.4" width="20.4" height="20.4" fill="#c7443f"/>
<text x="2032.6" y="2357.9">CG_F</text>
<rect x="2001.6" y="2246.4" width="20.4" height="20.4" fill="#84ad45"/>
<text x="2032.6" y="2270.9">CHG_S</text>
<rect x="2001.6" y="2157.7" width="20.4" height="20.4" fill="#7e5c9c"/>
<text x="2032.6" y="2182.2">CHG_F</text>
<rect x="2001.6" y="2070.8" width="20.4" height="20.4" fill="#1ea3bf"/>
<text x="2032.6" y="2095.3">CHH_S</text>
<rect x="2001.6" y="1980.3" width="20.4" height="20.4" fill="#f08a38"/>
<text x="2032.6" y="2004.8">CHH_F</text>
</g>
<text x="606" y="2983" font-family="Liberation Serif, serif" font-weight="bold" font-size="60" text-anchor="middle">F</text>
<g stroke-width="2.6"><path d="M286.5 3090.5h69" stroke="#1ec31e"/><path d="M497.3 3090.5h68.5" stroke="#2e6fe0"/><path d="M727.5 3090.5h69" stroke="#f6a66a"/></g>
<g font-family="Liberation Sans, sans-serif" font-weight="bold" font-size="24.5" fill="#000"><text x="363.5" y="3099.5">mCG/CG</text><text x="575.1" y="3099.5">mCHG/CHG</text><text x="805.5" y="3099.5">mCHH/CHH</text></g>
<path d="M183 3451h2m-2 3h2m-2 4h2m-1-19h2m-2 4h2m-2 7h2m-2 2h2m-2 1h2m-2 4h2m-2 0h2m-2 6h2m-2 7h2m-1-19h2m-2 1h2m-2 1h2m-2 0h2m-2 6h2m-2 4h2m-2 3h2m-2 3h2m-1-13h2m-2 3h2m-2 7h2m-2 2h2m-2 7h2m-1-47h2m-2 19h2m-2 2h2m-2 2h2m-2 2h2m-2 17h2m-1-23h2m-2 7h2m-2 4h2m-2 5h2m-2 1h2m-2 3h2m-2 1h2m-1-21h2m-2 4h2m-2 4h2m-2 1h2m-2 7h2m-2 1h2m-2 2h2m-2 9h2m-2 0h2m-1-31h2m-2 1h2m-2 7h2m-2 1h2m-2 1h2m-2 0h2m-2 10h2m-2 5h2m-2 6h2m-1-36h2m-2 26h2m-2 8h2m-1-8h2m-2 8h2m-1-21h2m-2 0h2m-2 3h2m-2 11h2m-2 1h2m-2 3h2m-1-47h2m-2 31h2m-2 10h2m-2 11h2m-1-30h2m-2 19h2m-2 12h2m-1-39h2m-2 7h2m-2 9h2m-2 0h2m-2 10h2m-2 8h2m-1-23h2m-2 17h2m-2 2h2m-2 1h2m-2 2h2m-2 2h2m-1-30h2m-2 12h2m-2 0h2m-2 1h2m-2 0h2m-2 7h2m-2 6h2m-2 5h2m-1-24h2m-2 5h2m-2 3h2m-2 3h2m-2 3h2m-2 1h2m-2 3h2m-1-26h2m-2 2h2m-2 9h2m-2 11h2m-2 2h2m-1-24h2m-2 23h2m-2 0h2m-2 3h2m-1-15h2m-2 4h2m-2 2h2m-2 16h2m-1-23h2m-2 4h2m-2 2h2m-1-7h2m-2 10h2m-2 5h2m-1-24h2m-2 2h2m-2 1h2m-2 10h2m-2 10h2m-1-18h2m-2 21h2m-1-26h2m-2 3h2m-2 12h2m-2 0h2m-2 3h2m-2 1h2m-2 2h2m-2 3h2m-2 2h2m-1-23h2m-2 1h2m-2 6h2m-2 5h2m-2 4h2m-2 2h2m-2 2h2m-2 2h2m-1-27h2m-2 5h2m-2 10h2m-2 0h2m-2 6h2m-1-26h2m-2 21h2m-2 0h2m-2 1h2m-1-6h2m-2 4h2m-2 10h2m-2 2h2m-2 11h2m-1-18h2m-2 4h2m-2 3h2m-2 13h2m-1-40h2m-2 1h2m-2 8h2m-1-2h2m-2 3h2m-2 11h2m-2 3h2m-2 4h2m-2 6h2m-1-16h2m-2 7h2m-2 3h2m-2 2h2m-1-34h2m-2 1h2m-2 5h2m-2 12h2m-2 5h2m-2 6h2m-2 2h2m-2 0h2m-1-18h2m-2 15h2m-2 9h2m-2 0h2m-2 4h2m-1-37h2m-2 2h2m-2 4h2m-2 6h2m-2 1h2m-2 10h2m-2 6h2m-2 0h2m-2 0h2m-2 5h2m-1-44h2m-2 8h2m-2 10h2m-2 16h2m-2 3h2m-2 7h2m-1-47h2m-2 16h2m-2 5h2m-2 12h2m-2 3h2m-2 1h2m-2 6h2m-2 1h2m-2 0h2m-2 13h2m-1-40h2m-2 1h2m-2 6h2m-2 9h2m-2 2h2m-2 10h2m-1-9h2m-2 3h2m-2 0h2m-2 1h2m-2 2h2m-1-37h2m-2 2h2m-2 9h2m-2 5h2m-2 9h2m-2 8h2m-2 1h2m-2 2h2m-1-28h2m-2 1h2m-2 25h2m-2 3h2m-1-24h2m-2 23h2m-2 2h2m-1-43h2m-2 20h2m-2 0h2m-2 9h2m-2 8h2m-2 1h2m-2 0h2m-2 3h2m-2 1h2m-2 11h2m-2 1h2m-1-49h2m-2 13h2m-2 1h2m-2 20h2m-2 1h2m-2 2h2m-2 2h2m-2 1h2m-1-28h2m-2 9h2m-2 5h2m-2 9h2m-2 9h2m-1-43h2m-2 16h2m-2 0h2m-2 1h2m-2 1h2m-2 4h2m-2 16h2m-2 7h2m-1-45h2m-2 12h2m-2 4h2m-2 5h2m-2 10h2m-2 1h2m-2 7h2m-1-38h2m-2 21h2m-2 2h2m-2 6h2m-2 2h2m-1-2h2m-2 2h2m-2 5h2m-1-43h2m-2 18h2m-2 1h2m-2 0h2m-2 1h2m-2 8h2m-2 5h2m-2 6h2m-2 0h2m-2 1h2m-1-22h2m-2 14h2m-2 5h2m-2 1h2m-2 1h2m-2 2h2m-2 4h2m-2 1h2m-1-19h2m-2 12h2m-2 2h2m-1-38h2m-2 14h2m-2 16h2m-2 7h2m-1-24h2m-2 22h2m-2 6h2m-1-31h2m-2 13h2m-2 11h2m-2 11h2m-1-42h2m-2 5h2m-2 7h2m-2 5h2m-2 13h2m-1-10h2m-2 4h2m-2 4h2m-2 3h2m-2 2h2m-2 2h2m-2 9h2m-2 2h2m-1-39h2m-2 24h2m-2 1h2m-2 3h2m-1-16h2m-2 11h2m-2 4h2m-2 4h2m-2 6h2m-1-39h2m-2 27h2m-2 7h2m-2 4h2m-1-9h2m-2 3h2m-2 0h2m-1-44h2m-2 17h2m-2 2h2m-2 6h2m-2 13h2m-2 2h2m-2 7h2m-2 1h2m-1-37h2m-2 11h2m-2 12h2m-1-13h2m-2 25h2m-2 1h2m-1-39h2m-2 13h2m-2 18h2m-2 1h2m-2 1h2m-2 16h2m-1-44h2m-2 27h2m-2 2h2m-2 2h2m-1-55h2m-2 28h2m-2 5h2m-2 20h2m-1-39h2m-2 2h2m-2 1h2m-2 15h2m-2 2h2m-2 18h2m-2 7h2m-1-44h2m-2 38h2m-1-44h2m-2 4h2m-2 19h2m-2 10h2m-2 7h2m-2 0h2m-2 6h2m-2 2h2m-2 3h2m-1-40h2m-2 32h2m-2 3h2m-1-34h2m-2 6h2m-2 33h2m-1-55h2m-2 15h2m-2 5h2m-2 27h2m-1-22h2m-2 2h2m-2 16h2m-2 5h2m-2 1h2m-2 7h2m-1-46h2m-2 11h2m-2 0h2m-2 6h2m-2 3h2m-2 12h2m-2 1h2m-2 3h2m-1-21h2m-2 1h2m-2 25h2m-1-37h2m-2 21h2m-2 22h2m-1-56h2m-2 21h2m-2 23h2m-2 17h2m-1-61h2m-2 24h2m-2 7h2m-2 0h2m-2 4h2m-2 18h2m-2 5h2m-1-44h2m-2 1h2m-2 19h2m-2 8h2m-2 14h2m-2 1h2m-1-44h2m-2 2h2m-2 6h2m-2 15h2m-2 4h2m-2 6h2m-2 6h2m-1-51h2m-2 3h2m-2 9h2m-2 0h2m-2 2h2m-2 3h2m-2 4h2m-2 21h2m-2 3h2m-2 1h2m-2 11h2m-1-56h2m-2 7h2m-2 1h2m-2 6h2m-2 14h2m-2 13h2m-2 11h2m-1-52h2m-2 11h2m-2 33h2m-2 6h2m-1-39h2m-2 4h2m-2 30h2m-2 0h2m-2 3h2m-1-28h2m-2 20h2m-2 3h2m-2 3h2m-2 2h2m-1-44h2m-2 1h2m-2 38h2m-2 2h2m-2 3h2m-2 5h2m-1-54h2m-2 5h2m-2 38h2m-2 1h2m-2 13h2m-1-35h2m-2 5h2m-2 1h2m-2 14h2m-2 1h2m-2 4h2m-2 2h2m-2 2h2m-1 0h2m-1-52h2m-2 9h2m-2 23h2m-2 8h2m-2 3h2m-2 5h2m-2 2h2m-1-32h2m-2 7h2m-2 17h2m-2 0h2m-1-54h2m-2 22h2m-2 1h2m-2 7h2m-2 12h2m-2 15h2m-2 0h2m-2 6h2m-2 4h2m-2 8h2m-1-53h2m-2 29h2m-2 4h2m-2 2h2m-2 4h2m-1-43h2m-2 16h2m-2 22h2m-2 5h2m-2 1h2m-1-57h2m-2 14h2m-2 13h2m-2 25h2m-2 0h2m-1-24h2m-2 1h2m-2 0h2m-2 21h2m-2 2h2m-2 6h2m-1-35h2m-2 4h2m-2 17h2m-2 6h2m-2 2h2m-2 9h2m-2 3h2m-1-45h2m-2 7h2m-2 23h2m-2 16h2m-1-49h2m-2 11h2m-2 4h2m-2 22h2m-1-51h2m-2 17h2m-2 5h2m-2 1h2m-2 2h2m-2 22h2m-2 12h2m-2 2h2m-1-53h2m-2 32h2m-2 12h2m-1 11h2m-1-45h2m-2 7h2m-2 5h2m-2 14h2m-2 9h2m-1-20h2m-2 24h2m-1-41h2m-2 24h2m-2 7h2m-2 1h2m-2 3h2m-2 2h2m-1-23h2m-2 17h2m-2 0h2m-2 2h2m-2 7h2m-2 4h2m-1-42h2m-2 2h2m-2 3h2m-2 9h2m-2 17h2m-2 2h2m-2 5h2m-1-48h2m-2 9h2m-2 5h2m-2 33h2m-1-48h2m-2 26h2m-2 1h2m-2 19h2m-1-35h2m-2 6h2m-2 6h2m-2 6h2m-2 17h2m-2 6h2m-1-40h2m-2 28h2m-2 1h2m-2 2h2m-2 1h2m-1-41h2m-2 26h2m-2 21h2m-1-50h2m-2 7h2m-2 6h2m-2 21h2m-2 9h2m-2 2h2m-2 1h2m-2 4h2m-1-6h2m-2 8h2m-1-26h2m-2 14h2m-2 2h2m-2 1h2m-2 6h2m-2 15h2m-1-74h2m-2 8h2m-2 6h2m-2 5h2m-2 2h2m-2 4h2m-2 3h2m-2 24h2m-2 2h2m-1-38h2m-2 11h2m-2 14h2m-2 19h2m-2 2h2m-1-40h2m-2 15h2m-2 1h2m-2 14h2m-2 3h2m-2 3h2m-1-10h2m-2 0h2m-2 15h2m-1-66h2m-2 23h2m-2 0h2m-2 10h2m-2 17h2m-2 12h2m-2 1h2m-2 2h2m-2 2h2m-2 4h2m-1-41h2m-2 16h2m-2 8h2m-2 0h2m-2 3h2m-1-28h2m-2 2h2m-2 9h2m-2 19h2m-1-35h2m-2 9h2m-2 0h2m-2 3h2m-2 4h2m-2 14h2m-1-47h2m-2 5h2m-2 7h2m-2 14h2m-2 22h2m-2 15h2m-1-40h2m-2 26h2m-2 6h2m-2 0h2m-2 1h2m-2 4h2m-2 9h2m-1-53h2m-2 4h2m-2 28h2m-2 2h2m-2 2h2m-2 1h2m-1-22h2m-2 15h2m-2 8h2m-2 0h2m-2 0h2m-2 1h2m-2 1h2m-1-45h2m-2 7h2m-2 3h2m-2 11h2m-2 3h2m-2 0h2m-2 12h2m-2 2h2m-1-35h2m-2 4h2m-2 6h2m-2 0h2m-2 5h2m-2 20h2m-2 4h2m-2 1h2m-2 3h2m-1-33h2m-2 5h2m-2 1h2m-2 1h2m-2 4h2m-2 11h2m-2 0h2m-2 2h2m0-21h2m-2 1h2m-2 6h2m-2 3h2m-2 10h2m-2 4h2m-2 0h2m-2 1h2m-1-46h2m-2 19h2m-2 34h2m-1-62h2m-2 11h2m-2 8h2m-2 1h2m-2 2h2m-2 9h2m-2 18h2m-2 3h2m-2 2h2m-1-36h2m-2 1h2m-2 31h2m-2 2h2m-1-45h2m-1 12h2m-2 13h2m-2 3h2m-2 3h2m-2 12h2m-2 5h2m-2 8h2m-1-22h2m-2 10h2m-2 5h2m-2 4h2m-1-36h2m-2 5h2m-2 3h2m-2 19h2m-2 2h2m-2 3h2m-2 0h2m-1-39h2m-2 1h2m-2 6h2m-2 1h2m-2 25h2m-2 3h2m-2 0h2m-2 1h2m-2 1h2m-2 2h2m-1-39h2m-2 4h2m-2 1h2m-2 21h2m-2 11h2m-2 9h2m-1-34h2m-2 19h2m-2 0h2m-2 5h2m-2 1h2m-2 1h2m-2 7h2m-1-37h2m-2 17h2m-2 6h2m-2 1h2m-2 4h2m-2 8h2m-1-37h2m-2 1h2m-2 0h2m-2 26h2m-2 0h2m-2 1h2m-2 4h2m-1-37h2m-2 10h2m-2 28h2m-2 3h2m-2 0h2m-2 3h2m-1-48h2m-2 6h2m-2 24h2m-2 4h2m-2 2h2m-2 2h2m-2 6h2m-2 4h2m-1-28h2m-2 26h2m-1-57h2m-2 19h2m-2 1h2m-2 2h2m-1-4h2m-2 2h2m-2 6h2m-2 4h2m-2 11h2m-2 12h2m-1-44h2m-2 19h2m-2 18h2m-2 10h2m-2 4h2m-1-52h2m-2 2h2m-2 37h2m-2 2h2m-2 3h2m-2 6h2m-1-36h2m-2 2h2m-2 2h2m-2 1h2m-1-23h2m-2 26h2m-2 16h2m-2 4h2m-1-29h2m-2 32h2m-1-40h2m-2 1h2m-2 31h2m-2 4h2m-1-28h2m-2 7h2m-2 10h2m-2 6h2m-2 11h2m-1-50h2m-2 22h2m-2 4h2m-2 19h2m-1-3h2m-2 2h2m-2 0h2m-2 2h2m-1-41h2m-2 4h2m-2 1h2m-2 4h2m-2 3h2m-2 3h2m-2 3h2m-2 10h2m-2 10h2m-2 2h2m-2 20h2m-1-70h2m-2 14h2m-2 13h2m-2 18h2m-2 2h2m-2 9h2m-1-12h2m-2 4h2m-2 2h2m-1-46h2m-2 21h2m-2 9h2m-2 7h2m-2 7h2m-2 2h2m-1-54h2m-2 19h2m-2 2h2m-2 4h2m-2 21h2m-2 2h2m-2 2h2m-2 1h2m-2 5h2m-1-38h2m-2 15h2m-2 0h2m-2 17h2m-2 1h2m-1-40h2m-2 14h2m-2 8h2m-2 15h2m-2 1h2m-2 2h2m-2 7h2m-2 2h2m-1-56h2m-2 13h2m-2 7h2m-2 1h2m-2 2h2m-2 9h2m-2 23h2m-2 5h2m-1-56h2m-2 18h2m-2 23h2m-2 6h2m-2 8h2m-1-42h2m-2 12h2m-2 9h2m-2 21h2m-1-45h2m-2 2h2m-2 31h2m-2 11h2m-1-13h2m-2 1h2m-2 3h2m-2 0h2m-1-43h2m-2 15h2m-2 2h2m-2 5h2m-2 20h2m-2 2h2m-2 2h2m-1-16h2m-2 13h2m-1-44h2m-2 17h2m-2 4h2m-2 2h2m-2 8h2m-2 4h2m-2 2h2m-2 3h2m-2 3h2m-2 8h2m-1-46h2m-2 7h2m-2 1h2m-2 2h2m-2 14h2m-2 11h2m-2 0h2m-1-29h2m-2 37h2m-1-46h2m-2 3h2m-2 7h2m-2 11h2m-2 3h2m-2 13h2m-2 5h2m-1-50h2m-2 19h2m-2 7h2m-2 14h2m-2 7h2m-2 3h2m-1-26h2m-2 0h2m-2 22h2m-2 1h2m-2 6h2m-2 1h2m-1-39h2m-2 4h2m-2 4h2m-2 8h2m-2 4h2m-2 12h2m-1-40h2m-2 19h2m-2 2h2m-2 8h2m-2 16h2m-1-29h2m-2 4h2m-2 25h2m-2 2h2m-2 4h2m-1-45h2m-2 9h2m-2 13h2m-2 11h2m-2 1h2m-1-26h2m-2 1h2m-2 5h2m-2 3h2m-2 13h2m-2 2h2m-2 3h2m-1-25h2m-1 5h2m-2 3h2m-2 15h2m-2 2h2m-2 0h2m-2 3h2m-1-9h2m-2 3h2m-2 10h2m-1-47h2m-2 14h2m-2 5h2m-2 19h2m-2 2h2m-1-30h2m-2 9h2m-2 18h2m-2 2h2m-2 0h2m-2 5h2m-2 1h2m-1-34h2m-2 3h2m-2 2h2m-2 16h2m-2 6h2m-2 6h2m-1-55h2m-2 11h2m-2 6h2m-2 14h2m-2 8h2m-2 4h2m-2 8h2m-2 2h2m-2 1h2m-2 3h2m-1-38h2m-2 31h2m-2 1h2m-1-30h2m-2 4h2m-2 5h2m-2 1h2m-2 17h2m-2 1h2m-2 16h2m-1-52h2m-2 2h2m-2 34h2m-2 0h2m-2 1h2m-2 0h2m-1-29h2m-2 3h2m-2 25h2m-2 2h2m-2 7h2m-1-31h2m-2 19h2m-2 3h2m-2 1h2m-2 5h2m-2 1h2m-1-36h2m-2 15h2m-2 0h2m-1-3h2m-2 8h2m-1-22h2m-2 25h2m-1-15h2m-2 4h2m-2 13h2m-2 4h2m-2 1h2m-2 2h2m-1-25h2m-2 23h2m-2 1h2m-2 2h2m-2 1h2m-1-35h2m-2 7h2m-2 10h2m-2 17h2m-2 2h2m-2 1h2m-2 6h2m-1-45h2m-2 16h2m-2 0h2m-2 12h2m-2 12h2m-1-49h2m-2 14h2m-2 17h2m-2 9h2m-2 13h2m-2 2h2m-1-45h2m-2 7h2m-2 23h2m-2 4h2m-1-36h2m-2 42h2m-1-46h2m-2 29h2m-2 8h2m-2 1h2m-2 3h2m-2 3h2m-2 3h2m-2 3h2m-2 1h2m-1-51h2m-2 42h2m-2 1h2m-1-45h2m-2 42h2m-2 10h2m-1-64h2m-2 34h2m-2 1h2m-2 15h2m-2 1h2m-2 0h2m-2 6h2m-1-28h2m-2 2h2m-2 6h2m-2 11h2m-2 6h2m-2 0h2m-2 7h2m-1-46h2m-2 12h2m-2 3h2m-2 25h2m-1-42h2m-2 11h2m-2 29h2m-2 0h2m-2 1h2m-1-2h2m-1-25h2m-2 0h2m-2 10h2m-2 17h2m-2 1h2m-2 3h2m-1-45h2m-2 2h2m-2 14h2m-2 3h2m-2 2h2m-2 6h2m-2 10h2m-2 1h2m-2 1h2m-2 4h2m-2 4h2m-1-37h2m-2 8h2m-2 2h2m-2 9h2m-2 21h2m-1-41h2m-2 22h2m-1-30h2m-2 3h2m-2 19h2m-2 6h2m-2 14h2m-2 4h2m-1-49h2m-2 53h2m-1-52h2m-2 4h2m-2 1h2m-2 7h2m-2 9h2m-2 10h2m-2 5h2m-2 3h2m-2 12h2m-2 0h2m-2 2h2m-1-41h2m-2 14h2m-2 13h2m-2 6h2m-2 4h2m-1-59h2m-2 7h2m-2 28h2m-2 3h2m-2 12h2m-2 4h2m-1-45h2m-2 1h2m-2 7h2m-2 9h2m-2 27h2m-2 6h2m-1-56h2m-2 12h2m-2 3h2m-2 21h2m-2 10h2m-2 4h2m-2 2h2m-2 6h2m-1-49h2m-2 13h2m-2 23h2m-2 2h2m-2 1h2m0-40h2m-2 4h2m-2 10h2m-2 5h2m-2 4h2m-2 26h2m-1-38h2m-2 4h2m-2 6h2m-2 17h2m-2 1h2m-2 2h2m-1-26h2m-2 5h2m-1-28h2m-2 7h2m-2 7h2m-2 20h2m-1-21h2m-2 1h2m-2 0h2m-2 10h2m-2 2h2m-2 1h2m-2 7h2m-2 14h2m-2 4h2m-2 4h2m-2 6h2m-1-38h2m-2 5h2m-2 19h2m-2 2h2m-1-31h2m-2 9h2m-2 18h2m-1-28h2m-2 2h2m-2 5h2m-2 20h2m-2 8h2m-2 0h2m-1-37h2m-2 4h2m-2 9h2m-2 7h2m-2 12h2m-2 0h2m-2 6h2m-2 5h2m-1-41h2m-2 20h2m-2 8h2m-2 1h2m-2 2h2m-1-4h2m-2 7h2m-1-39h2m-2 20h2m-2 12h2m-2 5h2m-2 0h2m-2 1h2m-1-50h2m-2 23h2m-2 15h2m-1-16h2m-2 0h2m-2 3h2m-2 10h2m-1-25h2m-2 3h2m-2 5h2m-2 29h2m-1-16h2m-2 13h2m-2 11h2m-1-34h2m-2 8h2m-2 8h2m-2 14h2m-1-8h2m-2 2h2m-1-29h2m-2 5h2m-2 13h2m-2 10h2m-2 7h2m-2 4h2m-1-45h2m-2 8h2m-2 7h2m-2 4h2m-2 18h2m-2 6h2m-1-53h2m-2 4h2m-2 18h2m-2 12h2m-2 12h2m-2 2h2m-1-50h2m-2 4h2m-2 12h2m-2 0h2m-2 37h2m-2 10h2m-1-37h2m-2 26h2m-2 1h2m-1-39h2m-2 2h2m-2 1h2m-2 15h2m-2 18h2m-2 2h2m-2 2h2m-1-23h2m-2 21h2m-1-4h2m-1-31h2m-2 10h2m-2 8h2m-2 10h2m-2 6h2m-2 3h2m-2 1h2m-2 4h2m-2 1h2m-1-41h2m-2 3h2m-2 2h2m-1-8h2m-2 15h2m-2 13h2m-2 4h2m-2 5h2m-2 4h2m-1-48h2m-2 15h2m-2 23h2m-2 2h2m-2 2h2m-1-33h2m-2 4h2m-2 26h2m-2 1h2m-1-8h2m-2 5h2m-2 0h2m-2 1h2m-1-34h2m-2 35h2m-2 1h2m-2 11h2m-1-37h2m-2 3h2m-2 22h2m-2 13h2m-1-67h2m-2 4h2m-2 22h2m-2 2h2m-2 1h2m-2 7h2m-2 11h2m-2 10h2m-2 4h2m-2 7h2m-1-51h2m-2 2h2m-1 35h2m-2 1h2m-2 3h2m-2 3h2m-2 7h2m-1-48h2m-2 30h2m-2 8h2m-2 2h2m-2 2h2m-2 2h2m-1-28h2m-2 0h2m-2 16h2m-2 1h2m-2 2h2m-2 2h2m-2 3h2m-2 1h2m-2 1h2m-1-40h2m-2 8h2m-2 14h2m-2 14h2m-1-33h2m-2 6h2m-2 3h2m-2 31h2m-1-32h2m-2 8h2m-2 2h2m-2 3h2m-2 14h2m-2 1h2m-2 18h2m-1-50h2m-2 10h2m-2 14h2m-2 2h2m-2 4h2m-2 6h2m-2 3h2m-2 6h2m-1-64h2m-2 17h2m-2 2h2m-2 6h2m-2 3h2m-2 14h2m-2 9h2m-1-48h2m-2 10h2m-2 4h2m-2 1h2m-2 24h2m-2 4h2m-2 1h2m-2 5h2m-2 3h2m-1-30h2m-2 14h2m-2 3h2m-2 2h2m-2 1h2m-2 5h2m-2 0h2m-2 0h2m-1-35h2m-2 0h2m-2 21h2m-2 9h2m-2 3h2m-1-6h2m-2 5h2m-1-37h2m-2 2h2m-2 13h2m-2 0h2m-2 18h2m-1-24h2m-2 30h2m-2 2h2m-1-34h2m-2 13h2m-2 14h2m-2 0h2m-2 2h2m-2 6h2m-1-22h2m-2 12h2m-2 2h2m-2 1h2m-2 2h2m-1-10h2m-2 4h2m-2 3h2m-2 1h2m-2 0h2m-1-38h2m-2 13h2m-2 4h2m-2 9h2m-1-25h2m-2 27h2m-2 2h2m-2 1h2m-2 5h2m-2 2h2m-2 7h2m-2 0h2m-2 1h2m-1-30h2m-2 7h2m-2 3h2m-2 3h2m-2 9h2m-2 1h2m-2 2h2m-2 2h2m-2 8h2m-2 0h2m-1-45h2m-2 30h2m-2 9h2m-1-23h2m-2 13h2m-2 2h2m-2 1h2m-1-27h2m-2 16h2m-2 2h2m-2 15h2m-1 6h2m-1-54h2m-2 15h2m-2 10h2m-2 10h2m-1-20h2m-2 9h2m-2 15h2m-2 1h2m-2 5h2m-2 9h2m-2 1h2m-2 6h2m-1-38h2m-2 5h2m-2 3h2m-2 0h2m-2 1h2m-2 10h2m-2 13h2m-1-34h2m-2 12h2m-2 1h2m-2 6h2m-2 3h2m-1-15h2m-2 1h2m-2 2h2m-2 12h2m-2 1h2m-2 0h2m-2 1h2m-2 7h2m-1-12h2m-2 6h2m-2 2h2m-2 1h2m-1-20h2m-1-5h2m-2 0h2m-2 17h2m-2 3h2m-2 4h2m-2 7h2m-1-37h2m-2 5h2m-2 13h2m-2 4h2m-2 0h2m-2 3h2m-1-25h2m-2 21h2m-2 2h2m-2 4h2m-2 10h2m-1-33h2m-2 2h2m-2 1h2m-2 16h2m-2 0h2m-2 2h2m-2 4h2m-1-38h2m-2 16h2m-2 2h2m-2 1h2m-2 3h2m-2 1h2m-2 7h2m-2 3h2m-2 7h2m-1-37h2m-2 11h2m-2 17h2m-1-23h2m-2 10h2m-2 7h2m-2 2h2m-2 19h2m-2 3h2m-1-27h2m-2 10h2m-2 0h2m-2 2h2m-2 8h2m-2 6h2m-1-39h2m-2 11h2m-2 5h2m-2 6h2m-1-36h2m-2 12h2m-2 6h2m-2 23h2m-1-26h2m-2 6h2m-2 11h2m-2 0h2m-2 6h2m-2 0h2m-1-37h2m-2 32h2m-2 4h2m-2 2h2m-2 2h2m-1-24h2m-2 4h2m-2 7h2m-2 1h2m-2 3h2m-2 1h2m-2 2h2m-2 2h2m-2 0h2m-2 1h2m-2 3h2m-2 4h2m-2 2h2m-2 3h2m-1-39h2m-2 2h2m-2 1h2m-2 20h2m-2 4h2m-2 3h2m-2 0h2m-1-41h2m-2 8h2m-2 7h2m-2 23h2m-1-25h2m-2 7h2m-2 4h2m-2 23h2m-1-29h2m-2 8h2m-2 4h2m-2 1h2m-2 3h2m-2 1h2m-2 5h2m-2 7h2m-1-50h2m-2 18h2m-2 3h2m-2 4h2m-2 3h2m-2 6h2m-2 1h2m-2 4h2m-2 1h2m-2 5h2m-2 3h2m-1-24h2m-2 3h2m-2 10h2m-2 2h2m-2 1h2m-2 6h2m-1-41h2m-2 20h2m-2 2h2m-2 2h2m-2 9h2m-2 6h2m-1-27h2m-2 1h2m-2 1h2m-2 5h2m-2 9h2m-2 11h2m-2 0h2m-2 2h2m-2 3h2m-2 1h2m-1-36h2m-2 17h2m-2 4h2m-2 4h2m-2 3h2m-1-21h2m-2 8h2m-2 10h2m-2 2h2m-2 0h2m-2 2h2m-2 1h2m-2 10h2m-1-24h2m-2 3h2m-2 3h2m-1-31h2m-2 9h2m-2 6h2m-2 13h2m-1-29h2m-2 3h2m-2 7h2m-2 30h2m-2 5h2m-1-24h2m-2 3h2m-2 1h2m-2 12h2m-2 1h2m-2 2h2m-2 8h2m-1-29h2m-2 5h2m-2 2h2m-2 1h2m-2 8h2m-2 6h2m-1-28h2m-2 14h2m-2 9h2m-2 4h2m-2 0h2m-2 2h2m-1-28h2m-2 2h2m-2 12h2m-2 4h2m-2 5h2m-1-21h2m-2 2h2m-2 1h2m-2 1h2m-2 1h2m-2 1h2m-2 2h2m-2 15h2m-2 0h2m-2 3h2m-2 5h2m-2 1h2m-2 5h2m-1-18h2m-2 2h2m-2 0h2m-1-14h2m-2 6h2m-2 6h2m-2 1h2m-1-21h2m-2 24h2m-2 2h2m-1-39h2m-2 19h2m-2 1h2m-2 9h2m-2 2h2m-2 5h2m-2 4h2m-1-32h2m-2 4h2m-2 23h2m-2 0h2m-2 2h2m-1-51h2m-2 18h2m-2 6h2m-2 2h2m-2 3h2m-2 13h2m-2 4h2m-2 3h2m-2 11h2m-1-61h2m-2 22h2m-2 15h2m-2 0h2m-2 12h2m-2 8h2m-2 2h2m-1-33h2m-2 10h2m-2 2h2m-1 0h2m-2 13h2m-2 1h2m-2 4h2m-2 3h2m-1-15h2m-2 7h2m-2 4h2m-1-24h2m-2 12h2m-2 6h2m-2 5h2m-2 2h2m-1-48h2m-2 20h2m-2 23h2m-1-18h2m-2 1h2m-2 3h2m-2 12h2m-2 0h2m-2 1h2m-1-27h2m-2 13h2m-2 12h2m-2 5h2m-2 3h2m-2 8h2m-1-24h2m-2 8h2m-2 2h2m-2 4h2m-1-40h2m-2 12h2m-2 22h2m-2 4h2m-2 3h2m-2 3h2m-1-3h2m-1-37h2m-2 18h2m-2 11h2m-2 0h2m-2 0h2m-2 1h2m-1-20h2m-2 4h2m-2 2h2m-2 7h2m-2 4h2m-2 2h2m-2 4h2m-2 9h2m-1-45h2m-2 9h2m-2 20h2m-2 7h2m-2 1h2m-1-14h2m-2 19h2m-1-40h2m-2 27h2m-2 4h2m-2 4h2m-2 2h2m-1-22h2m-2 5h2m-2 12h2m-2 2h2m-2 8h2m-2 1h2m-2 2h2m-1-42h2m-2 3h2m-2 9h2m-2 22h2m-2 1h2m-1-32h2m-2 16h2m-2 9h2m-2 3h2m-1-18h2m-2 6h2m-2 3h2m-1-16h2m-2 11h2m-2 13h2m-2 1h2m-1-22h2m-2 8h2m-2 10h2m-2 2h2m-2 1h2m-1-9h2m-2 7h2m-1-21h2m-2 6h2m-2 2h2m-2 4h2m-2 9h2m-2 1h2m-2 0h2m-2 3h2m-1-26h2m-2 2h2m-2 0h2m-2 5h2m-2 19h2m-2 1h2m-1-11h2m-2 1h2m-2 6h2m-2 1h2m-2 11h2m-1-32h2m-2 3h2m-2 5h2m-2 12h2m-2 1h2m-2 6h2m-2 1h2m-2 0h2m-1-37h2m-2 7h2m-2 22h2m-2 0h2m-2 1h2m-2 11h2m-1-29h2m-2 4h2m-2 7h2m-2 2h2m-2 3h2m-2 1h2m-2 1h2m-2 1h2m-2 3h2m-2 6h2m-1-26h2m-2 10h2m-2 5h2m-2 0h2m-2 0h2m-2 3h2m-2 5h2m-1-40h2m-2 4h2m-2 5h2m-2 3h2m-2 4h2m-2 7h2m-2 9h2m-2 1h2m-1-41h2m-2 25h2m-2 10h2m-2 1h2m-2 4h2m-2 2h2m-2 6h2m-2 0h2m-2 0h2m-1-30h2m-2 2h2m-2 1h2m-2 18h2m-2 3h2m-1-37h2m-2 4h2m-2 3h2m-2 26h2m-2 0h2m-2 3h2m-2 6h2m-1-23h2m-2 1h2m-2 1h2m-2 5h2m-2 7h2m-2 0h2m-2 4h2m-2 6h2m-2 0h2m-1-36h2m-2 10h2m-2 7h2m-2 5h2m-2 4h2m-2 0h2m-1-24h2m-2 10h2m-2 21h2m-1-33h2m-2 1h2m-2 2h2m-2 14h2m-1-10h2m-2 1h2m-2 5h2m-2 13h2m-2 14h2m-1-30h2m-2 10h2m-2 1h2m-2 6h2m-2 2h2m-2 0h2m-1-27h2m-2 25h2m-2 0h2m-2 10h2m-1-31h2m-2 15h2m-2 16h2m-1-20h2m-2 12h2m-2 2h2m-2 3h2m-1-42h2m-2 22h2m-2 5h2m-2 0h2m-2 4h2m-2 7h2m-2 2h2m-2 0h2m-1-6h2m-2 4h2m-2 5h2m-1-37h2m-2 6h2m-2 10h2m-2 6h2m-2 9h2m-1-34h2m-2 11h2m-2 10h2m-2 6h2m-2 2h2m-2 0h2m-2 5h2m-2 5h2m-1-38h2m-2 18h2m-2 3h2m-2 9h2m-2 1h2m-2 3h2m-2 0h2m-1-27h2m-2 0h2m-2 23h2m-2 1h2m-1-21h2m-2 1h2m-2 22h2m-2 15h2m-1-37h2m-2 13h2m-2 3h2m-2 1h2m-2 3h2m-1 5h2m-1-24h2m-2 10h2m-2 4h2m-2 4h2m-2 1h2m-2 4h2m-1-8h2m-2 5h2m-1-27h2m-2 15h2m-2 2h2m-2 0h2m-2 2h2m-2 2h2m-2 1h2m-2 7h2m-1-38h2m-2 25h2m-1-24h2m-2 11h2m-2 20h2m-2 4h2m-2 1h2m-2 0h2m-2 2h2m-2 1h2m-2 1h2m-2 9h2m-1-25h2m-2 1h2m-2 2h2m-2 11h2m-2 1h2m-2 9h2m-2 2h2m-1-33h2m-2 7h2m-2 7h2m-2 2h2m-2 9h2m-2 3h2m-1-29h2m-2 5h2m-2 5h2m-2 5h2m-2 7h2m-2 1h2m-1-30h2m-1 6h2m-2 3h2m-2 4h2m-2 17h2m-2 1h2m-2 5h2m-1-10h2m-2 5h2m-2 5h2m-1-29h2m-2 11h2m-2 9h2m-2 4h2m-1-27h2m-2 16h2m-2 9h2m-1-13h2m-2 15h2m-2 2h2m-2 1h2m-1-31h2m-2 12h2m-2 5h2m-1-14h2m-2 5h2m-2 5h2m-2 13h2m-2 1h2m-2 4h2m-1-26h2m-2 19h2m-2 1h2m-2 11h2m-1-20h2m-2 10h2m-2 1h2m-2 0h2m-2 3h2m-1-8h2m-1-8h2m-2 7h2m-2 1h2m-1-33h2m-2 18h2m-2 6h2m-2 2h2m-2 8h2m-1-19h2m-2 9h2m-2 0h2m-2 3h2m-2 5h2m-2 5h2m-1-21h2m-1-16h2m-2 6h2m-2 8h2m-2 4h2m-2 5h2m-2 1h2m-2 5h2m-2 4h2m-1-10h2m-2 4h2m-2 3h2m-2 13h2m-1-31h2m-2 17h2m-2 15h2m-2 0h2m-2 0h2m-1-39h2m-2 11h2m-2 7h2m-2 3h2m-2 3h2m-2 6h2m-2 0h2m-2 11h2m-1-40h2m-2 2h2m-2 9h2m-2 7h2m-2 10h2m-2 11h2m-1-26h2m-2 2h2m-2 5h2m-2 9h2m-2 2h2m-2 5h2m-2 4h2m-1-16h2m-2 3h2m-2 0h2m-2 0h2m-2 15h2m-1-29h2m-2 9h2m-2 1h2m-2 13h2m-1-44h2m-2 24h2m-2 12h2m-2 14h2m-1-29h2m-2 10h2m-2 4h2m-2 5h2m-1-30h2m-2 6h2m-2 1h2m-2 0h2m-2 2h2m-2 5h2m-2 8h2m-2 2h2m-2 1h2m-2 7h2m-2 6h2m-1-40h2m-2 23h2m-2 5h2m-2 10h2m-1-43h2m-2 16h2m-2 5h2m-2 3h2m-2 11h2m-2 4h2m-2 5h2m-1-37h2m-2 3h2m-2 0h2m-2 19h2m-1-13h2m-2 3h2m-2 1h2m-2 2h2m-2 1h2m-2 10h2m-2 2h2m-2 0h2m-2 3h2m-2 9h2m-1-32h2m-2 1h2m-2 3h2m-2 7h2m-2 10h2m-2 1h2m-2 2h2m-2 5h2m-1-32h2m-2 10h2m-2 11h2m-2 0h2m-2 12h2m-1-42h2m-2 31h2m-2 6h2m-1-26h2m-2 1h2m-2 6h2m-2 1h2m-2 6h2m-2 7h2m-2 1h2m-1-24h2m-2 8h2m-2 3h2m-2 1h2m-2 2h2m-1-25h2m-2 19h2m-2 4h2m-2 8h2m-2 5h2m-1-42h2m-2 22h2m-2 5h2m-2 10h2m-2 4h2m-2 4h2m-2 1h2m-1-40h2m-2 7h2m-2 15h2m-2 9h2m-2 2h2m-2 2h2m-2 9h2m-1-49h2m-2 24h2m-2 5h2m-2 1h2m-2 5h2m-2 18h2m-1-33h2m-2 5h2m-2 4h2m-2 2h2m-2 1h2m-2 6h2m-2 2h2m-2 12h2m-1-27h2m-2 0h2m-2 10h2m-2 3h2m-2 5h2m-2 0h2m-2 10h2m-1-48h2m-2 34h2m-2 3h2m-2 2h2m-1-32h2m-2 19h2m-2 9h2m-2 3h2m-2 3h2m-1-33h2m-2 9h2m-2 9h2m-2 0h2m-2 1h2m-2 10h2m-2 3h2m-1-33h2m-2 1h2m-2 11h2m-2 3h2m-2 2h2m-2 2h2m-2 9h2m-1-28h2m-2 15h2m-2 0h2m-2 3h2m-2 0h2m-2 0h2m-2 8h2m-2 0h2m-1-43h2m-2 19h2m-2 12h2m-2 7h2m-2 4h2m-2 1h2m-2 4h2m-1-25h2m-2 7h2m-2 7h2m-2 22h2m-1-30h2m-2 6h2m-2 21h2m-1-39h2m-2 8h2m-2 9h2m-2 3h2m-2 1h2m-2 3h2m-2 0h2m-2 1h2m-2 0h2m-2 7h2m-2 4h2m-1-29h2m-2 2h2m-2 8h2m-2 4h2m-2 1h2m-2 0h2m-2 6h2m-2 8h2m-1-38h2m-2 30h2m-2 2h2m-2 5h2m-1-9h2m-2 8h2m-2 7h2m-1-61h2m-2 28h2m-2 14h2m-2 12h2m-1-38h2m-2 2h2m-2 15h2m-2 7h2m-2 7h2m-1-30h2m-2 33h2m-2 1h2m-1-27h2m-2 5h2m-2 0h2m-2 17h2m-1-31h2m-2 41h2m-2 3h2m-1-29h2m-2 17h2m-2 1h2m-1-28h2m-2 14h2m-2 11h2m-1-32h2m-2 12h2m-2 4h2m-2 3h2m-2 12h2m-2 10h2m-1-61h2m-2 39h2m-2 16h2m-2 14h2m-2 7h2m-1-39h2m-2 10h2m-1-21h2m-2 1h2m-2 5h2m-2 2h2m-2 1h2m-2 12h2m-2 8h2m-2 6h2m-1-37h2m-2 5h2m-2 4h2m-2 21h2m-2 5h2m-2 7h2m-2 4h2m-2 3h2m-2 2h2m-2 7h2m-1-62h2m-2 5h2m-2 31h2m-2 7h2m-1-42h2m-2 1h2m-2 1h2m-2 12h2m-2 22h2m-2 12h2m-2 1h2m-2 13h2m-1-67h2m-2 24h2m-2 3h2m-2 8h2m-2 20h2m-1-17h2m-2 13h2m-2 8h2m-2 2h2m-1-50h2m-2 4h2m-2 6h2m-2 2h2m-2 4h2m-2 1h2m-2 11h2m-2 0h2m-2 15h2m-1-22h2m-2 21h2m-1-55h2m-2 22h2m-1 7h2m-2 5h2m-2 1h2m-2 13h2m-2 12h2m-1-68h2m-2 9h2m-2 15h2m-2 5h2m-2 1h2m-2 2h2m-2 18h2m-2 1h2m-2 22h2m-1-29h2m-2 2h2m-2 2h2m-2 3h2m-2 4h2m-2 13h2m-2 2h2m-2 1h2m-1-59h2m-2 9h2m-2 6h2m-2 35h2m-2 6h2m-1-47h2m-2 8h2m-2 1h2m-2 16h2m-2 59h2m-1-97h2m-2 10h2m-2 4h2m-2 2h2m-2 33h2m-1-41h2m-2 5h2m-2 10h2m-2 15h2m-2 6h2m-2 4h2m-1-50h2m-2 6h2m-2 2h2m-2 10h2m-2 23h2m-2 2h2m-2 2h2m-2 4h2m-1 21h2m-1-42h2m-2 0h2m-2 6h2m-2 7h2m-2 9h2m-1-29h2m-2 23h2m-2 1h2m-2 1h2m-2 13h2m-1-16h2m-2 3h2m-2 3h2m-2 16h2m-1-26h2m-2 3h2m-1-55h2m-2 45h2m-2 0h2m-2 4h2m-2 0h2m-2 2h2m-2 23h2m-1-64h2m-2 18h2m-2 3h2m-2 3h2m-2 4h2m-2 4h2m-2 5h2m-2 12h2m-2 17h2m-2 8h2m-1-54h2m-2 9h2m-2 25h2m-2 4h2m-2 6h2m-2 14h2m-1-58h2m-2 7h2m-2 3h2m-2 10h2m-2 5h2m-2 1h2m-2 5h2m-2 10h2m-2 7h2m-1-68h2m-2 20h2m-2 8h2m-2 9h2m-2 8h2m-2 19h2m-1-45h2m-2 25h2m-2 8h2m-2 16h2m-2 1h2m-1-52h2m-2 11h2m-2 4h2m-2 15h2m-2 0h2m-2 19h2m-2 7h2m-1-39h2m-2 4h2m-2 13h2m-2 0h2m-2 19h2m-1-52h2m-2 16h2m-2 13h2m-2 7h2m-2 30h2m-1-58h2m-2 27h2m-1 1h2m-2 12h2m-1-52h2m-2 14h2m-2 0h2m-2 9h2m-2 14h2m-2 6h2m-2 1h2m-1-39h2m-2 10h2m-2 6h2m-2 2h2m-2 2h2m-2 4h2m-2 2h2m-2 28h2m-1-60h2m-2 20h2m-2 7h2m-2 8h2m-2 8h2m-1-31h2m-2 5h2m-2 7h2m-2 26h2m-1-42h2m-2 13h2m-2 1h2m-2 17h2m-2 10h2m-2 3h2m-2 20h2m-1-76h2m-2 22h2m-2 9h2m-2 15h2m-2 6h2m-1-32h2m-1 8h2m-2 6h2m-2 32h2m-1-41h2m-2 5h2m-2 13h2m-2 2h2m-2 3h2m-1-30h2m-2 7h2m-2 16h2m-2 8h2m-2 8h2m-1-50h2m-2 4h2m-2 10h2m-2 8h2m-2 7h2m-2 9h2m-2 8h2m-2 7h2m-1-54h2m-2 15h2m-2 3h2m-2 4h2m-2 2h2m-2 9h2m-2 32h2m-1-63h2m-2 23h2m-2 13h2m-2 4h2m-2 1h2m-2 19h2m-1-50h2m-2 8h2m-2 1h2m-2 2h2m-2 6h2m-2 7h2m-2 2h2m-2 3h2m-1-36h2m-2 12h2m-2 3h2m-2 3h2m-2 3h2m-2 25h2m-1-39h2m-2 3h2m-2 13h2m-2 2h2m-2 14h2m-1-41h2m-2 15h2m-2 4h2m-2 2h2m-2 0h2m-1-8h2m-1-8h2m-2 1h2m-2 6h2m-2 4h2m-2 4h2m-2 8h2m-2 7h2m-2 25h2m-1-47h2m-2 9h2m-2 9h2m-2 8h2m-1-39h2m-2 10h2m-2 1h2m-2 2h2m-1 0h2m-2 5h2m-2 6h2m-2 5h2m-1-13h2m-2 22h2m-2 2h2m-2 3h2m-1-37h2m-2 7h2m-2 4h2m-2 1h2m-2 2h2m-2 6h2m-2 24h2m-1-41h2m-2 19h2m-2 1h2m-2 5h2m-2 2h2m-1-25h2m-2 2h2m-2 16h2m-2 4h2m-2 19h2m-1-42h2m-2 27h2m-2 5h2m-1-33h2m-2 6h2m-2 13h2m-1-17h2m-2 7h2m-2 6h2m-2 5h2m-2 15h2m-2 13h2m-1-51h2m-2 2h2m-2 7h2m-2 3h2m-2 0h2m-2 4h2m-2 9h2m-2 5h2m-2 1h2m-2 8h2m-2 2h2m-1-42h2m-2 21h2m-2 28h2m-1-43h2m-2 1h2m-2 6h2m-2 8h2m-2 13h2m-2 2h2m-2 2h2m-2 3h2m-2 14h2m-1-40h2m-2 5h2m-1-9h2m-2 3h2m-2 3h2m-2 4h2m-2 13h2m-2 10h2m-2 21h2m-1-78h2m-2 21h2m-2 15h2m-2 2h2m-2 4h2m-2 2h2m-2 4h2m-2 12h2m-2 3h2m-1-46h2m-2 2h2m-2 6h2m-2 16h2m-2 9h2m-2 5h2m-2 4h2m-2 2h2m-1-32h2m-2 17h2m-2 9h2m-1-45h2m-2 5h2m-2 0h2m-2 1h2m-2 5h2m-2 2h2m-2 6h2m-2 7h2m-2 1h2m-2 2h2m-2 1h2m-2 2h2m-2 1h2m-1-30h2m-2 17h2m-2 3h2m-2 4h2m-2 7h2m-1-21h2m-2 0h2m-2 3h2m-2 1h2m-2 1h2m-2 0h2m-2 32h2m-1-45h2m-2 13h2m-2 0h2m-2 7h2m-2 4h2m-2 1h2m-2 3h2m-1-24h2m-2 10h2m-2 19h2m-1-35h2m-2 10h2m-2 21h2m-1-23h2m-2 3h2m-2 10h2m-2 2h2m-2 3h2m-2 5h2m-2 6h2m-2 1h2m-2 12h2m-1-42h2m-2 38h2m-1-44h2m-2 6h2m-2 1h2m-2 3h2m-2 11h2m-2 8h2m-1-32h2m-2 9h2m-2 4h2m-2 1h2m-2 1h2m-2 1h2m-2 14h2m-2 1h2m-2 14h2m-2 17h2m-1-55h2m-2 3h2m-2 8h2m-2 0h2m-2 5h2m-2 7h2m-1-20h2m-2 2h2m-2 2h2m-2 10h2m-2 2h2m-2 6h2m-1-24h2m-2 2h2m-2 4h2m-2 28h2m-1-45h2m-2 6h2m-2 10h2m-2 2h2m-2 12h2m-2 1h2m-2 0h2m-2 5h2m-2 2h2m-1-39h2m-2 7h2m-2 7h2m-2 4h2m-2 3h2m-2 5h2m-2 3h2m-1-32h2m-2 9h2m-2 0h2m-2 22h2m-2 5h2m-2 0h2m-2 3h2m-1-31h2m-2 14h2m-2 13h2m-1-27h2m-2 5h2m-2 6h2m-2 7h2m-1-10h2m-2 8h2m-2 6h2m-2 11h2m-2 11h2m-2 5h2m-1-43h2m-2 3h2m-2 14h2m-1-10h2m-2 5h2m-2 14h2m-2 19h2m-1-44h2m-2 3h2m-2 2h2m-2 16h2m-1-19h2m-2 3h2m-2 8h2m-2 0h2m-2 4h2m-2 0h2m-2 6h2m-2 0h2m-2 12h2m-1-9h2m-2 5h2m-2 1h2m-1-38h2m-2 3h2m-2 18h2m-2 32h2m-1-60h2m-2 18h2m-2 5h2m-1-21h2m-2 19h2m-2 5h2m-2 1h2m-2 40h2m-1-57h2m-2 5h2m-2 5h2m-2 1h2m-2 2h2m-2 19h2m-1-30h2m-2 0h2m-1-6h2m-2 18h2m-2 5h2m-2 6h2m-2 4h2m-2 10h2m-2 6h2m-1-43h2m-2 2h2m-2 13h2m-1-4h2m-2 8h2m-2 4h2m-2 13h2m-1-32h2m-2 40h2m-1-43h2m-2 0h2m-2 7h2m-2 5h2m-2 6h2m-2 5h2m-2 7h2m-1-29h2m-2 2h2m-2 1h2m-2 26h2m-1-35h2m-2 7h2m-2 2h2m-2 24h2m-1-38h2m-2 5h2m-2 6h2m-2 1h2m-2 27h2m-2 7h2m-1-32h2m-2 2h2m-2 14h2m-2 10h2m-2 13h2m-1-56h2m-2 23h2m-2 5h2m-2 0h2m-2 7h2m-2 1h2m-2 8h2m-2 0h2m-1-29h2m-2 6h2m-2 1h2m-2 22h2m-1-32h2m-2 8h2m-2 7h2m-2 19h2m-1-37h2m-2 9h2m-2 1h2m-2 1h2m-2 0h2m-2 3h2m-2 9h2m-2 25h2m-1-55h2m-2 7h2m-2 5h2m-2 4h2m-2 10h2m-2 1h2m-2 14h2m-1-33h2m-2 8h2m-2 2h2m-2 0h2m-2 5h2m-2 12h2m-1-30h2m-2 4h2m-2 10h2m-2 4h2m-2 2h2m-2 4h2m-2 2h2m-2 13h2m-1-44h2m-2 15h2m-2 9h2m-2 8h2m-1-22h2m-2 7h2m-2 6h2m-1-19h2m-2 4h2m-2 4h2m-2 11h2m-2 19h2m-1-40h2m-2 9h2m-2 9h2m-2 6h2m-2 3h2m-2 4h2m-2 19h2m-1-50h2m-2 15h2m-2 17h2m-2 1h2m-1-14h2m-2 6h2m-2 5h2m-2 1h2m-1-28h2m-2 4h2m-2 3h2m-2 2h2m-2 2h2m-2 4h2m-2 6h2m-2 4h2m-2 3h2m-2 2h2m-2 2h2m-2 0h2m-2 18h2m-1-44h2m-2 1h2m-2 5h2m-2 0h2m-2 0h2m-2 14h2m-2 3h2m-2 5h2m-2 9h2m-1-45h2m-2 6h2m-2 4h2m-2 1h2m-2 5h2m-2 18h2m-1 23h2m-2 5h2m-2 6h2m-1-62h2m-2 22h2m-1-13h2m-2 3h2m-2 20h2m-2 2h2m-2 3h2m-1-17h2m-2 26h2m-1-44h2m-2 4h2m-1-7h2m-2 7h2m-2 16h2m-1-22h2m-2 7h2m-2 9h2m-2 5h2m-1-30h2m-2 7h2m-2 7h2m-2 2h2m-2 7h2m-2 2h2m-2 14h2m-1-24h2m-2 34h2m-1-46h2m-2 4h2m-2 12h2m-2 6h2m-2 3h2m-2 16h2m-1-45h2m-2 3h2m-2 5h2m-2 13h2m-2 0h2m-2 0h2m-2 29h2m-1-50h2m-2 17h2m-2 2h2m-2 3h2m-2 7h2m-2 27h2m-2 1h2m-1-50h2m-2 3h2m-2 3h2m-2 3h2m-2 2h2m-2 9h2m-2 25h2m-2 21h2m-1-58h2m-2 2h2m-2 1h2m-2 3h2m-2 10h2m-2 14h2m-2 4h2m-1-40h2m-2 15h2m-2 23h2m-2 28h2m-1-60h2m-2 12h2m-2 40h2m-1-58h2m-2 9h2m-2 3h2m-2 0h2m-2 11h2m-1-20h2m-2 10h2m-2 10h2m-2 2h2m-2 4h2m-2 0h2m-2 4h2m-1-23h2m-2 0h2m-2 2h2m-2 8h2m-2 26h2m-1-45h2m-2 1h2m-2 7h2m-2 1h2m-2 17h2m-2 6h2m-2 17h2m-1-52h2m-2 0h2m-2 4h2m-2 1h2m-2 4h2m-2 5h2m-2 34h2m-1-48h2m-2 3h2m-2 3h2m-2 9h2m-2 7h2m-2 4h2m-2 6h2m-1-33h2m-2 10h2m-2 0h2m-2 0h2m-2 1h2m-2 2h2m-2 2h2m-2 1h2m-2 9h2m-2 7h2m-2 2h2m-2 1h2m-1-29h2m-2 0h2m-2 3h2m-2 5h2m-2 0h2m-2 1h2m-2 7h2m-1-9h2m-2 3h2m-2 2h2m-2 3h2m-2 28h2m-1-47h2m-2 0h2m-2 14h2m-2 2h2m-2 10h2m-2 3h2m-2 2h2m-2 11h2m-1-47h2m-2 2h2m-2 3h2m-2 2h2m-1-5h2m-2 7h2m-2 5h2m-2 4h2m-2 3h2m-2 0h2m-2 36h2m-1-56h2m-2 10h2m-2 1h2m-2 3h2m-2 1h2m-2 3h2m-2 14h2m-2 1h2m-2 1h2m-2 0h2m-2 11h2m-2 2h2m-1-31h2m-2 23h2m-1-31h2m-2 3h2m-2 1h2m-2 2h2m-2 26h2m-1-23h2m-2 15h2m-2 9h2m-2 4h2m-1-17h2m-2 4h2m-2 14h2m-2 15h2m-2 10h2m-1-51h2m-1-10h2m-2 3h2m-2 19h2m-2 7h2m-1-35h2m-2 1h2m-2 39h2m-2 10h2m-1-51h2m-2 7h2m-2 15h2m-2 9h2m-1-22h2m-2 22h2m-2 17h2m-1-55h2m-2 25h2m-2 19h2m-2 4h2m-1-31h2m-2 25h2m-2 4h2m-1-25h2m-2 0h2m-2 7h2m-2 8h2m-2 20h2m-1-47h2m-2 7h2m-2 3h2m-2 1h2m-2 2h2m-2 0h2m-2 12h2m-2 5h2m-1-31h2m-2 5h2m-2 6h2m-2 56h2m-1-72h2m-2 13h2m-2 42h2m-1-46h2m-2 16h2m-2 2h2m-2 2h2m-2 0h2m-1-4h2m-2 19h2m-1-29h2m-2 2h2m-2 4h2m-1-8h2m-1-1h2m-2 2h2m-2 0h2m-2 9h2m-2 1h2m-2 11h2m-1-19h2m-2 8h2m-2 6h2m-2 1h2m-2 12h2m-1-33h2m-2 6h2m-2 2h2m-2 9h2m-2 9h2m-1-31h2m-2 11h2m-2 2h2m-2 10h2m-2 1h2m-2 0h2m-2 2h2m-2 1h2m-2 2h2m-2 6h2m-1-22h2m-2 1h2m-2 0h2m-2 31h2m-1-40h2m-2 1h2m-2 2h2m-2 1h2m-2 10h2m-1-13h2m-2 5h2m-1-6h2m-2 7h2m-2 1h2m-2 5h2m-2 1h2m-2 7h2m-2 4h2m-2 25h2m-1-56h2m-2 15h2m-2 6h2m-2 13h2m-2 10h2m-1-44h2m-2 4h2m-2 8h2m-2 10h2m-2 4h2m-2 7h2m-1-31h2m-2 16h2m-2 11h2m-1-15h2m-2 1h2m-2 8h2m-2 3h2m-2 0h2m-2 4h2m-1-19h2m-2 2h2m-2 14h2m-2 26h2m-1-58h2m-2 15h2m-2 4h2m-2 1h2m-2 0h2m-2 9h2m-2 6h2m-1-13h2m-1-4h2m-2 15h2m-2 18h2m-1-49h2m-2 5h2m-2 7h2m-2 6h2m-2 26h2m-2 5h2m-1-45h2m-2 16h2m-2 1h2m-2 0h2m-2 1h2m-2 2h2m-2 0h2m-2 4h2m-2 1h2m-2 0h2m-2 4h2m-2 16h2m-2 9h2m-2 3h2m-1-62h2m-2 13h2m-2 0h2m-2 2h2m-2 3h2m-2 14h2m-2 5h2m-2 2h2m-2 11h2m-1-32h2m-2 29h2m-1-45h2m-2 8h2m-2 1h2m-2 6h2m-2 2h2m-2 16h2m-2 2h2m-1-22h2m-2 2h2m-2 0h2m-2 17h2m-1-30h2m-2 4h2m-2 3h2m-2 3h2m-2 3h2m-2 10h2m-2 3h2m-2 7h2m-2 4h2m-1-38h2m-2 5h2m-2 11h2m-2 3h2m-2 12h2m-2 3h2m-2 4h2m-1-39h2m-2 16h2m-2 6h2m-2 4h2m-2 3h2m-2 3h2m-1-19h2m-2 3h2m-2 2h2m-2 1h2m-1-1h2m-2 7h2m-2 3h2m-2 9h2m-1-33h2m-2 11h2m-2 41h2m-1-37h2m-2 29h2m-1-53h2m-2 10h2m-2 4h2m-2 5h2m-2 4h2m-2 6h2m-2 6h2m-2 2h2m-2 3h2m-2 7h2m-2 5h2m-1-44h2m-2 14h2m-2 12h2m-2 11h2m-1-29h2m-2 2h2m-2 3h2m-2 4h2m-2 1h2m-2 2h2m-2 30h2m-1-43h2m-2 1h2m-2 16h2m-1-11h2m-2 1h2m-1-10h2m-2 0h2m-2 2h2m-2 6h2m-2 2h2m-1 5h2m-2 9h2m-2 20h2m-1-42h2m-2 6h2m-1-6h2m-2 13h2m-2 10h2m-1-29h2m-2 8h2m-2 3h2m-2 1h2m-2 25h2m-2 6h2m-1-45h2m-2 5h2m-2 16h2m-1-12h2m-2 3h2m-2 3h2m-2 5h2m-2 3h2m-2 1h2m-2 3h2m-2 1h2m-2 1h2m-2 10h2m-1-50h2m-2 16h2m-2 6h2m-2 0h2m-2 4h2m-2 13h2m-2 4h2m-2 23h2m-2 1h2m-1-31h2m-2 24h2m-2 1h2m-1-51h2m-2 4h2m-2 15h2m-2 5h2m-2 3h2m-1-16h2m-2 0h2m-2 2h2m-2 0h2m-2 17h2m-2 16h2m-1-35h2m-2 2h2m-2 4h2m-2 2h2m-2 10h2m-2 6h2m-2 18h2m-1-32h2m-2 4h2m-2 4h2m-2 2h2m-1-18h2m-1-13h2m-2 16h2m-2 10h2m-2 5h2m-1-21h2m-2 3h2m-2 13h2m-1-24h2m-2 5h2m-2 7h2m-2 0h2m-2 12h2m-1-23h2m-2 4h2m-2 1h2m-2 12h2m-2 1h2m-2 22h2m-1-36h2m-2 5h2m-2 10h2m-2 13h2m-2 18h2m-1-60h2m-2 13h2m-2 4h2m-2 1h2m-2 0h2m-2 3h2m-2 6h2m-2 3h2m-2 4h2m-2 22h2m-1-49h2m-2 7h2m-2 4h2m-2 2h2m-2 2h2m-2 7h2m-2 5h2m-2 9h2m-2 11h2m-1-36h2m-2 11h2m-2 8h2m-1-15h2m-2 2h2m-2 4h2m-2 2h2m-2 17h2m-1-12h2m-1-21h2m-2 17h2m-2 7h2m-1-26h2m-2 2h2m-2 1h2m-2 6h2m-2 2h2m-2 6h2m-2 0h2m-1-12h2m-2 1h2m-2 2h2m-2 2h2m-2 2h2m-2 12h2m-2 15h2m-1-39h2m-2 2h2m-2 5h2m-2 2h2m-2 9h2m-2 2h2m-2 5h2m-2 10h2m-2 8h2m-1-46h2m-2 5h2m-2 3h2m-2 4h2m-2 16h2m-1-29h2m-2 7h2m-2 12h2m-2 2h2m-2 12h2m-1-28h2m-2 8h2m-2 45h2m-1-44h2m-2 0h2m-1-17h2m-2 7h2m-2 2h2m-2 4h2m-2 4h2m-2 6h2m-2 34h2m-1-52h2m-2 4h2m-2 10h2m-2 16h2m-2 2h2m-1-24h2m-2 13h2m-2 2h2m-1-14h2m-2 4h2m-2 5h2m-2 6h2m-2 8h2m-2 1h2m-1-26h2m-2 2h2m-2 3h2m-2 9h2m-2 1h2m-2 5h2m-1-27h2m-2 2h2m-2 2h2m-2 4h2m-2 1h2m-2 4h2m-1-5h2m-2 3h2m-2 0h2m-2 10h2m-1-18h2m-2 2h2m-2 9h2m-2 8h2m-1-9h2m-2 20h2m-1-31h2m-2 10h2m-2 5h2m-2 0h2m-2 15h2m-1-42h2m-2 20h2m-2 4h2m-2 1h2m-2 5h2m-2 11h2m-1-32h2m-2 6h2m-2 3h2m-2 1h2m-2 4h2m-2 4h2m-2 1h2m-2 11h2m-1-29h2m-2 4h2m-2 0h2m-2 7h2m-2 8h2m-2 1h2m-2 11h2m-2 9h2m-1-41h2m-2 21h2m-2 14h2m-2 7h2m-1-41h2m-2 3h2m-2 10h2m-2 1h2m-2 9h2m-1-18h2m-2 3h2m-1-6h2m-2 8h2m-2 9h2m-2 9h2m-1-25h2m-2 6h2m-2 0h2m-2 1h2m-2 4h2m-1-3h2m-2 1h2m-2 15h2m-2 9h2m0-36h2m-2 10h2m-2 5h2m-2 6h2m-2 5h2m-2 5h2m-2 0h2m-1-29h2m-2 4h2m-2 7h2m-2 0h2m-2 0h2m-2 23h2m-2 9h2m-1-39h2m-2 3h2m-2 2h2m-2 1h2m-2 0h2m-2 9h2m-2 1h2m-2 1h2m-2 6h2m-2 2h2m-2 0h2m-2 18h2m-1-46h2m-2 1h2m-2 13h2m-2 8h2m-1-28h2m-2 15h2m-2 12h2m-1-21h2m-2 9h2m-2 5h2m-2 6h2m-1-30h2m-2 1h2m-2 4h2m-2 8h2m-2 29h2m-1-37h2m-2 3h2m-2 17h2m-2 0h2m-2 7h2m-2 6h2m-2 11h2m-1-44h2m-2 17h2m-2 11h2m-2 1h2m-2 3h2m-2 11h2m-2 29h2m-1-58h2m-2 12h2m-1-29h2m-2 14h2m-2 13h2m-2 3h2m-1-22h2m-2 2h2m-2 2h2m-2 2h2m-2 2h2m-2 6h2m-2 10h2m-1-22h2m-2 3h2m-2 2h2m-2 1h2m-2 2h2m-2 3h2m-1-6h2m-2 1h2m-2 2h2m-2 9h2m-2 1h2m-2 9h2m-2 3h2m-1-22h2m-1-10h2m-2 2h2m-2 2h2m-2 11h2m-2 4h2m-2 7h2m-2 7h2m-1-31h2m-2 16h2m-2 13h2m-2 3h2m-1-28h2m-2 0h2m-2 8h2m-1-13h2m-2 2h2m-2 5h2m-2 2h2m-2 0h2m-2 7h2m-2 4h2m-2 5h2m-2 2h2m-1-28h2m-2 0h2m-2 10h2m-2 5h2m-2 7h2m-2 12h2m-2 1h2m-1-32h2m-2 41h2m-1-43h2m-2 10h2m-2 0h2m-2 0h2m-2 10h2m-1-16h2m-2 21h2m-1-28h2m-1 7h2m-2 1h2m-2 11h2m-2 2h2m-2 2h2m-2 14h2m-2 0h2m-2 6h2m-1-30h2m-2 7h2m-1-24h2m-2 1h2m-2 15h2m-2 1h2m-2 5h2m-2 0h2m-2 3h2m-2 1h2m-2 10h2m-2 3h2m-2 3h2m-1-39h2m-2 6h2m-2 7h2m-2 1h2m-2 0h2m-2 11h2m-2 5h2m-2 3h2m-2 11h2m-1-33h2m-2 8h2m-2 1h2m-2 3h2m-2 10h2m-2 2h2m-2 1h2m-1-40h2m-2 5h2m-2 3h2m-2 8h2m-2 0h2m-2 9h2m-2 2h2m-2 15h2m-1-20h2m-2 2h2m-2 6h2m-2 7h2m-1-32h2m-2 3h2m-2 3h2m-2 4h2m-1 3h2m-2 4h2m-1-27h2m-2 8h2m-2 4h2m-2 16h2m-2 6h2m-1-26h2m-2 7h2m-2 7h2m-2 1h2m-2 3h2m-2 7h2m-1-28h2m-2 5h2m-2 2h2m-2 2h2m-2 0h2m-2 1h2m-2 1h2m-2 4h2m-2 2h2m-2 1h2m-2 3h2m-2 2h2m-2 6h2m-2 2h2m-2 16h2m-1-35h2m-2 6h2m-2 12h2m-2 22h2m-1-46h2m-2 9h2m-2 6h2m-1-4h2m-2 1h2m-1-11h2m-2 1h2m-2 13h2m-2 4h2m-2 16h2m0-40h2m-2 15h2m-2 2h2m-2 8h2m-1-14h2m-2 3h2m-2 0h2m-2 22h2m-2 3h2m-1-29h2m-2 3h2m-2 4h2m-2 2h2m-2 7h2m-2 5h2m-1-18h2m-2 4h2m-2 0h2m-2 0h2m-2 9h2m-2 4h2m-2 18h2m-1-50h2m-2 4h2m-2 6h2m-2 2h2m-2 0h2m-2 3h2m-2 1h2m-2 8h2m-2 7h2m-1-21h2m-2 1h2m-2 4h2m-2 4h2m-2 0h2m-2 2h2m-2 1h2m-2 3h2m-2 1h2m-2 1h2m-2 13h2m-2 12h2m-1-37h2m-1-20h2m-2 19h2m-2 1h2m-2 2h2m-2 18h2m-2 2h2m-2 1h2m-2 1h2m-1-37h2m-2 12h2m-2 3h2m-2 1h2m-2 15h2m-1-20h2m-2 4h2m-2 5h2m-2 25h2m-1-48h2m-2 1h2m-2 15h2m-2 14h2m-2 5h2m-1-21h2m-2 5h2m-2 0h2m-2 1h2m-2 0h2m-2 3h2m-2 1h2m-2 9h2m-2 10h2m-1-35h2m-2 5h2m-2 16h2m-2 0h2m-2 1h2m-2 1h2m-2 7h2m-1-38h2m-2 11h2m-2 8h2m-2 5h2m-2 5h2m-1-30h2m-2 3h2m-2 23h2m-2 9h2m-2 5h2m-1-27h2m-2 3h2m-2 14h2m-1-26h2m-2 9h2m-2 5h2m-2 14h2m-2 2h2m-2 8h2m-1-32h2m-2 6h2m-2 2h2m-2 3h2m-2 6h2m-2 3h2m-2 2h2m-2 11h2m-1-26h2m-2 3h2m-2 6h2m-2 2h2m-2 2h2m-2 16h2m-1-38h2m-2 2h2m-2 5h2m-2 3h2m-2 11h2m-2 5h2m-1-44h2m-2 21h2m-2 9h2m-2 1h2m-2 0h2m-2 3h2m-2 24h2m-1-43h2m-2 19h2m-2 2h2m-2 3h2m-2 7h2m-2 10h2m-1-32h2m-2 25h2m-2 2h2m-2 2h2m-2 6h2m-1-48h2m-2 13h2m-2 2h2m-2 1h2m-2 9h2m-2 21h2m-1-37h2m-2 8h2m-2 42h2m-1-46h2m-2 8h2m-2 3h2m-2 9h2m-2 5h2m-1-36h2m-2 4h2m-2 1h2m-2 12h2m-2 0h2m-2 9h2m-1-8h2m-2 0h2m-2 1h2m-2 3h2m-2 10h2m-1-30h2m-2 25h2m-2 5h2m-1-21h2m-2 2h2m-2 1h2m-2 3h2m-2 2h2m-1-17h2m-2 2h2m-2 3h2m-2 6h2m-2 0h2m-2 13h2m-2 1h2m-2 2h2m-2 1h2m-2 10h2m-1-36h2m-2 2h2m-2 16h2m-2 1h2m-2 5h2m-1-16h2m-2 10h2m-2 9h2m-2 2h2m-1-20h2m-2 3h2m-2 6h2m-2 2h2m-2 15h2m-1-36h2m-2 12h2m-2 0h2m-2 4h2m-2 2h2m-2 6h2m-2 1h2m-1-16h2m-2 1h2m-2 3h2m-2 1h2m-2 2h2m-2 6h2m-1-7h2m-2 3h2m-2 0h2m-2 13h2m-2 9h2m-1-29h2m-2 1h2m-2 6h2m-2 5h2m-2 1h2m-2 6h2m-1-30h2m-2 11h2m-2 5h2m-1-17h2m-2 8h2m-2 1h2m-2 2h2m-2 2h2m-2 15h2m-1-23h2m-2 3h2m-2 5h2m-2 1h2m-2 3h2m-1-5h2m-2 20h2m-1-29h2m-2 9h2m-1 0h2m-2 2h2m-2 7h2m-2 4h2m-2 3h2m-2 9h2m-1-27h2m-2 32h2m-1-37h2m-2 2h2m-2 4h2m-2 10h2m-2 2h2m-2 4h2m-2 2h2m-2 7h2m-1-27h2m-1-7h2m-2 4h2m-2 1h2m-2 11h2m-2 14h2m-2 1h2m-2 8h2m-2 5h2m-1-15h2m-1-35h2m-2 4h2m-2 5h2m-2 14h2m-2 22h2m-1-38h2m-2 8h2m-2 0h2m-2 2h2m-2 2h2m-2 4h2m-2 1h2m-1-14h2m-2 3h2m-2 5h2m-2 13h2m-2 1h2m-2 4h2m-2 10h2m-1-37h2m-2 2h2m-2 2h2m-2 2h2m-2 7h2m-2 1h2m-2 12h2m-2 17h2m-1-41h2m-2 7h2m-2 10h2m-2 17h2m-1-37h2m-2 10h2m-2 1h2m-2 5h2m-2 1h2m-2 16h2m-2 6h2m-2 8h2m-1-45h2m-2 1h2m-2 5h2m-2 1h2m-2 1h2m-2 0h2m-2 12h2m-1-17h2m-2 7h2m-2 0h2m-2 3h2m-2 2h2m-2 9h2m-2 9h2m-2 7h2m-1-39h2m-2 7h2m-2 8h2m-2 12h2m-2 5h2m-1-31h2m-2 7h2m-2 1h2m-2 0h2m-2 15h2m-2 1h2m-1-31h2m-2 3h2m-2 2h2m-2 3h2m-2 5h2m-2 3h2m-2 4h2m-2 1h2m-2 1h2m-2 5h2m-1-26h2m-2 1h2m-2 12h2m-2 1h2m-2 4h2m-2 5h2m-2 5h2m-2 10h2m-1-35h2m-2 3h2m-2 3h2m-2 10h2m-2 3h2m-2 5h2m-2 5h2m-2 7h2m-1-28h2m-2 0h2m-2 6h2m-2 3h2m-2 0h2m-2 5h2m-2 2h2m-1-15h2m-2 18h2m-1-21h2m-2 0h2m-2 0h2m-2 2h2m-2 1h2m-1-20h2m-2 23h2m-2 5h2m-2 17h2m-1-38h2m-2 8h2m-2 2h2m-2 14h2m-2 8h2m-2 6h2m-2 1h2m-2 0h2m-2 1h2m-1-28h2m-2 19h2m-2 0h2m-1-24h2m-2 4h2m-2 1h2m-2 1h2m-2 1h2m-2 8h2m-1-2h2m-2 2h2m-2 4h2m-2 2h2m-2 2h2m-1-20h2m-2 6h2m-2 45h2m-1-47h2m-2 2h2m-2 13h2m-2 23h2m-1-58h2m-2 10h2m-2 12h2m-2 5h2m-2 17h2m-1-30h2m-2 1h2m-2 2h2m-2 9h2m-2 13h2m-2 1h2m-1-27h2m-2 5h2m-2 2h2m-2 2h2m-2 12h2m-2 23h2m-1-40h2m-2 1h2m-2 2h2m-2 8h2m-2 0h2m-2 1h2m-2 21h2m-1-37h2m-2 4h2m-2 1h2m-2 3h2m-2 9h2m-2 8h2m-2 1h2m-1-23h2m-2 2h2m-2 2h2m-2 6h2m-2 1h2m-2 0h2m-2 19h2m-2 1h2m-1-32h2m-2 5h2m-2 16h2m-2 8h2m-1-29h2m-2 1h2m-2 3h2m-2 7h2m-2 2h2m-2 1h2m-1-20h2m-2 4h2m-2 12h2m-2 6h2m-1-12h2m-2 1h2m-2 1h2m-2 24h2m-1-42h2m-2 26h2m-2 26h2m-1-43h2m-2 7h2m-2 8h2m-2 2h2" stroke="#3a80c4" stroke-width="1.5" fill="none"/>
<path d="M181.5 3321V3601.5M1022 3111.3V3601.5M172.5 3321H181.5M175.5 3338.6H181.5M175.5 3356.2H181.5M175.5 3373.8H181.5M172.5 3391.4H181.5M175.5 3409H181.5M175.5 3426.6H181.5M175.5 3444.2H181.5M172.5 3461.8H181.5M175.5 3479.4H181.5M175.5 3497H181.5M175.5 3514.6H181.5M172.5 3532.2H181.5M175.5 3549.8H181.5M175.5 3567.4H181.5M175.5 3585H181.5M172.5 3602.6H181.5M1022 3461.8H1031M1022 3444.3H1028M1022 3426.8H1028M1022 3409.2H1028M1022 3391.7H1028M1022 3374.2H1031M1022 3356.7H1028M1022 3339.1H1028M1022 3321.6H1028M1022 3304.1H1028M1022 3286.6H1031M1022 3269H1028M1022 3251.5H1028M1022 3234H1028M1022 3216.5H1028M1022 3198.9H1031M1022 3181.4H1028M1022 3163.9H1028M1022 3146.4H1028M1022 3128.8H1028M1022 3111.3H1031" stroke="#000" stroke-width="1.8" fill="none"/>
<path d="M181.5 3461.8H1031" stroke="#000" stroke-width="2.2"/>
<path d="M282.5 3461.8v-5M383.5 3461.8v-5M484.5 3461.8v-5M585.5 3461.8v-8M686.5 3461.8v-5M787.5 3461.8v-5M888.5 3461.8v-5M989.5 3461.8v-8" stroke="#000" stroke-width="2" fill="none"/>
<path d="M182 3279.1C183.4 3290.6 187.3 3331.3 190.6 3347.8C193.9 3364.2 198.1 3375.7 201.6 3378C205 3380.3 207.9 3374 211.2 3361.5C214.5 3349 217.8 3322.6 221.5 3303.1C225.2 3283.7 230.1 3255.1 233.5 3244.8C236.9 3234.5 238.9 3242.2 242.1 3241.3C245.2 3240.5 249.2 3240.3 252.4 3239.6C255.5 3238.9 257.8 3236.5 261 3237.2C264.1 3238 267.6 3240.7 271.3 3244.1C275 3247.5 279.9 3257.1 283.3 3257.8C286.7 3258.5 288.7 3250.4 291.9 3248.2C295 3246 298.7 3248.8 302.2 3244.8C305.6 3240.8 309.3 3229.9 312.5 3224.2C315.6 3218.5 318.5 3210.4 321 3210.4C323.6 3210.4 325.6 3216.2 327.9 3224.2C330.2 3232.2 332.2 3245.4 334.8 3258.5C337.4 3271.7 340.8 3292.2 343.4 3303.1C345.9 3314.1 347.7 3325 350.2 3324.4C352.8 3323.8 355.7 3309.5 358.8 3299.7C362 3289.9 365.1 3272.8 369.1 3265.4C373.1 3257.9 378.3 3259.1 382.8 3255.1C387.4 3251.1 392.6 3247.1 396.6 3241.3C400.6 3235.6 403.7 3225.9 406.9 3220.7C410 3215.6 412.3 3209.9 415.5 3210.4C418.6 3211 422 3219.7 425.8 3224.2C429.5 3228.6 434 3237.2 437.8 3237.2C441.5 3237.2 444.9 3230.9 448.1 3224.2C451.2 3217.4 453.8 3203.5 456.6 3196.7C459.5 3190 462.7 3183.7 465.2 3183.7C467.8 3183.7 469.8 3190.5 472.1 3196.7C474.4 3202.9 476.7 3211 479 3220.7C481.2 3230.5 483 3238.5 485.8 3255.1C488.7 3271.7 493 3304.3 496.1 3320.3C499.3 3336.3 501.8 3345 504.7 3351.2C507.6 3357.4 510.1 3357.9 513.3 3357.4C516.4 3356.8 520.2 3352.8 523.6 3347.8C527 3342.7 530.5 3335.8 533.9 3327.2C537.3 3318.6 541 3302.6 544.2 3296.3C547.3 3290 549.6 3289.4 552.8 3289.4C555.9 3289.4 559.3 3292.3 563.1 3296.3C566.8 3300.3 570.8 3308.9 575.1 3313.4C579.4 3318 584.2 3320.9 588.8 3323.7C593.4 3326.6 598.7 3329.5 602.5 3330.6C606.4 3331.7 608.1 3333.5 612 3330.6C615.9 3327.7 620.9 3320.3 625.7 3313.4C630.6 3306.6 636.9 3300.8 641.2 3289.4C645.5 3278 648.1 3262.5 651.5 3244.8C654.9 3227 658.6 3201.9 661.8 3183C664.9 3164.1 667.8 3143.2 670.4 3131.5C672.9 3119.8 675 3112 677.2 3112.6C679.5 3113.2 681.8 3122.1 684.1 3134.9C686.4 3147.8 689 3171.5 691 3189.9C693 3208.2 694.4 3227.9 696.1 3244.8C697.8 3261.7 698.4 3284.8 701.3 3291.1C704.1 3297.4 708.4 3286.5 713.3 3282.5C718.1 3278.5 725.3 3271.6 730.4 3267.1C735.6 3262.6 739.6 3256.3 744.2 3255.8C748.8 3255.2 753.3 3258.3 757.9 3263.7C762.5 3269 767.4 3280.3 771.6 3287.7C775.9 3295.1 780.2 3306.3 783.7 3308.3C787.1 3310.3 788.5 3306.9 792.2 3299.7C796 3292.6 800.8 3270 806 3265.4C811.1 3260.8 818.6 3273.4 823.1 3272.2C827.7 3271.1 830 3263.9 833.4 3258.5C836.9 3253.1 840.6 3239.1 843.7 3239.6C846.9 3240.2 849.5 3251.4 852.3 3261.9C855.2 3272.5 858 3291.7 860.9 3303.1C863.8 3314.6 866.6 3327.7 869.5 3330.6C872.3 3333.5 874.9 3325.6 878.1 3320.3C881.2 3315 884.9 3299.8 888.4 3298.7C891.8 3297.5 895.2 3306.4 898.7 3313.4C902.1 3320.5 905.5 3332.3 909 3340.9C912.4 3349.5 915.8 3362.6 919.3 3364.9C922.7 3367.2 926.1 3360.9 929.6 3354.6C933 3348.3 937.1 3333.5 939.9 3327.2C942.6 3320.9 943.7 3317.4 946 3316.9C948.3 3316.3 950.6 3319.2 953.6 3323.7C956.6 3328.3 959.9 3341.4 963.9 3344.3C967.9 3347.3 973.3 3343 977.6 3341.6C981.9 3340.2 985.1 3334.6 989.6 3335.8C994.2 3336.9 999.9 3348.2 1005.1 3348.5C1010.2 3348.7 1018 3339.3 1020.5 3337.5" stroke="#f6a66a" stroke-width="2.6" fill="none" stroke-linejoin="round"/>
<path d="M182 3258.5C183.4 3268.8 187.5 3304.6 190.6 3320.3C193.7 3336 197.7 3348.3 200.9 3352.9C204 3357.5 206 3356.1 209.5 3347.8C212.9 3339.5 217.2 3324.9 221.5 3303.1C225.8 3281.4 231.2 3240.2 235.2 3217.3C239.2 3194.4 241.8 3179.3 245.5 3165.8C249.2 3152.4 253.5 3142.4 257.5 3136.6C261.5 3130.9 265.8 3132.9 269.6 3131.5C273.3 3130.1 276.7 3130.3 279.9 3128.1C283 3125.8 285.9 3120.2 288.4 3117.8C291 3115.3 292.7 3112.7 295.3 3113.3C297.9 3113.9 300.7 3116.4 303.9 3121.2C307 3125.9 310.2 3132.1 314.2 3141.8C318.2 3151.5 323.9 3164.1 327.9 3179.6C331.9 3195 335.1 3215.6 338.2 3234.5C341.4 3253.4 343.9 3286.5 346.8 3292.8C349.7 3299.1 352.2 3284.8 355.4 3272.2C358.5 3259.7 362.2 3235.6 365.7 3217.3C369.1 3199 373.4 3171.3 376 3162.4C378.5 3153.5 378.8 3160.1 381.1 3164.1C383.4 3168.1 386.6 3180.3 389.7 3186.4C392.9 3192.5 396.6 3198.7 400 3200.8C403.4 3203 406.9 3198.7 410.3 3199.5C413.7 3200.2 416.9 3203.4 420.6 3205.3C424.3 3207.2 429.2 3211.4 432.6 3211.1C436 3210.9 438.1 3205.8 441.2 3203.6C444.3 3201.4 448.1 3197.2 451.5 3197.7C454.9 3198.3 457.8 3202.6 461.8 3207C465.8 3211.4 471.5 3217.9 475.5 3224.2C479.5 3230.5 482.7 3233.3 485.8 3244.8C489 3256.2 491.5 3278 494.4 3292.8C497.3 3307.7 500.1 3324.8 503 3334C505.9 3343.3 508.7 3347.3 511.6 3348.5C514.4 3349.6 517 3343.4 520.2 3340.9C523.3 3338.4 525.9 3335.5 530.5 3333.3C535 3331.2 542.5 3328.3 547.6 3327.9C552.8 3327.4 556.8 3332.4 561.3 3330.6C565.9 3328.8 570.5 3321.4 575.1 3316.9C579.7 3312.3 583.7 3307.4 588.8 3303.1C594 3298.8 602.1 3293.2 606 3291.1C609.8 3289.1 608.1 3288.5 612 3290.8C615.9 3293.1 624.3 3304.5 629.2 3304.9C634 3305.2 636.9 3298.1 641.2 3292.8C645.5 3287.6 650.3 3274.4 654.9 3273.3C659.5 3272.1 664.7 3287.3 668.7 3286C672.7 3284.7 675.4 3273.7 679 3265.4C682.5 3257.1 686.5 3237.9 689.9 3236.2C693.4 3234.5 696.2 3247.4 699.6 3255.1C702.9 3262.8 706.7 3275.8 709.9 3282.5C713 3289.3 715.6 3295.6 718.4 3295.6C721.3 3295.6 724.2 3285.7 727 3282.5C729.9 3279.3 732.2 3274.6 735.6 3276.4C739 3278.1 743.3 3286.1 747.6 3292.8C751.9 3299.6 756.8 3310.1 761.3 3316.9C765.9 3323.6 770.5 3329.6 775.1 3333.3C779.7 3337.1 783.7 3340.8 788.8 3339.5C794 3338.2 800.3 3327.5 806 3325.5C811.7 3323.4 818 3329.2 823.1 3327.2C828.3 3325.2 833.2 3317 836.9 3313.4C840.6 3309.8 842.6 3304.4 845.5 3305.5C848.3 3306.7 850.9 3312.1 854 3320.3C857.2 3328.5 861.5 3347.5 864.3 3354.6C867.2 3361.8 867.5 3364.5 871.2 3363.2C874.9 3362 882.1 3347.4 886.6 3347.1C891.2 3346.8 894.4 3355.7 898.7 3361.5C903 3367.3 908.7 3378.4 912.4 3382.1C916.1 3385.8 917.5 3385.8 921 3383.8C924.4 3381.8 929.6 3373.2 933 3370.1C936.4 3366.9 938.4 3364.1 941.6 3364.9C944.7 3365.8 948.2 3370.8 951.9 3375.2C955.6 3379.7 960.2 3389.7 963.9 3391.7C967.6 3393.7 970.2 3389.1 974.2 3387.2C978.2 3385.4 982.8 3380.9 987.9 3380.4C993.1 3379.8 999.6 3382.8 1005.1 3383.8C1010.5 3384.8 1018 3386.1 1020.5 3386.6" stroke="#2e6fe0" stroke-width="2.6" fill="none" stroke-linejoin="round"/>
<path d="M182 3296.3C183.4 3303.7 187.2 3328.2 190.6 3340.9C194 3353.6 198.6 3371.3 202.6 3372.5C206.6 3373.6 210.9 3362.2 214.6 3347.8C218.3 3333.3 221.5 3307.7 224.9 3286C228.4 3264.2 232.1 3237.3 235.2 3217.3C238.4 3197.3 240.7 3181.3 243.8 3165.8C247 3150.4 251 3133.4 254.1 3124.6C257.3 3115.9 259.8 3114.4 262.7 3113.3C265.5 3112.2 268.4 3116 271.3 3117.8C274.1 3119.5 277 3124.5 279.9 3123.9C282.7 3123.4 285.9 3116.4 288.4 3114.3C291 3112.3 293 3111 295.3 3111.6C297.6 3112.2 299.6 3113.9 302.2 3117.8C304.7 3121.7 307.6 3127.8 310.7 3134.9C313.9 3142.1 317.9 3151.5 321 3160.7C324.2 3169.8 326.8 3177.6 329.6 3189.9C332.5 3202.2 335.6 3218.5 338.2 3234.5C340.8 3250.5 343.1 3273.7 345.1 3286C347.1 3298.3 348.2 3307.1 350.2 3308.3C352.2 3309.4 354.5 3306.9 357.1 3292.8C359.7 3278.8 363.1 3246.5 365.7 3224.2C368.2 3201.9 370.1 3174.3 372.5 3159C374.9 3143.6 377.8 3133.9 380.1 3132.2C382.4 3130.5 384.1 3139 386.3 3148.7C388.4 3158.3 390.3 3176.7 393.1 3189.9C396 3203 399.4 3218.5 403.4 3227.6C407.4 3236.8 412.9 3240.5 417.2 3244.8C421.5 3249.1 425.2 3254.5 429.2 3253.4C433.2 3252.2 436.9 3242.8 441.2 3237.9C445.5 3233 450.4 3225.9 454.9 3224.2C459.5 3222.5 464.9 3226.5 468.7 3227.6C472.4 3228.8 474.7 3227 477.2 3231C479.8 3235.1 481.5 3239.6 484.1 3251.6C486.7 3263.7 489.8 3286.5 492.7 3303.1C495.6 3319.7 498.4 3340.3 501.3 3351.2C504.1 3362.1 507.3 3366.6 509.9 3368.4C512.4 3370.1 513.9 3364.9 516.7 3361.5C519.6 3358.1 523 3350.3 527 3347.8C531 3345.2 535 3346 540.8 3346C546.5 3346 555.6 3349.8 561.3 3347.8C567.1 3345.8 570.8 3338 575.1 3334C579.4 3330 583.1 3324.9 587.1 3323.7C591.1 3322.6 594.7 3326.3 599.1 3327.2C603.6 3328 609 3327.7 613.7 3328.9C618.5 3330 622.9 3336 627.5 3334C632 3332 636.9 3323.6 641.2 3316.9C645.5 3310.1 649.8 3294.7 653.2 3293.5C656.6 3292.4 659.2 3305.3 661.8 3310C664.4 3314.8 665.8 3324.9 668.7 3322C671.5 3319.2 675.2 3304.1 679 3292.8C682.7 3281.6 687.5 3257.8 691 3254.4C694.4 3251 696.4 3262.4 699.6 3272.2C702.7 3282.1 706.7 3304.6 709.9 3313.4C713 3322.3 715.3 3324.9 718.4 3325.5C721.6 3326 725.3 3319.3 728.7 3316.9C732.2 3314.4 735.3 3310.1 739 3310.7C742.8 3311.3 747.3 3317 751 3320.3C754.8 3323.6 757.3 3327.5 761.3 3330.6C765.4 3333.7 770.5 3335.6 775.1 3339.2C779.7 3342.8 783.7 3351.1 788.8 3352.2C794 3353.4 800.8 3346.3 806 3346C811.1 3345.8 815.1 3351.4 819.7 3350.5C824.3 3349.7 829.4 3343.8 833.4 3340.9C837.4 3338 840.3 3333 843.7 3333C847.2 3333 850.6 3335.3 854 3340.9C857.5 3346.5 861.5 3361.2 864.3 3366.6C867.2 3372.1 867.8 3374.2 871.2 3373.5C874.6 3372.8 880.4 3362.2 884.9 3362.5C889.5 3362.8 894.7 3371.5 898.7 3375.2C902.7 3378.9 905.5 3382.8 909 3384.8C912.4 3386.8 915.8 3387.4 919.3 3387.2C922.7 3387.1 926.1 3384.8 929.6 3383.8C933 3382.8 936.4 3380.8 939.9 3381.1C943.3 3381.4 946.4 3383.5 950.2 3385.5C953.9 3387.6 958.2 3393.3 962.2 3393.4C966.2 3393.6 969.9 3389 974.2 3386.6C978.5 3384.1 983.3 3379.1 987.9 3378.7C992.5 3378.2 996.2 3381.6 1001.6 3383.8C1007.1 3386 1017.4 3390.4 1020.5 3391.7" stroke="#1ec31e" stroke-width="2.8" fill="none" stroke-linejoin="round"/>
<g font-family="Liberation Sans, sans-serif" font-weight="bold" font-size="22" fill="#000" text-anchor="end">
<text x="154" y="3329">0.1</text>
<text x="154" y="3399.4">0.05</text>
<text x="154" y="3469.8">0</text>
<text x="154" y="3539.7">0.05</text>
<text x="154" y="3609.5">0.1</text>
</g>
<g font-family="Liberation Sans, sans-serif" font-weight="bold" font-size="22" fill="#000">
<text x="1050.7" y="3462.3">0</text>
<text x="1050.7" y="3374.7">25</text>
<text x="1050.7" y="3287.1">50</text>
<text x="1050.7" y="3199.4">75</text>
<text x="1050.7" y="3111.8">100</text>
</g>
<text transform="translate(101 3451.2) rotate(-90)" font-family="Liberation Sans, sans-serif" font-weight="bold" font-size="26.8" text-anchor="middle">mC per 10kb</text>
<text transform="translate(1119.5 3356.4) rotate(-90)" font-family="Liberation Sans, sans-serif" font-weight="bold" font-size="26.8" text-anchor="middle">Normalized mC density per 100 kb</text>
<g font-family="Liberation Sans, sans-serif" font-weight="bold" font-size="26" fill="#2471b0"><text x="196.2" y="3336">Watson</text><text x="196.2" y="3615.5">Crick</text></g>
<g font-family="Liberation Serif, serif" font-weight="bold" font-size="31" text-anchor="middle"><text x="629.5" y="3646">20Mb</text><text x="1019.5" y="3646">40Mb</text></g>
<text x="599.5" y="3692" font-family="Liberation Sans, sans-serif" font-weight="bold" font-size="27" text-anchor="middle">C08</text>
<text x="1711" y="2988" font-family="Liberation Serif, serif" font-weight="bold" font-size="60" text-anchor="middle">S</text>
<g stroke-width="2.6"><path d="M1380 3091.3h69" stroke="#1ec31e"/><path d="M1590.8 3091.3h68.5" stroke="#2e6fe0"/><path d="M1821 3091.3h69" stroke="#f6a66a"/></g>
<g font-family="Liberation Sans, sans-serif" font-weight="bold" font-size="24.5" fill="#000"><text x="1457" y="3100.3">mCG/CG</text><text x="1668.6" y="3100.3">mCHG/CHG</text><text x="1899" y="3100.3">mCHH/CHH</text></g>
<path d="M1276 3436h2m-2 8h2m-2 15h2m-1 0h2m-2 6h2m-2 0h2m-2 2h2m-1-8h2m-2 0h2m-2 8h2m-2 4h2m-2 19h2m-1-37h2m-2 6h2m-2 2h2m-2 0h2m-2 7h2m-2 10h2m-1-25h2m-2 2h2m-1-23h2m-2 16h2m-2 2h2m-2 32h2m-1-26h2m-2 1h2m-2 5h2m-2 8h2m-2 2h2m-2 4h2m-1-36h2m-2 8h2m-2 11h2m-2 1h2m-2 1h2m-2 5h2m-2 1h2m-2 12h2m-2 5h2m-1-40h2m-2 3h2m-2 9h2m-2 3h2m-2 8h2m-2 6h2m-1-16h2m-2 2h2m-2 1h2m-2 4h2m-2 3h2m-1-15h2m-2 2h2m-2 5h2m-2 8h2m-2 4h2m-1-13h2m-2 3h2m-2 3h2m-2 5h2m-2 7h2m-1-24h2m-2 31h2m-2 2h2m-1-32h2m-2 8h2m-2 4h2m-2 5h2m-1-7h2m-1-29h2m-2 12h2m-2 9h2m-2 3h2m-2 10h2m-2 2h2m-2 1h2m-2 12h2m-1-28h2m-2 5h2m-2 10h2m-2 2h2m-1-31h2m-2 8h2m-2 1h2m-2 3h2m-2 3h2m-2 7h2m-2 2h2m-2 2h2m-2 15h2m-2 6h2m-1-35h2m-2 6h2m-2 5h2m-2 3h2m-2 4h2m-2 15h2m-1-29h2m-2 1h2m-2 1h2m-2 0h2m-2 4h2m-2 13h2m-2 7h2m-1-26h2m-2 11h2m-1-14h2m-2 10h2m-2 10h2m-2 3h2m-1-34h2m-2 7h2m-2 2h2m-2 8h2m-2 10h2m-2 0h2m-2 7h2m-2 11h2m-1-41h2m-2 5h2m-2 1h2m-2 11h2m-2 14h2m-2 12h2m-1-57h2m-2 6h2m-2 18h2m-2 0h2m-2 1h2m-2 2h2m-2 11h2m-2 8h2m-1-40h2m-2 10h2m-2 5h2m-2 14h2m-2 14h2m-2 9h2m-1-48h2m-2 6h2m-2 5h2m-2 1h2m-2 0h2m-2 9h2m-2 0h2m-1-24h2m-2 3h2m-2 2h2m-2 1h2m-2 10h2m-2 3h2m-2 0h2m-2 0h2m-2 1h2m-2 2h2m-2 6h2m-2 11h2m-1-58h2m-2 31h2m-2 13h2m-2 11h2m-2 12h2m-1-46h2m-2 2h2m-2 6h2m-2 1h2m-2 0h2m-2 3h2m-2 6h2m-2 14h2m-1-19h2m-2 6h2m-2 2h2m-2 12h2m-2 8h2m-1-24h2m-2 26h2m-1-25h2m-2 6h2m-2 8h2m-2 5h2m-1-43h2m-2 16h2m-2 13h2m-2 3h2m-2 9h2m-1-40h2m-2 14h2m-2 0h2m-2 6h2m-2 7h2m-2 9h2m-2 3h2m-1-37h2m-2 0h2m-2 20h2m-2 22h2m-2 1h2m-1-46h2m-2 31h2m-2 2h2m-1-45h2m-2 22h2m-2 3h2m-2 2h2m-2 6h2m-2 11h2m-2 4h2m-2 1h2m-1-33h2m-2 14h2m-2 0h2m-1-11h2m-2 2h2m-2 8h2m-2 27h2m-2 4h2m-1-43h2m-2 20h2m-2 5h2m-2 1h2m-2 5h2m-2 5h2m-2 14h2m-2 2h2m-1-39h2m-1-19h2m-2 19h2m-2 12h2m-2 5h2m-2 4h2m-1-40h2m-2 9h2m-2 2h2m-2 21h2m-2 12h2m-1-25h2m-2 2h2m-2 0h2m-2 4h2m-2 13h2m-1-17h2m-2 4h2m-2 0h2m-2 6h2m-2 11h2m-2 6h2m-1-45h2m-2 3h2m-1-7h2m-2 0h2m-2 11h2m-2 17h2m-2 2h2m-2 9h2m-1-32h2m-2 9h2m-2 10h2m-2 9h2m-2 3h2m-2 6h2m-2 6h2m-1-33h2m-2 5h2m-2 21h2m-1-29h2m-2 15h2m-2 12h2m-2 15h2m-1-33h2m-2 18h2m-2 11h2m-1-40h2m-2 7h2m-2 3h2m-2 8h2m-2 3h2m-2 1h2m-2 5h2m-2 13h2m-1-10h2m-2 7h2m-1-38h2m-1-5h2m-2 24h2m-2 1h2m-2 7h2m-2 1h2m-2 5h2m-1-56h2m-2 13h2m-2 4h2m-2 3h2m-2 5h2m-2 11h2m-2 5h2m-1-25h2m-2 17h2m-2 13h2m-1-5h2m-2 0h2m-2 5h2m-2 0h2m-2 19h2m-1-53h2m-2 4h2m-2 2h2m-2 8h2m-2 12h2m-2 5h2m-2 6h2m-2 0h2m-2 17h2m-1-68h2m-2 14h2m-2 11h2m-2 24h2m-2 19h2m-1-42h2m-2 15h2m-2 10h2m-2 15h2m-1-56h2m-2 5h2m-2 1h2m-2 6h2m-2 13h2m-2 15h2m-2 9h2m-2 2h2m-2 12h2m-1-74h2m-2 12h2m-2 2h2m-2 17h2m-2 10h2m-2 15h2m-2 3h2m-2 7h2m-1-48h2m-2 4h2m-2 12h2m-2 8h2m-2 0h2m-2 6h2m-2 9h2m-1-59h2m-2 17h2m-2 7h2m-2 1h2m-2 25h2m-2 0h2m-2 0h2m-1-43h2m-2 8h2m-2 6h2m-2 18h2m-2 10h2m-2 3h2m-1-34h2m-2 13h2m-2 23h2m-2 3h2m-2 1h2m-2 0h2m-2 10h2m-1-51h2m-2 9h2m-2 9h2m-2 3h2m-2 12h2m-2 17h2m-2 0h2m-1-54h2m-2 17h2m-2 17h2m-2 21h2m-1-46h2m-2 4h2m-2 7h2m-2 3h2m-2 20h2m-2 1h2m-1-63h2m-2 55h2m-2 2h2m-1-27h2m-2 4h2m-2 31h2m-1-41h2m-2 18h2m-1-23h2m-2 3h2m-2 12h2m-1-5h2m-2 40h2m-2 2h2m-2 2h2m-1-58h2m-2 18h2m-2 10h2m-2 9h2m-2 2h2m-2 4h2m-2 6h2m-1-51h2m-2 10h2m-2 15h2m-2 6h2m-2 19h2m-2 1h2m-1-38h2m-2 1h2m-2 8h2m-2 26h2m-2 5h2m-2 2h2m-2 5h2m-1-38h2m-2 12h2m-2 11h2m-1-27h2m-2 22h2m-1-49h2m-2 18h2m-2 1h2m-2 3h2m-2 24h2m-2 9h2m-1-33h2m-2 29h2m-2 9h2m-1-25h2m-2 5h2m-1-15h2m-2 2h2m-2 27h2m-2 19h2m-1-79h2m-2 17h2m-2 6h2m-2 5h2m-2 12h2m-2 18h2m-2 5h2m-2 2h2m-2 7h2m-2 4h2m-2 14h2m-1-81h2m-2 13h2m-2 20h2m-2 12h2m-2 13h2m-2 12h2m-1-55h2m-2 5h2m-2 3h2m-2 13h2m-2 5h2m-2 4h2m-2 6h2m-1-42h2m-2 9h2m-2 1h2m-2 27h2m-2 11h2m-2 21h2m-1-72h2m-2 5h2m-2 7h2m-2 21h2m-2 12h2m-1-26h2m-2 1h2m-2 20h2m-2 0h2m-2 0h2m-2 7h2m-1-44h2m-2 8h2m-2 10h2m-2 10h2m-2 8h2m-2 7h2m-2 1h2m-1 4h2m-2 8h2m-2 7h2m-1-52h2m-2 0h2m-2 5h2m-2 5h2m-2 3h2m-2 17h2m-2 5h2m-2 4h2m-2 3h2m-1-38h2m-2 21h2m-2 9h2m-1-53h2m-2 3h2m-2 4h2m-2 3h2m-2 4h2m-2 10h2m-2 6h2m-2 5h2m-2 0h2m-2 12h2m-2 2h2m-2 9h2m-2 5h2m-1-52h2m-2 0h2m-2 2h2m-2 12h2m-2 20h2m-2 2h2m-2 0h2m-2 3h2m-2 6h2m-2 3h2m-2 2h2m-1-56h2m-2 8h2m-2 14h2m-2 17h2m-2 0h2m-2 1h2m-1-37h2m-2 23h2m-2 24h2m-2 5h2m-1-47h2m-2 0h2m-2 5h2m-2 7h2m-2 6h2m-2 3h2m-2 0h2m-2 7h2m-2 4h2m-2 7h2m-1-31h2m-2 4h2m-2 21h2m-2 5h2m-1-48h2m-2 15h2m-2 6h2m-2 2h2m-2 13h2m-2 20h2m-1-46h2m-2 16h2m-1-18h2m-2 13h2m-2 25h2m-2 6h2m-1-57h2m-2 10h2m-2 12h2m-2 4h2m-2 18h2m-2 3h2m-2 0h2m-2 6h2m-2 5h2m-1-51h2m-2 10h2m-2 3h2m-2 15h2m-2 13h2m-2 3h2m-2 8h2m-2 6h2m-1-34h2m-2 18h2m-2 10h2m-2 4h2m-1-28h2m-2 1h2m-2 12h2m-2 2h2m-2 5h2m-2 21h2m-1-43h2m-2 23h2m-1-46h2m-2 39h2m-2 7h2m-2 18h2m-1-58h2m-2 1h2m-2 7h2m-2 2h2m-2 3h2m-2 11h2m-2 13h2m-2 1h2m-2 15h2m-1-64h2m-2 23h2m-2 8h2m-2 16h2m-2 3h2m-1-7h2m-2 2h2m-2 8h2m-1-56h2m-2 2h2m-2 11h2m-2 2h2m-2 31h2m-2 1h2m-2 0h2m-2 5h2m-2 0h2m-2 13h2m-1-63h2m-2 45h2m-2 12h2m-1-35h2m-2 6h2m-2 17h2m-2 0h2m-2 5h2m-2 8h2m-2 10h2m-1-62h2m-2 1h2m-2 8h2m-2 1h2m-2 27h2m-2 1h2m-2 10h2m-2 2h2m-1-42h2m-2 10h2m-2 13h2m-2 1h2m-2 1h2m-2 3h2m-2 6h2m-2 12h2m-2 9h2m-1-74h2m-2 7h2m-2 41h2m-1-30h2m-2 5h2m-2 1h2m-2 14h2m-2 10h2m-2 0h2m-2 1h2m-2 27h2m-1-54h2m-2 1h2m-2 18h2m-2 8h2m-2 3h2m-2 1h2m-2 2h2m-2 4h2m-2 0h2m-1-37h2m-2 25h2m-2 19h2m-1-41h2m-2 12h2m-2 17h2m-1-35h2m-2 31h2m-2 0h2m-2 6h2m-1-60h2m-2 48h2m-2 9h2m-2 3h2m-2 2h2m-1-49h2m-2 5h2m-2 8h2m-2 2h2m-2 3h2m-2 14h2m-2 15h2m-1-56h2m-2 5h2m-2 47h2m-2 1h2m-2 9h2m-1-61h2m-2 6h2m-2 24h2m-2 2h2m-2 18h2m-2 4h2m-1-47h2m-2 32h2m-2 9h2m-2 6h2m-1-40h2m-2 10h2m-2 11h2m-2 5h2m-2 19h2m-2 4h2m-1-43h2m-2 18h2m-2 9h2m-2 6h2m-1-48h2m-2 7h2m-2 21h2m-2 0h2m-2 18h2m-2 2h2m-2 1h2m-1-31h2m-2 1h2m-2 4h2m-2 10h2m-2 26h2m-1-42h2m-2 5h2m-2 26h2m-2 0h2m-2 4h2m-1-43h2m-2 13h2m-2 14h2m-2 5h2m-2 7h2m-2 1h2m-2 0h2m-2 3h2m-2 0h2m-2 8h2m-1-66h2m-2 29h2m-2 4h2m-2 22h2m-2 14h2m-1-48h2m-2 8h2m-2 21h2m-2 1h2m-2 2h2m-2 11h2m-2 4h2m-1-42h2m-2 21h2m-1-27h2m-2 12h2m-2 20h2m-2 1h2m-2 8h2m-1-20h2m-2 23h2m0-17h2m-2 5h2m-2 1h2m-2 18h2m-2 11h2m-1-56h2m-2 36h2m-1-30h2m-2 26h2m-2 2h2m-1-44h2m-2 0h2m-2 18h2m-2 32h2m-1-68h2m-2 10h2m-2 35h2m-2 14h2m-2 3h2m-2 3h2m-2 7h2m-1-61h2m-2 2h2m-2 16h2m-2 8h2m-2 15h2m-2 2h2m-2 2h2m-2 5h2m-1-42h2m-2 7h2m-2 2h2m-2 3h2m-2 18h2m-2 9h2m-1-52h2m-2 7h2m-2 43h2m-2 12h2m-1-51h2m-2 1h2m-2 12h2m-2 11h2m-2 2h2m-1-16h2m-2 28h2m-2 9h2m-1-31h2m-2 31h2m-1-40h2m-2 1h2m-2 26h2m-2 11h2m-2 8h2m-1-50h2m-2 2h2m-2 4h2m-2 20h2m-2 4h2m-1-29h2m-2 17h2m-2 15h2m-2 1h2m-2 3h2m-2 0h2m-1-29h2m-2 12h2m-2 9h2m-2 9h2m-2 2h2m-2 4h2m-1-44h2m-2 6h2m-2 33h2m-2 5h2m-2 16h2m-1-56h2m-2 1h2m-2 5h2m-2 15h2m-1-42h2m-2 18h2m-2 28h2m-2 2h2m-2 1h2m-2 0h2m-1-31h2m-2 25h2m-2 10h2m-2 5h2m-1-35h2m-2 29h2m-2 3h2m-2 16h2m-1-47h2m-2 16h2m-2 8h2m-2 3h2m-2 20h2m-1-30h2m-1-49h2m-2 17h2m-2 31h2m-2 23h2m-1-31h2m-2 0h2m-2 20h2m-2 4h2m-1-31h2m-2 14h2m-2 3h2m-2 6h2m-2 0h2m-1-30h2m-2 36h2m-2 19h2m-1-60h2m-2 11h2m-2 14h2m-2 15h2m-2 1h2m-1-45h2m-2 30h2m-2 9h2m-2 6h2m-2 3h2m-2 1h2m-2 2h2m-1-46h2m-2 10h2m-2 0h2m-2 20h2m-2 14h2m-2 7h2m-1-30h2m-2 2h2m-2 11h2m-2 0h2m-1-39h2m-2 34h2m-2 4h2m-2 0h2m-2 15h2m-1-53h2m-2 17h2m-2 28h2m-2 3h2m-2 8h2m-1-43h2m-2 24h2m-2 1h2m-2 5h2m-2 1h2m-2 4h2m-2 4h2m-2 16h2m-2 2h2m-1-62h2m-2 19h2m-2 8h2m-2 13h2m-2 5h2m-2 0h2m-1-43h2m-2 12h2m-2 7h2m-2 8h2m-2 5h2m-2 2h2m-1-34h2m-2 31h2m-2 0h2m-2 1h2m-1-34h2m-2 25h2m-2 0h2m-2 31h2m-1-47h2m-2 6h2m-2 2h2m-2 21h2m-2 13h2m-2 1h2m-2 1h2m-2 1h2m-1-60h2m-2 36h2m-1-21h2m-2 3h2m-2 8h2m-2 1h2m-2 4h2m-2 12h2m-2 1h2m-1-38h2m-2 27h2m-2 4h2m-2 3h2m-2 5h2m-2 2h2m-2 12h2m-1-51h2m-2 10h2m-2 4h2m-2 7h2m-2 26h2m-1-40h2m-2 10h2m-2 13h2m-2 2h2m-2 5h2m-1-21h2m-2 9h2m-2 14h2m-1-29h2m-2 7h2m-2 2h2m-2 11h2m-2 4h2m-2 1h2m-1-4h2m-2 2h2m-2 5h2m-1-37h2m-2 6h2m-2 8h2m-2 10h2m-2 4h2m-2 11h2m-2 4h2m-1-41h2m-2 17h2m-2 11h2m-2 9h2m-1-39h2m-2 4h2m-2 11h2m-2 8h2m-2 0h2m-2 6h2m-2 10h2m-2 4h2m-1-45h2m-2 29h2m-2 3h2m-2 3h2m-2 11h2m-2 0h2m-1-54h2m-2 43h2m-1-19h2m-2 0h2m-2 4h2m-2 10h2m-2 3h2m-2 9h2m-1-40h2m-2 30h2m-2 4h2m-1-35h2m-2 9h2m-2 1h2m-2 3h2m-2 4h2m-2 2h2m-2 13h2m-2 20h2m-1-51h2m-2 3h2m-2 5h2m-2 3h2m-2 2h2m-2 10h2m-2 5h2m-2 2h2m-2 4h2m-1-23h2m-2 5h2m-2 3h2m-2 8h2m-2 2h2m-1-25h2m-2 3h2m-2 17h2m-2 21h2m-2 14h2m-1-53h2m-2 9h2m-2 13h2m-2 9h2m-2 11h2m-1-34h2m-2 23h2m-1-22h2m-2 8h2m-2 7h2m-2 15h2m-2 0h2m-1-62h2m-2 27h2m-2 11h2m-2 1h2m-2 26h2m-1-44h2m-2 23h2m-2 13h2m-2 8h2m-1-68h2m-2 20h2m-2 8h2m-2 7h2m-2 12h2m-2 1h2m-2 1h2m-2 3h2m-2 7h2m-1-33h2m-2 2h2m-2 7h2m-2 2h2m-2 4h2m-2 7h2m-2 2h2m-2 3h2m-2 1h2m-1-42h2m-2 9h2m-2 6h2m-2 12h2m-2 12h2m-2 5h2m-2 2h2m-2 0h2m-2 2h2m-2 6h2m-1-52h2m-2 27h2m-2 1h2m-2 1h2m-2 4h2m-2 5h2m-2 0h2m-1-20h2m-2 1h2m-2 2h2m-2 13h2m-2 6h2m-2 3h2m-1-39h2m-2 35h2m-1-43h2m-2 10h2m-2 10h2m-2 2h2m-2 23h2m-2 9h2m-2 6h2m-1-48h2m-2 2h2m-2 18h2m-2 1h2m-2 5h2m-2 9h2m-2 9h2m-1-39h2m-2 7h2m-2 4h2m-2 12h2m-2 3h2m-2 7h2m-2 4h2m-1-56h2m-2 11h2m-2 12h2m-2 12h2m-2 5h2m-2 2h2m-2 2h2m-2 6h2m-2 6h2m-1-30h2m-2 4h2m-2 4h2m-2 1h2m-2 2h2m-2 4h2m-2 8h2m-2 2h2m-1-33h2m-2 13h2m-2 3h2m-2 1h2m-2 5h2m-2 22h2m-2 13h2m-1-41h2m-2 1h2m-2 3h2m-2 3h2m-2 2h2m-1-40h2m-2 23h2m-2 11h2m-2 7h2m-1-10h2m-2 37h2m-1-51h2m-2 26h2m-2 4h2m-2 5h2m-1-29h2m-2 1h2m-2 8h2m-2 6h2m-1-18h2m-2 7h2m-2 12h2m-2 1h2m-2 0h2m-2 8h2m-2 3h2m-1-54h2m-2 15h2m-2 3h2m-2 7h2m-2 8h2m-2 6h2m-2 3h2m-2 5h2m-2 11h2m-2 2h2m-1-61h2m-2 31h2m-2 13h2m-2 5h2m-2 9h2m-2 2h2m0-24h2m-2 16h2m0-25h2m-2 2h2m-2 12h2m-2 7h2m-2 2h2m-1-38h2m-2 16h2m-2 8h2m-2 8h2m-2 7h2m-2 5h2m-1-34h2m-2 5h2m-2 7h2m-2 13h2m-2 26h2m-1-29h2m-2 1h2m-2 12h2m-1-43h2m-2 17h2m-2 25h2m-2 7h2m-1-45h2m-2 7h2m-2 0h2m-2 1h2m-2 3h2m-2 6h2m-2 0h2m-2 8h2m-2 17h2m-2 3h2m-2 1h2m-1-57h2m-2 24h2m-2 4h2m-2 1h2m-2 0h2m-2 2h2m-2 11h2m-2 0h2m-1-44h2m-2 21h2m-2 27h2m-1-53h2m-2 11h2m-2 4h2m-2 6h2m-2 2h2m-1-10h2m-2 16h2m-2 0h2m-2 15h2m-2 3h2m-2 8h2m-1-26h2m-2 0h2m-2 7h2m-2 9h2m-2 6h2m-2 10h2m-1-42h2m-2 5h2m-2 11h2m-2 6h2m-2 5h2m-2 7h2m-2 8h2m-2 3h2m-2 3h2m-1-51h2m-2 4h2m-2 4h2m-2 18h2m-2 9h2m-2 4h2m-1-54h2m-2 12h2m-2 5h2m-2 17h2m-2 1h2m-2 17h2m-1-42h2m-2 15h2m-2 7h2m-2 0h2m-2 10h2m-1-21h2m-2 5h2m-2 5h2m-2 10h2m-1-35h2m-2 9h2m-2 10h2m-2 4h2m-2 4h2m-2 9h2m-2 2h2m-1-14h2m-2 0h2m-2 11h2m-2 11h2m-2 2h2m-1-28h2m-2 13h2m-1-29h2m-2 28h2m-2 2h2m-2 19h2m-1-41h2m-2 12h2m-2 11h2m-2 6h2m-2 13h2m-2 3h2m-2 1h2m-1-44h2m-2 10h2m-2 4h2m-2 7h2m-2 3h2m-2 12h2m-2 4h2m-2 0h2m-2 12h2m-1-43h2m-2 7h2m-2 7h2m-1-29h2m-2 3h2m-2 9h2m-2 14h2m-2 5h2m-1-27h2m-2 2h2m-2 8h2m-2 5h2m-2 2h2m-2 13h2m-2 8h2m-1-51h2m-2 3h2m-2 26h2m-2 18h2m-1-18h2m-2 12h2m-1-4h2m-2 2h2m-1-45h2m-2 28h2m-1 2h2m-2 4h2m-2 5h2m-2 6h2m-2 7h2m-1-38h2m-2 0h2m-2 5h2m-2 3h2m-2 5h2m-2 0h2m-2 32h2m-2 5h2m-1-64h2m-2 14h2m-2 1h2m-2 3h2m-2 5h2m-2 4h2m-2 2h2m-2 2h2m-2 14h2m-2 5h2m-1-33h2m-2 6h2m-2 6h2m-2 0h2m-2 4h2m-2 2h2m-2 4h2m-1-41h2m-2 11h2m-2 23h2m-2 6h2m-2 3h2m-2 1h2m-2 2h2m-2 1h2m-2 6h2m-1-28h2m-2 5h2m-2 1h2m-2 2h2m-2 8h2m-2 2h2m-2 19h2m-1-23h2m-1-33h2m-2 20h2m-2 2h2m-2 2h2m-2 0h2m-2 2h2m-2 1h2m-2 4h2m-2 15h2m-1-29h2m-2 13h2m-2 2h2m-2 7h2m-2 1h2m-1-34h2m-2 10h2m-2 13h2m-2 3h2m-2 1h2m-2 9h2m-2 22h2m-1-25h2m-2 5h2m-1-28h2m-2 4h2m-2 10h2m-2 12h2m-2 19h2m-1-47h2m-2 5h2m-2 2h2m-1-14h2m-2 17h2m-2 3h2m-2 9h2m-2 14h2m-2 4h2m-1-35h2m-2 11h2m-2 9h2m-2 2h2m-2 0h2m-2 1h2m-2 6h2m-1-35h2m-2 1h2m-2 1h2m-2 2h2m-2 13h2m-2 13h2m-2 10h2m-1-52h2m-2 24h2m-2 3h2m-2 4h2m-2 7h2m-2 1h2m-1-27h2m-2 3h2m-2 11h2m-2 9h2m-2 2h2m-2 7h2m-1-16h2m-2 13h2m-1-42h2m-2 23h2m-2 13h2m-2 6h2m-1-25h2m-2 13h2m-1-26h2m-2 19h2m-2 4h2m-2 8h2m-2 4h2m-2 2h2m-1-38h2m-2 9h2m-2 1h2m-2 7h2m-1-12h2m-2 21h2m-2 8h2m-1-33h2m-2 15h2m-2 3h2m-2 0h2m-2 4h2m-2 2h2m-2 8h2m-2 3h2m-2 1h2m-2 8h2m-1-35h2m-2 10h2m-2 4h2m-2 13h2m-2 0h2m-2 9h2m-2 5h2m-1-41h2m-2 1h2m-2 11h2m-2 2h2m-2 4h2m-2 10h2m-1-31h2m-2 3h2m-2 5h2m-2 16h2m-2 9h2m-2 22h2m-1-57h2m-2 1h2m-2 2h2m-2 8h2m-2 1h2m-2 11h2m-2 7h2m-2 11h2m-1-42h2m-2 17h2m-2 8h2m-1-24h2m-2 33h2m-1-14h2m-2 16h2m-2 10h2m-1-38h2m-2 4h2m-2 3h2m-2 4h2m-2 7h2m-2 5h2m-2 7h2m-2 4h2m-1-30h2m-2 2h2m-2 18h2m-2 0h2m-2 4h2m-2 1h2m-1-41h2m-2 9h2m-2 29h2m-2 4h2m-1-23h2m-2 9h2m-2 12h2m-2 2h2m-2 2h2m-2 7h2m-1-41h2m-2 3h2m-2 7h2m-2 1h2m-2 1h2m-2 16h2m-1-30h2m-2 22h2m-2 21h2m-2 23h2m-1-80h2m-2 19h2m-2 6h2m-2 6h2m-2 4h2m-2 11h2m-2 1h2m-2 3h2m-1-25h2m-2 4h2m-2 0h2m-2 2h2m-2 0h2m-2 2h2m-2 14h2m-1-34h2m-2 5h2m-2 3h2m-2 21h2m-2 7h2m-1-22h2m-2 5h2m-2 9h2m-2 6h2m-2 9h2m-1-44h2m-2 1h2m-2 4h2m-2 17h2m-2 13h2m-2 9h2m-1-29h2m-2 2h2m-2 11h2m-2 4h2m-2 7h2m-1-21h2m-2 1h2m-2 17h2m-2 20h2m-1-39h2m-2 11h2m-1-29h2m-2 7h2m-2 31h2m-1-23h2m-2 10h2m-2 6h2m-2 5h2m-2 6h2m-1-33h2m-2 12h2m-1-15h2m-2 16h2m-2 5h2m-2 7h2m-2 7h2m-1-32h2m-2 15h2m-2 3h2m-2 5h2m-1-26h2m-2 15h2m-1-21h2m-2 11h2m-2 9h2m-2 5h2m-2 2h2m-2 0h2m-2 1h2m-2 2h2m-2 5h2m-2 3h2m-2 5h2m-2 3h2m-1-31h2m-2 9h2m-2 6h2m-2 7h2m-1-37h2m-2 24h2m-2 3h2m-2 9h2m-2 3h2m-2 8h2m-2 4h2m-1-48h2m-2 6h2m-2 8h2m-2 17h2m-2 7h2m-2 4h2m-1-37h2m-2 13h2m-2 7h2m-2 0h2m-2 8h2m-2 10h2m-1-30h2m-2 6h2m-2 6h2m-2 2h2m-2 7h2m-2 22h2m-1-49h2m-2 4h2m-2 3h2m-2 5h2m-2 2h2m-2 6h2m-2 2h2m-1-38h2m-2 11h2m-2 14h2m-2 6h2m-2 13h2m-2 16h2m-1-36h2m-2 4h2m-2 9h2m-1-10h2m-2 2h2m-2 21h2m-1-32h2m-2 9h2m-2 10h2m-1-15h2m-2 6h2m-2 6h2m-2 4h2m-1-28h2m-2 7h2m-2 1h2m-2 11h2m-2 4h2m-2 2h2m-2 3h2m-2 5h2m-2 8h2m-1-22h2m-2 7h2m-2 6h2m-2 0h2m-1-35h2m-2 7h2m-2 9h2m-2 11h2m-2 8h2m-2 4h2m-1-24h2m-2 18h2m-1-31h2m-2 10h2m-2 7h2m-2 0h2m-1-13h2m-2 14h2m-2 4h2m-2 11h2m-1-26h2m-2 10h2m-2 5h2m-2 10h2m-1-27h2m-2 0h2m-2 7h2m-2 5h2m-2 9h2m-2 4h2m-2 2h2m-2 4h2m-1-48h2m-2 14h2m-2 20h2m-2 10h2m-1-33h2m-2 26h2m-2 5h2m-2 11h2m-1-48h2m-2 27h2m-2 6h2m-2 1h2m-2 4h2m-2 4h2m-2 1h2m-1-32h2m-1-1h2m-2 3h2m-2 10h2m-2 4h2m-2 3h2m-2 1h2m-2 3h2m-2 3h2m-2 5h2m-1-30h2m-2 12h2m-2 8h2m-2 8h2m-1-39h2m-2 23h2m-2 8h2m-2 9h2m-1-20h2m-2 1h2m-2 6h2m-2 6h2m-2 2h2m-2 1h2m-2 5h2m-2 0h2m-1-37h2m-2 14h2m-1-19h2m-2 16h2m-2 3h2m-2 9h2m-1-25h2m-2 5h2m-2 8h2m-2 22h2m-2 0h2m-2 6h2m-2 7h2m-1-50h2m-2 15h2m-2 9h2m-2 10h2m-2 5h2m-2 8h2m-2 1h2m-2 2h2m-2 2h2m-1-39h2m-2 8h2m-2 11h2m-2 2h2m-2 4h2m-2 1h2m-2 19h2m-1-67h2m-2 16h2m-2 15h2m-2 2h2m-2 12h2m-2 5h2m-2 7h2m-2 1h2m-1-28h2m-2 1h2m-2 1h2m-2 9h2m-2 3h2m-2 2h2m-2 11h2m-1-36h2m-2 8h2m-2 5h2m-2 6h2m-2 1h2m-2 2h2m-2 5h2m-1-17h2m-2 1h2m-2 0h2m-2 1h2m-2 2h2m-2 1h2m-2 26h2m-1-60h2m-2 7h2m-2 7h2m-2 8h2m-2 3h2m-2 3h2m-2 3h2m-2 4h2m-2 8h2m-2 4h2m-1-30h2m-2 18h2m-1-11h2m-2 7h2m-2 11h2m-1-18h2m-2 6h2m-2 21h2m-1-38h2m-2 9h2m-2 21h2m-2 0h2m-1-33h2m-2 16h2m-2 11h2m-2 0h2m-2 3h2m-2 0h2m-2 2h2m-2 2h2m-1-9h2m-2 1h2m-2 6h2m-2 2h2m-2 1h2m-2 1h2m-2 3h2m-1-25h2m-2 9h2m-2 10h2m-2 13h2m-1-17h2m-1-8h2m-2 0h2m-2 1h2m-2 3h2m-2 2h2m-2 5h2m-2 1h2m-2 1h2m-2 1h2m-1-21h2m-2 3h2m-2 8h2m-2 3h2m-2 2h2m-2 2h2m-2 0h2m-2 6h2m-2 6h2m-1-73h2m-2 44h2m-2 6h2m-2 0h2m-2 7h2m-2 3h2m-2 2h2m-2 14h2m-1-45h2m-2 1h2m-2 14h2m-2 10h2m-2 8h2m-2 10h2m-2 1h2m-1-13h2m-2 11h2m-2 0h2m-2 12h2m-1-46h2m-2 3h2m-2 5h2m-2 4h2m-2 1h2m-1-9h2m-2 9h2m-1-5h2m-2 16h2m-2 14h2m-1-28h2m-2 9h2m-2 4h2m-1-26h2m-2 1h2m-2 0h2m-2 8h2m-2 6h2m-2 8h2m-2 8h2m-1-33h2m-2 2h2m-2 9h2m-2 1h2m-2 1h2m-2 0h2m-2 10h2m-2 6h2m-2 1h2m-2 4h2m-1-36h2m-2 5h2m-2 15h2m-2 2h2m-2 5h2m-2 10h2m-1-37h2m-2 14h2m-2 6h2m-2 16h2m-2 5h2m-1-36h2m-2 2h2m-2 5h2m-2 9h2m-2 12h2m-2 2h2m-2 0h2m-2 10h2m-1-13h2m-2 7h2m-2 1h2m-1-36h2m-2 2h2m-2 5h2m-2 4h2m-2 14h2m-1-12h2m-2 0h2m-2 11h2m-1-29h2m-2 8h2m-2 5h2m-2 0h2m-2 4h2m-2 6h2m-2 0h2m-2 4h2m-2 0h2m-2 8h2m-1-39h2m-2 16h2m-2 0h2m-2 17h2m-2 8h2m-1-17h2m-2 10h2m-2 13h2m-1-38h2m-2 2h2m-2 3h2m-2 0h2m-2 1h2m-2 10h2m-2 7h2m-2 0h2m-2 2h2m-2 18h2m-1-39h2m-2 7h2m-2 5h2m-1-34h2m-2 5h2m-2 11h2m-2 13h2m-2 9h2m-2 3h2m-2 6h2m-1-16h2m-1-25h2m-2 3h2m-2 19h2m-2 32h2m-1-31h2m-2 0h2m-2 10h2m-1-15h2m-2 1h2m-2 16h2m-2 8h2m-2 1h2m-1-20h2m-2 1h2m-2 8h2m-2 2h2m-1-29h2m-2 9h2m-2 5h2m-2 0h2m-2 17h2m-2 6h2m-2 10h2m-1-41h2m-2 7h2m-2 3h2m-2 13h2m-2 0h2m-2 4h2m-2 5h2m-1-25h2m-2 1h2m-2 1h2m-2 4h2m-2 4h2m-2 12h2m-2 17h2m-1-56h2m-2 0h2m-2 9h2m-2 4h2m-2 7h2m-2 5h2m-2 7h2m-2 2h2m-2 3h2m-2 9h2m-1-35h2m-2 14h2m-2 0h2m-2 13h2m-2 18h2m-1-40h2m-2 6h2m-2 8h2m-2 2h2m-2 2h2m-2 1h2m-1-36h2m-2 20h2m-2 10h2m-1-26h2m-2 7h2m-2 1h2m-2 11h2m-2 2h2m-2 4h2m-2 2h2m-2 4h2m-2 10h2m-2 5h2m-1-44h2m-2 21h2m-2 11h2m-1-41h2m-2 24h2m-2 7h2m-2 19h2m-1-31h2m-2 9h2m-2 9h2m-2 2h2m-2 0h2m-2 14h2m-2 7h2m-1-45h2m-2 6h2m-2 11h2m-2 4h2m-2 15h2m-2 3h2m-2 1h2m-1-71h2m-2 31h2m-2 12h2m-2 9h2m-2 5h2m-2 4h2m-2 1h2m-2 5h2m-1-53h2m-2 4h2m-2 15h2m-2 5h2m-2 14h2m-2 3h2m-2 1h2m-2 2h2m-1-14h2m-2 2h2m-2 1h2m-2 5h2m-2 9h2m-2 16h2m-1-51h2m-2 11h2m-2 3h2m-2 5h2m-2 1h2m-2 1h2m-2 9h2m-2 2h2m-2 9h2m-1-50h2m-2 20h2m-2 4h2m-2 2h2m-2 8h2m-2 2h2m-2 4h2m-2 12h2m-1-37h2m-2 13h2m-2 3h2m-2 13h2m-2 3h2m-2 0h2m-2 7h2m-2 9h2m-1-43h2m-2 4h2m-2 6h2m-2 3h2m-2 2h2m-2 0h2m-2 16h2m-1-43h2m-2 6h2m-2 10h2m-2 4h2m-2 17h2m-1-12h2m-2 8h2m-2 2h2m-2 7h2m-2 2h2m-1-49h2m-2 11h2m-2 12h2m-2 2h2m-1-3h2m-2 2h2m-2 10h2m-2 3h2m-2 28h2m-1-58h2m-2 2h2m-2 11h2m-2 1h2m-2 1h2m-2 7h2m-2 3h2m-2 13h2m-1-27h2m-2 8h2m-2 0h2m-2 4h2m-2 7h2m-2 4h2m-1-40h2m-2 24h2m-2 5h2m-2 0h2m-2 0h2m-2 5h2m-2 0h2m-2 9h2m-1-22h2m-2 12h2m-2 1h2m-2 5h2m-1-22h2m-2 6h2m-2 1h2m-2 2h2m-2 21h2m-1-35h2m-2 7h2m-2 5h2m-2 5h2m-2 3h2m-1-19h2m-2 15h2m-2 1h2m-2 3h2m-1-14h2m-2 2h2m-2 0h2m-2 29h2m-2 5h2m-1-52h2m-2 32h2m-2 5h2m-2 4h2m-1-53h2m-2 11h2m-2 5h2m-2 9h2m-2 14h2m-2 2h2m-2 6h2m-2 7h2m-1-30h2m-2 8h2m-2 10h2m-2 2h2m-1-26h2m-2 3h2m-2 9h2m-2 3h2m-2 11h2m-2 13h2m-1-46h2m-2 4h2m-2 8h2m-2 18h2m-1-17h2m-2 18h2m-2 0h2m-1-20h2m-2 5h2m-2 3h2m-2 6h2m-2 4h2m-2 1h2m-2 6h2m-2 4h2m-1-23h2m-2 1h2m-2 4h2m-2 2h2m-2 7h2m-2 4h2m-2 1h2m-2 1h2m-2 2h2m-2 10h2m-2 6h2m-1-33h2m-2 16h2m-1-49h2m-2 13h2m-2 28h2m-2 4h2m-2 0h2m-2 7h2m-1-9h2m-2 2h2m-2 0h2m-2 0h2m-2 1h2m-1-20h2m-2 8h2m-2 5h2m-2 6h2m-2 2h2m-2 2h2m-2 2h2m-1-40h2m-2 8h2m-2 2h2m-2 3h2m-2 1h2m-2 1h2m-1-23h2m-2 36h2m-2 2h2m-2 6h2m-1-31h2m-2 12h2m-2 2h2m-2 4h2m-2 14h2m-2 11h2m-1-24h2m-2 7h2m-2 0h2m-2 4h2m-2 3h2m-1-35h2m-2 10h2m-2 1h2m-2 7h2m-2 28h2m-1-26h2m-2 28h2m-1-52h2m-2 6h2m-2 13h2m-2 24h2m-1-32h2m-2 1h2m-2 9h2m-2 3h2m-2 1h2m-2 0h2m-2 2h2m-2 2h2m-2 1h2m-2 6h2m-2 9h2m-1-43h2m-2 13h2m-2 5h2m-2 1h2m-2 4h2m-2 4h2m-2 1h2m-2 14h2m-1-50h2m-2 21h2m-2 3h2m-2 11h2m-1-9h2m-2 3h2m-2 6h2m-2 14h2m-1-35h2m-2 16h2m-2 5h2m-2 3h2m-2 0h2m-2 8h2m-2 4h2m-2 5h2m-2 2h2m-1-49h2m-2 20h2m-2 4h2m-2 1h2m-2 2h2m-2 4h2m-2 2h2m-1-15h2m-2 2h2m-2 9h2m-1-28h2m-2 9h2m-2 4h2m-2 24h2m-2 8h2m-1-59h2m-2 24h2m-2 17h2m-2 2h2m-2 3h2m-2 1h2m-1-32h2m-2 10h2m-1 11h2m-2 1h2m-2 15h2m-2 1h2m-1-33h2m-2 2h2m-2 16h2m-2 5h2m-2 22h2m-1-49h2m-2 1h2m-2 2h2m-2 2h2m-2 19h2m-2 6h2m-2 6h2m-2 3h2m-2 3h2m-1-50h2m-2 28h2m-2 4h2m-2 2h2m-2 7h2m-2 3h2m-2 2h2m-2 22h2m-1-35h2m-2 0h2m-2 2h2m-1-38h2m-2 20h2m-2 23h2m-2 1h2m-2 5h2m-1-31h2m-2 9h2m-2 5h2m-2 9h2m-2 4h2m-2 14h2m-1-47h2m-2 18h2m-2 0h2m-2 2h2m-2 6h2m-2 3h2m-2 16h2m-1-38h2m-2 2h2m-2 1h2m-2 2h2m-2 13h2m-2 2h2m-2 3h2m-2 7h2m-1-26h2m-2 1h2m-2 5h2m-2 5h2m-2 11h2m-2 2h2m-1-31h2m-2 11h2m-2 2h2m-2 17h2m-2 15h2m-1-40h2m-2 11h2m-2 1h2m-2 3h2m-2 1h2m-2 1h2m-2 16h2m-1-41h2m-2 7h2m-2 1h2m-2 11h2m-2 3h2m-2 13h2m-1-29h2m-2 11h2m-2 1h2m-2 4h2m-2 1h2m-2 4h2m-2 5h2m-2 1h2m-2 2h2m-2 11h2m-1-43h2m-2 17h2m-2 2h2m-2 11h2m-1-20h2m-2 2h2m-2 3h2m-2 8h2m-1-42h2m-2 27h2m-2 2h2m-2 3h2m-2 10h2m-2 2h2m-2 2h2m-2 2h2m-1-28h2m-2 18h2m-2 7h2m-1-16h2m-2 3h2m-2 2h2m-2 7h2m-2 2h2m-2 2h2m-1-37h2m-2 1h2m-2 9h2m-2 13h2m-2 2h2m-2 5h2m-2 3h2m-1-17h2m-2 29h2m-1-5h2m-2 1h2m-1-35h2m-2 13h2m-2 8h2m-1-19h2m-2 10h2m-2 3h2m-2 9h2m-2 1h2m-1-26h2m-2 29h2m-2 8h2m-2 3h2m-1-35h2m-2 7h2m-2 10h2m-1-31h2m-2 19h2m-2 9h2m-2 11h2m-1-14h2m-2 4h2m-2 3h2m-2 7h2m-1-16h2m-2 8h2m-2 5h2m-1-14h2m-2 8h2m-1-20h2m-2 28h2m-2 23h2m-1-33h2m-2 4h2m-2 0h2m-2 11h2m-1-26h2m-2 8h2m-2 5h2m-2 8h2m-2 1h2m-2 18h2m-1-38h2m-2 11h2m-2 1h2m-2 1h2m-2 14h2m-1-19h2m-2 3h2m-2 6h2m-2 13h2m-1-49h2m-2 16h2m-2 9h2m-2 10h2m-2 14h2m-1-32h2m-2 15h2m-2 13h2m-1-26h2m-2 12h2m-2 3h2m-2 4h2m-2 10h2m-2 20h2m-1-40h2m-2 4h2m-1-19h2m-2 2h2m-2 8h2m-2 1h2m-2 13h2m-2 3h2m-2 1h2m-1-22h2m-2 7h2m-2 11h2m-2 3h2m-1-20h2m-2 9h2m-2 7h2m-2 0h2m-2 22h2m-1-32h2m-2 10h2m-2 0h2m-2 16h2m-1-31h2m-2 2h2m-2 13h2m-2 3h2m-1-17h2m-2 2h2m-2 8h2m-2 10h2m-2 3h2m-1-33h2m-2 8h2m-2 9h2m-2 1h2m-2 6h2m-1-32h2m-2 20h2m-2 8h2m-2 3h2m-2 6h2m-1-23h2m-2 4h2m-2 4h2m-2 7h2m-2 11h2m-2 4h2m-1-33h2m-2 8h2m-2 9h2m-2 7h2m-2 3h2m-1-37h2m-2 22h2m-2 1h2m-2 6h2m-2 4h2m-2 0h2m-2 4h2m-2 2h2m-1-29h2m-2 2h2m-2 0h2m-2 20h2m-2 13h2m-1-43h2m-2 8h2m-2 9h2m-2 3h2m-2 9h2m-2 4h2m-2 10h2m-2 2h2m-1-35h2m-2 4h2m-2 8h2m-2 1h2m-2 11h2m-1-39h2m-2 13h2m-2 1h2m-2 3h2m-2 9h2m-2 9h2m-2 3h2m-2 1h2m-2 18h2m-1-30h2m-2 3h2m-2 2h2m-2 1h2m-2 7h2m-2 3h2m-1-9h2m-2 9h2m-2 3h2m-1-20h2m-2 1h2m-2 10h2m-2 9h2m-2 4h2m-1-30h2m-2 6h2m-2 0h2m-2 8h2m-2 7h2m-2 1h2m-2 4h2m-2 2h2m-2 7h2m-1-44h2m-2 11h2m-2 0h2m-2 6h2m-2 1h2m-2 1h2m-2 2h2m-2 14h2m-1-30h2m-2 0h2m-2 4h2m-2 7h2m-2 2h2m-1-18h2m-2 11h2m-2 8h2m-2 7h2m-2 5h2m-1-37h2m-2 3h2m-2 11h2m-2 19h2m-2 2h2m-2 2h2m-1-31h2m-2 7h2m-2 12h2m-2 4h2m-2 1h2m-2 1h2m-2 2h2m-2 3h2m-2 0h2m-2 4h2m-1-9h2m-2 4h2m-1-19h2m-2 4h2m-2 2h2m-2 1h2m-1 1h2m-2 6h2m-1-24h2m-2 15h2m-2 1h2m-2 7h2m-2 6h2m-2 9h2m-1-40h2m-2 10h2m-2 3h2m-2 2h2m-1 41h2m-1-47h2m-2 3h2m-2 1h2m-2 0h2m-2 4h2m-2 4h2m-1-9h2m-2 2h2m-2 2h2m-2 3h2m-2 3h2m-2 9h2m-2 6h2m-2 12h2m-1-38h2m-2 12h2m-2 5h2m-1-5h2m-2 5h2m-2 2h2m-2 4h2m-2 20h2m-1-55h2m-2 5h2m-2 19h2m-2 8h2m-2 0h2m-1-28h2m-2 12h2m-2 0h2m-2 10h2m-2 1h2m-2 3h2m-2 8h2m-2 1h2m-2 1h2m-1-45h2m-2 9h2m-2 8h2m-2 7h2m-2 7h2m-1-7h2m-2 29h2m-1-27h2m-2 8h2m-2 7h2m-2 2h2m-1-25h2m-2 16h2m-2 3h2m-2 6h2m-2 11h2m-1-69h2m-2 28h2m-2 7h2m-2 5h2m-2 1h2m-2 6h2m-2 6h2m-2 10h2m-1-30h2m-2 1h2m-2 8h2m-2 7h2m-2 6h2m-1-28h2m-2 11h2m-2 2h2m-2 6h2m-2 1h2m-2 5h2m-1-31h2m-2 20h2m-2 3h2m-2 1h2m-2 8h2m-2 1h2m-2 1h2m-1-15h2m-2 4h2m-1-24h2m-2 2h2m-2 1h2m-2 19h2m-2 7h2m-2 14h2m-1-43h2m-2 1h2m-2 16h2m-2 1h2m-2 14h2m-1-14h2m-2 3h2m-2 1h2m-2 4h2m-2 0h2m-2 3h2m-1-28h2m-2 2h2m-2 7h2m-2 2h2m-2 7h2m-2 6h2m-2 1h2m-2 5h2m-2 2h2m-2 0h2m-2 9h2m-1-25h2m-2 1h2m-2 4h2m-2 2h2m-2 2h2m-1-13h2m-2 3h2m-2 6h2m-2 5h2m-1-19h2m-2 8h2m-2 12h2m-1-10h2m-2 3h2m-2 3h2m-2 9h2m-2 0h2m-1-26h2m-2 7h2m-2 2h2m-2 5h2m-2 0h2m-2 1h2m-2 0h2m-2 7h2m-2 2h2m-2 3h2m-2 3h2m-2 3h2m-1-24h2m-2 9h2m-2 11h2m-1-20h2m-2 11h2m-2 7h2m-2 6h2m-1-62h2m-2 27h2m-2 28h2m-1-6h2m-2 0h2m-2 1h2m-2 4h2m-2 2h2m-2 1h2m-1-29h2m-2 16h2m-2 2h2m-2 3h2m-2 1h2m-2 4h2m-2 2h2m-2 6h2m-1-35h2m-2 7h2m-2 1h2m-2 4h2m-2 5h2m-1-22h2m-2 8h2m-2 0h2m-2 3h2m-2 5h2m-2 4h2m-2 1h2m-2 7h2m-2 14h2m-1-15h2m-2 5h2m-2 2h2m-2 1h2m-2 7h2m-1-24h2m-2 21h2m-1-25h2m-2 8h2m-2 5h2m-1-34h2m-2 34h2m-2 27h2m-1-35h2m-2 2h2m-2 1h2m-2 6h2m-2 6h2m-2 21h2m-1-46h2m-2 8h2m-2 2h2m-2 1h2m-2 7h2m-2 8h2m-2 6h2m-2 4h2m-2 1h2m-1-37h2m-2 10h2m-2 5h2m-2 4h2m-2 2h2m-2 5h2m-1-16h2m-2 14h2m-2 6h2m-2 2h2m-2 0h2m-2 3h2m-1-29h2m-2 11h2m-2 1h2m-2 0h2m-2 3h2m-2 14h2m-1-28h2m-2 3h2m-1-21h2m-2 21h2m-2 5h2m-2 0h2m-2 3h2m-2 0h2m-2 12h2m-1-48h2m-2 18h2m-2 5h2m-2 4h2m-2 1h2m-2 7h2m-2 1h2m-2 10h2m-2 6h2m-1-20h2m-2 3h2m-2 1h2m-2 4h2m-2 4h2m-2 0h2m-2 3h2m-1-16h2m-2 11h2m-2 23h2m-1-49h2m-2 6h2m-2 1h2m-2 7h2m-2 3h2m-2 0h2m-2 4h2m-2 19h2m-1-51h2m-2 12h2m-2 12h2m-2 4h2m-2 2h2m-1-24h2m-2 6h2m-2 24h2m-2 1h2m-1-35h2m-2 11h2m-2 9h2m-2 17h2m-1-18h2m-2 5h2m-2 14h2m-1-14h2m-2 2h2m-2 1h2m-2 1h2m-2 2h2m-1-28h2m-2 10h2m-2 4h2m-2 4h2m-2 8h2m-2 6h2m-2 4h2m-1 2h2m-1-25h2m-2 30h2m-1-41h2m-2 15h2m-2 6h2m-2 3h2m-2 1h2m-2 4h2m-2 1h2m-2 4h2m-2 6h2m-1-43h2m-2 17h2m-2 3h2m-2 7h2m-2 0h2m-2 0h2m-2 4h2m-1-24h2m-2 2h2m-2 7h2m-1-7h2m-2 2h2m-2 14h2m-2 2h2m-2 7h2m-1-23h2m-2 2h2m-2 1h2m-2 4h2m-2 12h2m-1-47h2m-2 30h2m-2 8h2m-2 3h2m-2 3h2m-2 1h2m-2 2h2m-2 8h2m-2 4h2m-1-25h2m-2 5h2m-2 6h2m-2 2h2m-2 2h2m-2 7h2m-1-42h2m-2 8h2m-2 12h2m-2 1h2m-2 15h2m-1-21h2m-2 2h2m-2 11h2m-2 3h2m-2 11h2m-1-56h2m-2 69h2m-1-51h2m-2 25h2m-2 0h2m-2 1h2m-2 0h2m-2 1h2m-2 20h2m-2 4h2m-1-40h2m-2 9h2m-2 1h2m-2 6h2m-1-22h2m-2 3h2m-2 17h2m-2 1h2m-2 3h2m-2 9h2m-1-34h2m-2 6h2m-2 5h2m-2 1h2m-2 4h2m-2 4h2m-2 8h2m-2 7h2m-2 5h2m-1-24h2m-2 2h2m-2 2h2m-2 4h2m-2 4h2m-2 5h2m-1-35h2m-2 27h2m-2 1h2m-1-17h2m-2 3h2m-2 1h2m-2 11h2m-2 8h2m-2 1h2m-1-20h2m-2 0h2m-2 15h2m-1-25h2m-2 18h2m-2 5h2m-1-20h2m-2 1h2m-2 0h2m-2 2h2m-2 8h2m-2 13h2m-1-13h2m-2 5h2m-2 2h2m-2 3h2m-2 1h2m-1-17h2m-2 14h2m-2 6h2m-1-37h2m-2 8h2m-2 7h2m-2 1h2m-2 26h2m-2 5h2m-1-40h2m-2 19h2m-2 5h2m-2 6h2m-2 17h2m-1-41h2m-2 29h2m-1-30h2m-2 6h2m-2 8h2m-1-13h2m-2 4h2m-2 6h2m-2 3h2m-2 2h2m-2 12h2m-2 2h2m-1-27h2m-2 16h2m-2 9h2m-2 5h2m-1-42h2m-2 14h2m-2 5h2m-2 6h2m-2 6h2m-1-19h2m-2 8h2m-2 1h2m-2 3h2m-2 2h2m-2 9h2m-2 9h2m-1-29h2m-2 0h2m-2 1h2m-2 1h2m-2 7h2m-1-7h2m-2 1h2m-2 6h2m-2 0h2m-1-11h2m-2 2h2m-2 5h2m-2 5h2m-2 3h2m-2 9h2m-1-31h2m-2 7h2m-2 2h2m-2 3h2m-2 1h2m-1-26h2m-2 19h2m-2 7h2m-2 3h2m-2 5h2m-1-26h2m-2 22h2m-2 6h2m-2 3h2m-2 1h2m-1-22h2m-2 8h2m-2 5h2m-2 3h2m-1-8h2m-2 15h2m-1-11h2m-2 0h2m-2 1h2m-2 3h2m-2 22h2m-1-40h2m-2 1h2m-2 7h2m-2 8h2m-2 1h2m-2 6h2m-2 0h2m-2 13h2m-1-24h2m-2 2h2m-2 11h2m-2 7h2m-1-23h2m-2 8h2m-2 2h2m-2 1h2m-2 11h2m-1-40h2m-2 9h2m-2 4h2m-2 0h2m-2 2h2m-2 2h2m-2 2h2m-2 1h2m-2 1h2m-2 2h2m-2 1h2m-2 4h2m-1-29h2m-2 28h2m-2 7h2m-2 2h2m-1-31h2m-2 9h2m-2 1h2m-2 4h2m-2 0h2m-2 0h2m-2 6h2m-2 6h2m-1-26h2m-2 3h2m-2 4h2m-2 1h2m-1 5h2m-2 2h2m-2 16h2m-2 2h2m-1-33h2m-2 6h2m-2 19h2m-2 12h2m-1-39h2m-2 7h2m-2 6h2m-2 1h2m-2 18h2m-1-45h2m-2 52h2m-1-43h2m-2 32h2m-2 26h2m-1-48h2m-2 14h2m-2 8h2m-2 18h2m-1-39h2m-2 17h2m-1-26h2m-2 7h2m-2 20h2m-1-19h2m-2 9h2m-2 2h2m-2 8h2m-2 0h2m-2 0h2m-2 6h2m-2 5h2m-1-27h2m-2 2h2m-2 11h2m-2 28h2m-1-47h2m-2 7h2m-2 10h2m-2 3h2m-2 10h2m-1-44h2m-2 19h2m-2 1h2m-2 6h2m-2 2h2m-2 3h2m-2 11h2m-1-9h2m-2 4h2m-2 3h2m-2 1h2m-2 12h2m-1-30h2m-2 5h2m-2 8h2m-2 1h2m-2 0h2m-2 5h2m-2 3h2m-1-26h2m-2 2h2m-2 2h2m-2 6h2m-2 4h2m-2 1h2m-2 3h2m-1-28h2m-2 8h2m-2 2h2m-2 7h2m-2 16h2m-1-18h2m-2 15h2m-2 1h2m-2 1h2m-2 4h2m-1-21h2m-2 4h2m-2 2h2m-2 2h2m-2 2h2m-2 0h2m-2 1h2m-2 0h2m-2 3h2m-2 10h2m-2 1h2m-2 2h2m-1-25h2m-1-15h2m-2 20h2m-2 3h2m-2 2h2m-2 5h2m-2 1h2m-1-22h2m-2 19h2m-1-20h2m-2 4h2m-2 9h2m-2 0h2m-2 1h2m-2 1h2m-2 3h2m-2 4h2m-1-20h2m-2 5h2m-2 3h2m-2 2h2m-2 3h2m-2 10h2m-2 1h2m-1-27h2m-2 3h2m-2 4h2m-2 1h2m-2 6h2m-1-15h2m-2 9h2m-2 2h2m-1-7h2m-2 18h2m-2 1h2m-2 5h2m-2 11h2m-1-55h2m-2 15h2m-2 0h2m-2 0h2m-2 6h2m-2 11h2m-2 1h2m-1-33h2m-2 3h2m-2 7h2m-2 21h2m-2 4h2m-1-13h2m-1-11h2m-2 21h2m-2 2h2m-2 6h2m-2 14h2m-1-52h2m-2 8h2m-2 6h2m-1-5h2m-2 13h2m-2 11h2m-2 0h2m-2 1h2m-1-26h2m-2 21h2m-1-13h2m-2 1h2m-2 2h2m-2 3h2m-2 3h2m-2 0h2m-2 4h2m-1-26h2m-2 20h2m-2 1h2m-2 2h2m-2 3h2m-2 1h2m-2 0h2m-2 0h2m-1-23h2m-2 17h2m-2 1h2m-2 8h2m-2 4h2m-1-23h2m-2 11h2m-2 6h2m-2 23h2m-1-57h2m-2 15h2m-2 5h2m-2 1h2m-2 6h2m-2 13h2m-2 1h2m-2 1h2m-2 4h2m-1-34h2m-2 6h2m-2 1h2m-2 3h2m-2 1h2m-2 0h2m-2 18h2m-1-19h2m-2 5h2m-2 2h2m-2 3h2m-2 6h2m-1-21h2m-2 8h2m-2 2h2m-2 5h2m-2 0h2m-2 3h2m-2 0h2m-2 6h2m-2 1h2m-2 0h2m-1-28h2m-2 8h2m-2 2h2m-2 2h2m-2 1h2m-2 2h2m-2 2h2m-2 19h2m-1-36h2m-2 12h2m-2 2h2m-2 0h2m-2 4h2m-2 0h2m-2 7h2m-2 7h2m-1-43h2m-2 17h2m-2 0h2m-2 4h2m-2 13h2m-1-23h2m-2 13h2m-2 5h2m-2 1h2m-2 1h2m-2 1h2m-2 3h2m-1-25h2m-2 12h2m-2 2h2m-2 1h2m-2 7h2m-2 0h2m-2 2h2m-2 2h2m-1-30h2m-2 11h2m-2 1h2m-2 17h2m-2 6h2m-1-17h2m-2 5h2m-2 4h2m-1-16h2m-2 5h2m-2 1h2m-2 6h2m-2 3h2m-2 8h2m-2 9h2m-2 6h2m-2 2h2m-1-49h2m-2 7h2m-2 0h2m-2 3h2m-2 11h2m-2 4h2m-1-34h2m-2 12h2m-2 1h2m-2 9h2m-2 7h2m-2 1h2m-2 5h2m-2 16h2m-1-30h2m-2 4h2m-2 7h2m-2 1h2m-1-31h2m-2 1h2m-2 4h2m-2 3h2m-2 13h2m-2 3h2m-2 7h2m-2 0h2m-2 3h2m-2 11h2m-1-23h2m-2 1h2m-2 6h2m-2 5h2m-1-17h2m-2 7h2m-2 8h2m-2 0h2m-2 1h2m-2 2h2m-2 2h2m-1-24h2m-2 10h2m-2 1h2m-2 1h2m-2 5h2m-2 1h2m-2 1h2m-2 1h2m-2 10h2m-1-34h2m-2 7h2m-2 9h2m-2 12h2m-2 11h2m-1-28h2m-2 5h2m-2 3h2m-2 6h2m-1-23h2m-2 4h2m-2 5h2m-2 2h2m-2 2h2m-2 6h2m-1-32h2m-2 5h2m-2 10h2m-2 12h2m-2 4h2m-2 2h2m-2 11h2m-1-39h2m-2 5h2m-2 9h2m-2 7h2m-2 4h2m-2 4h2m-2 7h2m-2 12h2m-1-47h2m-2 6h2m-2 4h2m-2 22h2m-2 5h2m-1-53h2m-2 9h2m-2 25h2m-2 3h2m-2 0h2m-2 0h2m-2 5h2m-2 6h2m-2 16h2m-1-37h2m-2 9h2m-2 1h2m-2 0h2m-2 8h2m-2 1h2m-2 3h2m-2 16h2m-1-51h2m-2 11h2m-2 3h2m-2 4h2m-2 10h2m-2 1h2m-2 0h2m-2 5h2m-1-15h2m-2 1h2m-1-19h2m-2 6h2m-2 15h2m-2 0h2m-2 4h2m-2 4h2m-2 2h2m-1-25h2m-2 6h2m-2 2h2m-2 3h2m-2 4h2m-2 11h2m-2 4h2m-1-30h2m-2 5h2m-2 3h2m-2 3h2m-2 2h2m-2 6h2m-2 12h2m-1-29h2m-2 0h2m-2 16h2m-2 2h2m-2 36h2m-1-55h2m-2 15h2m-2 0h2m-2 7h2m-2 2h2m-2 3h2m-2 2h2m-1-33h2m-2 9h2m-2 4h2m-2 3h2m-2 6h2m-2 16h2m-1-25h2m-2 12h2m-2 4h2m-2 2h2m-2 3h2m-2 7h2m-1-44h2m-2 1h2m-2 5h2m-2 3h2m-2 8h2m-2 0h2m-1 7h2m-2 3h2m-2 3h2m-1-19h2m-2 7h2m-2 1h2m-2 8h2m-2 11h2m-1-27h2m-2 2h2m-2 4h2m-2 3h2m-2 8h2m-2 4h2m-1-27h2m-2 15h2m-2 7h2m-1-15h2m-2 9h2m-2 13h2m-2 0h2m-1-37h2m-2 2h2m-2 20h2m-2 2h2m-2 1h2m-2 2h2m-2 3h2m-2 3h2m-1-14h2m-2 2h2m-2 1h2m-2 5h2m-2 1h2m-2 1h2m-2 4h2m-2 1h2m-2 6h2m-1-32h2m-2 4h2m-2 16h2m-2 0h2m-2 2h2m-1-6h2m-2 10h2m-2 4h2m-2 2h2m-1-28h2m-2 3h2m-2 2h2m-2 6h2m-2 5h2m-2 1h2m-2 4h2m-2 13h2m-2 0h2m-1-32h2m-2 8h2m-2 17h2m-2 26h2m-1-59h2m-2 6h2m-2 2h2m-2 4h2m-2 7h2m-2 7h2m-2 7h2m-2 3h2m-1-18h2m-2 1h2m-2 0h2m-2 7h2m-1-24h2m-2 11h2m-2 19h2m-2 6h2m-2 9h2m-1-54h2m-2 17h2m-2 4h2m-2 5h2m-2 2h2m-2 1h2m-2 3h2m-2 7h2m-2 6h2m-1-30h2m-2 7h2m-2 1h2m-2 5h2m-2 2h2m-2 1h2m-2 3h2m-2 4h2m-1-15h2m-2 1h2m-2 1h2m-2 4h2m-2 22h2m-1-58h2m-2 16h2m-2 12h2m-2 8h2m-2 6h2m-2 5h2m-1-23h2m-2 8h2m-2 1h2m-2 26h2m-1-34h2m-2 2h2m-2 5h2m-2 1h2m-2 3h2m-2 4h2m-1-41h2m-2 23h2m-2 7h2m-2 1h2m-2 6h2m-2 0h2m-2 1h2m-2 14h2m-1-26h2m-2 21h2m-1-29h2m-2 9h2m-2 4h2m-2 1h2m-2 2h2m-2 20h2m-1-49h2m-2 20h2m-2 6h2m-2 1h2m-2 1h2m-2 9h2m-1-31h2m-2 15h2m-2 5h2m-2 1h2m-2 0h2m-2 20h2m-1-15h2m-2 5h2m-2 0h2m-1-22h2m-2 3h2m-2 3h2m-2 12h2m-2 7h2m-2 6h2m-1-29h2m-2 3h2m-2 3h2m-2 4h2m-2 2h2m-2 20h2m-2 0h2m-1-27h2m-2 3h2m-2 1h2m-2 1h2m-2 7h2m-2 7h2m-2 3h2m-1-51h2m-2 29h2m-2 11h2m-2 0h2m-2 5h2m-2 6h2m-2 14h2m-1-23h2m-1-20h2m-2 3h2m-2 10h2m-2 5h2m-2 6h2m-1-36h2m-2 18h2m-2 7h2m-2 7h2m-2 2h2m-2 1h2m-2 1h2m-1-34h2m-2 8h2m-2 3h2m-2 3h2m-2 4h2m-1-8h2m-2 30h2m-2 7h2m-1-23h2m-2 3h2m-2 5h2m-2 3h2m-2 8h2m-1-34h2m-2 7h2m-2 3h2m-2 5h2m-2 9h2m-2 1h2m-2 2h2m-2 4h2m-1-22h2m-2 4h2m-2 15h2m-2 9h2m-1-36h2m-2 9h2m-2 4h2m-2 0h2m-2 4h2m-2 1h2m-2 5h2m-1-9h2m-2 2h2m-1-3h2m-2 8h2m-2 1h2m-2 0h2m-2 3h2m-2 2h2m-2 14h2m-1-51h2m-2 14h2m-2 14h2m-1 4h2m-2 9h2m-2 12h2m-1-43h2m-2 19h2m-1-23h2m-2 22h2m-2 1h2m-2 0h2m-2 10h2m-2 2h2m-1-24h2m-2 4h2m-2 10h2m-2 1h2m-2 3h2m-1-23h2m-2 19h2m-2 2h2m-2 1h2m-2 1h2m-1-32h2m-2 15h2m-2 8h2m-2 8h2m-2 5h2m-2 12h2m-1-29h2m-2 4h2m-2 1h2m-2 20h2m-2 2h2m-1-55h2m-2 35h2m-2 4h2m-2 6h2m-1-46h2m-2 30h2m-2 6h2m-2 5h2m-2 6h2m-1-46h2m-2 25h2m-2 2h2m-2 1h2m-2 6h2m-2 3h2m-1-25h2m-2 9h2m-2 3h2m-2 16h2m-1-11h2m-2 8h2m-1-23h2m-2 8h2m-2 5h2m-2 14h2m-2 3h2m-2 7h2m-1-5h2m-2 9h2m-1-44h2m-2 7h2m-2 4h2m-2 7h2m-2 4h2m-2 3h2m-2 0h2m-2 2h2m-2 1h2m-2 4h2m-2 3h2m-1-40h2m-2 26h2m-2 1h2m-2 2h2m-2 2h2m-2 6h2m-2 2h2m-2 1h2m-2 2h2m-1-39h2m-2 3h2m-2 2h2m-2 9h2m-2 3h2m-2 13h2m-1-11h2m-2 2h2m-2 18h2m-2 10h2m-2 10h2m-1-41h2m-2 6h2m-2 3h2m-2 11h2m-1-40h2m-2 21h2m-2 7h2m-2 8h2m-1-27h2m-2 9h2m-2 12h2m-2 4h2m-1-9h2m-2 4h2m-2 0h2m-2 3h2m-1-24h2m-2 3h2m-2 3h2m-2 0h2m-2 13h2m-1-24h2m-2 11h2m-2 1h2m-2 0h2m-2 1h2m-2 2h2m-2 0h2m-2 2h2m-2 1h2m-2 1h2m-2 0h2m-2 5h2m-2 1h2m-2 2h2m-2 11h2m-1-29h2m-2 2h2m-2 0h2m-2 2h2m-2 3h2m-2 11h2m-2 1h2m-2 0h2m-1-31h2m-2 16h2m-2 9h2m-2 4h2m-2 2h2m-2 9h2m-2 9h2m-1-26h2m-2 8h2m-2 0h2m-2 5h2m-2 3h2m-1-35h2m-2 14h2m-2 0h2m-1 7h2m-2 15h2m-1-23h2m-2 4h2m-2 0h2m-2 9h2m-2 4h2m-2 6h2m-1-39h2m-2 2h2m-2 12h2m-2 6h2m-2 8h2m-2 11h2m-1-36h2m-2 11h2m-2 0h2m-2 1h2m-2 2h2m-2 3h2m-2 1h2m-2 3h2m-2 3h2m-1-29h2m-2 20h2m-2 1h2m-2 8h2m-2 2h2m-2 6h2m-2 4h2m-2 5h2m-1-25h2m-2 18h2m-2 1h2m-1-29h2m-2 2h2m-2 6h2m-2 1h2m-2 5h2m-2 11h2m-1-16h2m-2 1h2m-2 1h2m-2 0h2m-2 1h2m-2 1h2m-2 3h2m-1-14h2m-2 5h2m-2 1h2m-2 2h2m-2 2h2m-2 2h2m-2 2h2m-2 5h2m-1-21h2m-2 6h2m-2 1h2m-2 1h2m-2 3h2m-2 9h2m-2 1h2m-1-17h2m-2 16h2m-2 0h2m-2 5h2m-2 0h2m-1-25h2m-2 24h2m-2 7h2m-2 9h2m-1-53h2m-2 15h2m-2 2h2m-2 0h2m-2 17h2m-2 6h2m-2 11h2m-1-43h2m-2 6h2m-2 6h2m-2 3h2m-1-8h2m-2 4h2m-2 6h2m-2 8h2m-1-26h2m-2 2h2m-2 9h2m-2 1h2m-2 8h2m-2 6h2m-2 1h2m-2 4h2m-1-33h2m-2 3h2m-2 13h2m-2 2h2m-2 13h2m-1-33h2m-2 6h2m-2 3h2m-2 2h2m-2 5h2m-2 17h2m-2 13h2m-1-30h2m-2 5h2m-2 5h2m-1-10h2m-2 7h2m-2 1h2m-2 0h2m-2 3h2m-2 1h2m-2 5h2m-2 5h2m-1-29h2m-2 6h2m-2 12h2m-2 3h2m-1-20h2m-2 1h2m-2 11h2m-2 5h2m-2 3h2m-1-31h2m-2 8h2m-2 9h2m-2 16h2m-2 7h2m-1-33h2m-2 14h2m-2 1h2m-2 2h2m-2 5h2m-2 5h2m-1-26h2m-2 5h2m-2 5h2m-2 4h2m-2 6h2m-2 0h2m-2 7h2m-2 8h2m-1-24h2m-2 4h2m-2 8h2m-1-20h2m-2 0h2m-2 8h2m-2 18h2m-2 11h2m-1-45h2m-2 19h2m-2 3h2m-2 4h2m-2 2h2m-1-15h2m-2 15h2m-2 5h2m-2 7h2m-1-40h2m-2 17h2m-2 10h2m-2 0h2m-2 5h2m-2 1h2m-1-17h2m-2 9h2m-2 2h2m-1-6h2m-2 5h2m-2 2h2m-1 1h2m-2 2h2m-2 0h2m-2 4h2m-1-12h2m-2 5h2m-2 2h2m-1-28h2m-2 11h2m-2 3h2m-2 16h2m-1-23h2m-2 5h2m-2 2h2m-2 4h2m-2 13h2m-1-28h2m-2 11h2m-2 7h2m-2 0h2m-2 5h2m-1-17h2m-2 3h2m-2 4h2m-2 10h2m-2 12h2m-1-37h2m-2 17h2m-2 34h2m-1-31h2m-1-25h2m-2 12h2m-2 4h2m-2 2h2m-2 4h2m-2 7h2m-2 2h2m-1-18h2m-2 6h2m-2 1h2m-2 13h2m-2 5h2m-1-22h2m-2 12h2m-2 3h2m-2 4h2m-2 18h2m-1-37h2m-2 2h2m-2 9h2m-2 5h2m-2 2h2m-1-26h2m-2 23h2m-1-30h2m-2 17h2m-2 14h2m-2 5h2m-2 11h2m-1-45h2m-2 19h2m-2 6h2m-2 5h2m-2 2h2m-2 0h2m-1-38h2m-2 22h2m-2 2h2m-2 4h2m-2 4h2m-2 2h2m-2 1h2m-2 1h2m-2 0h2m-2 4h2m-1-26h2m-1 6h2m-2 6h2m-2 4h2m-2 12h2m-1-44h2m-2 28h2m-2 2h2m-2 26h2m-1-43h2m-2 9h2m-2 5h2m-2 1h2m-2 6h2m-1-21h2m-2 10h2m-2 3h2m-2 6h2m-1-21h2m-2 9h2m-2 5h2m-2 12h2m-2 2h2m-2 4h2m-2 2h2m-2 9h2m-1-13h2m-1-18h2m-2 5h2m-2 5h2m-2 5h2m-2 0h2m-2 0h2m-2 7h2m-1-29h2m-2 9h2m-2 0h2m-2 9h2m-2 4h2m-2 14h2m-1-29h2m-2 3h2m-2 1h2m-2 12h2m-2 3h2m-2 16h2m-1-35h2m-2 5h2m-2 4h2m-2 1h2m-2 6h2m-2 3h2m-2 16h2m-1-48h2m-2 19h2m-2 1h2m-2 8h2m-2 18h2m-1-35h2m-2 2h2m-2 5h2m-2 5h2m-2 2h2m-2 2h2m-2 9h2m-2 10h2m-1-38h2m-2 5h2m-2 5h2m-2 2h2m-2 4h2m-2 1h2m-1-36h2m-2 0h2m-2 2h2m-2 14h2m-2 2h2m-2 4h2m-2 10h2m-2 0h2m-2 2h2m-2 3h2m-1-30h2m-2 14h2m-2 14h2m-2 0h2m-2 2h2m-2 11h2m-1-25h2m-2 9h2m-2 1h2m-2 14h2m-1-18h2m-2 34h2m-1-35h2m-2 12h2m-2 2h2m-2 9h2m-1-48h2m-2 16h2m-2 6h2m-2 1h2m-2 1h2m-2 1h2m-2 7h2m-1-20h2m-2 8h2m-1-21h2m-2 19h2m-2 2h2m-2 2h2m-2 2h2m-2 0h2m-2 4h2m-2 1h2m-2 21h2m-1-36h2m-2 9h2m-1-19h2m-2 27h2m-2 6h2m-1-17h2m-2 4h2m-2 2h2m-2 7h2m-2 0h2m-2 2h2m-2 0h2m-1-13h2m-2 2h2m-2 7h2m-1-7h2m-2 10h2m-1-29h2m-2 2h2m-2 12h2m-2 2h2m-2 1h2m-2 3h2m-2 2h2m-2 5h2m-2 8h2m-1-48h2m-2 24h2m-2 2h2m-2 15h2m-2 8h2m-2 2h2m-2 6h2m-2 11h2m-1-45h2m-2 4h2m-2 17h2m-1-18h2m-2 13h2m-2 0h2m-2 6h2m-2 1h2m-2 2h2m-2 8h2m-1-30h2m-2 12h2m-2 5h2m-2 3h2m-1-15h2m-2 2h2m-2 1h2m-2 0h2m-1-12h2m-2 11h2m-1-13h2m-2 8h2m-2 8h2m-2 3h2m-2 1h2m-2 3h2m-1-14h2m-2 8h2m-2 7h2m-2 1h2m-2 3h2m-2 14h2" stroke="#3a80c4" stroke-width="1.5" fill="none"/>
<path d="M1275 3322.8V3602.5M2115 3112.1V3602.5M1266 3322.8H1275M1269 3340.3H1275M1269 3357.8H1275M1269 3375.3H1275M1266 3392.8H1275M1269 3410.2H1275M1269 3427.7H1275M1269 3445.2H1275M1266 3462.7H1275M1269 3480.2H1275M1269 3497.7H1275M1269 3515.2H1275M1266 3532.6H1275M1269 3550.1H1275M1269 3567.6H1275M1269 3585.1H1275M1266 3602.6H1275M2115 3462.7H2124M2115 3445.2H2121M2115 3427.6H2121M2115 3410.1H2121M2115 3392.6H2121M2115 3375H2124M2115 3357.5H2121M2115 3340H2121M2115 3322.5H2121M2115 3304.9H2121M2115 3287.4H2124M2115 3269.9H2121M2115 3252.3H2121M2115 3234.8H2121M2115 3217.3H2121M2115 3199.8H2124M2115 3182.2H2121M2115 3164.7H2121M2115 3147.2H2121M2115 3129.6H2121M2115 3112.1H2124" stroke="#000" stroke-width="1.8" fill="none"/>
<path d="M1275 3462.7H2124" stroke="#000" stroke-width="2.2"/>
<path d="M1376 3462.7v-5M1477 3462.7v-5M1578 3462.7v-5M1679 3462.7v-8M1780 3462.7v-5M1881 3462.7v-5M1982 3462.7v-5M2083 3462.7v-8" stroke="#000" stroke-width="2" fill="none"/>
<path d="M1275.3 3200.2C1276.2 3208.7 1278.4 3232.8 1280.4 3251.6C1282.5 3270.5 1284.7 3298 1287.3 3313.4C1289.9 3328.9 1293.3 3343.2 1295.9 3344.3C1298.5 3345.5 1300.5 3332.9 1302.8 3320.3C1305.1 3307.7 1307.3 3284.8 1309.6 3268.8C1311.9 3252.8 1313.9 3234.5 1316.5 3224.2C1319.1 3213.9 1321.9 3212.2 1325.1 3207C1328.2 3201.9 1332.2 3196.3 1335.4 3193.3C1338.5 3190.3 1340.8 3190.9 1344 3189.2C1347.1 3187.4 1350.3 3185.7 1354.3 3183C1358.3 3180.2 1363.4 3175 1368 3172.7C1372.6 3170.4 1377.4 3169.4 1381.7 3169.3C1386 3169.1 1390.3 3173.7 1393.7 3172C1397.2 3170.3 1399.2 3164.8 1402.3 3159C1405.5 3153.1 1410 3139.8 1412.6 3136.6C1415.2 3133.5 1416 3134.6 1417.8 3140.1C1419.5 3145.5 1420.9 3156.4 1422.9 3169.3C1424.9 3182.1 1427.5 3203 1429.8 3217.3C1432.1 3231.6 1434.5 3244.2 1436.6 3255.1C1438.8 3265.9 1440.5 3281.4 1442.8 3282.5C1445.1 3283.7 1448 3271.7 1450.4 3261.9C1452.8 3252.2 1454.7 3236.2 1457.2 3224.2C1459.8 3212.2 1462.4 3197.3 1465.8 3189.9C1469.3 3182.4 1473.8 3183.3 1477.8 3179.6C1481.8 3175.8 1485.8 3174.4 1489.9 3167.5C1493.9 3160.7 1498.4 3145.8 1501.9 3138.4C1505.3 3130.9 1507.6 3123.5 1510.5 3122.9C1513.3 3122.3 1515.6 3128.3 1519 3134.9C1522.5 3141.5 1527.6 3159 1531 3162.4C1534.5 3165.8 1536.5 3161.2 1539.6 3155.5C1542.8 3149.8 1546.8 3135.1 1549.9 3128.1C1553.1 3121 1555.7 3113.3 1558.5 3113.3C1561.4 3113.3 1564.5 3119.3 1567.1 3128.1C1569.7 3136.8 1571.7 3150.9 1574 3165.8C1576.2 3180.7 1578.3 3199.6 1580.8 3217.3C1583.4 3235.1 1586.5 3256.8 1589.4 3272.2C1592.3 3287.7 1595.4 3301.7 1598 3310C1600.6 3318.3 1602.3 3322.6 1604.9 3322C1607.4 3321.4 1610 3311.4 1613.4 3306.6C1616.9 3301.7 1621.7 3298.6 1625.5 3292.8C1629.2 3287.1 1632.6 3278.5 1635.8 3272.2C1638.9 3265.9 1640.9 3257.1 1644.3 3255.1C1647.8 3253.1 1652.3 3259.1 1656.3 3260.2C1660.4 3261.4 1664.4 3265.1 1668.4 3261.9C1672.4 3258.8 1676.1 3248.8 1680.4 3241.3C1684.7 3233.9 1690.1 3223 1694.1 3217.3C1698.1 3211.6 1702.3 3208.6 1704.4 3207C1706.6 3205.5 1705.4 3206.9 1707 3208C1708.6 3209.2 1711.6 3211.2 1713.9 3213.9C1716.2 3216.6 1718.2 3221.9 1720.7 3224.2C1723.3 3226.5 1726.5 3225.9 1729.3 3227.6C1732.2 3229.3 1734.8 3233.2 1737.9 3234.5C1741.1 3235.7 1745.1 3234.6 1748.2 3235.2C1751.4 3235.7 1754.2 3240.3 1756.8 3237.9C1759.4 3235.5 1761.1 3229.9 1763.7 3220.7C1766.2 3211.6 1769.4 3192.5 1772.2 3183C1775.1 3173.4 1778.2 3164.6 1780.8 3163.4C1783.4 3162.3 1784.8 3167.1 1787.7 3176.1C1790.5 3185.1 1795.1 3205.9 1798 3217.3C1800.8 3228.8 1802.6 3237.8 1804.9 3244.8C1807.1 3251.8 1809.4 3260.3 1811.7 3259.2C1814 3258.1 1816 3245.5 1818.6 3237.9C1821.2 3230.4 1824 3220.2 1827.2 3213.9C1830.3 3207.6 1833.7 3201.6 1837.5 3200.2C1841.2 3198.7 1845.8 3201.3 1849.5 3205.3C1853.2 3209.3 1856.3 3217 1859.8 3224.2C1863.2 3231.3 1867.2 3242.8 1870.1 3248.2C1872.9 3253.6 1874.4 3258.5 1876.9 3256.8C1879.5 3255.1 1882.7 3246.8 1885.5 3237.9C1888.4 3229 1891.2 3211.1 1894.1 3203.6C1897 3196 1898.7 3193.5 1902.7 3192.6C1906.7 3191.7 1913.8 3200.6 1918.1 3198.4C1922.4 3196.3 1925 3185.6 1928.4 3179.6C1931.9 3173.5 1935.9 3163 1938.7 3162.4C1941.6 3161.8 1943.3 3165.8 1945.6 3176.1C1947.9 3186.4 1950.2 3209.9 1952.5 3224.2C1954.8 3238.5 1957.3 3251.4 1959.3 3261.9C1961.3 3272.5 1962.2 3286 1964.5 3287.7C1966.8 3289.4 1969.9 3278.6 1973.1 3272.2C1976.2 3265.8 1980.2 3251.2 1983.4 3249.2C1986.5 3247.2 1989.1 3254.1 1991.9 3260.2C1994.8 3266.3 1997.7 3277.1 2000.5 3286C2003.4 3294.8 2006.5 3305.7 2009.1 3313.4C2011.7 3321.2 2013.4 3331.7 2016 3332.3C2018.5 3332.9 2021.7 3324 2024.6 3316.9C2027.4 3309.7 2030.6 3295.7 2033.1 3289.4C2035.7 3283.1 2037.4 3278.5 2040 3279.1C2042.6 3279.7 2045.7 3287.6 2048.6 3292.8C2051.4 3298.1 2054.3 3307.3 2057.2 3310.7C2060 3314.1 2062.6 3314.1 2065.8 3313.4C2068.9 3312.7 2072.6 3309 2076.1 3306.6C2079.5 3304.2 2082.6 3300.7 2086.3 3299C2090.1 3297.3 2094.9 3299 2098.4 3296.3C2101.8 3293.5 2104.4 3285.4 2106.9 3282.5C2109.5 3279.7 2112.7 3279.7 2113.8 3279.1" stroke="#f6a66a" stroke-width="2.6" fill="none" stroke-linejoin="round"/>
<path d="M1275.3 3287.7C1277 3295.4 1282.1 3321.8 1285.6 3334C1289.1 3346.2 1292.9 3359.1 1296.6 3360.8C1300.3 3362.5 1304 3355.7 1307.9 3344.3C1311.8 3333 1315.9 3314 1319.9 3292.8C1323.9 3271.7 1328.5 3240.2 1331.9 3217.3C1335.4 3194.4 1337.9 3172.1 1340.5 3155.5C1343.1 3138.9 1345.2 3124.9 1347.4 3117.8C1349.6 3110.6 1351.3 3112 1353.6 3112.6C1355.9 3113.2 1358.7 3117.5 1361.1 3121.2C1363.5 3124.9 1365.7 3131.5 1368 3134.9C1370.3 3138.4 1372.6 3142.1 1374.9 3141.8C1377.1 3141.5 1379.4 3135.2 1381.7 3133.2C1384 3131.2 1386 3128.9 1388.6 3129.8C1391.2 3130.6 1394 3134.1 1397.2 3138.4C1400.3 3142.7 1404.3 3151.2 1407.5 3155.5C1410.6 3159.8 1413.2 3157.8 1416 3164.1C1418.9 3170.4 1421.8 3181.6 1424.6 3193.3C1427.5 3205 1430.6 3220.2 1433.2 3234.5C1435.8 3248.8 1438.2 3268.8 1440.1 3279.1C1441.9 3289.4 1442.5 3296.3 1444.2 3296.3C1445.9 3296.3 1447.9 3291.1 1450.4 3279.1C1452.8 3267.1 1456.1 3240.2 1459 3224.2C1461.8 3208.2 1465.1 3192.3 1467.5 3183C1469.9 3173.7 1471.1 3168.6 1473.4 3168.6C1475.7 3168.6 1478.2 3176 1481.3 3183C1484.3 3190 1488.1 3203.6 1491.6 3210.4C1495 3217.3 1497.9 3221 1501.9 3224.2C1505.9 3227.3 1511.3 3227.6 1515.6 3229.3C1519.9 3231 1523.9 3235.3 1527.6 3234.5C1531.3 3233.6 1535.1 3226.8 1537.9 3224.2C1540.8 3221.6 1541.9 3218.7 1544.8 3219C1547.6 3219.3 1551.4 3224.2 1555.1 3225.9C1558.8 3227.6 1563.9 3226.8 1567.1 3229.3C1570.2 3231.9 1571.7 3234.8 1574 3241.3C1576.2 3247.9 1578.3 3255.6 1580.8 3268.8C1583.4 3282 1586.8 3307.1 1589.4 3320.3C1592 3333.5 1593.7 3341.6 1596.3 3347.8C1598.8 3353.9 1602 3357.9 1604.9 3357.4C1607.7 3356.8 1610.6 3347.1 1613.4 3344.3C1616.3 3341.6 1618.6 3342.9 1622 3340.9C1625.5 3338.9 1630 3334.6 1634 3332.3C1638 3330 1642 3327.5 1646.1 3327.2C1650.1 3326.9 1654.1 3331.2 1658.1 3330.6C1662.1 3330 1666.1 3326.1 1670.1 3323.7C1674.1 3321.3 1678.1 3317.3 1682.1 3316.2C1686.1 3315 1690.1 3317.4 1694.1 3316.9C1698.1 3316.3 1701.4 3311.5 1706.1 3312.7C1710.9 3314 1718 3322.9 1722.5 3324.4C1726.9 3326 1729.9 3323.3 1732.8 3322C1735.6 3320.8 1737.1 3320.4 1739.6 3316.9C1742.2 3313.3 1745.1 3302.6 1748.2 3300.7C1751.4 3298.9 1755.4 3307.2 1758.5 3305.9C1761.7 3304.6 1763.9 3300.7 1767.1 3292.8C1770.2 3284.9 1774.2 3266.6 1777.4 3258.5C1780.5 3250.4 1783.1 3242.9 1786 3244.1C1788.8 3245.2 1791.7 3257.8 1794.6 3265.4C1797.4 3272.9 1800 3283.2 1803.1 3289.4C1806.3 3295.6 1810 3301.4 1813.4 3302.5C1816.9 3303.5 1820.3 3297.3 1823.7 3295.6C1827.2 3293.9 1830.9 3292.3 1834 3292.2C1837.2 3292 1839.5 3291.9 1842.6 3294.6C1845.8 3297.2 1848.9 3302.9 1852.9 3308.3C1856.9 3313.7 1861.8 3320.9 1866.6 3327.2C1871.5 3333.5 1878.1 3343.5 1882.1 3346C1886.1 3348.6 1887.5 3344 1890.7 3342.6C1893.8 3341.2 1897 3337.2 1901 3337.5C1905 3337.8 1910.1 3346 1914.7 3344.3C1919.3 3342.6 1924.5 3331.2 1928.4 3327.2C1932.3 3323.2 1934.9 3319.2 1938 3320.3C1941.2 3321.4 1944.3 3326.9 1947.3 3334C1950.3 3341.2 1953 3356.5 1955.9 3363.2C1958.8 3370 1961.6 3374 1964.5 3374.5C1967.3 3375.1 1970.2 3369.5 1973.1 3366.6C1975.9 3363.8 1978.8 3357.9 1981.6 3357.4C1984.5 3356.8 1987.1 3360.1 1990.2 3363.2C1993.4 3366.3 1996.5 3371.7 2000.5 3375.9C2004.5 3380.1 2010.3 3387.2 2014.3 3388.3C2018.3 3389.3 2021.1 3384.7 2024.6 3382.1C2028 3379.5 2031.4 3373.4 2034.9 3372.8C2038.3 3372.3 2041.7 3375.4 2045.2 3378.7C2048.6 3381.9 2052.3 3389.5 2055.5 3392.4C2058.6 3395.3 2060.6 3396.7 2064 3395.8C2067.5 3395 2071.8 3389.2 2076.1 3387.2C2080.3 3385.2 2084.9 3384.8 2089.8 3383.8C2094.6 3382.8 2100.9 3381.2 2105.2 3381.4C2109.5 3381.6 2113.8 3384.3 2115.5 3384.8" stroke="#2e6fe0" stroke-width="2.6" fill="none" stroke-linejoin="round"/>
<path d="M1275.3 3292.8C1277 3300.8 1282.1 3327.3 1285.6 3340.9C1289.1 3354.5 1292.9 3372.8 1296.6 3374.5C1300.3 3376.3 1304 3364.8 1307.9 3351.2C1311.8 3337.6 1315.9 3315.2 1319.9 3292.8C1323.9 3270.5 1328.2 3240.2 1331.9 3217.3C1335.7 3194.4 1338.8 3171.5 1342.2 3155.5C1345.7 3139.5 1349.7 3128.2 1352.5 3121.2C1355.4 3114.2 1356.8 3113.9 1359.4 3113.6C1362 3113.4 1365.4 3117.9 1368 3119.5C1370.6 3121 1372.3 3122.9 1374.9 3122.9C1377.4 3122.9 1380.6 3119.2 1383.4 3119.5C1386.3 3119.8 1388.9 3120.3 1392 3124.6C1395.2 3128.9 1398.9 3138.4 1402.3 3145.2C1405.7 3152.1 1409.2 3157.8 1412.6 3165.8C1416 3173.8 1420.1 3183.6 1422.9 3193.3C1425.8 3203 1427.5 3211 1429.8 3224.2C1432.1 3237.3 1434.4 3258.1 1436.6 3272.2C1438.9 3286.4 1441.2 3305.9 1443.5 3309.3C1445.8 3312.7 1447.8 3305.3 1450.4 3292.8C1453 3280.4 1456.4 3253.4 1459 3234.5C1461.5 3215.6 1463.5 3195.9 1465.8 3179.6C1468.1 3163.2 1470.4 3141.8 1472.7 3136.6C1475 3131.5 1477 3139.2 1479.6 3148.7C1482.1 3158.1 1485 3179.6 1488.1 3193.3C1491.3 3207 1495 3221.3 1498.4 3231C1501.9 3240.8 1505 3246.4 1508.7 3251.6C1512.5 3256.9 1517.3 3262.6 1520.8 3262.6C1524.2 3262.6 1526.2 3257.5 1529.3 3251.6C1532.5 3245.8 1536.8 3232.3 1539.6 3227.6C1542.5 3222.9 1543.6 3222.9 1546.5 3223.5C1549.4 3224.1 1553.4 3229.2 1556.8 3231C1560.2 3232.9 1564.2 3232.2 1567.1 3234.5C1570 3236.8 1571.7 3238.5 1574 3244.8C1576.2 3251.1 1578.3 3259.7 1580.8 3272.2C1583.4 3284.8 1586.8 3306.6 1589.4 3320.3C1592 3334 1593.8 3346.3 1596.3 3354.6C1598.7 3362.9 1601.6 3369.5 1604.2 3370.1C1606.7 3370.7 1609.3 3361.8 1611.7 3358.1C1614.1 3354.3 1615.2 3349.2 1618.6 3347.8C1622 3346.3 1627.7 3348.7 1632.3 3349.5C1636.9 3350.2 1642 3351.7 1646.1 3352.2C1650.1 3352.8 1652.3 3354.8 1656.3 3352.9C1660.4 3351 1665.8 3345.2 1670.1 3340.9C1674.4 3336.6 1678.1 3328.9 1682.1 3327.2C1686.1 3325.5 1690.4 3330.9 1694.1 3330.6C1697.8 3330.3 1702.3 3326.1 1704.4 3325.5C1706.6 3324.8 1704 3325.1 1707 3326.5C1710 3327.9 1717.6 3335.6 1722.5 3334C1727.3 3332.4 1732.2 3322.6 1736.2 3316.9C1740.2 3311.1 1743.6 3302 1746.5 3299.7C1749.4 3297.4 1750.8 3299 1753.4 3303.1C1755.9 3307.3 1759.1 3324.4 1761.9 3324.4C1764.8 3324.4 1767.7 3311.8 1770.5 3303.1C1773.4 3294.4 1776.4 3280 1779.1 3272.2C1781.9 3264.5 1784.4 3255.6 1787 3256.8C1789.6 3257.9 1791.9 3270.2 1794.6 3279.1C1797.2 3288 1800 3302.7 1803.1 3310C1806.3 3317.3 1810 3321.6 1813.4 3322.7C1816.9 3323.8 1820.6 3318.4 1823.7 3316.9C1826.9 3315.3 1828.6 3312 1832.3 3313.4C1836 3314.9 1841.5 3321.7 1846 3325.5C1850.6 3329.2 1855.2 3332.3 1859.8 3335.8C1864.4 3339.2 1869.8 3342.9 1873.5 3346C1877.2 3349.2 1878.9 3354.1 1882.1 3354.6C1885.2 3355.2 1889.2 3350.9 1892.4 3349.5C1895.5 3348.1 1897.3 3346.2 1901 3346C1904.7 3345.9 1910.1 3349.7 1914.7 3348.8C1919.3 3347.9 1924.5 3343.2 1928.4 3340.9C1932.3 3338.6 1934.9 3334.1 1938 3334.7C1941.2 3335.3 1944.3 3339.3 1947.3 3344.3C1950.3 3349.4 1953 3359.9 1955.9 3364.9C1958.8 3370 1961.6 3374 1964.5 3374.5C1967.3 3375.1 1970.5 3370.4 1973.1 3368.4C1975.6 3366.3 1977.1 3361.6 1979.9 3362.2C1982.8 3362.8 1986.8 3368.5 1990.2 3371.8C1993.7 3375.1 1997.1 3379.3 2000.5 3382.1C2004 3384.8 2007.4 3387.7 2010.8 3388.3C2014.3 3388.8 2017.4 3387.4 2021.1 3385.5C2024.8 3383.6 2029.7 3378.1 2033.1 3376.9C2036.6 3375.8 2038 3376 2041.7 3378.7C2045.4 3381.4 2051.4 3391.4 2055.5 3393.1C2059.5 3394.8 2062.3 3390.8 2065.8 3389C2069.2 3387.1 2072 3383.5 2076.1 3382.1C2080.1 3380.7 2084.9 3380.9 2089.8 3380.4C2094.6 3379.8 2100.9 3378.4 2105.2 3378.7C2109.5 3378.9 2113.8 3381.5 2115.5 3382.1" stroke="#1ec31e" stroke-width="2.8" fill="none" stroke-linejoin="round"/>
<g font-family="Liberation Sans, sans-serif" font-weight="bold" font-size="22" fill="#000" text-anchor="end">
<text x="1247.5" y="3330.8">0.1</text>
<text x="1247.5" y="3400.8">0.05</text>
<text x="1247.5" y="3470.7">0</text>
<text x="1247.5" y="3540.6">0.05</text>
<text x="1247.5" y="3610.5">0.1</text>
</g>
<g font-family="Liberation Sans, sans-serif" font-weight="bold" font-size="22" fill="#000">
<text x="2143.7" y="3463.2">0</text>
<text x="2143.7" y="3375.5">25</text>
<text x="2143.7" y="3287.9">50</text>
<text x="2143.7" y="3200.2">75</text>
<text x="2143.7" y="3112.6">100</text>
</g>
<text transform="translate(1194.5 3452.7) rotate(-90)" font-family="Liberation Sans, sans-serif" font-weight="bold" font-size="26.8" text-anchor="middle">mC per 10kb</text>
<text transform="translate(2212.5 3357.3) rotate(-90)" font-family="Liberation Sans, sans-serif" font-weight="bold" font-size="26.8" text-anchor="middle">Normalized mC density per 100 kb</text>
<g font-family="Liberation Sans, sans-serif" font-weight="bold" font-size="26" fill="#2471b0"><text x="1289.7" y="3337.8">Watson</text><text x="1289.7" y="3616.5">Crick</text></g>
<g font-family="Liberation Serif, serif" font-weight="bold" font-size="31" text-anchor="middle"><text x="1725.7" y="3645">20Mb</text><text x="2117" y="3645">40Mb</text></g>
<text x="1693" y="3693.5" font-family="Liberation Sans, sans-serif" font-weight="bold" font-size="27" text-anchor="middle">C08</text>
<text x="603" y="3819.5" font-family="Liberation Serif, serif" font-weight="bold" font-size="60" text-anchor="middle">F</text>
<g stroke-width="2.6"><path d="M283 3896.8h69" stroke="#1ec31e"/><path d="M493.8 3896.8h68.5" stroke="#2e6fe0"/><path d="M724 3896.8h69" stroke="#f6a66a"/></g>
<g font-family="Liberation Sans, sans-serif" font-weight="bold" font-size="24.5" fill="#000"><text x="360" y="3905.8">mCG/CG</text><text x="571.6" y="3905.8">mCHG/CHG</text><text x="802" y="3905.8">mCHH/CHH</text></g>
<path d="M179 4259h2m-2 0h2m-2 19h2m-2 6h2m-1-31h2m-2 9h2m-2 0h2m-2 1h2m-2 1h2m-2 2h2m-2 5h2m-2 1h2m-2 1h2m-2 2h2m-2 11h2m-1-24h2m-2 5h2m-2 4h2m-2 2h2m-1 2h2m-1-21h2m-2 6h2m-2 3h2m-2 3h2m-2 8h2m-2 3h2m-2 10h2m-2 2h2m-1-26h2m-2 19h2m-2 5h2m-1-40h2m-2 9h2m-2 6h2m-2 1h2m-2 0h2m-2 1h2m-2 2h2m-2 5h2m-2 16h2m-1-23h2m-2 28h2m-1-39h2m-2 14h2m-2 0h2m-2 5h2m-2 1h2m-1-13h2m-2 3h2m-2 3h2m-2 3h2m-2 1h2m-1-6h2m-2 0h2m-2 25h2m-1-34h2m-2 8h2m-2 3h2m-2 4h2m-1-7h2m-2 1h2m-2 1h2m-2 0h2m-2 1h2m-2 4h2m-2 2h2m-2 11h2m-1-23h2m-2 2h2m-2 3h2m-2 2h2m-2 12h2m-1-8h2m-2 6h2m-2 3h2m-1-10h2m-2 0h2m-2 0h2m-2 5h2m-2 10h2m-1-20h2m-2 24h2m-1-22h2m-2 2h2m-2 12h2m-1 1h2m-1-19h2m-2 2h2m-2 5h2m-2 5h2m-1-9h2m-2 3h2m-2 3h2m-2 1h2m-2 21h2m-1-33h2m-2 2h2m-2 1h2m-2 3h2m-2 1h2m-1-13h2m-2 4h2m-2 4h2m-2 1h2m-2 5h2m-2 6h2m-2 2h2m-2 6h2m-1-21h2m-2 1h2m-1-4h2m-2 13h2m-2 3h2m-2 3h2m-2 0h2m-2 5h2m-2 1h2m-1-23h2m-2 4h2m-2 1h2m-2 2h2m-2 11h2m-1-24h2m-2 7h2m-2 2h2m-2 14h2m-2 10h2m-1-28h2m-2 5h2m-2 7h2m-1-18h2m-2 5h2m-2 4h2m-2 1h2m-2 6h2m-2 1h2m-2 4h2m-2 1h2m-1-15h2m-2 4h2m-2 6h2m-1-15h2m-2 1h2m-2 3h2m-2 3h2m-2 3h2m-2 5h2m-1-15h2m-2 1h2m-2 23h2m-1-27h2m-2 10h2m-2 1h2m-2 6h2m-2 10h2m-2 7h2m-1-36h2m-2 3h2m-2 11h2m-2 2h2m-2 15h2m-1-27h2m-2 5h2m-2 2h2m-2 2h2m-2 2h2m-2 3h2m-2 3h2m-2 4h2m-2 11h2m-2 4h2m-2 3h2m-1-29h2m-2 1h2m-1-2h2m-2 1h2m-2 4h2m-2 25h2m-1-31h2m-2 2h2m-2 5h2m-2 2h2m-2 5h2m-2 7h2m-1-26h2m-2 7h2m-2 2h2m-2 8h2m-2 0h2m-1-23h2m-2 9h2m-2 1h2m-2 1h2m-2 16h2m-1-27h2m-2 1h2m-2 9h2m-2 9h2m-2 7h2m-2 3h2m-2 13h2m-1-35h2m-2 1h2m-2 6h2m-2 9h2m-2 1h2m-2 1h2m-1-14h2m-2 4h2m-2 0h2m-2 10h2m-1-14h2m-2 1h2m-1-8h2m-2 1h2m-2 4h2m-2 1h2m-2 1h2m-2 4h2m-2 2h2m-2 7h2m-1-13h2m-2 7h2m-2 4h2m-2 8h2m-2 8h2m-1-29h2m-1 9h2m-2 13h2m-2 0h2m-2 3h2m-2 6h2m-1-36h2m-2 35h2m-1-38h2m-2 4h2m-2 2h2m-2 3h2m-2 1h2m-2 0h2m-2 2h2m-2 1h2m-2 1h2m-2 2h2m-2 8h2m-2 11h2m-1-30h2m-2 8h2m-2 6h2m-2 5h2m-2 4h2m-1-21h2m-2 1h2m-2 3h2m-2 5h2m-2 4h2m-1-10h2m-2 3h2m-1 2h2m-1-13h2m-2 1h2m-2 7h2m-2 1h2m-2 3h2m-2 5h2m-2 0h2m-2 4h2m-2 9h2m-1-40h2m-2 13h2m-2 5h2m-2 0h2m-2 9h2m-1-3h2m-2 6h2m-2 1h2m-2 2h2m-1-19h2m-2 2h2m-2 2h2m-2 8h2m-2 0h2m-2 2h2m-2 0h2m-2 10h2m-2 4h2m-2 2h2m-1-33h2m-2 6h2m-2 4h2m-2 1h2m-2 0h2m-2 9h2m-2 6h2m-2 7h2m-1-42h2m-2 7h2m-2 5h2m-2 3h2m-2 2h2m-2 1h2m-2 6h2m-1-14h2m-2 3h2m-2 1h2m-2 3h2m-2 1h2m-1 12h2m-2 1h2m-1-7h2m-2 12h2m-2 15h2m-1-35h2m-2 4h2m-2 1h2m-2 1h2m-2 1h2m-2 5h2m-2 24h2m-1-43h2m-2 2h2m-2 23h2m-1-29h2m-2 7h2m-2 3h2m-2 11h2m-2 3h2m-1-33h2m-2 20h2m-2 2h2m-2 9h2m-2 17h2m-1-31h2m-2 1h2m-2 3h2m-2 1h2m-2 7h2m-2 4h2m-2 3h2m-2 12h2m-1-36h2m-2 7h2m-2 1h2m-2 1h2m-2 6h2m-2 1h2m-2 3h2m-2 8h2m-1-36h2m-2 16h2m-2 4h2m-2 5h2m-2 10h2m-1-38h2m-2 10h2m-2 0h2m-2 1h2m-2 3h2m-2 2h2m-2 0h2m-2 4h2m-2 2h2m-2 3h2m-2 9h2m-2 17h2m-1-46h2m-2 19h2m-2 5h2m-2 1h2m-2 8h2m-2 6h2m-2 5h2m-1-34h2m-2 3h2m-2 4h2m-2 6h2m-2 4h2m-2 22h2m-1-44h2m-2 19h2m-2 2h2m-2 10h2m-2 9h2m-1-33h2m-2 1h2m-2 2h2m-2 8h2m-2 1h2m-2 2h2m-2 4h2m-2 3h2m-2 7h2m-2 3h2m-2 0h2m-2 21h2m-1-49h2m-2 11h2m-2 12h2m-2 12h2m-1-49h2m-2 22h2m-2 3h2m-1-20h2m-2 6h2m-2 1h2m-2 4h2m-2 0h2m-2 6h2m-2 1h2m-2 5h2m-2 8h2m-2 12h2m-1-23h2m-1-13h2m-2 4h2m-2 1h2m-2 10h2m-2 9h2m-2 3h2m-2 3h2m-2 1h2m-1-40h2m-2 12h2m-2 21h2m-1-22h2m-1-4h2m-2 6h2m-2 10h2m-2 7h2m-2 13h2m-2 3h2m-1-44h2m-2 5h2m-2 1h2m-2 6h2m-1-2h2m-2 0h2m-2 3h2m-2 4h2m-2 0h2m-2 0h2m-2 17h2m-1-30h2m-2 4h2m-2 2h2m-2 2h2m-2 17h2m-2 1h2m-1-34h2m-2 5h2m-2 2h2m-2 4h2m-2 11h2m-2 2h2m-1-15h2m-2 3h2m-2 4h2m-2 1h2m-2 4h2m-2 9h2m-2 12h2m-1-35h2m-2 4h2m-2 0h2m-2 0h2m-2 0h2m-2 4h2m-2 8h2m-1-7h2m-2 3h2m-2 1h2m-2 3h2m-2 5h2m-2 4h2m-2 6h2m-2 1h2m-2 4h2m-2 7h2m-1-30h2m-2 16h2m-1-21h2m-2 0h2m-2 4h2m-2 5h2m-1-23h2m-2 3h2m-2 6h2m-2 18h2m-2 13h2m-1-33h2m-2 4h2m-2 3h2m-2 7h2m-2 4h2m-2 3h2m-2 19h2m-1-41h2m-2 1h2m-2 1h2m-2 11h2m-1-16h2m-2 3h2m-2 1h2m-2 4h2m-2 2h2m-2 1h2m-2 2h2m-2 3h2m-2 27h2m-1-48h2m-2 22h2m-2 12h2m-1-37h2m-2 19h2m-2 2h2m-2 0h2m-1-12h2m-2 9h2m-2 25h2m-1-35h2m-2 1h2m-2 5h2m-2 6h2m-2 32h2m-1-45h2m-2 4h2m-2 8h2m-2 6h2m-2 13h2m0-22h2m-2 0h2m-2 2h2m-2 3h2m-2 3h2m-2 10h2m-2 3h2m-1-27h2m-2 0h2m-2 6h2m-2 2h2m-2 14h2m-2 5h2m-2 3h2m-1-29h2m-2 5h2m-2 5h2m-2 8h2m-2 19h2m-1-40h2m-2 4h2m-2 7h2m-2 7h2m-2 2h2m-2 9h2m-2 6h2m-1-29h2m-2 0h2m-2 11h2m-2 2h2m-2 2h2m-1-12h2m-2 2h2m-2 4h2m-1 3h2m-2 12h2m-1-22h2m-2 0h2m-2 1h2m-2 10h2m-2 10h2m-2 22h2m-1-47h2m-2 6h2m-2 2h2m-2 5h2m-2 3h2m-2 1h2m-1-17h2m-2 8h2m-2 0h2m-2 0h2m-2 1h2m-2 2h2m-2 5h2m-2 0h2m-2 8h2m-2 7h2m-1-43h2m-2 9h2m-2 3h2m-2 7h2m-2 0h2m-2 11h2m-2 19h2m-1-36h2m-2 4h2m-2 0h2m-2 1h2m-2 7h2m-2 11h2m-1-27h2m-2 9h2m-2 8h2m-2 0h2m-1-15h2m-2 2h2m-2 10h2m-2 3h2m-2 0h2m-1-8h2m-2 2h2m-1-16h2m-2 7h2m-2 8h2m-2 5h2m-2 19h2m-1-28h2m-2 1h2m-2 3h2m-2 2h2m-2 3h2m-2 6h2m-2 7h2m-1-20h2m-2 13h2m-1-17h2m-2 6h2m-2 1h2m-2 3h2m-2 20h2m-2 5h2m-1-37h2m-2 9h2m-2 1h2m-2 7h2m-2 5h2m-2 16h2m-2 17h2m-1-53h2m-2 0h2m-2 11h2m-2 8h2m-2 0h2m-2 7h2m-1-10h2m-2 18h2m-2 2h2m-1-33h2m-2 1h2m-2 2h2m-2 18h2m-2 2h2m-2 6h2m-1-16h2m-2 0h2m-2 4h2m-1-26h2m-2 10h2m-2 1h2m-2 3h2m-2 7h2m-2 4h2m-2 2h2m-2 5h2m-1-15h2m-2 4h2m-2 2h2m-1-28h2m-2 13h2m-2 19h2m-2 8h2m-1-30h2m-2 5h2m-2 3h2m-2 10h2m-2 5h2m-1-22h2m-2 5h2m-2 1h2m-2 1h2m-2 1h2m-2 13h2m-2 7h2m-1-3h2m-1-23h2m-2 1h2m-2 1h2m-2 7h2m-2 4h2m-1 8h2m-1-22h2m-2 4h2m-2 12h2m-2 24h2m-1-52h2m-2 8h2m-2 8h2m-2 2h2m-2 7h2m-2 3h2m-1-28h2m-2 10h2m-2 5h2m-2 1h2m-2 0h2m-2 5h2m-2 13h2m-1-23h2m-2 6h2m-2 4h2m-2 4h2m-2 6h2m-2 12h2m-1-29h2m-2 2h2m-2 10h2m-2 1h2m-2 0h2m-2 4h2m-1-27h2m-2 5h2m-2 6h2m-1-10h2m-2 7h2m-2 2h2m-2 1h2m-2 18h2m-2 4h2m-2 20h2m-1-49h2m-2 3h2m-2 1h2m-2 2h2m-2 4h2m-2 7h2m-2 15h2m-1-31h2m-2 21h2m-2 1h2m-2 4h2m-1-35h2m-2 7h2m-2 7h2m-2 5h2m-2 3h2m-2 3h2m-2 8h2m-2 4h2m-2 15h2m-1-43h2m-2 1h2m-2 2h2m-2 1h2m-2 2h2m-2 22h2m-2 2h2m-2 2h2m-1-35h2m-2 2h2m-2 2h2m-2 18h2m-2 18h2m-1-31h2m-2 1h2m-2 5h2m-2 2h2m-2 14h2m-1-23h2m-2 1h2m-2 2h2m-2 10h2m-2 9h2m-2 12h2m-1-38h2m-2 7h2m-2 1h2m-2 8h2m-1-14h2m-2 4h2m-2 0h2m-2 1h2m-2 12h2m-2 2h2m-1-20h2m-2 11h2m-2 1h2m-2 5h2m-1-17h2m-2 1h2m-2 2h2m-2 1h2m-2 2h2m-2 9h2m-2 1h2m-2 13h2m-2 8h2m-1-31h2m-2 0h2m-2 1h2m-2 3h2m-2 12h2m-2 4h2m-1-33h2m-2 6h2m-2 2h2m-2 3h2m-2 2h2m-2 1h2m-2 15h2m-2 1h2m-1-24h2m-2 6h2m-2 2h2m-2 1h2m-2 6h2m-2 5h2m-2 0h2m-2 1h2m-2 10h2m-2 1h2m-1-27h2m-2 23h2m-2 19h2m-1-53h2m-2 4h2m-2 11h2m-2 12h2m-2 2h2m-2 17h2m-1-41h2m-2 5h2m-2 4h2m-2 1h2m-2 2h2m-1-19h2m-2 7h2m-2 1h2m-2 19h2m-1-28h2m-2 11h2m-2 3h2m-2 2h2m-2 4h2m-2 0h2m-2 1h2m-2 2h2m-2 7h2m-2 2h2m-1-27h2m-2 2h2m-2 2h2m-2 15h2m-2 2h2m-2 0h2m-2 17h2m-2 9h2m-2 4h2m-1-49h2m-2 8h2m-2 11h2m-2 6h2m-2 3h2m-1-31h2m-2 18h2m-2 11h2m-2 4h2m-1-33h2m-2 4h2m-2 9h2m-2 4h2m-2 1h2m-2 2h2m-2 13h2m-1-28h2m-2 2h2m-2 6h2m-2 1h2m-2 3h2m-2 5h2m-2 5h2m-1-17h2m-2 3h2m-2 21h2m-2 0h2m-1-37h2m-2 15h2m-2 1h2m-2 0h2m-2 23h2m-1-33h2m-2 9h2m-2 1h2m-2 17h2m-2 5h2m-2 3h2m-1-45h2m-2 14h2m-2 5h2m-2 7h2m-2 1h2m-2 37h2m-1-59h2m-2 2h2m-2 10h2m-2 8h2m-2 7h2m-2 9h2m-1-36h2m-2 13h2m-2 8h2m-2 5h2m-1-13h2m-2 3h2m-2 3h2m-2 7h2m-2 17h2m-1-38h2m-2 2h2m-2 9h2m-2 12h2m-2 7h2m-2 2h2m-2 1h2m-2 1h2m-1-35h2m-2 3h2m-2 6h2m-2 5h2m-2 5h2m-1-20h2m-2 5h2m-2 1h2m-2 0h2m-2 4h2m-2 1h2m-2 17h2m-1-23h2m-2 1h2m-2 4h2m-2 1h2m-2 9h2m-2 0h2m-2 16h2m-2 14h2m-1-56h2m-2 15h2m-2 7h2m-2 2h2m-2 2h2m-2 17h2m-2 1h2m-2 5h2m-1-46h2m-2 14h2m-2 0h2m-2 50h2m-1-72h2m-2 5h2m-2 16h2m-2 5h2m-2 0h2m-2 2h2m-2 3h2m-1-9h2m-2 10h2m-2 10h2m-2 3h2m-1-34h2m-2 19h2m-2 14h2m-1-35h2m-2 5h2m-2 7h2m-2 20h2m-1-41h2m-2 13h2m-2 5h2m-2 17h2m-2 12h2m-2 21h2m-1-55h2m-2 9h2m-1-11h2m-2 6h2m-2 4h2m-2 0h2m-2 1h2m-2 1h2m-2 3h2m-2 11h2m-1-14h2m-2 5h2m-2 32h2m-1-39h2m-2 11h2m-2 15h2m-1-31h2m-2 3h2m-2 4h2m-1-2h2m-2 2h2m-2 12h2m-1-20h2m-2 6h2m-2 0h2m-2 3h2m-2 7h2m-2 5h2m-2 2h2m-2 13h2m-1-41h2m-1-5h2m-2 6h2m-2 10h2m-2 8h2m-2 15h2m-1-31h2m-2 8h2m-2 0h2m-2 1h2m-2 4h2m-2 12h2m-2 0h2m-1-15h2m-2 4h2m-2 1h2m-2 0h2m-2 3h2m-2 1h2m-2 19h2m-1-46h2m-2 7h2m-2 35h2m-1-47h2m-2 19h2m-2 3h2m-2 1h2m-2 0h2m-1-3h2m-2 1h2m-2 2h2m-2 1h2m-2 1h2m-2 21h2m-2 2h2m-1-30h2m-2 17h2m-2 2h2m-1-29h2m-2 13h2m-2 2h2m-2 11h2m-2 7h2m-2 0h2m-2 4h2m-2 16h2m-1-66h2m-2 6h2m-2 5h2m-2 23h2m-2 3h2m-2 10h2m-2 0h2m-1-30h2m-2 1h2m-2 6h2m-1-9h2m-2 6h2m-2 1h2m-2 4h2m-2 0h2m-2 1h2m-2 2h2m-2 12h2m-1-38h2m-2 20h2m-2 3h2m-2 12h2m-2 9h2m-1-29h2m-2 2h2m-2 7h2m-2 2h2m-2 0h2m-2 6h2m-2 9h2m-1-28h2m-2 10h2m-1-9h2m-2 3h2m-2 12h2m-2 3h2m-2 1h2m-2 23h2m-1-54h2m-2 8h2m-2 9h2m-2 7h2m-2 26h2m-1-45h2m-2 13h2m-2 5h2m-2 5h2m-1-20h2m-2 11h2m-2 10h2m-2 10h2m-2 3h2m-1-21h2m-2 3h2m-2 10h2m-2 2h2m-1-28h2m-2 8h2m-2 4h2m-2 2h2m-2 4h2m-2 2h2m-2 1h2m-2 6h2m-2 10h2m-1-26h2m-2 7h2m-2 1h2m-2 7h2m-2 5h2m-2 18h2m-1-60h2m-2 25h2m-2 6h2m-1-14h2m-2 4h2m-2 8h2m-2 3h2m-2 5h2m-1-15h2m-2 9h2m-2 2h2m-2 3h2m-2 7h2m-2 7h2m-2 9h2m-1-44h2m-2 5h2m-2 2h2m-2 1h2m-2 7h2m-2 15h2m-1-40h2m-2 16h2m-2 2h2m-2 2h2m-2 14h2m-2 1h2m-2 0h2m-2 4h2m-1-26h2m-2 1h2m-2 4h2m-1-31h2m-2 33h2m-2 10h2m-2 3h2m-2 5h2m-1-25h2m-2 0h2m-2 2h2m-2 2h2m-2 2h2m-2 5h2m-2 3h2m-2 14h2m-2 20h2m-1-42h2m-2 1h2m-2 2h2m-2 4h2m-2 34h2m-1-49h2m-2 7h2m-2 20h2m-2 5h2m-1-25h2m-2 1h2m-2 8h2m-2 6h2m-2 3h2m-1-52h2m-2 37h2m-2 13h2m-2 17h2m-1-46h2m-2 6h2m-2 28h2m-2 1h2m-2 9h2m-1-27h2m-2 0h2m-2 8h2m-2 10h2m-2 11h2m-1-52h2m-2 15h2m-2 0h2m-2 3h2m-1-8h2m-2 8h2m-2 3h2m-2 25h2m-1-30h2m-2 2h2m-2 28h2m-1-41h2m-2 7h2m-2 11h2m-2 9h2m-2 0h2m-2 3h2m-2 3h2m-2 2h2m-2 2h2m-1-15h2m-2 5h2m-2 24h2m-1-45h2m-2 12h2m-2 5h2m-2 6h2m-2 6h2m-2 12h2m-1-44h2m-2 12h2m-2 2h2m-2 14h2m-2 24h2m-1-60h2m-2 29h2m-2 24h2m-1-24h2m-1-34h2m-2 18h2m-2 6h2m-2 10h2m-2 27h2m-1-52h2m-2 5h2m-2 5h2m-2 2h2m-2 2h2m-2 10h2m-2 4h2m-2 3h2m-2 3h2m-1-27h2m-2 14h2m-2 1h2m-1-21h2m-2 6h2m-2 5h2m-2 12h2m-2 0h2m-2 13h2m-2 1h2m-2 8h2m-1-54h2m-2 20h2m-2 6h2m-2 11h2m-2 12h2m-2 13h2m-1-49h2m-2 14h2m-2 1h2m-2 2h2m-2 7h2m-2 7h2m-2 21h2m-1-53h2m-2 14h2m-2 11h2m-1-35h2m-2 16h2m-2 8h2m-2 7h2m-2 13h2m-2 1h2m-1-41h2m-2 6h2m-2 10h2m-2 4h2m-2 1h2m-2 5h2m-2 1h2m-2 1h2m-2 7h2m-2 2h2m-2 11h2m-1-30h2m-2 3h2m-2 10h2m-2 7h2m-2 16h2m-1-41h2m-2 4h2m-2 4h2m-2 12h2m-1-12h2m-2 2h2m-2 3h2m-2 0h2m-2 10h2m-2 10h2m-2 9h2m-1-49h2m-2 2h2m-2 10h2m-2 5h2m-2 6h2m-2 5h2m-1-37h2m-2 13h2m-2 9h2m-2 1h2m-2 2h2m-2 3h2m-2 1h2m-2 3h2m-2 12h2m-1-28h2m-2 18h2m-2 9h2m-1-31h2m-2 15h2m-2 16h2m-2 3h2m-2 2h2m-1-42h2m-2 10h2m-2 1h2m-2 2h2m-2 12h2m-2 2h2m-1-44h2m-2 19h2m-2 19h2m-2 6h2m-1-29h2m-2 14h2m-2 2h2m-2 4h2m-2 12h2m-2 11h2m-2 1h2m-1-38h2m-2 11h2m-2 1h2m-2 2h2m-2 8h2m-2 2h2m-2 1h2m-2 10h2m-2 14h2m-1-64h2m-2 12h2m-2 0h2m-2 4h2m-2 2h2m-2 12h2m-2 8h2m-1-16h2m-2 10h2m-2 11h2m-2 14h2m-1-47h2m-2 8h2m-2 14h2m-2 12h2m-2 16h2m-1-46h2m-2 9h2m-2 0h2m-2 3h2m-2 15h2m-2 9h2m-1-32h2m-2 2h2m-2 0h2m-2 1h2m-2 2h2m-2 4h2m-2 10h2m-2 0h2m-2 1h2m-2 2h2m-2 38h2m-1-55h2m-2 36h2m-2 1h2m-2 3h2m-1-48h2m-2 1h2m-2 2h2m-2 3h2m-2 3h2m-2 0h2m-2 3h2m-2 1h2m-2 13h2m-2 7h2m-1-39h2m-2 13h2m-2 2h2m-2 3h2m-2 9h2m-2 19h2m-1-40h2m-2 4h2m-2 12h2m-2 3h2m-2 13h2m-2 13h2m-1-57h2m-2 3h2m-2 8h2m-2 2h2m-2 4h2m-2 5h2m-2 1h2m-2 12h2m-2 8h2m-1-51h2m-2 13h2m-2 4h2m-2 23h2m-2 0h2m-2 10h2m-2 27h2m-1-70h2m-2 1h2m-2 14h2m-2 0h2m-2 2h2m-2 10h2m-2 3h2m-2 12h2m-2 18h2m-1-42h2m-2 9h2m-2 7h2m-2 0h2m-2 15h2m-2 16h2m-1-51h2m-2 5h2m-2 0h2m-2 2h2m-2 3h2m-2 9h2m-2 1h2m-2 5h2m-2 13h2m-1-41h2m-2 13h2m-2 28h2m-1-22h2m-2 5h2m-2 4h2m-1-21h2m-2 14h2m-2 1h2m-1-16h2m-2 36h2m-1-36h2m-2 15h2m-2 4h2m-2 3h2m-2 4h2m-1-44h2m-2 15h2m-2 12h2m-2 0h2m-2 9h2m-2 5h2m-2 12h2m-1-57h2m-2 17h2m-2 2h2m-2 6h2m-2 12h2m-1-29h2m-2 9h2m-2 4h2m-2 5h2m-2 1h2m-2 4h2m-2 6h2m-1-17h2m-2 18h2m-2 1h2m-2 5h2m-2 5h2m-2 6h2m-2 7h2m-1-37h2m-2 1h2m-2 3h2m-2 1h2m-2 2h2m-2 27h2m-2 6h2m-1-62h2m-2 14h2m-2 6h2m-2 4h2m-2 1h2m-2 14h2m-1-18h2m-2 2h2m-2 24h2m-1-14h2m-1-19h2m-2 6h2m-2 7h2m-2 4h2m-2 2h2m-1-12h2m-2 8h2m-2 0h2m-2 10h2m-2 1h2m-2 2h2m-2 10h2m-1-44h2m-2 1h2m-2 10h2m-2 1h2m-2 0h2m-2 19h2m-2 7h2m-2 6h2m-1-49h2m-2 12h2m-2 5h2m-2 1h2m-2 10h2m-2 1h2m-2 3h2m-1-8h2m-2 1h2m-2 0h2m-2 3h2m-2 2h2m-2 7h2m-2 9h2m-1-52h2m-2 34h2m-2 8h2m-2 1h2m-2 2h2m-2 4h2m-1-31h2m-2 24h2m-2 4h2m-2 10h2m-1-14h2m-2 3h2m-2 3h2m-2 3h2m-1-41h2m-2 8h2m-2 11h2m-2 0h2m-2 1h2m-2 6h2m-2 2h2m-2 2h2m-2 16h2m-1-35h2m-2 1h2m-2 10h2m-2 18h2m-2 9h2m-1-56h2m-2 1h2m-2 16h2m-2 2h2m-2 1h2m-2 1h2m-2 2h2m-1-7h2m-2 11h2m-2 1h2m-2 3h2m-2 1h2m-2 1h2m-2 2h2m-2 17h2m-2 2h2m-1-27h2m-2 1h2m-2 1h2m-2 2h2m-2 3h2m-2 3h2m-2 4h2m-2 4h2m-2 1h2m-1-37h2m-2 10h2m-2 5h2m-2 11h2m-2 13h2m-2 0h2m-2 15h2m-1-51h2m-2 6h2m-2 5h2m-2 14h2m-2 9h2m-1-30h2m-2 17h2m-2 1h2m-2 5h2m-2 20h2m-1-47h2m-2 1h2m-2 3h2m-2 9h2m-2 1h2m-2 1h2m-2 4h2m-2 15h2m-1-26h2m-2 6h2m-1-11h2m-2 5h2m-2 10h2m-2 10h2m-2 16h2m-2 16h2m-1-55h2m-2 7h2m-2 10h2m-2 2h2m-2 15h2m0-40h2m-2 14h2m-2 8h2m-2 1h2m-2 3h2m-2 5h2m-2 9h2m-2 3h2m-1-48h2m-2 10h2m-2 13h2m-2 1h2m-1-7h2m-2 4h2m-2 2h2m-2 2h2m-2 4h2m-2 3h2m-2 10h2m-2 21h2m-1-32h2m-1-39h2m-2 26h2m-2 7h2m-2 9h2m-2 7h2m-1-34h2m-2 13h2m-2 1h2m-2 1h2m-2 5h2m-2 2h2m-2 3h2m-2 18h2m-1-61h2m-2 14h2m-2 36h2m-2 1h2m-2 2h2m-1-38h2m-2 9h2m-2 3h2m-2 4h2m-2 1h2m-2 1h2m-2 11h2m-2 3h2m-2 1h2m-2 1h2m-2 6h2m-2 7h2m-1-29h2m-2 5h2m-2 1h2m-2 4h2m-2 1h2m-2 6h2m-1-40h2m-2 18h2m-2 12h2m-2 3h2m-2 18h2m-2 0h2m-2 17h2m-2 8h2m-1-77h2m-2 3h2m-2 12h2m-2 2h2m-2 9h2m-2 1h2m-2 5h2m-2 24h2m-1-52h2m-2 13h2m-2 2h2m-2 11h2m-2 49h2m-1-61h2m-2 4h2m-2 1h2m-2 16h2m-2 20h2m-1-45h2m-2 6h2m-2 1h2m-2 1h2m-2 8h2m-2 6h2m-2 7h2m-2 9h2m-1-76h2m-2 28h2m-2 12h2m-2 12h2m-2 2h2m-2 6h2m-1-30h2m-2 13h2m-2 3h2m-2 6h2m-2 10h2m-2 2h2m-1-34h2m-2 16h2m-2 6h2m-2 1h2m-2 2h2m-2 5h2m-2 16h2m-1-37h2m-2 0h2m-2 4h2m-2 5h2m-1-21h2m-2 14h2m-2 6h2m-2 9h2m-2 4h2m-2 8h2m-1-38h2m-2 34h2m-2 10h2m-2 1h2m-2 16h2m-1-47h2m-2 1h2m-2 3h2m-2 7h2m-1-19h2m-2 3h2m-2 6h2m-2 9h2m-2 10h2m-1-47h2m-2 4h2m-2 4h2m-2 0h2m-2 12h2m-2 7h2m-2 12h2m-1-31h2m-2 14h2m-2 4h2m-2 12h2m-2 2h2m-2 1h2m-2 0h2m-2 3h2m-2 10h2m-1-11h2m-2 4h2m-2 5h2m-1-31h2m-2 9h2m-2 36h2m-1-54h2m-2 8h2m-2 8h2m-2 16h2m-1-28h2m-2 24h2m-2 2h2m-1-8h2m-2 0h2m-2 6h2m-2 8h2m-2 1h2m-2 3h2m-2 2h2m-1-48h2m-2 4h2m-2 3h2m-2 17h2m-2 26h2m-1-35h2m-2 5h2m-2 2h2m-2 1h2m-2 1h2m-2 1h2m-2 3h2m-2 4h2m-2 4h2m-2 18h2m-1-54h2m-2 2h2m-2 11h2m-2 1h2m-2 3h2m-2 3h2m-2 3h2m-2 15h2m-1-34h2m-2 1h2m-2 18h2m-1-12h2m-2 28h2m-1-42h2m-2 21h2m-2 7h2m-2 12h2m-2 4h2m-2 12h2m-1-59h2m-2 16h2m-2 2h2m-2 1h2m-2 25h2m-1-45h2m-2 3h2m-2 17h2m-2 2h2m-2 1h2m-2 9h2m-2 33h2m-1-22h2m-2 7h2m-1-8h2m-2 1h2m-2 0h2m-2 5h2m-2 5h2m-1-14h2m-2 16h2m-1-51h2m-2 7h2m-2 9h2m-2 0h2m-2 11h2m-2 22h2m-1-36h2m-2 2h2m-2 3h2m-2 15h2m-2 12h2m-2 16h2m-1-35h2m-2 1h2m-2 12h2m-2 16h2m-1-21h2m-2 4h2m-2 5h2m-2 2h2m-2 4h2m-1-48h2m-2 12h2m-2 3h2m-2 4h2m-2 1h2m-2 3h2m-2 0h2m-2 2h2m-2 8h2m-2 0h2m-2 2h2m-2 12h2m-2 4h2m-1-20h2m-2 1h2m-2 5h2m-2 21h2m-1-47h2m-2 5h2m-2 9h2m-2 22h2m-1-42h2m-2 1h2m-2 46h2m-1-48h2m-2 23h2m-2 19h2m-2 11h2m-1-25h2m-2 7h2m-2 13h2m-1-22h2m-2 0h2m-2 1h2m-2 1h2m-2 3h2m-2 1h2m-2 1h2m-2 5h2m-2 2h2m-1-42h2m-2 7h2m-2 19h2m-2 7h2m-2 10h2m-2 1h2m-1-7h2m-2 4h2m-1-45h2m-2 10h2m-2 16h2m-2 17h2m-2 8h2m-2 23h2m-1-65h2m-2 7h2m-2 6h2m-1-11h2m-2 14h2m-2 7h2m-2 1h2m-2 2h2m-2 5h2m-2 3h2m-1-34h2m-2 4h2m-2 11h2m-2 13h2m-2 21h2m-1-49h2m-2 1h2m-2 17h2m-2 1h2m-2 0h2m-2 5h2m-2 5h2m-2 1h2m-2 4h2m-2 9h2m-1-41h2m-2 7h2m-2 2h2m-2 3h2m-2 20h2m-2 1h2m-1-40h2m-2 12h2m-2 14h2m-2 6h2m-2 28h2m-1-47h2m-2 6h2m-2 4h2m-2 13h2m-1-14h2m-2 24h2m-1-40h2m-2 13h2m-2 4h2m-2 2h2m-2 3h2m-2 2h2m-2 13h2m-1-29h2m-2 16h2m-2 0h2m-2 4h2m-1-42h2m-2 16h2m-2 4h2m-2 33h2m-1-32h2m-2 2h2m-2 1h2m-2 17h2m-2 6h2m-2 4h2m-1-17h2m-2 5h2m-1-23h2m-2 2h2m-2 0h2m-2 9h2m-2 16h2m-2 7h2m-1-24h2m-2 23h2m-1-53h2m-2 24h2m-2 3h2m-2 2h2m-2 2h2m-2 4h2m-2 7h2m-2 0h2m-2 2h2m-2 5h2m-1-53h2m-2 22h2m-2 15h2m-2 3h2m-2 10h2m-2 1h2m-2 1h2m-1-48h2m-2 33h2m-2 3h2m-2 10h2m-2 0h2m-2 2h2m-1-16h2m-2 4h2m-2 1h2m-2 4h2m-2 1h2m-2 16h2m-1-55h2m-2 9h2m-2 27h2m-2 1h2m-2 4h2m-1-14h2m-2 1h2m-2 3h2m-2 17h2m-2 3h2m-2 13h2m-1-47h2m-2 21h2m-2 4h2m-2 5h2m-2 10h2m-1-66h2m-2 37h2m-2 5h2m-2 9h2m-2 8h2m-2 13h2m-1-51h2m-2 6h2m-2 21h2m-2 5h2m-2 2h2m-2 1h2m-2 0h2m-2 21h2m-1-57h2m-2 0h2m-2 18h2m-2 3h2m-2 4h2m-2 4h2m-2 14h2m-2 25h2m-1-38h2m-1-22h2m-2 7h2m-2 4h2m-2 4h2m-2 0h2m-2 13h2m-2 10h2m-1-36h2m-2 7h2m-2 14h2m-2 16h2m-1-29h2m-2 12h2m-2 23h2m-1-48h2m-2 3h2m-2 6h2m-2 8h2m-2 11h2m-2 5h2m-1-9h2m-2 16h2m-1-48h2m-2 34h2m-2 3h2m-2 11h2m-2 11h2m-1-47h2m-2 1h2m-2 6h2m-2 4h2m-1-4h2m-2 4h2m-2 7h2m-2 0h2m-2 5h2m-1-24h2m-2 24h2m-2 25h2m-1-69h2m-2 12h2m-2 22h2m-2 9h2m-2 0h2m-2 2h2m-2 7h2m-2 3h2m-1-25h2m-2 2h2m-2 2h2m-1-31h2m-2 15h2m-2 2h2m-2 1h2m-2 6h2m-2 24h2m-2 18h2m-1-71h2m-2 9h2m-2 28h2m-2 3h2m-2 2h2m-2 6h2m-2 3h2m-2 16h2m-1-37h2m-2 2h2m-2 10h2m-2 4h2m-2 4h2m-1-35h2m-2 7h2m-2 19h2m-2 3h2m-2 22h2m-1-49h2m-2 9h2m-2 18h2m-1-27h2m-2 12h2m-2 18h2m-2 2h2m-2 18h2m-2 5h2m-1-57h2m-2 33h2m-2 3h2m-1-28h2m-2 2h2m-2 0h2m-2 12h2m-2 2h2m-1-28h2m-2 20h2m-2 3h2m-2 11h2m-2 3h2m-2 10h2m-1-14h2m-2 10h2m-1-24h2m-2 1h2m-2 9h2m-2 5h2m-2 1h2m-2 3h2m-1-41h2m-2 40h2m-2 0h2m-1-25h2m-2 1h2m-2 1h2m-2 13h2m-2 5h2m-2 5h2m-2 0h2m-2 0h2m-1 11h2m-1-49h2m-2 12h2m-2 4h2m-2 1h2m-2 2h2m-2 3h2m-2 1h2m-2 2h2m-2 11h2m-2 4h2m-2 2h2m-2 11h2m-1-27h2m-2 1h2m-2 1h2m-2 32h2m-1-61h2m-2 21h2m-2 11h2m-2 1h2m-2 16h2m-1-44h2m-2 2h2m-2 1h2m-2 9h2m-2 5h2m-2 0h2m-2 0h2m-2 24h2m-2 16h2m-1-61h2m-2 8h2m-2 9h2m-2 0h2m-2 1h2m-2 5h2m-2 9h2m-1-10h2m-2 2h2m-2 11h2m-2 1h2m-2 8h2m-2 5h2m-1-41h2m-2 7h2m-2 29h2m-1-23h2m-2 1h2m-2 5h2m-2 7h2m-2 1h2m-2 37h2m-1-51h2m-2 2h2m-2 1h2m-2 1h2m-2 0h2m-2 12h2m-2 17h2m-2 12h2m-1-67h2m-2 26h2m-1-8h2m-2 7h2m-2 5h2m-1-13h2m-2 6h2m-2 2h2m-2 2h2m-2 16h2m-2 4h2m-2 5h2m-1-45h2m-2 27h2m-2 0h2m-2 14h2m-1-33h2m-2 4h2m-2 5h2m-2 1h2m-1-3h2m-2 0h2m-2 27h2m-1-49h2m-2 7h2m-2 1h2m-2 16h2m-2 0h2m-2 3h2m-2 26h2m-2 10h2m-1-59h2m-2 33h2m-2 2h2m-1-26h2m-2 16h2m-1-3h2m-2 6h2m-2 12h2m-2 6h2m-2 8h2m-1-37h2m-2 7h2m-2 16h2m-1-30h2m-2 5h2m-2 4h2m-2 4h2m-2 1h2m-2 22h2m-2 8h2m-1-16h2m-2 13h2m-1-13h2m-1-19h2m-2 1h2m-2 12h2m-2 1h2m-2 9h2m-2 5h2m-2 18h2m-1-32h2m-2 3h2m-2 11h2m-1-56h2m-2 37h2m-2 0h2m-2 1h2m-2 19h2m-1-35h2m-2 8h2m-2 15h2m-1-34h2m-2 3h2m-2 10h2m-2 4h2m-2 2h2m-2 6h2m-2 7h2m-2 3h2m-1-29h2m-2 23h2m-2 6h2m-1-26h2m-2 4h2m-2 10h2m-2 3h2m-2 5h2m-2 5h2m-2 12h2m-2 1h2m-1-53h2m-2 8h2m-2 17h2m-2 2h2m-2 2h2m-2 10h2m-2 8h2m-1-42h2m-2 3h2m-2 11h2m-2 18h2m-1-31h2m-2 15h2m-2 1h2m-2 8h2m-2 4h2m-2 1h2m-1-26h2m-2 20h2m-2 2h2m-2 6h2m-2 24h2m-1-44h2m-2 0h2m-2 2h2m-2 0h2m-2 0h2m-2 1h2m-2 10h2m-2 2h2m-2 3h2m-2 6h2m-1-58h2m-2 29h2m-2 13h2m-2 12h2m-1-23h2m-2 2h2m-2 1h2m-2 1h2m-2 12h2m-1 0h2m-2 4h2m-2 18h2m-2 3h2m-2 11h2m-1-42h2m-2 2h2m-1-23h2m-2 4h2m-2 23h2m-2 15h2m-1-51h2m-2 16h2m-2 9h2m-2 11h2m-2 0h2m-2 3h2m-2 6h2m-1-42h2m-2 18h2m-2 2h2m-2 4h2m-2 1h2m-1 0h2m-2 26h2m-2 1h2m-2 0h2m-2 4h2m-1-52h2m-2 3h2m-2 16h2m-2 0h2m-2 9h2m-2 2h2m-2 0h2m-2 3h2m-2 5h2m-2 3h2m-2 2h2m-2 4h2m-2 3h2m-2 15h2m-1-47h2m-2 4h2m-2 38h2m-1-47h2m-2 6h2m-2 3h2m-2 24h2m-2 3h2m-1-40h2m-2 1h2m-2 8h2m-2 1h2m-2 2h2m-2 6h2m-2 6h2m-2 6h2m-1-17h2m-2 0h2m-2 4h2m-2 7h2m-2 28h2m-1-61h2m-2 5h2m-2 0h2m-2 1h2m-2 10h2m-2 4h2m-2 5h2m-2 12h2m-2 4h2m-2 6h2m-1-32h2m-2 8h2m-2 26h2m-2 5h2m-1-29h2m-2 6h2m-2 2h2m-2 31h2m-1-46h2m-2 1h2m-2 0h2m-2 11h2m-2 1h2m-2 2h2m-1-23h2m-2 6h2m-2 3h2m-2 0h2m-2 3h2m-2 14h2m-2 6h2m-2 2h2m-1-5h2m-2 14h2m-2 2h2m-1-7h2m-1-40h2m-2 6h2m-2 19h2m-1-10h2m-2 3h2m-2 1h2m-2 9h2m-2 1h2m-2 10h2m-1-17h2m-2 2h2m-2 1h2m-2 4h2m-1-27h2m-2 30h2m-2 12h2m-1-35h2m-2 1h2m-2 5h2m-2 1h2m-1-23h2m-2 35h2m-2 1h2m-1-16h2m-2 5h2m-2 5h2m-2 5h2m-2 8h2m-1-30h2m-2 3h2m-2 7h2m-2 8h2m-2 6h2m-1-38h2m-2 15h2m-2 20h2m-1-36h2m-2 6h2m-2 7h2m-2 19h2m-1-9h2m-2 0h2m-2 8h2m-2 2h2m-2 2h2m-2 1h2m-2 9h2m-1-23h2m-2 10h2m-2 6h2m-2 0h2m-2 21h2m-1-72h2m-2 16h2m-1 14h2m-2 18h2m-1 0h2m-1-19h2m-2 9h2m-2 9h2m-2 3h2m-2 17h2m-1-45h2m-2 3h2m-2 12h2m-2 2h2m-2 15h2m-2 4h2m-1-39h2m-2 33h2m-1-15h2m-2 7h2m-2 5h2m-2 8h2m-1-38h2m-2 2h2m-2 5h2m-2 6h2m-2 3h2m-2 11h2m-2 6h2m-2 32h2m-1-50h2m-2 10h2m-2 2h2m-2 26h2m-1-49h2m-1 4h2m-2 4h2m-2 7h2m-2 6h2m-2 0h2m-2 1h2m-2 14h2m-1-39h2m-2 2h2m-2 7h2m-2 8h2m-2 5h2m-2 7h2m-2 1h2m-2 0h2m-2 6h2m-2 8h2m-1-40h2m-2 46h2m-1-45h2m-2 9h2m-2 0h2m-2 5h2m-2 10h2m-2 3h2m-2 1h2m-2 0h2m-2 2h2m-2 12h2m-1-36h2m-2 5h2m-2 0h2m-2 16h2m-2 9h2m-2 5h2m-1-47h2m-2 0h2m-2 3h2m-2 14h2m-2 21h2m-2 12h2m-1-37h2m-2 1h2m-2 2h2m-1-13h2m-2 3h2m-2 5h2m-2 2h2m-2 18h2m-2 6h2m-2 3h2m-1-30h2m-2 2h2m-2 3h2m-2 19h2m-1-35h2m-2 13h2m-2 1h2m-2 0h2m-2 1h2m-2 9h2m-1-7h2m-2 3h2m-2 4h2m-2 19h2m-1-44h2m-2 9h2m-2 1h2m-2 0h2m-2 17h2m-2 2h2m-2 23h2m-1-29h2m-2 1h2m-2 2h2m-2 15h2m-1-33h2m-2 9h2m-2 10h2m-1-24h2m-2 14h2m-2 18h2m-2 2h2m-1-24h2m-2 10h2m-2 3h2m-2 3h2m-2 9h2m-2 7h2m-2 0h2m-1-32h2m-2 1h2m-2 2h2m-2 14h2m-2 2h2m-1-34h2m-2 6h2m-2 32h2m-2 12h2m-2 10h2m-1-68h2m-2 26h2m-2 3h2m-2 0h2m-2 13h2m-2 47h2m-1-72h2m-2 2h2m-2 1h2m-2 4h2m-2 1h2m-2 6h2m-2 20h2m-1-44h2m-2 8h2m-2 15h2m-2 10h2m-2 12h2m-2 17h2m-1-55h2m-2 2h2m-2 8h2m-2 8h2m-2 3h2m-1-30h2m-2 11h2m-2 10h2m-2 2h2m-2 5h2m-2 5h2m-2 1h2m-1-24h2m-2 5h2m-2 9h2m-2 3h2m-2 5h2m-1-25h2m-2 19h2m-2 1h2m-2 4h2m-2 2h2m-1-25h2m-2 32h2m-2 5h2m-1-46h2m-2 17h2m-2 4h2m-2 36h2m-2 9h2m-1-63h2m-2 23h2m-2 13h2m-2 0h2m-1-35h2m-2 4h2m-2 17h2m-2 3h2m-2 6h2m-1-34h2m-2 8h2m-2 5h2m-2 15h2m-1-31h2m-2 5h2m-2 38h2m-2 5h2m-2 21h2m-1-63h2m-2 1h2m-2 50h2m-1-45h2m-2 7h2m-2 2h2m-2 19h2m-2 10h2m-2 9h2m-2 4h2m-1-60h2m-2 13h2m-2 11h2m-2 9h2m-2 2h2m-2 13h2m-1-39h2m-2 2h2m-2 0h2m-2 11h2m-2 9h2m-2 1h2m-2 10h2m-1-11h2m-2 1h2m-2 2h2m-2 15h2m-1-30h2m-2 10h2m-2 12h2m-2 10h2m-2 0h2m-1-30h2m-2 0h2m-2 5h2m-2 9h2m-2 18h2m-1-45h2m-2 4h2m-2 3h2m-2 14h2m-2 1h2m-2 4h2m-2 1h2m-2 1h2m-2 13h2m-2 10h2m-1-58h2m-2 8h2m-2 22h2m-2 0h2m-2 17h2m-2 13h2m-1-46h2m-2 9h2m-2 2h2m-2 20h2m-1-24h2m-2 6h2m-2 1h2m-2 3h2m-2 2h2m-2 3h2m-2 2h2m-1-38h2m-2 15h2m-2 2h2m-2 6h2m-2 7h2m-2 5h2m-2 18h2m-1-34h2m-2 0h2m-2 4h2m-2 28h2m-1-35h2m-2 3h2m-2 9h2m-2 12h2m-1-25h2m-2 2h2m-2 6h2m-2 1h2m-2 4h2m-2 7h2m-2 0h2m-2 3h2m-1-35h2m-2 8h2m-2 2h2m-2 13h2m-2 29h2m-1-56h2m-2 15h2m-2 12h2m-2 5h2m-1-9h2m-2 3h2m-2 6h2m-2 3h2m-2 2h2m-2 3h2m-2 6h2m-2 1h2m-1-41h2m-2 20h2m-2 3h2m-2 12h2m-2 16h2m-1-51h2m-2 15h2m-2 1h2m-2 4h2m-2 7h2m-2 7h2m-2 0h2m-2 17h2m-1-53h2m-2 3h2m-2 7h2m-2 9h2m-2 8h2m-2 10h2m-2 1h2m-2 5h2m-2 15h2m-1-46h2m-2 3h2m-2 13h2m-2 12h2m-2 4h2m-2 4h2m-2 7h2m-1-45h2m-2 6h2m-2 14h2m-2 2h2m-2 9h2m-2 6h2m-1-36h2m-2 4h2m-2 0h2m-2 11h2m-2 4h2m-2 22h2m-1-48h2m-2 13h2m-2 1h2m-2 7h2m-2 6h2m-2 5h2m-1-34h2m-2 15h2m-2 3h2m-2 12h2m-2 12h2m-2 5h2m-2 7h2m-2 6h2m-1-64h2m-2 3h2m-2 19h2m-2 2h2m-2 0h2m-2 6h2m-2 0h2m-2 5h2m-1-20h2m-2 12h2m-2 3h2m-2 5h2m-2 2h2m-2 4h2m-2 4h2m-1-26h2m-2 13h2m-1-26h2m-2 0h2m-2 13h2m-2 3h2m-2 9h2m-2 3h2m-2 19h2m-2 3h2m-1-25h2m-2 8h2m-1-32h2m-2 5h2m-2 12h2m-2 31h2m-2 10h2m-2 1h2m-1-53h2m-2 20h2m-2 5h2m-2 22h2m-2 1h2m-1-69h2m-2 10h2m-2 5h2m-2 18h2m-2 1h2m-2 5h2m-2 14h2m-2 9h2m-1-19h2m-2 5h2m-2 0h2m-2 15h2m-1-40h2m-2 3h2m-2 1h2m-2 6h2m-2 17h2m-2 3h2m-2 18h2m-1-52h2m-2 14h2m-2 8h2m-1-13h2m-2 5h2m-2 6h2m-2 3h2m-2 3h2m-2 3h2m-2 2h2m-1-27h2m-2 3h2m-2 12h2m-2 3h2m-2 3h2m-2 8h2m-2 12h2m-1-55h2m-2 12h2m-2 9h2m-2 4h2m-2 6h2m-2 16h2m-1-33h2m-2 8h2m-2 0h2m-2 4h2m-2 28h2m-1-53h2m-2 8h2m-2 1h2m-2 15h2m-2 12h2m-1-42h2m-2 18h2m-2 1h2m-2 3h2m-2 2h2m-2 16h2m-2 4h2m-1-18h2m-2 2h2m-2 43h2m-1-51h2m-2 4h2m-2 4h2m-2 2h2m-2 0h2m-2 2h2m-2 8h2m-2 3h2m-1-25h2m-2 9h2m-2 3h2m-2 9h2m-2 3h2m-2 3h2m-2 7h2m-1-40h2m-2 10h2m-2 6h2m-2 1h2m-2 4h2m-1-22h2m-2 23h2m-2 2h2m-2 5h2m-2 10h2m-1-24h2m-2 3h2m-2 13h2m-2 6h2m-1-23h2m-2 1h2m-2 4h2m-2 4h2m-2 13h2m-2 5h2m-2 8h2m-1-59h2m-2 6h2m-2 28h2m-2 7h2m-1-24h2m-2 8h2m-2 6h2m-2 1h2m-2 20h2m-2 1h2m-1-57h2m-2 33h2m-2 18h2m-2 17h2m-1-44h2m-2 12h2m-2 2h2m-2 9h2m-2 13h2m-1-32h2m-2 15h2m-2 3h2m-2 3h2m-1-34h2m-2 7h2m-2 7h2m-2 3h2m-2 5h2m-2 1h2m-2 4h2m-2 2h2m-2 5h2m-2 2h2m-2 20h2m-1-56h2m-2 4h2m-2 15h2m-2 21h2m-1-32h2m-2 11h2m-2 0h2m-1-31h2m-2 11h2m-2 16h2m-2 5h2m-2 22h2m-2 3h2m-1-48h2m-2 12h2m-2 11h2m-2 17h2m-2 2h2m-1-32h2m-2 9h2m-2 15h2m-2 7h2m-2 3h2m-1-31h2m-2 4h2m-1-17h2m-2 21h2m-2 3h2m-1-12h2m-2 4h2m-2 10h2m-2 2h2m-2 1h2m-2 10h2m-2 8h2m-2 4h2m-2 5h2m-1-46h2m-2 1h2m-2 29h2m-2 7h2m-1-44h2m-2 29h2m-2 7h2m-1-29h2m-2 10h2m-2 5h2m-2 2h2m-1-21h2m-2 8h2m-2 3h2m-2 12h2m-2 1h2m-2 0h2m-2 15h2m-1-59h2m-2 30h2m-2 5h2m-2 5h2m-2 1h2m-2 36h2m-1-50h2m-2 7h2m-2 8h2m-2 19h2m-1-42h2m-2 8h2m-2 2h2m-2 2h2m-2 1h2m-2 3h2m-2 9h2m-2 2h2m-2 28h2m-1-58h2m-2 1h2m-2 11h2m-2 2h2m-2 3h2m-2 12h2m-2 10h2m-1-15h2m-2 0h2m-2 5h2m-1-13h2m-2 0h2m-2 21h2m-2 7h2m-1-30h2m-2 3h2m-2 0h2m-2 5h2m-2 3h2m-2 8h2m-1-21h2m-2 10h2m-2 2h2m-1-24h2m-2 19h2m-2 4h2m-2 0h2m-2 11h2m-2 13h2m-1-24h2m-2 1h2m-2 3h2m-2 21h2m-1-35h2m-2 2h2m-2 9h2m-2 6h2m-2 1h2m-2 6h2m-2 8h2m-1-52h2m-2 10h2m-2 5h2m-2 1h2m-2 2h2m-2 3h2m-2 2h2m-2 1h2m-2 0h2m-2 1h2m-2 0h2m-2 5h2m-2 1h2m-2 1h2m-2 19h2m-1-36h2m-2 3h2m-2 0h2m-2 1h2m-2 7h2m-2 2h2m-2 1h2m-2 7h2m-1-39h2m-2 9h2m-2 15h2m-2 10h2m-2 4h2m-2 19h2m-1-36h2m-2 17h2m-2 8h2m-2 8h2m-2 1h2m-1-44h2m-2 1h2m-2 10h2m-2 0h2m-2 2h2m-2 12h2m-2 3h2m-1-19h2m-2 1h2m-2 8h2m-2 2h2m-2 8h2m-2 21h2m-1-41h2m-2 5h2m-2 4h2m-2 11h2m-2 1h2m-2 10h2m-1-34h2m-2 11h2m-2 1h2m-2 6h2m-2 14h2m-1-23h2m-2 0h2m-2 6h2m-2 17h2m-1-34h2m-2 0h2m-2 7h2m-2 1h2m-2 6h2m-2 4h2m-2 16h2m-1-34h2m-2 17h2m-1-11h2m-2 7h2m-2 0h2m-2 7h2m-2 5h2m-2 11h2m-1-34h2m-2 5h2m-2 4h2m-2 4h2m-2 18h2m-2 0h2m-1-45h2m-2 1h2m-2 45h2m-2 5h2m-2 3h2m-1-54h2m-2 5h2m-2 7h2m-2 6h2m-2 1h2m-2 1h2m-2 3h2m-2 10h2m-1-30h2m-2 7h2m-2 16h2m-1-15h2m-2 13h2m-2 1h2m-2 27h2m-2 1h2m-1-48h2m-2 2h2m-2 1h2m-2 11h2m-2 1h2m-2 1h2m-2 4h2m-2 0h2m-2 4h2m-2 8h2m-2 5h2m-2 8h2m-1-31h2m-2 7h2m-2 9h2m-2 1h2m-2 11h2m-1-22h2m-2 7h2m-2 1h2m-2 3h2m-2 0h2m-2 20h2m-1-48h2m-2 1h2m-2 5h2m-2 1h2m-2 5h2m-2 1h2m-2 0h2m-2 2h2m-2 3h2m-1-6h2m-2 1h2m-2 2h2m-2 9h2m-1-11h2m-2 5h2m-2 3h2m-2 3h2m-2 19h2m-1-41h2m-2 13h2m-2 2h2m-2 5h2m-2 0h2m-2 7h2m-1-42h2m-2 6h2m-2 33h2m-1-26h2m-2 11h2m-2 35h2m-1-33h2m-2 8h2m-1-10h2m-2 2h2m-2 4h2m-2 16h2m-1-22h2m-2 5h2m-2 1h2m-2 14h2m-2 4h2m-2 8h2m-1-40h2m-2 0h2m-2 8h2m-2 2h2m-2 0h2m-2 2h2m-2 1h2m-2 1h2m-2 5h2m-2 3h2m-2 3h2m-2 1h2m-2 1h2m-2 1h2m-1-20h2m-2 1h2m-2 6h2m-2 11h2m-1-27h2m-2 10h2m-2 5h2m-2 17h2m-1-31h2m-2 3h2m-2 20h2m-2 2h2m-2 15h2m-1-43h2m-2 3h2m-2 9h2m-2 1h2m-2 3h2m-2 2h2m-2 6h2m-1-18h2m-2 1h2m-2 1h2m-2 5h2m-2 7h2m-2 1h2m-2 9h2m-1-41h2m-2 15h2m-2 22h2m-2 4h2m-2 6h2m-2 19h2m-1-57h2m-2 9h2m-2 1h2m-2 13h2m-2 10h2m-2 1h2m-2 16h2m-1-35h2m-2 0h2m-2 1h2m-2 15h2m-1-23h2m-2 12h2m-2 0h2m-2 3h2m-2 2h2m-2 19h2m-1-41h2m-2 5h2m-2 25h2m-1-41h2m-2 24h2m-2 1h2m-2 1h2m-2 2h2m-2 1h2m-2 6h2m-2 9h2m-2 3h2m-2 6h2m-2 13h2m-1-51h2m-2 10h2m-2 2h2m-2 1h2m-2 3h2m-2 11h2m-2 11h2m-1-38h2m-2 16h2m-2 7h2m-2 8h2m-1-21h2m-2 1h2m-2 2h2m-2 7h2m-1-18h2m-2 8h2m-2 6h2m-2 6h2m-1-22h2m-2 3h2m-2 3h2m-2 7h2m-2 0h2m-2 17h2m-2 18h2m-1-52h2m-2 14h2m-2 3h2m-2 9h2m-2 14h2m-2 0h2m-1-34h2m-2 8h2m-2 0h2m-2 8h2m-2 4h2m-1-36h2m-2 12h2m-2 15h2m-2 5h2m-2 6h2m-2 3h2m-2 12h2m-2 20h2m-1-54h2m-2 5h2m-2 2h2m-2 1h2m-1-2h2m-2 0h2m-2 6h2m-1-16h2m-2 1h2m-2 3h2m-2 11h2m-2 3h2m-2 2h2m-2 2h2m-2 1h2m-2 0h2m-2 2h2m-1-42h2m-2 5h2m-2 25h2m-2 5h2m-2 15h2m-2 7h2m-1-48h2m-2 14h2m-2 7h2m-2 21h2m-1-33h2m-2 1h2m-2 1h2m-2 3h2m-2 7h2m-2 10h2m-2 22h2m-1-55h2m-2 1h2m-2 10h2m-2 2h2m-2 25h2m-2 7h2m-1-27h2m-2 12h2m-2 8h2m-1-24h2m-2 3h2m-2 10h2m-2 2h2m-2 2h2m-2 4h2m-2 2h2m-2 3h2m-2 4h2m-1-24h2m-2 3h2m-2 19h2m-2 6h2m-1-41h2m-2 2h2m-2 11h2m-2 3h2m-2 3h2m-2 3h2m-2 6h2m-1-31h2m-2 4h2m-2 4h2m-2 1h2m-2 19h2m-2 18h2m-1-50h2m-2 13h2m-2 10h2m-2 3h2m-2 0h2m-1-3h2m-2 6h2m-2 9h2m-2 1h2m-1-13h2m-2 8h2m-2 7h2m-2 7h2m-1-40h2m-2 14h2m-2 13h2m-1-32h2m-2 5h2m-2 7h2m-2 2h2m-2 6h2m-2 6h2m-2 13h2m-2 6h2m-1-40h2m-2 3h2m-2 4h2m-2 1h2m-2 19h2m-2 1h2m-2 11h2m-2 12h2m-1-44h2m-2 12h2m-2 30h2m-1-44h2m-2 1h2m-2 3h2m-2 2h2m-2 3h2m-2 8h2m-2 1h2m-2 1h2m-2 21h2m-2 5h2m-1-48h2m-2 8h2m-2 18h2m-2 6h2m-1-45h2m-2 2h2m-2 10h2m-2 2h2m-2 8h2m-2 0h2m-2 2h2m-2 7h2m-1-20h2m-2 0h2m-2 6h2m-2 5h2m-2 2h2m-1-12h2m-2 12h2m-1-22h2m-2 15h2m-2 5h2m-2 2h2m-2 6h2m-1-22h2m-2 5h2m-1 11h2m-2 18h2m-2 12h2m-1-55h2m-2 19h2m-2 0h2m-2 0h2m-2 3h2m-2 3h2m-2 1h2m-2 2h2m-1-17h2m-2 1h2m-2 16h2m-2 7h2m-2 16h2m-2 4h2m-1-36h2m-2 2h2m-2 5h2m-2 15h2m-1-29h2m-2 11h2m-2 1h2m-2 1h2m-2 0h2m-2 6h2m-1-16h2m-2 6h2m-2 2h2m-2 2h2m-2 0h2m-2 2h2m-2 0h2m-2 2h2m-2 1h2m-2 3h2m-2 9h2m-1-25h2m-2 1h2m-2 12h2m-2 5h2m-2 7h2m-2 6h2m-2 8h2m-2 1h2m-2 4h2m-2 1h2m-1-61h2m-2 23h2m-2 11h2m-2 17h2m-2 11h2m-1-55h2m-2 14h2m-2 8h2m-2 19h2m-1-39h2m-2 7h2m-2 0h2m-2 4h2m-2 14h2m-2 14h2m-2 14h2m-1-38h2m-2 7h2m-2 14h2m-2 13h2m-1-53h2m-2 3h2m-2 2h2m-2 3h2m-2 19h2m-2 8h2m-1-29h2m-2 3h2m-2 7h2m-2 5h2m-2 7h2m-2 2h2m-2 15h2m-1-31h2m-2 7h2m-2 1h2m-2 3h2m-1-21h2m-2 12h2m-2 1h2m-2 1h2m-2 3h2m-2 2h2m-2 7h2m-2 1h2m-2 2h2m-2 8h2m-1-32h2m-2 4h2m-2 11h2m-1-21h2m-2 10h2m-2 2h2m-2 1h2m-2 9h2m-2 3h2m-1-20h2m-2 1h2m-2 0h2m-2 15h2m-1-20h2m-2 2h2m-2 18h2m-2 1h2m-2 6h2m-2 4h2m-2 8h2m-2 11h2m-1-42h2m-2 1h2m-2 1h2m-2 12h2m-2 3h2m-1-25h2m-2 0h2m-2 16h2m-2 0h2m-2 6h2m-2 7h2m-2 15h2m-1-60h2m-2 1h2m-2 18h2m-2 7h2m-2 3h2m-2 9h2m-1-26h2m-2 11h2m-2 3h2m-2 2h2m-2 1h2m-2 0h2m-2 4h2m-2 3h2m-2 8h2m-1-30h2m-2 14h2m-2 2h2m-2 6h2m-2 5h2m-2 0h2m-2 16h2m-1-29h2m-2 1h2m-2 1h2m-2 5h2m-2 1h2m-1-15h2m-2 3h2m-2 0h2m-2 1h2m-2 5h2m-2 5h2m-2 4h2m-2 1h2m-1-15h2m-2 4h2m-2 5h2m-2 2h2m-1-21h2m-2 10h2m-2 1h2m-2 4h2m-2 2h2m-2 15h2m-2 0h2m-1-34h2m-2 7h2m-2 3h2m-2 5h2m-1-6h2m-2 7h2m-2 13h2m-2 3h2m-2 10h2m-1-34h2m-2 5h2m-2 25h2m-2 8h2m-1-45h2m-2 6h2m-2 15h2m-2 6h2m-2 34h2m-1-40h2m-2 9h2m-1 3h2m-1-13h2m-2 2h2m-2 23h2m-1-29h2m-2 5h2m-2 19h2m-2 6h2m-1-40h2m-2 7h2m-2 2h2m-2 18h2m-2 8h2m-2 0h2m-1-36h2m-2 2h2m-2 0h2m-2 2h2m-2 5h2m-2 2h2m-2 12h2m-2 4h2m-1-20h2m-2 2h2m-2 13h2m-2 0h2m-2 3h2m-2 4h2m-1-36h2m-2 4h2m-2 4h2m-2 10h2m-2 22h2m-2 5h2m-1-52h2m-2 3h2m-2 16h2m-2 4h2m-2 10h2m-2 3h2m-1 8h2m-2 5h2m-2 22h2m-1-62h2m-2 5h2m-2 7h2m-2 11h2m-2 2h2m-1-35h2m-2 12h2m-2 25h2m-2 2h2m-2 2h2m-2 1h2m-2 36h2m-1-57h2m-2 4h2m-1-8h2m-2 11h2m-2 1h2m-2 0h2m-2 0h2m-2 13h2m-2 17h2m-1-63h2m-2 20h2m-2 3h2m-2 5h2m-2 1h2m-2 12h2m-1-13h2m-2 3h2m-2 15h2m-1-38h2m-2 15h2m-2 0h2m-2 3h2m-2 10h2m-2 0h2m-2 11h2m-1-34h2m-2 12h2m-2 4h2m-2 3h2m-2 21h2m-2 2h2m-2 9h2m-2 0h2m-1-52h2m-2 14h2m-2 0h2m-2 1h2m-2 10h2m-1-23h2m-2 13h2m-2 0h2m-2 1h2m-2 0h2m-2 7h2m-2 37h2m-1-59h2m-2 14h2m-2 1h2m-2 5h2m-2 4h2m-2 3h2m-2 1h2m-1-24h2m-2 3h2m-2 11h2m-2 1h2m-2 22h2m-1-40h2m-2 6h2m-2 9h2m-2 9h2m-2 9h2m-2 1h2m-2 1h2m-2 0h2m-2 6h2m-1-29h2m-2 13h2m-2 18h2m-2 0h2m-1-47h2m-2 24h2m-2 27h2m-1-38h2m-2 4h2m-2 9h2m-2 6h2m-2 1h2m-2 21h2m-1-51h2m-2 11h2m-2 1h2m-2 4h2m-2 9h2m-2 1h2m-2 1h2m-1-17h2m-2 0h2m-2 18h2m-2 1h2m-2 10h2m-1-43h2m-2 19h2m-2 2h2m-2 23h2m-2 21h2m-1-57h2m-2 1h2m-2 1h2m-2 7h2m-2 1h2m-2 2h2m-2 24h2m-2 7h2m-1-53h2m-2 6h2m-2 2h2m-2 9h2m-2 1h2m-2 6h2m-2 5h2m-2 1h2m-2 8h2m-1-24h2m-2 5h2m-2 31h2m-2 0h2m-1-49h2m-1 5h2m-2 20h2m-2 3h2m-2 4h2m-2 10h2m-1-43h2m-2 12h2m-2 28h2m-2 4h2m-1-33h2m-2 14h2m-2 0h2m-2 3h2m-2 0h2m-2 9h2m-1-32h2m-2 9h2m-2 1h2m-2 36h2m-2 2h2m-2 11h2m-1-46h2m-2 4h2m-2 3h2m-2 13h2m-2 3h2m-1-32h2m-2 26h2m-2 22h2m-1-40h2m-2 2h2m-2 7h2m-2 6h2m-2 4h2m-2 7h2m-1-22h2m-2 1h2m-2 2h2m-2 28h2m-1-37h2m-2 18h2m-2 1h2m-2 1h2m-2 20h2m-1-12h2m-1-26h2m-2 9h2m-2 6h2m-2 0h2m-2 1h2m-1-13h2m-2 6h2m-2 5h2m-2 12h2m-1-27h2m-2 4h2m-2 4h2m-2 2h2m-2 42h2m-1-47h2m-2 0h2m-2 11h2m-2 3h2m-2 0h2m-2 29h2m-1-40h2m-2 5h2m-2 9h2m-2 2h2m-2 13h2m-2 3h2m-1-54h2m-2 17h2m-2 2h2m-2 13h2m-2 12h2m-2 3h2m-1-53h2m-2 10h2m-2 5h2m-2 4h2m-2 5h2m-2 3h2m-2 0h2m-2 2h2m-2 6h2m-2 0h2m-1-19h2m-2 12h2m-2 10h2m-2 6h2m-2 4h2m-2 1h2m-1-38h2m-2 7h2m-2 4h2m-2 1h2m-2 49h2m-1-45h2m-2 1h2m-2 1h2m-2 25h2m-1-33h2m-2 3h2m-2 26h2m-1-32h2m-2 7h2m-2 3h2m-2 6h2m-2 2h2m-1-13h2m-2 7h2m-2 0h2m-2 2h2m-2 18h2m-1-34h2m-2 4h2m-2 1h2m-2 13h2m-2 0h2m-2 10h2m-2 5h2m-1-44h2m-2 14h2m-2 9h2m-2 7h2m-2 3h2m-2 8h2m-1-23h2m-2 5h2m-2 9h2m-2 2h2m-1-28h2m-2 0h2m-2 15h2m-2 10h2m-1-32h2m-2 13h2m-2 16h2m-2 3h2m-2 3h2m-2 8h2m-2 1h2m-2 3h2m-1-36h2m-2 4h2m-2 15h2m-1-19h2m-2 3h2m-2 10h2m-2 1h2m-2 1h2m-2 9h2m-2 2h2m-1-18h2m-2 3h2m-2 11h2m-1-33h2m-2 6h2m-2 6h2m-2 10h2m-2 12h2m-1-28h2m-2 5h2m-2 13h2m-2 0h2m-2 9h2m-2 0h2m-2 0h2m-2 20h2m-1-37h2m-2 3h2m-2 0h2m-2 6h2m-2 2h2m-2 5h2m-2 3h2m-2 8h2m-2 1h2m-1-26h2m-2 4h2m-2 7h2m-2 29h2m-1-32h2m-1-30h2m-2 8h2m-2 6h2m-2 1h2m-2 9h2m-2 24h2m-1-21h2m-2 28h2m-1-31h2m-2 9h2m-2 3h2m-2 19h2m-2 3h2m-1-48h2m-2 34h2m-2 14h2m-1-53h2m-2 10h2m-2 9h2m-2 5h2m-2 28h2m-2 5h2m-1-47h2m-2 3h2m-2 1h2m-2 4h2m-2 17h2m-2 10h2m-1-26h2m-2 1h2m-2 10h2m-2 1h2m-2 2h2m-2 2h2m-1-18h2m-2 2h2m-2 4h2m-2 4h2m-2 3h2m-2 3h2m-2 11h2m-2 18h2m-1-57h2m-2 33h2m-2 2h2m-2 4h2m-2 1h2m-2 9h2m-1-35h2m-2 3h2m-2 6h2m-2 6h2m-2 11h2m-2 5h2m-1-45h2m-2 1h2m-2 3h2m-2 21h2m-2 11h2m-2 3h2m-1-33h2m-2 9h2m-2 23h2m-2 18h2m-1-32h2m-2 3h2m-2 3h2m-2 1h2m-1-42h2m-2 0h2m-2 24h2m-2 14h2m-1-16h2m-2 1h2m-2 2h2m-2 2h2m-2 20h2m-2 1h2m-2 6h2m-1-40h2m-2 14h2m-2 0h2m-2 18h2m-1-26h2m-2 6h2m-2 17h2m-2 1h2m-2 24h2m-1-88h2m-2 15h2m-2 11h2m-2 2h2m-2 8h2m-2 2h2m-2 2h2m-2 25h2m-1-31h2m-2 3h2m-2 8h2m-2 8h2m-2 3h2m-2 5h2m-1-36h2m-2 19h2m-2 2h2m-2 21h2m-2 0h2m-1-6h2m-1-14h2m-1-25h2m-2 6h2m-2 14h2m-2 5h2m-2 3h2m-2 10h2m-2 5h2m-1-33h2m-2 57h2m-1-59h2m-2 20h2m-2 8h2m-2 14h2m-2 2h2m-2 2h2m-1-69h2m-2 44h2m-2 5h2m-2 15h2m-2 4h2m-1-56h2m-2 14h2m-2 9h2m-2 3h2m-2 14h2m-2 3h2m-2 4h2m-2 4h2m-2 17h2m-1-74h2m-2 26h2m-2 18h2m-1-36h2m-1 14h2m-2 2h2m-2 8h2m-2 11h2m-2 4h2m-1-33h2m-2 4h2m-2 1h2m-2 10h2m-2 0h2m-2 4h2m-2 10h2m-2 3h2m-2 0h2m-2 15h2m-1-63h2m-1 24h2m-2 7h2m-2 4h2m-2 14h2m-1-13h2m-2 1h2m-2 10h2m-1-46h2m-2 24h2m-2 2h2m-2 12h2m-2 9h2m-2 1h2m-2 11h2m-1-44h2m-2 0h2m-2 4h2m-2 6h2m-2 1h2m-2 6h2m-2 10h2m-2 1h2m-1-5h2m-2 8h2m-2 3h2m-2 1h2m-1-33h2m-2 3h2m-2 5h2m-2 11h2m-2 2h2m-2 8h2m-2 9h2m-2 2h2m-1-12h2m-2 5h2m-2 0h2m-2 2h2m-2 14h2m-1-47h2m-2 27h2m-1-38h2m-2 8h2m-2 35h2m-1-55h2m-2 30h2m-2 2h2m-2 2h2m-2 2h2m-2 2h2m-2 8h2m-2 5h2m-2 4h2m-1-32h2m-2 47h2m-1-42h2m-2 30h2m-1-29h2m-2 5h2m-2 1h2m-2 3h2m-2 9h2m-2 2h2m-2 3h2m-2 4h2m-2 19h2m-1-54h2m-2 1h2m-2 30h2m-2 15h2m-2 1h2m-2 18h2m-1-58h2m-2 13h2m-2 9h2m-1-13h2m-2 4h2m-2 1h2m-2 6h2m-1-47h2m-2 18h2m-2 13h2m-2 23h2m-2 0h2m-2 24h2m-1-61h2m-2 8h2m-2 20h2m-2 8h2m-2 2h2m-2 1h2m-1-60h2m-2 26h2m-2 3h2m-2 13h2m-2 15h2m-1-53h2m-2 23h2m-2 3h2m-2 16h2m-2 7h2m-2 3h2m-1-24h2m-2 2h2m-2 13h2m-2 1h2m-2 19h2m-2 11h2m-2 7h2m-1-54h2m-2 10h2m-2 7h2m-1-15h2m-2 18h2m-2 8h2m-2 7h2m-1-46h2m-2 4h2m-2 4h2m-2 28h2m-1-9h2m-2 2h2m-2 10h2m-2 3h2m-1-63h2m-2 6h2m-2 34h2m-2 13h2m-2 1h2m-2 9h2m-1-47h2m-2 39h2m-2 3h2m-2 5h2m-1-56h2m-2 44h2m-2 6h2m-2 13h2m-1-60h2m-2 6h2m-2 35h2m-2 1h2m-2 2h2m-1-27h2m-2 5h2m-2 0h2m-2 22h2m-1-39h2m-2 6h2m-2 13h2m-2 18h2m-2 3h2m-2 23h2m-1-43h2m-2 28h2m-2 7h2m-1-58h2m-2 17h2m-2 26h2m-2 12h2m-1-59h2m-2 4h2m-2 9h2m-2 33h2m-2 7h2m-2 2h2m-1-27h2" stroke="#3a80c4" stroke-width="1.5" fill="none"/>
<path d="M178 4127.8V4408.4M1018 3917.6V4408.4M169 4127.8H178M172 4145.4H178M172 4162.9H178M172 4180.4H178M169 4198H178M172 4215.6H178M172 4233.1H178M172 4250.6H178M169 4268.2H178M172 4285.8H178M172 4303.3H178M172 4320.8H178M169 4338.4H178M172 4355.9H178M172 4373.5H178M172 4391H178M169 4408.6H178M1018 4268.2H1027M1018 4250.7H1024M1018 4233.1H1024M1018 4215.6H1024M1018 4198.1H1024M1018 4180.6H1027M1018 4163H1024M1018 4145.5H1024M1018 4128H1024M1018 4110.4H1024M1018 4092.9H1027M1018 4075.4H1024M1018 4057.8H1024M1018 4040.3H1024M1018 4022.8H1024M1018 4005.2H1027M1018 3987.7H1024M1018 3970.2H1024M1018 3952.7H1024M1018 3935.1H1024M1018 3917.6H1027" stroke="#000" stroke-width="1.8" fill="none"/>
<path d="M178 4268.2H1027" stroke="#000" stroke-width="2.2"/>
<path d="M282.2 4268.2v-5M386.5 4268.2v-5M490.8 4268.2v-5M595 4268.2v-8M699.2 4268.2v-5M803.5 4268.2v-5M907.8 4268.2v-5M1012 4268.2v-8" stroke="#000" stroke-width="2" fill="none"/>
<path d="M178.3 4127C180 4126.2 184.9 4123.6 188.6 4121.9C192.3 4120.2 196.6 4119.6 200.6 4116.7C204.6 4113.9 208.6 4107.3 212.6 4104.7C216.6 4102.1 220.6 4104.1 224.6 4101.3C228.6 4098.4 232.1 4093 236.7 4087.5C241.2 4082.1 247.8 4069.5 252.1 4068.7C256.4 4067.8 258.7 4077 262.4 4082.4C266.1 4087.8 270.1 4097.3 274.4 4101.3C278.7 4105.3 284.1 4106.1 288.2 4106.4C292.2 4106.7 295 4105.6 298.4 4103C301.9 4100.4 305.3 4097 308.7 4091C312.2 4085 315 4075 319 4066.9C323.1 4058.9 328.2 4049.2 332.8 4042.9C337.4 4036.6 342.5 4034.3 346.5 4029.2C350.5 4024 353.9 4014.3 356.8 4012C359.7 4009.7 361.4 4011.4 363.7 4015.4C366 4019.5 368.3 4026.3 370.5 4036C372.8 4045.8 375.1 4061.8 377.4 4073.8C379.7 4085.8 381.7 4100.1 384.3 4108.1C386.8 4116.1 390 4121 392.9 4121.9C395.7 4122.7 398.6 4114.4 401.4 4113.3C404.3 4112.1 406.9 4112 410 4115C413.2 4118 417.2 4129.8 420.3 4131.5C423.5 4133.2 425.8 4129.8 428.9 4125.3C432 4120.8 435.8 4115.6 439.2 4104.7C442.6 4093.8 446.3 4070.7 449.5 4060.1C452.6 4049.5 454.9 4044.3 458.1 4041.2C461.2 4038 464.7 4039.2 468.4 4041.2C472.1 4043.2 476.7 4048.3 480.4 4053.2C484.1 4058.1 487.3 4064.1 490.7 4070.4C494.1 4076.7 497.8 4085.9 501 4091C504.1 4096 506.1 4099.6 509.6 4100.6C513 4101.6 517.9 4098.8 521.6 4097.2C525.3 4095.6 528.5 4094.9 531.9 4091C535.3 4087.1 538.8 4078.4 542.2 4073.8C545.6 4069.2 548.5 4065.8 552.5 4063.5C556.5 4061.2 562.2 4061.8 566.2 4060.1C570.2 4058.4 573.4 4055.5 576.5 4053.2C579.7 4050.9 582.2 4045.8 585.1 4046.3C588 4046.9 590.8 4050.4 593.7 4056.6C596.5 4062.9 599.8 4076.1 602.3 4084.1C604.7 4092.1 605.3 4097.3 608.3 4104.7C611.3 4112.1 616.9 4127.6 620.3 4128.7C623.7 4129.9 626 4120.2 628.9 4111.6C631.8 4103 634.3 4089.5 637.5 4077.2C640.6 4064.9 644.6 4042.9 647.8 4037.8C650.9 4032.6 653.5 4038.6 656.4 4046.3C659.2 4054.1 661.8 4069.2 664.9 4084.1C668.1 4099 672 4123.6 675.2 4135.6C678.5 4147.6 681.4 4158.5 684.5 4156.2C687.7 4153.9 691.1 4136.7 694.1 4121.9C697.2 4107 699.8 4083.5 702.7 4066.9C705.6 4050.4 709 4030.3 711.3 4022.3C713.6 4014.3 714.1 4014.9 716.4 4018.9C718.7 4022.9 722.2 4036 725 4046.3C727.9 4056.6 730.7 4071.8 733.6 4080.7C736.5 4089.5 739 4099 742.2 4099.6C745.3 4100.1 748.5 4090 752.5 4084.1C756.5 4078.2 761.6 4066.5 766.2 4064.2C770.8 4061.9 775.4 4065.9 779.9 4070.4C784.5 4074.8 789.7 4084.7 793.7 4091C797.7 4097.3 800.3 4108.1 804 4108.1C807.7 4108.1 812 4098.4 816 4091C820 4083.5 824 4070.9 828 4063.5C832 4056.1 836 4049.2 840 4046.3C844 4043.5 847.7 4043.2 852 4046.3C856.3 4049.5 861.8 4064.1 865.8 4065.2C869.8 4066.4 872.6 4056.5 876.1 4053.2C879.5 4050 883.2 4045.1 886.4 4045.7C889.5 4046.2 892.1 4049.7 894.9 4056.6C897.8 4063.6 900.4 4077.8 903.5 4087.5C906.7 4097.3 909.8 4108.4 913.8 4115C917.8 4121.6 923.6 4122.4 927.6 4127C931.6 4131.6 934.7 4138.2 937.9 4142.5C941 4146.8 943.9 4153.3 946.4 4152.8C949 4152.2 950.7 4149.3 953.3 4139C955.9 4128.7 959.3 4110.4 961.9 4091C964.5 4071.5 966.5 4045.2 968.8 4022.3C971 3999.4 973 3971 975.6 3953.7C978.2 3936.3 981.3 3923.4 984.2 3918.3C987.1 3913.1 989.6 3918.6 992.8 3922.8C995.9 3926.9 1000.2 3935.9 1003.1 3943.4C1005.9 3950.8 1007.5 3955.1 1009.9 3967.4C1012.3 3979.7 1016.2 4008.9 1017.5 4017.2" stroke="#f6a66a" stroke-width="2.6" fill="none" stroke-linejoin="round"/>
<path d="M178.3 4194C179.7 4189.4 183.4 4174.5 186.9 4166.5C190.3 4158.5 195.2 4151.6 198.9 4145.9C202.6 4140.2 205.2 4135.6 209.2 4132.2C213.2 4128.7 218.9 4127.6 222.9 4125.3C226.9 4123 229.8 4121.9 233.2 4118.4C236.7 4115 240.1 4108.4 243.5 4104.7C247 4101 250.4 4096.4 253.8 4096.1C257.3 4095.8 260.7 4100.1 264.1 4103C267.6 4105.8 270.7 4110.1 274.4 4113.3C278.1 4116.4 283 4121.6 286.4 4121.9C289.9 4122.2 292.4 4119.6 295 4115C297.6 4110.4 299 4103.6 301.9 4094.4C304.7 4085.3 308.7 4072.1 312.2 4060.1C315.6 4048.1 319 4031.8 322.5 4022.3C325.9 4012.9 329.3 4007.4 332.8 4003.4C336.2 3999.4 339.6 3998.6 343.1 3998.3C346.5 3998 349.9 3999.4 353.4 4001.7C356.8 4004 360.2 4006.3 363.7 4012C367.1 4017.7 370.5 4026.9 374 4036C377.4 4045.2 381.1 4059.8 384.3 4066.9C387.4 4074.1 390 4077.8 392.9 4079C395.7 4080.1 398.9 4073.2 401.4 4073.8C404 4074.4 406 4078.4 408.3 4082.4C410.6 4086.4 412.9 4094.4 415.2 4097.8C417.5 4101.3 419.5 4105.3 422 4103C424.6 4100.7 427.2 4094.7 430.6 4084.1C434 4073.5 438.6 4054.9 442.6 4039.5C446.6 4024 450.9 4004.9 454.6 3991.4C458.4 3978 461.2 3966.2 464.9 3958.8C468.7 3951.4 473.5 3950.5 477 3946.8C480.4 3943.1 482.7 3940.5 485.5 3936.5C488.4 3932.5 491.5 3925.9 494.1 3922.8C496.7 3919.6 497.6 3918.3 501 3917.6C504.4 3916.9 510.7 3917.5 514.7 3918.6C518.7 3919.8 521.9 3920.9 525 3924.5C528.2 3928 530.7 3935.1 533.6 3939.9C536.5 3944.8 538.5 3949.9 542.2 3953.7C545.9 3957.4 551.9 3958.8 555.9 3962.2C559.9 3965.7 562.8 3971.4 566.2 3974.3C569.6 3977.1 573.4 3977.1 576.5 3979.4C579.7 3981.7 582.2 3982 585.1 3988C588 3994 590.5 4004 593.7 4015.4C596.8 4026.9 601.8 4049.8 604 4056.6C606.1 4063.5 605 4052.6 606.6 4056.6C608.2 4060.6 611.2 4074.3 613.4 4080.7C615.7 4087.1 617.7 4095.1 620.3 4095.1C622.9 4095.1 625.7 4087.7 628.9 4080.7C632 4073.7 635.8 4060.4 639.2 4053.2C642.6 4046.1 646.3 4040.6 649.5 4037.8C652.6 4034.9 655.2 4032.9 658.1 4036C660.9 4039.2 663.8 4046.3 666.7 4056.6C669.5 4066.9 672.1 4084.9 675.2 4097.8C678.4 4110.8 682.4 4132.9 685.5 4134.6C688.7 4136.3 691.3 4121.1 694.1 4108.1C697 4095.1 700.1 4070.9 702.7 4056.6C705.3 4042.3 707.3 4029.5 709.6 4022.3C711.9 4015.2 713.9 4012 716.4 4013.7C719 4015.4 722.2 4023.2 725 4032.6C727.9 4042.1 730.7 4061.5 733.6 4070.4C736.5 4079.2 739.3 4085.8 742.2 4085.8C745 4085.8 747.9 4076.4 750.8 4070.4C753.6 4064.4 755.9 4054.9 759.3 4049.8C762.8 4044.6 767.4 4040.1 771.4 4039.5C775.4 4038.9 779.7 4041.2 783.4 4046.3C787.1 4051.5 790.2 4060.6 793.7 4070.4C797.1 4080.1 800.8 4097.2 804 4104.7C807.1 4112.3 809.7 4115.7 812.6 4115.7C815.4 4115.7 818 4110.5 821.1 4104.7C824.3 4098.9 827.7 4088.2 831.4 4080.7C835.2 4073.1 839.7 4061.7 843.5 4059.4C847.2 4057.1 849.7 4061.8 853.8 4066.9C857.8 4072.1 863.5 4088.6 867.5 4090.3C871.5 4092 874.6 4082.3 877.8 4077.2C880.9 4072.2 883.7 4063.8 886.4 4060.1C889.1 4056.4 891.1 4052.1 893.9 4054.9C896.8 4057.8 900.2 4068.9 903.5 4077.2C906.8 4085.5 910.4 4097.3 913.8 4104.7C917.3 4112.1 920.4 4116.1 924.1 4121.9C927.8 4127.6 932.4 4133.9 936.1 4139C939.9 4144.2 942.7 4150.9 946.4 4152.8C950.2 4154.6 954.7 4150.9 958.5 4150C962.2 4149.2 965.9 4150.6 968.8 4147.6C971.6 4144.6 973 4140.5 975.6 4132.2C978.2 4123.9 981.3 4108.1 984.2 4097.8C987.1 4087.5 990.5 4076.4 992.8 4070.4C995.1 4064.4 995.9 4060.6 997.9 4061.8C999.9 4062.9 1002.5 4070.1 1004.8 4077.2C1007.1 4084.4 1009.5 4096.1 1011.7 4104.7C1013.8 4113.3 1016.5 4124.7 1017.5 4128.7" stroke="#2e6fe0" stroke-width="2.6" fill="none" stroke-linejoin="round"/>
<path d="M178.3 4207.7C180 4204.3 184.6 4193.4 188.6 4187.1C192.6 4180.8 198 4173.9 202.3 4169.9C206.6 4165.9 210.3 4164.2 214.3 4163.1C218.3 4161.9 222.6 4164.2 226.4 4163.1C230.1 4161.9 233.2 4159.9 236.7 4156.2C240.1 4152.5 243.5 4144.6 247 4140.8C250.4 4136.9 253.8 4134.2 257.3 4132.9C260.7 4131.5 264.1 4132.1 267.6 4132.9C271 4133.6 274.7 4135.3 277.9 4137.3C281 4139.4 283.9 4143.2 286.4 4145.2C289 4147.2 291 4150.4 293.3 4149.3C295.6 4148.3 297.6 4145.9 300.2 4139C302.7 4132.2 305.6 4118.4 308.7 4108.1C311.9 4097.8 315.6 4084.7 319 4077.2C322.5 4069.8 325.9 4066.4 329.3 4063.5C332.8 4060.6 336.2 4060.2 339.6 4060.1C343.1 4060 346.5 4061.1 349.9 4062.8C353.4 4064.5 356.2 4067.7 360.2 4070.4C364.2 4073.1 370 4075 374 4079C378 4083 380.8 4089.8 384.3 4094.4C387.7 4099 391.1 4103.8 394.6 4106.4C398 4109 402 4107.6 404.9 4109.9C407.7 4112.1 409.2 4116.8 411.7 4120.2C414.3 4123.5 417.5 4129.5 420.3 4129.8C423.2 4130.1 426 4125.5 428.9 4121.9C431.8 4118.3 434.6 4116.1 437.5 4108.1C440.3 4100.1 442.9 4086.4 446.1 4073.8C449.2 4061.2 452.9 4046.9 456.4 4032.6C459.8 4018.3 463.2 3999.1 466.7 3988C470.1 3976.8 473.5 3972.5 477 3965.7C480.4 3958.8 484.1 3953.4 487.3 3946.8C490.4 3940.2 493.3 3931.1 495.8 3926.2C498.4 3921.3 500.1 3918.5 502.7 3917.6C505.3 3916.8 507.6 3919.3 511.3 3921C515 3922.8 521.3 3924.2 525 3927.9C528.7 3931.6 530.7 3936.8 533.6 3943.4C536.5 3949.9 539 3960 542.2 3967.4C545.3 3974.8 548.5 3981.1 552.5 3988C556.5 3994.9 562.2 4003.4 566.2 4008.6C570.2 4013.7 573.1 4016.3 576.5 4018.9C579.9 4021.5 583.4 4021.2 586.8 4024C590.2 4026.9 593.7 4029.5 597.1 4036C600.5 4042.6 603.8 4053.5 607.4 4063.5C611 4073.5 615.6 4090.4 618.6 4096.1C621.6 4101.8 622.6 4100.1 625.5 4097.8C628.3 4095.6 632 4086.7 635.8 4082.4C639.5 4078.1 644.2 4075.2 647.8 4072.1C651.3 4068.9 654.2 4062.1 657 4063.5C659.9 4064.9 662.2 4071.5 664.9 4080.7C667.7 4089.8 670.4 4106.9 673.5 4118.4C676.7 4130 680.7 4147.7 683.8 4150C687 4152.3 689.3 4141.4 692.4 4132.2C695.6 4122.9 699 4105.7 702.7 4094.4C706.4 4083.1 711 4067.1 714.7 4064.2C718.4 4061.3 721.9 4069.3 725 4077.2C728.2 4085.1 730.7 4101.8 733.6 4111.6C736.5 4121.3 739 4133.9 742.2 4135.6C745.3 4137.3 749 4127.6 752.5 4121.9C755.9 4116.1 759.1 4105.6 762.8 4101.3C766.5 4097 770.8 4095 774.8 4096.1C778.8 4097.3 783.1 4101.6 786.8 4108.1C790.5 4114.7 793.1 4127.3 797.1 4135.6C801.1 4143.9 806.8 4155.6 810.8 4157.9C814.8 4160.2 817.7 4154.8 821.1 4149.3C824.6 4143.9 828 4131.5 831.4 4125.3C834.9 4119.1 838 4114.4 841.7 4112.3C845.5 4110.1 850 4111.2 853.8 4112.3C857.5 4113.3 860.9 4116.9 864 4118.4C867.2 4119.9 869.2 4122 872.6 4121.2C876.1 4120.3 880.6 4115.5 884.6 4113.3C888.7 4111.1 892.9 4106.7 896.7 4108.1C900.4 4109.6 903.5 4115.6 907 4121.9C910.4 4128.2 913.8 4138.5 917.3 4145.9C920.7 4153.3 924.1 4161.3 927.6 4166.5C931 4171.6 935 4174.6 937.9 4176.8C940.7 4179 941.9 4180.2 944.7 4179.5C947.6 4178.9 951.6 4175 955 4172.7C958.5 4170.4 961.9 4167.1 965.3 4165.8C968.8 4164.5 971.6 4164 975.6 4164.8C979.6 4165.6 985.3 4168.3 989.3 4170.6C993.4 4172.9 996.2 4174.9 999.6 4178.5C1003.1 4182.1 1007.1 4187.1 1009.9 4192.2C1012.8 4197.4 1015.7 4206.5 1016.8 4209.4" stroke="#1ec31e" stroke-width="2.8" fill="none" stroke-linejoin="round"/>
<g font-family="Liberation Sans, sans-serif" font-weight="bold" font-size="22" fill="#000" text-anchor="end">
<text x="150.5" y="4135.8">0.1</text>
<text x="150.5" y="4206">0.05</text>
<text x="150.5" y="4276.2">0</text>
<text x="150.5" y="4346.3">0.05</text>
<text x="150.5" y="4416.4">0.1</text>
</g>
<g font-family="Liberation Sans, sans-serif" font-weight="bold" font-size="22" fill="#000">
<text x="1046.7" y="4268.7">0</text>
<text x="1046.7" y="4181.1">25</text>
<text x="1046.7" y="4093.4">50</text>
<text x="1046.7" y="4005.8">75</text>
<text x="1046.7" y="3918.1">100</text>
</g>
<text transform="translate(97.5 4258.1) rotate(-90)" font-family="Liberation Sans, sans-serif" font-weight="bold" font-size="26.8" text-anchor="middle">mC per 10kb</text>
<text transform="translate(1115.5 4163) rotate(-90)" font-family="Liberation Sans, sans-serif" font-weight="bold" font-size="26.8" text-anchor="middle">Normalized mC density per 100 kb</text>
<g font-family="Liberation Sans, sans-serif" font-weight="bold" font-size="26" fill="#2471b0"><text x="192.7" y="4142.8">Watson</text><text x="192.7" y="4422.4">Crick</text></g>
<g font-family="Liberation Serif, serif" font-weight="bold" font-size="31" text-anchor="middle"><text x="629.5" y="4455">20Mb</text><text x="1020.5" y="4455">40Mb</text></g>
<text x="596" y="4500" font-family="Liberation Sans, sans-serif" font-weight="bold" font-size="27" text-anchor="middle">C09</text>
<text x="1715.5" y="3827" font-family="Liberation Serif, serif" font-weight="bold" font-size="60" text-anchor="middle">S</text>
<g stroke-width="2.6"><path d="M1374 3899.4h69" stroke="#1ec31e"/><path d="M1584.8 3899.4h68.5" stroke="#2e6fe0"/><path d="M1815 3899.4h69" stroke="#f6a66a"/></g>
<g font-family="Liberation Sans, sans-serif" font-weight="bold" font-size="24.5" fill="#000"><text x="1451" y="3908.4">mCG/CG</text><text x="1662.6" y="3908.4">mCHG/CHG</text><text x="1893" y="3908.4">mCHH/CHH</text></g>
<path d="M1270 4252h2m-2 21h2m-1-18h2m-2 12h2m-2 2h2m-1-10h2m-2 1h2m-2 5h2m-2 4h2m-2 3h2m-2 3h2m-1-12h2m-2 1h2m-2 9h2m-1-21h2m-2 12h2m-2 2h2m-2 1h2m-2 1h2m-2 3h2m-2 2h2m-2 1h2m-2 19h2m-1-41h2m-2 11h2m-2 0h2m-2 12h2m-1-10h2m-2 1h2m-2 7h2m-2 4h2m-2 2h2m-1-23h2m-2 8h2m-2 1h2m-2 0h2m-2 1h2m-2 3h2m-2 5h2m-2 16h2m-1-27h2m-2 1h2m-2 11h2m-2 1h2m-1-23h2m-2 18h2m-2 0h2m-2 1h2m-2 3h2m-2 2h2m-1-10h2m-2 5h2m-2 13h2m-1-30h2m-2 6h2m-2 6h2m-2 6h2m-2 6h2m-2 1h2m-1-17h2m-2 1h2m-2 11h2m-2 1h2m-2 1h2m-2 17h2m-1-32h2m-2 12h2m-2 0h2m-2 1h2m-1-13h2m-2 4h2m-2 8h2m-2 4h2m-2 0h2m-2 1h2m-1-19h2m-2 4h2m-2 4h2m-2 3h2m-2 3h2m-2 0h2m-2 7h2m-1-18h2m-2 13h2m-1-15h2m-2 2h2m-2 9h2m-1-18h2m-2 7h2m-2 7h2m-2 11h2m-2 7h2m-1-31h2m-2 12h2m-2 4h2m-2 12h2m-1-42h2m-2 7h2m-2 15h2m-2 19h2m-2 9h2m-1-36h2m-2 10h2m-2 1h2m-2 10h2m-2 2h2m-1-30h2m-2 0h2m-2 14h2m-2 4h2m-2 0h2m-2 2h2m-2 0h2m-2 1h2m-2 3h2m-1-17h2m-2 5h2m-2 1h2m-2 18h2m-2 10h2m-2 12h2m-1-49h2m-2 14h2m-2 5h2m-2 18h2m-1-39h2m-2 14h2m-2 3h2m-2 2h2m-2 4h2m-2 21h2m-1-53h2m-2 14h2m-2 8h2m-2 2h2m-2 3h2m-2 30h2m-1-55h2m-2 11h2m-2 12h2m-2 3h2m-2 3h2m-2 2h2m-2 5h2m-2 13h2m-1-50h2m-2 15h2m-2 2h2m-2 19h2m-1-29h2m-2 7h2m-2 12h2m-2 1h2m-2 9h2m-2 0h2m-1 0h2m-1-15h2m-2 0h2m-2 9h2m-1-20h2m-2 7h2m-2 5h2m-2 3h2m-2 8h2m-2 7h2m-1-22h2m-2 3h2m-2 13h2m-2 1h2m-1-21h2m-2 3h2m-2 4h2m-2 9h2m-2 1h2m-2 5h2m-1-9h2m-2 12h2m-2 2h2m-1-19h2m-2 3h2m-2 4h2m-2 1h2m-2 4h2m-2 10h2m-2 4h2m-2 3h2m-1-49h2m-2 13h2m-2 1h2m-2 3h2m-2 14h2m-2 1h2m-2 0h2m-2 21h2m-1-46h2m-2 18h2m-2 2h2m-2 6h2m-1-24h2m-2 15h2m-2 4h2m-2 1h2m-2 7h2m-1-27h2m-2 22h2m-2 1h2m-2 6h2m-1-20h2m-2 1h2m-2 6h2m-2 0h2m-2 4h2m-2 6h2m-2 0h2m-1-15h2m-2 5h2m-2 14h2m-1-32h2m-2 9h2m-2 9h2m-2 0h2m-2 5h2m-2 5h2m-2 3h2m-1-17h2m-2 6h2m-2 11h2m-2 0h2m-1-13h2m-2 15h2m-2 7h2m-1-48h2m-2 18h2m-2 6h2m-2 4h2m-2 3h2m-2 5h2m-2 4h2m-1-22h2m-2 1h2m-2 4h2m-2 2h2m-2 4h2m-2 1h2m-1-26h2m-2 9h2m-2 15h2m-2 12h2m-1-31h2m-2 11h2m-2 9h2m-2 0h2m-2 17h2m-1-26h2m-2 9h2m-2 0h2m-2 2h2m-2 17h2m-1-27h2m-2 0h2m-2 28h2m-1-39h2m-2 4h2m-2 2h2m-2 1h2m-2 14h2m-2 0h2m-2 2h2m-2 11h2m-1-38h2m-2 3h2m-2 25h2m-2 0h2m-2 0h2m-1-40h2m-2 7h2m-2 18h2m-2 11h2m-2 1h2m-1-21h2m-2 38h2m-1-33h2m-2 1h2m-2 2h2m-2 7h2m-2 11h2m-2 5h2m-1-26h2m-2 1h2m-2 24h2m0-24h2m-2 3h2m-2 7h2m-2 5h2m-2 1h2m-2 12h2m-1-39h2m-2 0h2m-2 2h2m-2 19h2m-2 0h2m-2 7h2m-2 5h2m-1-8h2m-2 1h2m-2 1h2m-2 7h2m-2 2h2m-2 0h2m-1-39h2m-2 2h2m-2 14h2m-2 6h2m-2 5h2m-2 1h2m-2 0h2m-2 2h2m-2 1h2m-2 11h2m-2 6h2m-1-38h2m-2 22h2m-2 2h2m-2 2h2m-2 15h2m-1-53h2m-2 8h2m-2 1h2m-2 2h2m-2 18h2m-2 2h2m-1-22h2m-2 20h2m-2 3h2m-2 4h2m-1-26h2m-2 5h2m-2 2h2m-2 5h2m-1-22h2m-2 25h2m-2 13h2m-2 8h2m-1-25h2m-1-4h2m-2 16h2m-2 2h2m-2 27h2m-1-37h2m-1-23h2m-2 7h2m-2 2h2m-1 17h2m-2 12h2m-1-36h2m-2 5h2m-2 7h2m-2 6h2m-2 0h2m-2 6h2m-2 13h2m-2 5h2m-1-41h2m-2 2h2m-2 6h2m-2 3h2m-2 2h2m-2 6h2m-1 8h2m-2 5h2m-2 0h2m-2 1h2m-2 9h2m-1-30h2m-2 6h2m-2 2h2m-2 3h2m-2 0h2m-1-36h2m-2 39h2m-2 0h2m-2 1h2m-2 4h2m-1-17h2m-2 1h2m-2 10h2m-2 3h2m-2 3h2m-2 7h2m-1-24h2m-2 5h2m-2 1h2m-2 3h2m-2 3h2m-2 3h2m-2 2h2m-1-15h2m-2 1h2m-1-24h2m-2 11h2m-2 4h2m-2 3h2m-2 3h2m-2 3h2m-2 7h2m-2 2h2m-1-13h2m-2 0h2m-2 2h2m-2 18h2m-2 7h2m-1-25h2m-2 14h2m-2 8h2m-1-13h2m-2 1h2m-1-21h2m-2 8h2m-2 3h2m-2 30h2m-1-25h2m-2 7h2m-2 9h2m-2 4h2m-2 2h2m-1-18h2m-2 1h2m-2 1h2m-1-20h2m-2 9h2m-2 2h2m-2 0h2m-2 3h2m-2 5h2m-2 4h2m-2 7h2m-2 5h2m-1-39h2m-2 12h2m-2 12h2m-2 3h2m-2 9h2m-1-52h2m-2 14h2m-2 18h2m-2 1h2m-2 5h2m-2 2h2m-2 0h2m-2 0h2m-2 7h2m-1-31h2m-2 14h2m-2 2h2m-2 3h2m-2 7h2m-2 0h2m-1-52h2m-2 29h2m-2 23h2m-1-34h2m-2 22h2m-2 1h2m-2 4h2m-2 3h2m-2 6h2m-2 0h2m-2 17h2m-1-48h2m-2 1h2m-2 22h2m-2 5h2m-1-7h2m-1-19h2m-2 29h2m-2 2h2m-2 6h2m-1-33h2m-2 6h2m-2 3h2m-2 10h2m-2 5h2m-2 1h2m-2 14h2m-1-51h2m-2 9h2m-2 13h2m-2 11h2m-2 0h2m-2 7h2m-1-30h2m-2 5h2m-2 3h2m-2 7h2m-2 2h2m-2 0h2m-2 9h2m-2 23h2m-1-59h2m-2 25h2m-2 11h2m-2 3h2m-1-29h2m-2 7h2m-2 0h2m-2 5h2m-2 8h2m-2 6h2m-2 2h2m-1-37h2m-2 33h2m-2 3h2m-2 4h2m-2 5h2m-2 26h2m-1-53h2m-2 6h2m-2 8h2m-1-27h2m-2 10h2m-2 1h2m-2 8h2m-2 12h2m-2 0h2m-2 15h2m-2 0h2m-1-48h2m-2 16h2m-2 3h2m-2 1h2m-2 14h2m-2 8h2m-2 0h2m-1-8h2m-2 7h2m-1-41h2m-2 2h2m-2 16h2m-2 3h2m-2 1h2m-2 1h2m-2 0h2m-2 4h2m-1-21h2m-2 13h2m-2 4h2m-2 4h2m-1-21h2m-2 11h2m-2 11h2m-2 0h2m-2 0h2m-2 1h2m-2 1h2m-2 0h2m-2 1h2m-2 0h2m-1-51h2m-2 36h2m-2 5h2m-2 1h2m-2 4h2m-2 2h2m-2 1h2m-2 5h2m-2 8h2m-1-30h2m-2 17h2m-2 0h2m-2 2h2m-2 0h2m-2 12h2m-2 2h2m-1-64h2m-2 7h2m-2 26h2m-2 9h2m-2 41h2m-1-64h2m-2 16h2m-2 0h2m-2 6h2m-2 7h2m-2 7h2m-1-33h2m-2 40h2m-2 3h2m-1-45h2m-2 8h2m-2 4h2m-2 14h2m-2 2h2m-2 6h2m-1-25h2m-2 17h2m-1-21h2m-2 8h2m-2 10h2m-2 6h2m-2 2h2m-1-23h2m-2 12h2m-2 2h2m-2 3h2m-2 25h2m-1-54h2m-2 2h2m-2 12h2m-2 13h2m-2 2h2m-2 5h2m-2 3h2m-2 1h2m-1-32h2m-2 14h2m-1-15h2m-2 9h2m-2 27h2m-1-45h2m-2 11h2m-2 9h2m-2 4h2m-2 4h2m-2 3h2m-2 6h2m-1-24h2m-2 11h2m-2 12h2m-2 26h2m-1-58h2m-2 15h2m-2 14h2m-1-5h2m-2 7h2m-2 2h2m-2 3h2m-1-44h2m-2 2h2m-2 8h2m-2 14h2m-2 3h2m-2 15h2m-1-11h2m-2 6h2m-2 4h2m-2 1h2m-1-21h2m-2 1h2m-2 0h2m-2 15h2m-2 10h2m-1-44h2m-2 16h2m-2 5h2m-2 18h2m-1-44h2m-2 19h2m-2 5h2m-2 2h2m-2 8h2m-2 9h2m-2 15h2m-1-49h2m-2 19h2m-2 28h2m-1-35h2m-2 6h2m-2 1h2m-2 5h2m-2 23h2m-1-51h2m-2 12h2m-2 9h2m-2 19h2m-2 2h2m-1-18h2m-2 2h2m-2 3h2m-2 1h2m-2 6h2m-2 3h2m-2 13h2m-1-32h2m-1-8h2m-2 12h2m-2 6h2m-2 2h2m-2 3h2m-2 3h2m-2 2h2m-2 0h2m-2 0h2m-1-13h2m-2 7h2m-1-22h2m-2 29h2m-2 1h2m-2 2h2m-1-35h2m-2 0h2m-2 2h2m-2 3h2m-2 17h2m-2 3h2m-2 6h2m-2 7h2m-2 1h2m-1-35h2m-2 0h2m-2 5h2m-2 20h2m-2 5h2m-2 0h2m-2 2h2m-2 6h2m-1-45h2m-2 12h2m-2 19h2m-2 7h2m-1 11h2m-1-52h2m-2 24h2m-2 1h2m-2 3h2m-2 1h2m-2 10h2m-2 16h2m-1-57h2m-2 1h2m-2 8h2m-2 5h2m-2 15h2m-2 2h2m-2 7h2m-1-22h2m-2 1h2m-2 7h2m-1-14h2m-2 16h2m-2 5h2m-2 3h2m-1-32h2m-2 17h2m-2 1h2m-2 4h2m-2 7h2m-2 1h2m-2 28h2m-1-54h2m-2 9h2m-2 2h2m-2 7h2m-2 21h2m-1-44h2m-2 8h2m-2 21h2m-2 7h2m-2 10h2m-1-42h2m-2 3h2m-2 13h2m-2 0h2m-2 5h2m-2 0h2m-2 9h2m-2 14h2m-2 13h2m-1-58h2m-2 13h2m-2 13h2m-2 1h2m-2 24h2m-1-38h2m-2 7h2m-2 9h2m-2 3h2m-2 1h2m-2 0h2m-2 17h2m-2 9h2m-1-56h2m-2 10h2m-2 2h2m-2 7h2m-2 8h2m-2 8h2m-1-14h2m-2 5h2m-2 2h2m-2 0h2m-2 4h2m-2 1h2m-2 10h2m-1-35h2m-2 10h2m-2 11h2m-2 12h2m-2 8h2m-1-55h2m-2 23h2m-2 2h2m-2 15h2m-2 1h2m-2 1h2m-1-28h2m-2 23h2m-2 7h2m-2 19h2m-1-68h2m-2 14h2m-2 9h2m-2 11h2m-2 3h2m-2 1h2m-2 2h2m-2 1h2m-1-18h2m-2 0h2m-2 10h2m-2 2h2m-2 4h2m-2 5h2m-2 0h2m-1-41h2m-2 15h2m-2 10h2m-2 5h2m-2 11h2m-2 4h2m-1-36h2m-2 2h2m-2 3h2m-2 3h2m-2 17h2m-2 2h2m-2 1h2m-1-27h2m-2 0h2m-2 4h2m-2 17h2m-2 4h2m-2 0h2m-2 5h2m-2 22h2m-1-51h2m-2 5h2m-2 24h2m-1 24h2m-1-23h2m-2 0h2m-2 4h2m-1-27h2m-2 36h2m-2 5h2m-1-53h2m-2 9h2m-2 11h2m-2 3h2m-2 1h2m-2 1h2m-1-26h2m-2 3h2m-2 14h2m-2 5h2m-2 11h2m-2 0h2m-2 7h2m-1-35h2m-2 4h2m-2 4h2m-2 2h2m-2 1h2m-2 5h2m-1-31h2m-2 10h2m-2 24h2m-2 11h2m-2 1h2m-1-43h2m-2 15h2m-2 21h2m-2 0h2m-2 5h2m-1-16h2m-2 8h2m-2 4h2m-2 30h2m-1-66h2m-2 15h2m-2 4h2m-2 4h2m-2 12h2m-2 2h2m-2 13h2m-2 0h2m-2 1h2m-1-37h2m-2 11h2m-2 4h2m-2 16h2m-1-35h2m-2 0h2m-2 6h2m-2 4h2m-2 5h2m-2 1h2m-2 2h2m-2 5h2m-2 0h2m-2 9h2m-2 15h2m-1-54h2m-2 13h2m-2 11h2m-2 9h2m-2 20h2m-1-45h2m-2 13h2m-2 6h2m-2 35h2m-1-56h2m-2 3h2m-2 26h2m-2 28h2m-1-55h2m-1 11h2m-2 25h2m-1-43h2m-2 12h2m-2 11h2m-2 3h2m-2 13h2m-1-39h2m-2 32h2m-2 18h2m-2 2h2m-1-37h2m-2 7h2m-2 6h2m-2 5h2m-2 2h2m-2 12h2m-2 1h2m-2 14h2m-1-43h2m-2 18h2m-2 20h2m-1-62h2m-2 20h2m-2 9h2m-2 4h2m-2 5h2m-2 4h2m-2 6h2m-2 12h2m-2 1h2m-1-56h2m-2 24h2m-2 4h2m-2 3h2m-2 2h2m-2 2h2m-2 6h2m-2 1h2m-1-30h2m-2 11h2m-2 1h2m-2 8h2m-2 16h2m-2 12h2m-1-42h2m-2 5h2m-2 17h2m-2 1h2m-1-26h2m-2 16h2m-2 2h2m-2 1h2m-1-18h2m-2 18h2m-2 2h2m-2 9h2m-2 6h2m-1-31h2m-2 8h2m-1-25h2m-2 14h2m-2 6h2m-2 2h2m-2 15h2m-1-39h2m-2 39h2m-1-30h2m-2 21h2m-2 14h2m-2 1h2m-1-46h2m-2 13h2m-2 1h2m-2 6h2m-2 3h2m-2 3h2m-2 3h2m-2 3h2m-2 6h2m-2 1h2m-1-40h2m-2 16h2m-2 11h2m-2 2h2m-2 3h2m-2 23h2m-1-30h2m-1-5h2m-2 3h2m-2 1h2m-2 5h2m-2 1h2m-2 4h2m-2 6h2m-2 3h2m-2 1h2m-2 8h2m-2 8h2m-1-74h2m-2 7h2m-2 16h2m-2 18h2m-2 1h2m-2 0h2m-2 0h2m-2 2h2m-2 5h2m-2 4h2m-2 1h2m-2 1h2m-2 21h2m-1-64h2m-2 15h2m-2 24h2m-2 2h2m-2 4h2m-2 9h2m-1-20h2m-2 18h2m-1-42h2m-2 11h2m-2 4h2m-2 3h2m-2 2h2m-2 6h2m-2 12h2m-1-39h2m-2 14h2m-2 9h2m-1-34h2m-2 4h2m-2 48h2m-2 13h2m-1-38h2m-2 8h2m-2 2h2m-2 1h2m-2 5h2m-2 6h2m-2 10h2m-1-45h2m-2 5h2m-2 2h2m-2 7h2m-2 16h2m-2 17h2m-1-65h2m-2 11h2m-2 5h2m-2 5h2m-2 14h2m-2 13h2m-1-29h2m-2 4h2m-2 1h2m-2 16h2m-2 4h2m-2 4h2m-2 4h2m-2 9h2m-2 2h2m-1-49h2m-2 7h2m-2 4h2m-2 5h2m-2 5h2m-2 16h2m-2 12h2m-1-57h2m-2 11h2m-2 8h2m-2 18h2m-2 21h2m-1-41h2m-1-9h2m-2 2h2m-1 1h2m-2 13h2m-2 7h2m-2 6h2m-2 12h2m-1-53h2m-2 9h2m-2 13h2m-2 6h2m-2 1h2m-2 7h2m-2 8h2m-1-45h2m-2 1h2m-2 14h2m-2 25h2m-2 11h2m-1-34h2m-2 16h2m-2 0h2m-2 20h2m-2 0h2m-2 5h2m-1-52h2m-2 8h2m-2 31h2m-2 0h2m-2 9h2m-1-59h2m-2 29h2m-2 7h2m-2 0h2m-2 3h2m-2 18h2m-2 3h2m-2 12h2m-2 7h2m-1-60h2m-2 18h2m-2 1h2m-2 2h2m-2 3h2m-2 6h2m-2 0h2m-2 7h2m-2 1h2m-2 9h2m-1-49h2m-2 22h2m-2 7h2m-2 12h2m-1-55h2m-2 1h2m-2 21h2m-2 16h2m-1-34h2m-2 25h2m-2 27h2m-2 2h2m-2 14h2m-1-63h2m-2 10h2m-2 3h2m-2 10h2m-2 0h2m-2 10h2m-2 5h2m-1-42h2m-2 28h2m-2 9h2m-1-32h2m-2 2h2m-2 15h2m-2 2h2m-2 8h2m-2 11h2m-2 7h2m-1-24h2m-2 2h2m-2 2h2m-2 0h2m-1-33h2m-2 8h2m-2 9h2m-2 25h2m-2 0h2m-2 7h2m-2 9h2m-1-61h2m-2 5h2m-2 23h2m-2 0h2m-2 5h2m-2 0h2m-2 21h2m-2 3h2m-1-40h2m-2 13h2m-2 4h2m-2 29h2m-1-30h2m-2 5h2m-2 12h2m-1-23h2m-2 9h2m-2 6h2m-2 0h2m-2 4h2m-1-20h2m-2 7h2m-2 1h2m-2 2h2m-2 15h2m-2 7h2m-2 4h2m-1-25h2m-1-25h2m-2 15h2m-2 0h2m-2 3h2m-2 4h2m-2 16h2m-2 2h2m-1-28h2m-2 18h2m-2 0h2m-2 2h2m-2 15h2m-2 16h2m-1-61h2m-2 6h2m-2 19h2m-2 11h2m-2 10h2m-2 2h2m-1-42h2m-2 10h2m-2 6h2m-2 1h2m-2 8h2m-2 4h2m-2 16h2m-1-68h2m-2 27h2m-2 23h2m-2 9h2m-1-17h2m-2 4h2m-2 5h2m-1-33h2m-2 8h2m-2 6h2m-2 1h2m-2 3h2m-2 13h2m-2 0h2m-2 3h2m-2 3h2m-2 1h2m-2 4h2m-2 3h2m-2 2h2m-1-54h2m-2 22h2m-2 5h2m-2 12h2m-2 3h2m-1-15h2m-2 13h2m-2 14h2m-1-37h2m-2 5h2m-2 14h2m-2 11h2m-1-47h2m-2 14h2m-2 2h2m-2 2h2m-2 7h2m-2 24h2m-2 2h2m-1-59h2m-2 35h2m-2 8h2m-1-20h2m-2 3h2m-2 5h2m-2 3h2m-2 5h2m-2 3h2m-2 5h2m-1-36h2m-2 0h2m-2 6h2m-2 12h2m-2 13h2m-2 4h2m-2 1h2m-2 5h2m-2 2h2m-2 2h2m-2 12h2m-1-54h2m-2 13h2m-2 6h2m-2 10h2m-2 3h2m-2 2h2m-2 4h2m-2 4h2m-2 6h2m-2 5h2m-2 2h2m-1-45h2m-2 4h2m-2 7h2m-2 19h2m-2 8h2m-2 1h2m-2 0h2m-1-52h2m-2 16h2m-2 16h2m-2 13h2m-1-54h2m-2 11h2m-2 1h2m-2 0h2m-2 11h2m-2 2h2m-2 21h2m-2 3h2m-2 5h2m-2 0h2m-2 21h2m-1-57h2m-2 9h2m-2 4h2m-2 0h2m-2 7h2m-2 6h2m-2 7h2m-2 2h2m-1-43h2m-2 15h2m-2 19h2m-2 12h2m-1-55h2m-2 21h2m-2 2h2m-2 20h2m-2 11h2m-1-41h2m-2 0h2m-2 9h2m-2 19h2m-2 5h2m-2 5h2m-2 2h2m-1-29h2m-2 6h2m-2 9h2m-2 1h2m-2 0h2m-2 1h2m-2 9h2m-1-63h2m-2 53h2m-2 4h2m-2 4h2m-2 0h2m-2 1h2m-2 7h2m-1-38h2m-2 23h2m-2 8h2m-1-38h2m-2 21h2m-2 2h2m-2 17h2m-2 5h2m-2 2h2m-1-59h2m-2 23h2m-2 31h2m-2 16h2m-1-59h2m-2 9h2m-2 8h2m-2 6h2m-2 9h2m-2 3h2m-2 11h2m-1-41h2m-2 26h2m-2 0h2m-2 5h2m-2 7h2m-1-21h2m-2 30h2m-1-43h2m-2 1h2m-2 1h2m-2 7h2m-2 31h2m-1-79h2m-2 31h2m-2 10h2m-2 1h2m-2 14h2m-2 7h2m-1-28h2m-2 2h2m-2 3h2m-2 13h2m-2 20h2m-1-44h2m-2 21h2m-2 11h2m-2 4h2m-2 10h2m-1-51h2m-2 10h2m-2 11h2m-2 10h2m-2 18h2m-1-56h2m-2 28h2m-2 19h2m-2 2h2m-2 0h2m-1-39h2m-2 9h2m-2 17h2m-2 6h2m-2 4h2m-1-33h2m-2 6h2m-2 16h2m-1 13h2m-2 6h2m-1-42h2m-2 17h2m-2 8h2m-2 11h2m-2 1h2m-2 8h2m-2 4h2m-1-44h2m-2 7h2m-2 1h2m-2 1h2m-2 10h2m-2 10h2m-2 4h2m-1-22h2m-2 17h2m-2 5h2m-2 8h2m-2 18h2m-1-58h2m-2 1h2m-2 23h2m-2 7h2m-2 1h2m-2 1h2m-2 6h2m-2 6h2m-1-41h2m-2 1h2m-2 6h2m-2 23h2m-1-18h2m-2 8h2m-2 4h2m-1-42h2m-2 15h2m-2 0h2m-2 40h2m-1-29h2m-2 1h2m-2 15h2m-2 5h2m-2 3h2m-2 17h2m-1-38h2m-2 6h2m-2 13h2m-1-35h2m-2 2h2m-2 8h2m-2 12h2m-2 4h2m-2 11h2m-2 6h2m-1-23h2m-2 7h2m-1-28h2m-2 4h2m-2 11h2m-2 12h2m-2 3h2m-2 10h2m-2 21h2m-1-76h2m-2 12h2m-2 5h2m-2 1h2m-2 25h2m-2 1h2m-1-24h2m-2 6h2m-2 5h2m-2 3h2m-2 9h2m-2 10h2m-1-39h2m-2 8h2m-2 24h2m-1-10h2m-2 5h2m-2 5h2m-2 4h2m-2 1h2m-1-35h2m-2 0h2m-2 14h2m-2 1h2m-2 1h2m-2 11h2m-2 1h2m-1-40h2m-2 17h2m-2 20h2m-2 3h2m-2 3h2m-2 2h2m-2 4h2m-2 1h2m-2 10h2m-1-28h2m-2 1h2m-2 8h2m-2 15h2m-1-28h2m-2 3h2m-2 1h2m-2 22h2m-1-63h2m-2 14h2m-2 5h2m-2 5h2m-2 6h2m-2 11h2m-2 5h2m-2 3h2m-2 1h2m-1-8h2m-1-9h2m-2 0h2m-2 16h2m-2 10h2m-2 7h2m-1-74h2m-2 22h2m-2 10h2m-2 29h2m-1-42h2m-2 16h2m-2 6h2m-2 2h2m-2 2h2m-2 15h2m-2 1h2m-2 1h2m-2 2h2m-2 6h2m-1-40h2m-2 1h2m-2 7h2m-2 1h2m-2 16h2m-2 4h2m-2 17h2m-1-73h2m-2 31h2m-2 10h2m-2 5h2m-2 10h2m-2 4h2m-2 6h2m-1-51h2m-2 15h2m-2 6h2m-2 2h2m-2 8h2m-2 9h2m-1-33h2m-2 9h2m-1 8h2m-2 12h2m-1-31h2m-2 0h2m-2 5h2m-2 4h2m-2 3h2m-2 9h2m-2 12h2m-2 1h2m-2 8h2m-1-30h2m-2 9h2m-2 10h2m-2 0h2m-1-38h2m-2 11h2m-2 10h2m-1 8h2m-2 9h2m-2 7h2m-2 14h2m-1-56h2m-2 32h2m-2 4h2m-2 6h2m-2 5h2m-2 1h2m-2 2h2m-2 7h2m-1-40h2m-2 5h2m-2 9h2m-2 17h2m-2 0h2m-2 5h2m-1-23h2m-2 3h2m-2 14h2m-2 3h2m-1-39h2m-2 4h2m-2 20h2m-2 2h2m-2 1h2m-2 22h2m-1-59h2m-2 12h2m-2 6h2m-2 29h2m-2 3h2m-1-31h2m-2 12h2m-1-33h2m-2 22h2m-2 2h2m-2 2h2m-2 15h2m-1-53h2m-2 19h2m-2 2h2m-2 16h2m-2 4h2m-2 7h2m-2 1h2m-2 0h2m-2 3h2m-2 2h2m-2 1h2m-1-12h2m-2 3h2m-2 13h2m-1-17h2m-2 1h2m-2 15h2m-2 1h2m-2 3h2m-2 2h2m-1-36h2m-2 4h2m-2 6h2m-2 1h2m-2 6h2m-2 17h2m-2 4h2m-1-58h2m-2 20h2m-2 8h2m-2 0h2m-2 10h2m-2 3h2m-2 0h2m-2 1h2m-2 6h2m-2 1h2m-2 2h2m-2 0h2m-2 3h2m-1-29h2m-2 7h2m-2 5h2m-2 1h2m-2 8h2m-1-34h2m-2 30h2m-2 7h2m-2 4h2m-2 5h2m-1-37h2m-2 3h2m-2 10h2m-2 5h2m-2 11h2m-2 3h2m-1-56h2m-2 5h2m-2 2h2m-2 12h2m-2 4h2m-2 6h2m-2 1h2m-2 1h2m-2 14h2m-2 6h2m-2 0h2m-1-20h2m-2 12h2m-1-33h2m-2 0h2m-2 4h2m-2 8h2m-2 5h2m-2 2h2m-2 7h2m-2 28h2m-2 6h2m-1-68h2m-2 10h2m-2 4h2m-2 12h2m-2 15h2m-2 2h2m-2 9h2m-2 2h2m-2 9h2m-1-65h2m-2 6h2m-2 16h2m-2 11h2m-2 5h2m-2 13h2m-1-30h2m-2 4h2m-2 21h2m-2 4h2m-2 6h2m-2 9h2m-2 0h2m-1-50h2m-2 17h2m-2 13h2m-2 3h2m-2 11h2m-2 1h2m-1-56h2m-2 17h2m-2 1h2m-2 5h2m-2 1h2m-2 19h2m-2 16h2m-1-57h2m-2 26h2m-2 14h2m-2 7h2m-1-59h2m-2 42h2m-2 10h2m-2 15h2m-2 8h2m-1-52h2m-2 18h2m-2 5h2m-2 7h2m-2 10h2m-2 3h2m-2 11h2m-1-70h2m-2 16h2m-2 2h2m-2 3h2m-2 1h2m-2 1h2m-2 7h2m-2 19h2m-1-28h2m-2 7h2m-2 3h2m-2 2h2m-2 10h2m-1-21h2m-2 8h2m-2 10h2m-2 12h2m-1-46h2m-2 11h2m-2 5h2m-2 8h2m-2 2h2m-2 13h2m-2 1h2m-1-58h2m-2 55h2m-2 6h2m-2 12h2m-2 11h2m-1-52h2m-2 23h2m-2 2h2m-2 17h2m-1-43h2m-2 26h2m-2 10h2m-1-27h2m-2 10h2m-2 1h2m-2 33h2m-1-54h2m-2 6h2m-2 23h2m-2 10h2m-1-56h2m-2 15h2m-2 20h2m-2 3h2m-2 22h2m-2 0h2m-2 3h2m-1-73h2m-2 42h2m-2 7h2m-2 4h2m-2 13h2m-1-38h2m-2 4h2m-2 12h2m-2 1h2m-2 4h2m-2 17h2m-2 1h2m-2 1h2m-1-60h2m-2 30h2m-2 15h2m-2 5h2m-2 2h2m-2 1h2m-2 7h2m-1-50h2m-2 40h2m-2 7h2m-1-60h2m-2 24h2m-2 28h2m-2 2h2m-2 7h2m-2 5h2m-1-36h2m-2 2h2m-2 11h2m-2 6h2m-2 23h2m-1-66h2m-2 40h2m-2 8h2m-2 2h2m-1-44h2m-2 2h2m-2 26h2m-2 5h2m-2 1h2m-2 2h2m-2 16h2m-1-58h2m-2 16h2m-2 9h2m-2 2h2m-2 1h2m-2 17h2m-2 1h2m-1-42h2m-2 31h2m-2 17h2m-1-47h2m-2 20h2m-2 7h2m-2 6h2m-2 5h2m-2 9h2m-1-40h2m-2 4h2m-2 17h2m-2 14h2m-2 1h2m-2 2h2m-2 12h2m-1-50h2m-2 2h2m-2 28h2m-2 6h2m-1 5h2m-2 1h2m-2 0h2m-1-35h2m-2 4h2m-2 10h2m-2 9h2m-2 19h2m-1-19h2m-2 2h2m-2 12h2m-1-29h2m-2 4h2m-2 6h2m-2 2h2m-2 8h2m-1-24h2m-2 3h2m-2 5h2m-1-24h2m-2 6h2m-2 27h2m-1-13h2m-2 4h2m-2 11h2m-2 6h2m-2 10h2m-2 0h2m-1-68h2m-2 15h2m-2 17h2m-2 12h2m-2 1h2m-2 5h2m-2 0h2m-2 2h2m-1-33h2m-2 2h2m-2 3h2m-2 18h2m-2 19h2m-2 3h2m-2 2h2m-1-30h2m-2 2h2m-2 3h2m-1-29h2m-2 2h2m-2 19h2m-2 9h2m-2 12h2m-1-9h2m-2 6h2m-2 4h2m-2 37h2m-1-60h2m-2 6h2m-2 2h2m-2 13h2m-2 4h2m-1-37h2m-2 25h2m-2 6h2m-2 3h2m-2 7h2m-2 0h2m-2 6h2m-1-46h2m-2 9h2m-2 17h2m-2 19h2m-2 4h2m-1-19h2m-2 4h2m-2 1h2m-2 7h2m-1-43h2m-2 3h2m-2 0h2m-2 38h2m-2 20h2m-1-43h2m-2 20h2m-1-50h2m-2 13h2m-2 32h2m-2 1h2m-2 6h2m-2 1h2m-1-33h2m-2 6h2m-2 4h2m-2 3h2m-2 2h2m-2 5h2m-2 4h2m-2 3h2m-2 0h2m-2 1h2m-1-35h2m-2 22h2m-2 14h2m-2 4h2m-1-42h2m-2 4h2m-2 4h2m-2 17h2m-2 9h2m-2 4h2m-1-53h2m-2 21h2m-2 4h2m-2 11h2m-2 6h2m-2 17h2m-2 1h2m-2 11h2m-2 7h2m-1-40h2m-2 19h2m-2 1h2m-1-31h2m-2 23h2m-1-60h2m-2 35h2m-2 2h2m-2 5h2m-2 9h2m-2 5h2m-1 7h2m-1-28h2m-2 6h2m-2 12h2m-2 6h2m-1-56h2m-2 14h2m-2 9h2m-2 19h2m-2 3h2m-2 12h2m-2 3h2m-2 3h2m-2 2h2m-1-28h2m-2 3h2m-2 0h2m-2 8h2m-2 6h2m-2 8h2m-1-39h2m-2 32h2m-2 2h2m-2 2h2m-2 6h2m-2 6h2m-1-31h2m-2 2h2m-2 9h2m-1-21h2m-2 10h2m-2 13h2m-2 8h2m-2 1h2m-2 5h2m-1-42h2m-2 7h2m-2 16h2m-2 0h2m-2 7h2m-2 8h2m-1-25h2m-2 4h2m-2 6h2m-2 1h2m-2 2h2m-2 7h2m-2 6h2m-2 2h2m-2 5h2m-1-36h2m-2 33h2m-2 7h2m-1-46h2m-2 4h2m-2 13h2m-2 3h2m-2 2h2m-2 15h2m-2 4h2m-1-67h2m-2 6h2m-2 3h2m-2 17h2m-2 2h2m-2 12h2m-2 4h2m-2 7h2m-2 14h2m-2 1h2m-2 2h2m-1-52h2m-2 3h2m-2 8h2m-2 14h2m-2 4h2m-2 13h2m-2 1h2m-2 3h2m-2 14h2m-1-61h2m-2 32h2m-2 0h2m-2 1h2m-2 2h2m-2 2h2m-2 8h2m-2 0h2m-1-54h2m-2 7h2m-2 35h2m-2 0h2m-2 7h2m-2 6h2m-2 13h2m-1-60h2m-2 1h2m-2 6h2m-2 40h2m-2 0h2m-2 2h2m-1-27h2m-2 5h2m-2 9h2m-2 9h2m-1-35h2m-2 14h2m-2 5h2m-2 3h2m-2 11h2m-2 1h2m-2 4h2m-2 8h2m-1-50h2m-2 4h2m-2 13h2m-2 2h2m-2 3h2m-2 3h2m-2 6h2m-2 4h2m-1-21h2m-2 16h2m-2 4h2m-2 1h2m-2 1h2m-2 15h2m-2 10h2m-1-67h2m-2 0h2m-2 17h2m-2 17h2m-2 25h2m-2 2h2m-1-47h2m-2 1h2m-2 1h2m-2 8h2m-2 11h2m-2 3h2m-2 0h2m-2 6h2m-2 24h2m-1-48h2m-2 1h2m-2 12h2m-2 4h2m-2 0h2m-2 2h2m-2 1h2m-2 21h2m-1-56h2m-2 26h2m-1 7h2m-1-38h2m-2 3h2m-2 10h2m-2 0h2m-2 9h2m-2 4h2m-2 4h2m-2 1h2m-2 5h2m-2 1h2m-2 9h2m-2 5h2m-1-18h2m-2 0h2m-1-36h2m-2 14h2m-2 29h2m-2 11h2m-1-44h2m-2 11h2m-2 6h2m-2 10h2m-2 13h2m-1-35h2m-2 3h2m-2 5h2m-2 16h2m-2 1h2m-2 9h2m-2 0h2m-2 14h2m-1-46h2m-2 14h2m-2 14h2m-2 2h2m-2 3h2m-1-33h2m-2 1h2m-2 5h2m-2 3h2m-2 1h2m-2 6h2m-2 2h2m-2 2h2m-2 7h2m-2 1h2m-1-15h2m-2 4h2m-1-28h2m-2 6h2m-2 20h2m-1-11h2m-2 4h2m-2 7h2m-2 0h2m-2 2h2m-2 1h2m-2 6h2m-2 3h2m-2 6h2m-1-23h2m-2 16h2m-2 2h2m-2 8h2m-2 6h2m-1-32h2m-2 6h2m-2 1h2m-2 11h2m-2 8h2m-1-11h2m-2 21h2m-1-61h2m-2 31h2m-2 8h2m-2 0h2m-2 1h2m-1-33h2m-2 18h2m-2 7h2m-2 7h2m-2 5h2m-2 4h2m-1-44h2m-2 7h2m-2 9h2m-2 17h2m-2 1h2m-2 3h2m-2 8h2m-1-33h2m-2 13h2m-2 15h2m-2 7h2m-1-44h2m-2 11h2m-2 19h2m-2 5h2m-1-25h2m-2 7h2m-2 3h2m-2 10h2m-2 3h2m-1-14h2m-2 11h2m-2 1h2m-2 2h2m-2 3h2m-2 4h2m-2 6h2m-1-60h2m-2 11h2m-2 3h2m-2 12h2m-2 7h2m-2 5h2m-2 1h2m-2 6h2m-2 3h2m-2 6h2m-2 1h2m-1-35h2m-2 5h2m-2 6h2m-2 21h2m-1-36h2m-2 5h2m-2 26h2m-1-14h2m-2 12h2m-2 3h2m-1-41h2m-2 22h2m-2 27h2m-1-54h2m-2 7h2m-2 10h2m-2 1h2m-2 2h2m-2 8h2m-2 1h2m-2 17h2m-2 1h2m-2 2h2m-1-37h2m-2 35h2m-2 1h2m-2 6h2m-1-11h2m-2 1h2m-2 5h2m-2 8h2m-1-48h2m-2 21h2m-2 1h2m-2 11h2m-2 16h2m-2 11h2m-1-26h2m-1-9h2m-2 12h2m-2 3h2m-2 4h2m-1-46h2m-2 17h2m-2 19h2m-2 15h2m-1-31h2m-2 5h2m-2 5h2m-2 2h2m-2 15h2m-1 0h2m-1-37h2m-2 25h2m-2 3h2m-2 1h2m-2 2h2m-2 1h2m-1-21h2m-2 4h2m-2 10h2m-2 3h2m-2 2h2m-2 1h2m-2 1h2m-2 7h2m-2 7h2m-2 4h2m-1-39h2m-2 1h2m-2 5h2m-2 3h2m-2 18h2m-1-42h2m-2 0h2m-2 11h2m-2 0h2m-2 5h2m-2 2h2m-2 7h2m-2 5h2m-1-31h2m-2 17h2m-2 3h2m-2 1h2m-2 2h2m-2 20h2m-2 10h2m-1-36h2m-2 21h2m-2 1h2m-1-42h2m-2 3h2m-2 7h2m-2 11h2m-2 6h2m-2 14h2m-2 10h2m-1-28h2m-2 13h2m-2 4h2m-2 16h2m-1-48h2m-2 18h2m-2 3h2m-2 1h2m-2 0h2m-2 16h2m-1-17h2m-2 0h2m-2 7h2m-1-8h2m-2 8h2m-2 3h2m-2 9h2m-1-53h2m-2 14h2m-2 0h2m-2 16h2m-2 8h2m-2 6h2m-2 13h2m-1-37h2m-2 4h2m-2 2h2m-2 13h2m-2 4h2m-1-33h2m-2 8h2m-2 1h2m-2 14h2m-2 1h2m-2 7h2m-2 2h2m-2 3h2m-1-26h2m-2 11h2m-2 2h2m-2 1h2m-2 2h2m-2 3h2m-2 1h2m-2 11h2m-2 9h2m-1-41h2m-2 11h2m-2 9h2m-2 1h2m-1-12h2m-2 2h2m-2 3h2m-2 5h2m-2 6h2m-1-32h2m-2 29h2m-1-30h2m-2 7h2m-2 7h2m-2 0h2m-2 5h2m-2 4h2m-2 1h2m-2 5h2m-2 1h2m-2 2h2m-2 1h2m-1-26h2m-2 3h2m-2 0h2m-2 21h2m-1-13h2m-2 4h2m-2 9h2m-2 4h2m-1-24h2m-2 10h2m-2 17h2m-1-27h2m-2 17h2m-2 2h2m-2 3h2m-1-15h2m-2 5h2m-2 4h2m-2 1h2m-2 12h2m-1-40h2m-2 0h2m-2 4h2m-2 18h2m-2 2h2m-2 18h2m-2 3h2m-1-56h2m-2 21h2m-2 0h2m-2 8h2m-2 22h2m-1-10h2m-2 27h2m-2 3h2m-1-49h2m-2 17h2m-2 1h2m-2 2h2m-2 18h2m-1-36h2m-2 0h2m-2 6h2m-2 4h2m-2 15h2m-2 0h2m-2 4h2m-2 8h2m-2 9h2m-1-49h2m-2 6h2m-2 3h2m-2 25h2m-1-35h2m-2 7h2m-2 21h2m-2 9h2m-1-38h2m-2 15h2m-2 1h2m-2 27h2m-1-45h2m-2 18h2m-2 25h2m0-48h2m-2 14h2m-2 18h2m-2 5h2m-2 2h2m-1-47h2m-2 25h2m-2 7h2m-1-32h2m-2 11h2m-2 26h2m-2 2h2m-2 8h2m-2 3h2m-1-14h2m-2 0h2m-2 0h2m-1-32h2m-2 10h2m-2 21h2m-2 3h2m-2 3h2m-2 3h2m-2 6h2m-1-48h2m-2 29h2m-2 0h2m-2 3h2m-2 2h2m-2 0h2m-2 5h2m-2 2h2m-2 0h2m-2 2h2m-2 8h2m-1 6h2m-1-46h2m-2 11h2m-2 5h2m-2 2h2m-2 1h2m-2 17h2m-1-27h2m-2 12h2m-2 9h2m-2 2h2m-2 2h2m-2 1h2m-1-21h2m-2 10h2m-2 8h2m-2 1h2m-2 21h2m-1-56h2m-2 11h2m-2 0h2m-2 2h2m-2 15h2m-1-47h2m-2 15h2m-2 29h2m-2 1h2m-2 5h2m-2 1h2m-1-42h2m-2 13h2m-2 2h2m-2 16h2m-2 4h2m-2 7h2m-1-35h2m-2 29h2m-2 2h2m-2 3h2m-2 1h2m-2 9h2m-1-52h2m-2 43h2m-2 11h2m-1-29h2m-2 1h2m-2 2h2m-2 10h2m-1-26h2m-2 24h2m-2 11h2m-2 0h2m-1-50h2m-2 31h2m-2 7h2m-2 2h2m-2 10h2m-2 7h2m-1-62h2m-2 15h2m-2 17h2m-1-11h2m-2 12h2m-2 0h2m-2 7h2m-2 3h2m-2 2h2m-2 31h2m-1-64h2m-2 30h2m-2 6h2m-2 4h2m-1-36h2m-2 7h2m-2 3h2m-2 11h2m-2 17h2m-1-42h2m-2 0h2m-2 16h2m-2 15h2m-1-24h2m-2 20h2m-2 6h2m-2 2h2m-2 4h2m-1-23h2m-2 26h2m-2 3h2m-1-28h2m-2 0h2m-2 17h2m-2 3h2m-2 3h2m-1-37h2m-2 10h2m-2 3h2m-2 3h2m-2 3h2m-2 3h2m-2 3h2m-2 2h2m-2 6h2m-2 4h2m-2 10h2m-1-32h2m-2 3h2m-2 1h2m-2 3h2m-2 7h2m-2 2h2m-2 1h2m-2 5h2m-2 4h2m-1-31h2m-2 2h2m-2 2h2m-2 2h2m-2 6h2m-2 2h2m-2 6h2m-2 3h2m-2 5h2m-1-28h2m-2 20h2m-2 0h2m-1-36h2m-2 8h2m-2 5h2m-2 9h2m-2 9h2m-2 5h2m-2 5h2m-1-32h2m-2 7h2m-2 15h2m-2 7h2m-2 0h2m-2 4h2m-1-41h2m-2 24h2m-2 3h2m-2 17h2m-1-25h2m-2 19h2m-1-24h2m-2 11h2m-2 17h2m-1-31h2m-2 14h2m-2 12h2m-2 1h2m-2 1h2m-2 6h2m-2 13h2m-2 2h2m-2 3h2m-1-63h2m-2 23h2m-2 3h2m-2 9h2m-2 10h2m-2 7h2m-1-29h2m-2 5h2m-2 0h2m-2 6h2m-2 4h2m-2 0h2m-2 4h2m-1-28h2m-2 2h2m-2 7h2m-2 3h2m-2 1h2m-2 2h2m-2 8h2m-2 6h2m-1-50h2m-2 19h2m-2 18h2m-2 2h2m-2 1h2m-2 2h2m-2 3h2m-1-34h2m-2 5h2m-2 13h2m-2 16h2m-2 2h2m-2 5h2m0-48h2m-2 20h2m-2 1h2m-2 3h2m-2 4h2m-2 11h2m-2 1h2m-2 5h2m-2 8h2m-1-50h2m-2 28h2m-2 12h2m-2 8h2m-1-34h2m-2 8h2m-2 13h2m-1-17h2m-2 1h2m-2 5h2m-2 3h2m-2 8h2m-1-46h2m-2 32h2m-2 3h2m-2 25h2m-1-41h2m-2 11h2m-2 1h2m-2 13h2m-2 1h2m-1-39h2m-2 34h2m-2 0h2m-2 5h2m-2 2h2m-1-23h2m-2 8h2m-2 13h2m-2 2h2m-2 3h2m-2 5h2m-1-18h2m-2 2h2m-2 5h2m-2 0h2m-2 0h2m-2 1h2m-1-29h2m-2 18h2m-2 0h2m-2 43h2m-1-57h2m-2 20h2m-2 13h2m-2 4h2m-2 8h2m-1-33h2m-2 6h2m-2 3h2m-2 2h2m-2 9h2m-2 11h2m-1-57h2m-2 20h2m-2 1h2m-2 11h2m-2 6h2m-1-32h2m-2 33h2m-2 4h2m-2 7h2m-1-27h2m-2 0h2m-2 1h2m-2 3h2m-2 5h2m-2 2h2m-2 3h2m-2 1h2m-2 0h2m-1-5h2m-2 22h2m-1-26h2m-2 5h2m-2 5h2m-2 0h2m-2 18h2m-1-15h2m-2 2h2m-2 0h2m-1-13h2m-2 3h2m-2 4h2m-2 1h2m-1-40h2m-2 10h2m-2 3h2m-2 17h2m-2 1h2m-2 11h2m-2 0h2m-2 6h2m-2 7h2m-1-41h2m-2 7h2m-2 14h2m-2 1h2m-2 4h2m-2 5h2m-2 5h2m-2 3h2m-1-41h2m-2 13h2m-2 14h2m-1-20h2m-2 5h2m-2 3h2m-2 5h2m-2 9h2m-1-36h2m-2 7h2m-2 30h2m-2 1h2m-2 4h2m-2 0h2m-1-39h2m-2 14h2m-2 7h2m-2 3h2m-2 6h2m-2 3h2m-2 4h2m-1-24h2m-2 3h2m-2 22h2m-1-31h2m-2 13h2m-2 2h2m-2 1h2m-1-15h2m-2 5h2m-2 3h2m-2 4h2m-2 6h2m-2 6h2m-2 1h2m-2 3h2m-2 4h2m-2 1h2m-2 3h2m-1-30h2m-2 0h2m-2 5h2m-2 6h2m-2 0h2m-2 3h2m-2 4h2m-2 0h2m-2 13h2m-2 4h2m-1-41h2m-2 24h2m-1-11h2m-2 4h2m-2 0h2m-2 3h2m-2 3h2m-2 3h2m-2 1h2m-2 6h2m-1-27h2m-2 39h2m-2 1h2m-1-39h2m-2 8h2m-2 2h2m-2 9h2m-1-27h2m-2 20h2m-2 4h2m-2 1h2m-2 2h2m-2 4h2m-1-22h2m-2 8h2m-2 2h2m-2 0h2m-2 5h2m-2 4h2m-2 2h2m-1-34h2m-2 5h2m-2 2h2m-2 3h2m-2 12h2m-2 0h2m-2 12h2m-2 12h2m-1-39h2m-2 18h2m-2 1h2m-2 1h2m-2 2h2m-2 22h2m-1-51h2m-2 6h2m-2 11h2m-2 2h2m-2 3h2m-2 5h2m-1-42h2m-2 19h2m-2 7h2m-2 3h2m-2 8h2m-2 1h2m-2 20h2m-1-46h2m-2 16h2m-2 7h2m-2 2h2m-2 2h2m-2 7h2m-2 2h2m-2 2h2m-2 7h2m-2 2h2m-1-22h2m-2 8h2m-2 8h2m-1-53h2m-2 20h2m-2 14h2m-2 5h2m-2 11h2m-1-25h2m-2 8h2m-2 3h2m-2 8h2m-2 12h2m-2 16h2m-1-54h2m-2 15h2m-2 4h2m-1 2h2m-1-37h2m-2 14h2m-2 21h2m-2 7h2m-2 7h2m-1-33h2m-2 3h2m-2 11h2m-2 2h2m-2 11h2m-2 1h2m-2 28h2m-1-41h2m-2 7h2m-2 2h2m-2 1h2m-1-6h2m-2 5h2m-2 9h2m-1-28h2m-2 5h2m-2 14h2m-2 1h2m-2 3h2m-2 10h2m-2 0h2m-2 1h2m-1-25h2m-2 7h2m-2 11h2m-2 2h2m-2 24h2m-1-61h2m-2 3h2m-2 12h2m-2 13h2m-2 2h2m-2 4h2m-1-32h2m-2 22h2m-2 17h2m-1-37h2m-2 12h2m-2 2h2m-2 23h2m-1-40h2m-2 18h2m-2 0h2m-2 2h2m-1-5h2m-2 0h2m-2 3h2m-2 6h2m-2 2h2m-2 5h2m-1-17h2m-2 8h2m-2 25h2m-1-41h2m-2 10h2m-2 11h2m-2 5h2m-2 6h2m-1-36h2m-2 24h2m-2 5h2m-2 1h2m-2 11h2m-1-56h2m-2 15h2m-2 21h2m-2 19h2m-2 4h2m-1-24h2m-2 0h2m-2 4h2m-2 10h2m-1-50h2m-2 26h2m-2 8h2m-2 1h2m-2 5h2m-2 1h2m-2 6h2m-2 2h2m-1-17h2m-2 2h2m-2 6h2m-2 6h2m-2 6h2m-1-21h2m-2 5h2m-2 4h2m-2 10h2m-1-26h2m-2 9h2m-2 5h2m-2 6h2m-2 2h2m-1-33h2m-2 20h2m-2 9h2m-1-48h2m-2 11h2m-2 2h2m-2 18h2m-2 1h2m-2 3h2m-2 5h2m-2 6h2m-2 17h2m-1-28h2m-2 6h2m-2 23h2m-1-24h2m-2 12h2m-1-19h2m-2 6h2m-2 14h2m-1-10h2m-2 1h2m-2 1h2m-2 11h2m-2 1h2m-1-33h2m-2 16h2m-2 1h2m-2 6h2m-2 3h2m-2 17h2m-2 2h2m-1-32h2m-2 1h2m-2 1h2m-2 1h2m-2 4h2m-2 4h2m-2 5h2m-1-17h2m-2 10h2m-2 3h2m-2 0h2m-2 3h2m-2 3h2m-2 10h2m-1-39h2m-2 12h2m-2 18h2m-1-15h2m-2 2h2m-2 4h2m-2 1h2m-2 0h2m-2 5h2m-2 0h2m-2 3h2m-2 4h2m-1-19h2m-2 2h2m-2 2h2m-1-9h2m-2 2h2m-2 1h2m-2 9h2m-2 1h2m-2 17h2m-1-38h2m-2 19h2m-2 3h2m-2 1h2m-2 2h2m-2 13h2m-1-5h2m-1-28h2m-2 2h2m-2 1h2m-2 11h2m-2 13h2m-2 11h2m-1-51h2m-2 18h2m-2 3h2m-2 8h2m-1-21h2m-2 15h2m-2 6h2m-2 2h2m-2 16h2m-1-69h2m-2 30h2m-2 18h2m-2 14h2m-2 0h2m-2 1h2m-2 1h2m-1-33h2m-2 17h2m-2 3h2m-2 2h2m-2 2h2m-2 0h2m-2 5h2m-2 1h2m-1-51h2m-2 20h2m-2 6h2m-2 1h2m-2 1h2m-2 11h2m-2 3h2m-1-22h2m-2 22h2m-2 1h2m-2 1h2m-2 4h2m-2 0h2m-1-8h2m-2 1h2m-2 23h2m-1-34h2m-2 7h2m-2 17h2m-1-53h2m-2 26h2m-2 3h2m-2 10h2m-2 4h2m-1-15h2m-2 5h2m-2 0h2m-1 5h2m-1-8h2m-2 25h2m-1-29h2m-2 5h2m-2 7h2m-2 7h2m-2 2h2m-2 3h2m-1-37h2m-2 10h2m-2 6h2m-2 11h2m-2 12h2m-2 0h2m-2 15h2m-1-78h2m-2 20h2m-2 12h2m-2 4h2m-2 15h2m-2 16h2m-2 5h2m-1-57h2m-2 12h2m-2 3h2m-2 2h2m-2 7h2m-2 5h2m-2 13h2m-1-28h2m-2 21h2m-2 0h2m-2 2h2m-2 2h2m-2 5h2m-1-40h2m-2 19h2m-2 3h2m-2 13h2m-2 0h2m-2 7h2m-2 5h2m-1-39h2m-2 3h2m-2 10h2m-2 11h2m-2 3h2m-1-35h2m-2 7h2m-2 10h2m-2 9h2m-2 3h2m-2 0h2m-2 7h2m-2 1h2m-2 6h2m-1-14h2m-2 0h2m-2 4h2m-2 6h2m-1-38h2m-2 18h2m-2 4h2m-2 9h2m-2 2h2m-2 5h2m-2 1h2m-1-38h2m-2 2h2m-2 3h2m-2 2h2m-2 12h2m-2 1h2m-2 4h2m-2 16h2m-2 0h2m-2 3h2m-1-44h2m-2 9h2m-2 3h2m-2 7h2m-2 2h2m-2 2h2m-2 0h2m-2 0h2m-2 5h2m-1-21h2m-2 0h2m-2 17h2m-2 1h2m-2 4h2m-2 9h2m-2 10h2m-1-30h2m-2 7h2m-2 3h2m-2 16h2m-1-61h2m-2 32h2m-2 9h2m-2 4h2m-2 5h2m-2 8h2m-1-57h2m-2 22h2m-2 3h2m-2 16h2m-2 3h2m-2 0h2m-2 5h2m-2 3h2m-1-24h2m-2 9h2m-2 2h2m-2 5h2m-2 1h2m-2 0h2m-2 1h2m-2 0h2m-2 12h2m-1-54h2m-2 15h2m-2 7h2m-2 14h2m-2 8h2m-2 5h2m-2 2h2m-2 11h2m-2 0h2m-1-41h2m-2 13h2m-2 0h2m-2 8h2m-1-2h2m-2 13h2m-1-40h2m-1-2h2m-2 12h2m-2 5h2m-2 4h2m-2 2h2m-2 3h2m-2 11h2m-1-19h2m-2 1h2m-2 7h2m-2 11h2m-2 7h2m-2 5h2m-1-24h2m-2 5h2m-1-29h2m-2 12h2m-2 0h2m-2 7h2m-2 10h2m-2 6h2m-2 4h2m-2 3h2m-1-25h2m-2 0h2m-2 7h2m-2 4h2m-2 0h2m-2 15h2m-1-36h2m-2 7h2m-2 18h2m-1-10h2m-2 7h2m-2 5h2m-2 4h2m-1-27h2m-2 9h2m-2 13h2m-2 13h2m-1-31h2m-2 4h2m-1-20h2m-2 8h2m-2 2h2m-2 16h2m-2 3h2m-2 3h2m-2 3h2m-1-43h2m-2 45h2m-1-43h2m-2 16h2m-2 32h2m-1-42h2m-2 18h2m-2 19h2m-1 3h2m-1-23h2m-2 5h2m-2 25h2m-2 0h2m-1-70h2m-2 30h2m-2 14h2m-2 3h2m-2 0h2m-2 2h2m-2 4h2m-2 1h2m-2 17h2m-2 7h2m-2 3h2m-1-55h2m-2 11h2m-2 1h2m-2 8h2m-2 6h2m-2 4h2m-2 4h2m-1-24h2m-2 4h2m-2 6h2m-2 7h2m-2 4h2m-2 0h2m-1 1h2m-2 1h2m-1-21h2m-2 2h2m-2 23h2m-1-46h2m-2 4h2m-2 7h2m-2 2h2m-2 0h2m-2 4h2m-2 5h2m-2 8h2m-2 3h2m-2 3h2m-2 5h2m-2 2h2m-1-32h2m-2 3h2m-2 2h2m-2 6h2m-2 3h2m-1-26h2m-2 18h2m-2 5h2m-2 7h2m-2 14h2m-1-20h2m-2 12h2m-2 9h2m-2 4h2m-2 2h2m-2 1h2m-1-15h2m-2 4h2m-1-23h2m-2 1h2m-2 1h2m-2 6h2m-2 7h2m-2 3h2m-2 6h2m-2 11h2m-1-38h2m-2 7h2m-2 4h2m-2 0h2m-2 4h2m-2 1h2m-2 1h2m-1-24h2m-2 7h2m-2 3h2m-2 10h2m-2 2h2m-2 2h2m-2 10h2m-1-19h2m-2 0h2m-2 5h2m-2 3h2m-2 16h2m-2 2h2m-1-24h2m-2 8h2m-2 3h2m-1-4h2m-2 1h2m-2 3h2m-2 19h2m-1-44h2m-2 18h2m-2 5h2m-2 2h2m-2 2h2m-2 4h2m-2 3h2m-1-15h2m-2 1h2m-1-34h2m-2 15h2m-2 25h2m-2 10h2m-2 8h2m-2 5h2m-1-46h2m-2 11h2m-2 13h2m-2 1h2m-2 2h2m-1-16h2m-2 11h2m-2 2h2m-2 3h2m-1-30h2m-2 16h2m-2 10h2m-2 1h2m-2 8h2m-1-37h2m-2 23h2m-2 9h2m-1-2h2m-2 1h2m-2 20h2m-1-58h2m-2 21h2m-2 1h2m-2 2h2m-2 1h2m-2 2h2m-2 3h2m-2 10h2m-1-38h2m-2 14h2m-2 19h2m-2 2h2m-1-34h2m-2 8h2m-2 11h2m-2 3h2m-2 12h2m-2 5h2m-1-32h2m-2 16h2m-2 5h2m-2 1h2m-2 5h2m-2 1h2m-2 3h2m-2 2h2m-2 2h2m-2 2h2m-1-59h2m-2 9h2m-2 4h2m-2 34h2m-2 19h2m-1-29h2m-2 3h2m-2 3h2m-2 2h2m-2 4h2m-2 1h2m-2 3h2m-1-46h2m-2 11h2m-2 1h2m-2 9h2m-2 7h2m-2 13h2m-2 9h2m-1-34h2m-2 4h2m-2 4h2m-2 12h2m-2 12h2m-2 2h2m-1-30h2m-2 4h2m-2 17h2m-2 1h2m-1-10h2m-2 13h2m-2 0h2m-2 3h2m-1-32h2m-2 3h2m-2 9h2m-2 16h2m-2 5h2m-1-30h2m-2 9h2m-2 12h2m-2 5h2m-1-8h2m-2 5h2m-2 1h2m-2 3h2m-2 0h2m-2 1h2m-2 4h2m-1-31h2m-2 5h2m-2 4h2m-2 1h2m-2 5h2m-2 4h2m-2 0h2m-2 2h2m-2 0h2m-1-11h2m-2 4h2m-2 8h2m-2 0h2m-2 1h2m-2 0h2m-1-13h2m-2 2h2m-2 0h2m-2 10h2m-2 1h2m-1-27h2m-2 9h2m-2 10h2m-2 2h2m-2 4h2m-1-16h2m-2 9h2m-2 6h2m-2 8h2m0-31h2m-2 15h2m-2 30h2m-1-52h2m-2 32h2m-2 0h2m-2 4h2m-1-11h2m-2 1h2m-2 1h2m-2 13h2m-2 13h2m-1-41h2m-2 29h2m-2 0h2m-1-35h2m-2 5h2m-2 2h2m-2 6h2m-2 1h2m-2 9h2m-2 8h2m-2 21h2m-1-65h2m-2 34h2m-2 19h2m-2 1h2m-1-56h2m-2 23h2m-2 1h2m-2 6h2m-2 8h2m-2 3h2m-2 13h2m-1-52h2m-2 24h2m-2 12h2m-2 2h2m-2 1h2m-2 8h2m-1-43h2m-2 9h2m-2 10h2m-2 9h2m-2 1h2m-2 13h2m-2 3h2m-2 6h2m-2 1h2m-1-37h2m-2 10h2m-2 3h2m-2 19h2m-2 8h2m-1-45h2m-2 7h2m-2 15h2m-2 12h2m-2 9h2m-1-42h2m-2 17h2m-2 10h2m-2 2h2m-2 16h2m-1-32h2m-2 19h2m-1-13h2m-2 3h2m-2 7h2m-2 1h2m-2 2h2m-2 1h2m-2 8h2m-1-55h2m-2 20h2m-2 5h2m-2 3h2m-2 15h2m-2 7h2m-1-30h2m-2 4h2m-2 20h2m-2 11h2m-1-31h2m-2 16h2m-1-23h2m-2 11h2m-2 4h2m-2 6h2m-2 3h2m-2 2h2m-2 3h2m-2 7h2m-1-35h2m-2 5h2m-2 1h2m-2 5h2m-2 4h2m-1-22h2m-2 11h2m-2 1h2m-2 1h2m-2 12h2m-2 2h2m-2 5h2m-1-4h2m-2 9h2m-2 6h2m-1-37h2m-2 18h2m-2 1h2m-2 3h2m-2 2h2m-2 9h2m-1-32h2m-2 12h2m-2 5h2m-2 3h2m-2 0h2m-2 14h2m-2 3h2m-1-43h2m-2 5h2m-2 8h2m-2 3h2m-2 2h2m-2 5h2m-2 0h2m-2 1h2m-2 7h2m-1-40h2m-2 21h2m-2 2h2m-2 6h2m-2 10h2m-2 10h2m-2 4h2m-1-42h2m-2 11h2m-2 15h2m-2 1h2m-2 4h2m-2 6h2m-1-29h2m-2 6h2m-2 3h2m-2 1h2m-2 1h2m-2 3h2m-1-23h2m-2 7h2m-2 13h2m-2 2h2m-2 0h2m-2 8h2m-2 2h2m-2 0h2m-2 7h2m-1-41h2m-2 18h2m-2 4h2m-2 3h2m-2 3h2m-1-21h2m-2 14h2m-2 5h2m-2 2h2m-1-12h2m-2 2h2m-2 6h2m-2 3h2m-2 5h2m-2 1h2m-1-37h2m-2 2h2m-2 6h2m-2 13h2m-2 4h2m-2 3h2m-2 9h2m-1-30h2m-2 12h2m-2 5h2m-2 16h2m-2 7h2m-2 11h2m-1-61h2m-2 25h2m-2 9h2m-2 6h2m-1-14h2m-2 16h2m-2 0h2m-2 4h2m-2 1h2m-1-31h2m-2 9h2m-2 0h2m-2 3h2m-2 4h2m-1-13h2m-2 4h2m-2 11h2m-1-30h2m-2 18h2m-2 6h2m-2 5h2m-1-24h2m-2 7h2m-2 7h2m-2 4h2m-2 8h2m-2 5h2m-1-37h2m-2 14h2m-2 10h2m-2 23h2m-2 0h2m-1-49h2m-2 10h2m-2 9h2m-2 1h2m-2 11h2m-2 2h2m-2 1h2m-2 8h2m-1-35h2m-2 16h2m-2 8h2m-2 18h2m-1-29h2m-2 14h2m-2 9h2m-2 8h2m-1-66h2m-2 31h2m-2 3h2m-2 8h2m-2 7h2m-2 3h2m-2 6h2m-1-32h2m-2 29h2m-1-29h2m-2 13h2m-2 2h2m-2 2h2m-2 4h2m-2 2h2m-2 3h2m-2 16h2m-1-33h2m-2 4h2m-2 0h2m-2 3h2m-2 3h2m-2 3h2m-2 5h2m-2 18h2m-1-50h2m-2 8h2m-2 8h2m-2 26h2m-1-48h2m-2 4h2m-2 9h2m-2 6h2m-2 0h2m-2 5h2m-2 15h2m-2 6h2m-2 5h2m-1-31h2m-2 6h2m-2 10h2m-2 0h2m-2 2h2m-1-43h2m-2 22h2m-2 17h2m-2 2h2m-2 2h2m-2 1h2m-2 2h2m-2 1h2m-1-22h2m-2 39h2m-2 4h2m-1-68h2m-2 0h2m-2 23h2m-2 12h2m-2 3h2m-2 16h2m-1-30h2m-2 8h2m-2 1h2m-2 1h2m-2 3h2m-2 3h2m-1-13h2m-2 3h2m-2 11h2m-2 6h2m-1-23h2m-2 0h2m-2 20h2m-1-10h2m-2 3h2m-2 0h2m-2 10h2m-1-32h2m-2 13h2m-2 8h2m-2 1h2m-2 2h2m-2 7h2m-2 0h2m-1-39h2m-2 8h2m-2 5h2m-2 8h2m-2 2h2m-2 4h2m-2 4h2m-2 0h2m-2 7h2m-2 3h2m-2 3h2m-1-42h2m-2 8h2m-2 7h2m-2 0h2m-2 1h2m-2 1h2m-2 5h2m-2 13h2m-2 7h2m-2 2h2m-1-28h2m-2 6h2m-1-8h2m-2 6h2m-2 6h2m-2 3h2m-2 0h2m-2 3h2m-2 2h2m-1-6h2m-2 2h2m-2 0h2m-2 6h2m-2 4h2m-1-44h2m-2 17h2m-2 3h2m-2 6h2m-2 3h2m-1-18h2m-2 25h2m-2 2h2m-2 19h2m-1-67h2m-2 33h2m-2 1h2m-2 4h2m-2 3h2m-2 5h2m-2 4h2m-2 1h2m-1-35h2m-2 2h2m-2 19h2m-2 2h2m-2 2h2m-2 6h2m-2 2h2m-2 3h2m-2 12h2m-1-38h2m-2 3h2m-2 13h2m-2 2h2m-2 5h2m-2 7h2m-1-60h2m-2 19h2m-2 9h2m-2 17h2m-2 2h2m-2 5h2m-1-44h2m-2 2h2m-2 6h2m-2 19h2m-2 1h2m-2 10h2m-2 1h2m-2 3h2m-1-40h2m-2 8h2m-2 5h2m-2 6h2m-2 2h2m-2 7h2m-2 8h2m-2 0h2m-2 3h2m-2 0h2m-2 23h2m-1-54h2m-2 3h2m-2 10h2m-2 0h2m-2 5h2m-2 19h2m-2 4h2m-2 1h2m-2 1h2m-1-10h2m-1-23h2m-2 10h2m-2 5h2m-2 9h2m-2 3h2m-1-27h2m-2 1h2m-2 9h2m-2 2h2m-2 5h2m-2 7h2m-2 13h2m-2 4h2m-1-41h2m-2 0h2m-2 17h2m-2 0h2m-2 12h2m-1-33h2m-2 9h2m-2 12h2m-2 6h2m-2 6h2m-2 7h2m-1-35h2m-2 1h2m-2 2h2m-2 27h2m-1-45h2m-2 7h2m-2 11h2m-2 15h2m-2 5h2m-2 3h2m-1-35h2m-2 6h2m-2 1h2m-2 2h2m-2 4h2m-2 8h2m-2 1h2m-2 3h2m-2 3h2m-2 2h2m-1-19h2m-2 3h2m-2 11h2m-2 3h2m-2 4h2m-2 24h2m-1-49h2m-2 8h2m-2 4h2m-2 3h2m-2 0h2m-2 27h2m-1-52h2m-2 24h2m-2 8h2m-1-23h2m-2 3h2m-2 4h2m-2 12h2m-2 7h2m-2 24h2m-1-50h2m-2 3h2m-2 24h2m-2 0h2m-2 3h2m-1-17h2m-2 13h2m-2 0h2m-2 5h2m-2 1h2m-2 2h2m-2 9h2m-1-42h2m-2 2h2m-2 24h2m-2 4h2m-1-38h2m-2 13h2m-2 2h2m-2 2h2m-2 2h2m-1 1h2m-2 11h2m-2 6h2m-2 3h2m-1-28h2m-2 24h2m-1-32h2m-2 10h2m-2 7h2m-2 1h2m-2 7h2m-2 1h2m-1-18h2m-2 8h2m-1-17h2m-2 13h2m-2 1h2m-2 19h2m-1-41h2m-2 1h2m-2 11h2m-2 21h2m-2 3h2m-1-36h2m-2 14h2m-2 18h2m-2 0h2m-2 0h2m-2 1h2m-2 7h2m-1-12h2m-2 1h2m-1-36h2m-2 18h2m-2 11h2m-2 0h2m-2 12h2m-2 5h2m-2 7h2m-2 9h2m-1-70h2m-2 24h2m-2 8h2m-2 6h2m-2 19h2m-1-25h2m-2 9h2m-2 1h2m-2 1h2m-1-36h2m-2 1h2m-2 39h2m-2 5h2m-1-29h2m-2 21h2m-2 4h2m-2 1h2m-2 18h2m-1-38h2m-2 6h2m-2 12h2m-2 1h2m-2 5h2m-1-20h2m-2 8h2m-2 8h2m-2 2h2m-2 8h2m-1-12h2m-2 1h2m-2 22h2m-1-33h2m-2 11h2m-2 0h2m-2 16h2m-2 8h2m-1-15h2m-2 23h2m-1-44h2m-2 5h2m-2 7h2m-2 9h2m-2 2h2m-1-34h2m-2 19h2m-2 14h2m-2 19h2m-1-62h2m-2 5h2m-2 18h2m-2 18h2m-2 0h2m-1-34h2m-2 5h2m-2 11h2m-2 1h2m-2 6h2m-2 7h2m-1-16h2m-2 4h2m-2 11h2m-2 27h2m-1-56h2m-2 2h2m-1 8h2m-2 2h2m-2 12h2m-2 1h2m-1-18h2m-2 11h2m-2 11h2m-2 5h2m-1-31h2m-2 0h2m-2 4h2m-2 9h2m-2 3h2m-2 17h2m-2 5h2m-2 4h2m-1-65h2m-2 16h2m-2 10h2m-2 2h2m-2 20h2m-2 12h2m-2 6h2m-1-35h2m-2 5h2m-2 20h2m-2 2h2m-1-41h2m-2 19h2m-2 10h2m-1-19h2m-2 7h2m-2 4h2m-2 20h2m-1-40h2m-2 3h2m-2 21h2m-2 2h2m-2 6h2m-1-16h2m-2 10h2m-2 2h2m-2 2h2m-2 4h2m-2 6h2m-2 6h2m-1-37h2m-2 1h2m-2 4h2m-2 9h2m-2 4h2m-2 2h2m-2 1h2m-2 5h2m-2 16h2m-1-36h2m-2 17h2m-2 4h2m-2 5h2m-2 3h2m-1-28h2m-2 10h2m-2 3h2m-1-24h2m-2 25h2m-2 8h2m-2 11h2m-1-34h2m-2 7h2m-2 8h2m-2 1h2m-2 4h2m-1-21h2m-2 7h2m-1-25h2m-2 8h2m-2 15h2m-2 17h2m-2 4h2m-2 5h2m-1-51h2m-2 1h2m-2 10h2m-2 12h2m-2 12h2m-2 0h2m-2 2h2m-2 2h2m-2 13h2m-1-59h2m-2 37h2m-2 19h2m-1-44h2m-2 30h2m-2 1h2m-1-25h2m-2 1h2m-2 12h2m-2 2h2m-2 20h2m-1-39h2m-2 7h2m-2 2h2m-2 4h2m-2 13h2m-2 1h2m-2 2h2m-2 1h2m-2 4h2m-2 1h2m-1-40h2m-2 26h2m-2 6h2m-2 3h2m-2 0h2m-2 6h2m-1-24h2m-2 1h2m-2 6h2m-2 28h2m-1-60h2m-2 25h2m-2 6h2m-2 3h2m-2 6h2m-2 0h2m-1-18h2m-2 4h2m-2 15h2m-2 4h2m-2 1h2m-2 2h2m-2 6h2m-1-30h2m-2 1h2m-2 2h2m-2 5h2m-2 4h2m-2 4h2m-2 1h2m-2 6h2m-2 8h2m-1-39h2m-2 8h2m-2 8h2m-2 1h2m-2 2h2m-2 3h2m-2 15h2m-2 2h2m-2 5h2m-1-45h2m-2 4h2m-2 1h2m-2 3h2m-2 1h2m-2 4h2m-2 1h2m-2 1h2m-2 12h2m-2 2h2m-2 10h2m-1-31h2m-2 7h2m-2 5h2m-2 2h2m-2 5h2m-1-34h2m-2 28h2m-2 5h2m-2 3h2m-1-31h2m-2 3h2m-2 13h2m-2 5h2m-2 6h2m-2 0h2m-1-16h2m-2 1h2m-2 2h2m-2 8h2m-2 0h2m-2 0h2m-2 3h2m-2 0h2m-2 11h2m-1-37h2m-2 8h2m-2 8h2m-2 2h2m-2 13h2m-2 2h2m-1-27h2m-2 8h2m-2 9h2m-2 0h2m-2 4h2m-2 0h2m-2 2h2m-2 2h2m-2 0h2m-1-30h2m-2 3h2m-2 23h2m-2 7h2m-2 1h2m-1-26h2m-2 11h2m-2 11h2m-2 5h2" stroke="#3a80c4" stroke-width="1.5" fill="none"/>
<path d="M1269 4129.7V4411.4M2108.6 3920.2V4411.4M1260 4129.7H1269M1263 4147.3H1269M1263 4164.9H1269M1263 4182.5H1269M1260 4200H1269M1263 4217.6H1269M1263 4235.2H1269M1263 4252.8H1269M1260 4270.4H1269M1263 4288H1269M1263 4305.6H1269M1263 4323.2H1269M1260 4340.8H1269M1263 4358.3H1269M1263 4375.9H1269M1263 4393.5H1269M1260 4411.1H1269M2108.6 4270.4H2117.6M2108.6 4252.9H2114.6M2108.6 4235.4H2114.6M2108.6 4217.9H2114.6M2108.6 4200.4H2114.6M2108.6 4182.8H2117.6M2108.6 4165.3H2114.6M2108.6 4147.8H2114.6M2108.6 4130.3H2114.6M2108.6 4112.8H2114.6M2108.6 4095.3H2117.6M2108.6 4077.8H2114.6M2108.6 4060.3H2114.6M2108.6 4042.8H2114.6M2108.6 4025.3H2114.6M2108.6 4007.8H2117.6M2108.6 3990.2H2114.6M2108.6 3972.7H2114.6M2108.6 3955.2H2114.6M2108.6 3937.7H2114.6M2108.6 3920.2H2117.6" stroke="#000" stroke-width="1.8" fill="none"/>
<path d="M1269 4270.4H2117.6" stroke="#000" stroke-width="2.2"/>
<path d="M1373.2 4270.4v-5M1477.5 4270.4v-5M1581.8 4270.4v-5M1686 4270.4v-8M1790.2 4270.4v-5M1894.5 4270.4v-5M1998.8 4270.4v-5M2103 4270.4v-8" stroke="#000" stroke-width="2" fill="none"/>
<path d="M1269.3 4169.9C1270.7 4162.5 1274.4 4136.2 1277.9 4125.3C1281.3 4114.4 1285.9 4109 1289.9 4104.7C1293.9 4100.4 1297.9 4099.8 1301.9 4099.6C1305.9 4099.3 1309.9 4103.7 1313.9 4103C1317.9 4102.2 1321.9 4097.2 1325.9 4095.1C1329.9 4093 1334.2 4089.5 1338 4090.3C1341.7 4091 1344.8 4096.6 1348.3 4099.6C1351.7 4102.5 1355.4 4108.4 1358.6 4108.1C1361.7 4107.9 1364.3 4100 1367.1 4097.8C1370 4095.7 1372.6 4093.9 1375.7 4095.1C1378.9 4096.2 1382.6 4102.2 1386 4104.7C1389.4 4107.2 1393.2 4109.9 1396.3 4109.9C1399.5 4109.9 1402 4109 1404.9 4104.7C1407.8 4100.4 1410.3 4091 1413.5 4084.1C1416.6 4077.2 1420.6 4068.7 1423.8 4063.5C1426.9 4058.4 1429.5 4058.4 1432.4 4053.2C1435.2 4048.1 1437.8 4039.2 1440.9 4032.6C1444.1 4026 1448.4 4014.9 1451.2 4013.7C1454.1 4012.6 1455.5 4017.5 1458.1 4025.7C1460.7 4034 1463.8 4050.9 1466.7 4063.5C1469.6 4076.1 1472.7 4092.1 1475.3 4101.3C1477.8 4110.4 1479.6 4116 1482.1 4118.4C1484.7 4120.8 1487.9 4114.5 1490.7 4115.7C1493.6 4116.8 1496.7 4120.3 1499.3 4125.3C1501.9 4130.3 1503.9 4140.2 1506.2 4145.9C1508.5 4151.6 1510.5 4160.8 1513 4159.6C1515.6 4158.5 1518.8 4150.5 1521.6 4139C1524.5 4127.6 1527.1 4106.4 1530.2 4091C1533.3 4075.5 1537.1 4056.2 1540.5 4046.3C1543.9 4036.5 1547.4 4034.1 1550.8 4031.9C1554.2 4029.8 1557.7 4032 1561.1 4033.3C1564.5 4034.6 1568 4036.2 1571.4 4039.5C1574.8 4042.8 1578.3 4046.3 1581.7 4053.2C1585.1 4060.1 1588.8 4074.8 1592 4080.7C1595.1 4086.5 1597.1 4087.4 1600.6 4088.2C1604 4089.1 1608.9 4087.7 1612.6 4085.8C1616.3 4084 1619.5 4082.1 1622.9 4077.2C1626.3 4072.4 1629.8 4061.5 1633.2 4056.6C1636.6 4051.8 1639.5 4048.6 1643.5 4048.1C1647.5 4047.5 1653.2 4053.2 1657.2 4053.2C1661.2 4053.2 1664.4 4049.5 1667.5 4048.1C1670.7 4046.6 1673.2 4043.8 1676.1 4044.6C1679 4045.5 1681.5 4045.5 1684.7 4053.2C1687.8 4060.9 1692.8 4083.5 1695 4091C1697.1 4098.4 1695.1 4092.4 1697.6 4097.8C1700 4103.3 1706.2 4120.7 1709.6 4123.6C1713 4126.4 1715.3 4119.9 1718.2 4115C1721 4110.1 1723.9 4096.7 1726.8 4094.4C1729.6 4092.1 1732.5 4095 1735.3 4101.3C1738.2 4107.6 1741.1 4124.7 1743.9 4132.2C1746.8 4139.6 1749.6 4145.9 1752.5 4145.9C1755.4 4145.9 1758.2 4136.5 1761.1 4132.2C1764 4127.9 1766.5 4123 1769.7 4120.2C1772.8 4117.3 1776.8 4122.2 1780 4115C1783.1 4107.9 1785.7 4090.4 1788.6 4077.2C1791.4 4064.1 1794.4 4045.7 1797.1 4036C1799.9 4026.4 1802.5 4020.1 1805 4019.6C1807.6 4019 1809.9 4024.1 1812.6 4032.6C1815.3 4041.1 1817.7 4059.5 1821.2 4070.4C1824.6 4081.2 1829.7 4094.7 1833.2 4097.8C1836.6 4101 1838.9 4093.5 1841.8 4089.3C1844.6 4085 1846.6 4076.4 1850.3 4072.1C1854.1 4067.8 1859.8 4064.1 1864.1 4063.5C1868.4 4062.9 1872.4 4064.4 1876.1 4068.7C1879.8 4073 1883.2 4084.4 1886.4 4089.3C1889.5 4094.1 1891.8 4098.1 1895 4097.8C1898.1 4097.6 1901.8 4092.1 1905.3 4087.5C1908.7 4083 1912.4 4076.1 1915.6 4070.4C1918.7 4064.7 1921.3 4054.6 1924.2 4053.2C1927 4051.8 1929.6 4056.1 1932.7 4061.8C1935.9 4067.5 1939 4079.5 1943 4087.5C1947 4095.6 1952.8 4108.1 1956.8 4109.9C1960.8 4111.6 1963.9 4103.3 1967.1 4097.8C1970.2 4092.4 1973 4083 1975.6 4077.2C1978.3 4071.5 1980.6 4063.5 1983.2 4063.5C1985.8 4063.5 1988.3 4070.4 1991.1 4077.2C1993.8 4084.1 1997.1 4097.6 1999.7 4104.7C2002.3 4111.9 2003.4 4118.7 2006.5 4120.2C2009.7 4121.6 2015.1 4113.3 2018.6 4113.3C2022 4113.3 2024 4116.9 2027.1 4120.2C2030.3 4123.4 2034.3 4135.4 2037.4 4132.9C2040.6 4130.3 2043.4 4119.1 2046 4104.7C2048.6 4090.3 2050.6 4065.8 2052.9 4046.3C2055.2 4026.9 2057.5 4006.3 2059.8 3988C2062 3969.7 2064.3 3947.7 2066.6 3936.5C2068.9 3925.3 2070.9 3920.5 2073.5 3921C2076.1 3921.6 2079.5 3933.3 2082.1 3939.9C2084.6 3946.5 2086.4 3953.7 2088.9 3960.5C2091.5 3967.4 2094.9 3973.1 2097.5 3981.1C2100.1 3989.1 2102.5 4000 2104.4 4008.6C2106.2 4017.2 2107.8 4028.6 2108.5 4032.6" stroke="#f6a66a" stroke-width="2.6" fill="none" stroke-linejoin="round"/>
<path d="M1269.3 4204.3C1270.7 4200.8 1274.7 4189.7 1277.9 4183.7C1281 4177.7 1284.5 4172.2 1288.2 4168.2C1291.9 4164.2 1296.2 4160.5 1300.2 4159.6C1304.2 4158.8 1308.5 4163.6 1312.2 4163.1C1315.9 4162.5 1318.8 4159.6 1322.5 4156.2C1326.2 4152.8 1330.2 4146.5 1334.5 4142.5C1338.8 4138.5 1343.7 4134.3 1348.3 4132.2C1352.8 4130 1358 4129.5 1362 4129.4C1366 4129.3 1368.9 4130.2 1372.3 4131.5C1375.7 4132.8 1379.4 4137.2 1382.6 4137.3C1385.7 4137.4 1388.3 4137 1391.2 4132.2C1394 4127.3 1396.6 4117.3 1399.7 4108.1C1402.9 4099 1406.3 4086.4 1410 4077.2C1413.8 4068.1 1418.1 4059.8 1422.1 4053.2C1426.1 4046.6 1430.6 4041 1434.1 4037.8C1437.5 4034.5 1439.8 4033.6 1442.7 4033.6C1445.5 4033.6 1448.1 4034.5 1451.2 4037.8C1454.4 4041 1458.1 4045.5 1461.5 4053.2C1465 4060.9 1468.4 4077.5 1471.8 4084.1C1475.3 4090.7 1478.7 4091.3 1482.1 4092.7C1485.6 4094.1 1489.6 4090.1 1492.4 4092.7C1495.3 4095.3 1497 4102.1 1499.3 4108.1C1501.6 4114.1 1503.9 4123.9 1506.2 4128.7C1508.5 4133.6 1510.5 4137.9 1513 4137.3C1515.6 4136.7 1518.8 4133 1521.6 4125.3C1524.5 4117.6 1527.1 4105.3 1530.2 4091C1533.3 4076.7 1537.1 4054.9 1540.5 4039.5C1543.9 4024 1547.4 4009.7 1550.8 3998.3C1554.2 3986.8 1557.9 3977.7 1561.1 3970.8C1564.2 3964 1566.5 3962.2 1569.7 3957.1C1572.8 3951.9 1576.5 3945.8 1580 3939.9C1583.4 3934.1 1587.1 3925.4 1590.3 3922.1C1593.4 3918.8 1595.7 3919.9 1598.9 3920C1602 3920.1 1605.7 3920.6 1609.2 3922.8C1612.6 3924.9 1616.3 3928.5 1619.5 3933.1C1622.6 3937.6 1625.2 3945.2 1628 3950.2C1630.9 3955.3 1633.8 3959.8 1636.6 3963.3C1639.5 3966.7 1642.3 3966.7 1645.2 3970.8C1648.1 3974.9 1650.9 3982.6 1653.8 3988C1656.6 3993.4 1658.9 3999.4 1662.4 4003.4C1665.8 4007.4 1670.7 4008.3 1674.4 4012C1678.1 4015.7 1681.2 4019.5 1684.7 4025.7C1688.1 4032 1692.8 4043.5 1695 4049.8C1697.1 4056.1 1695.4 4056.6 1697.6 4063.5C1699.7 4070.4 1704.7 4086.4 1707.9 4091C1711 4095.6 1713.9 4092 1716.5 4091C1719 4089.9 1720.8 4084.5 1723.3 4084.8C1725.9 4085.1 1729.1 4086.5 1731.9 4092.7C1734.8 4098.9 1737.3 4113.5 1740.5 4121.9C1743.6 4130.3 1747.4 4142.3 1750.8 4143.2C1754.2 4144 1757.7 4130.9 1761.1 4127C1764.5 4123.2 1768 4122.2 1771.4 4120.2C1774.8 4118.2 1778.3 4121 1781.7 4115C1785.1 4109 1788.8 4095 1792 4084.1C1795.1 4073.2 1798 4057.5 1800.6 4049.8C1803.1 4042.1 1804.9 4037.2 1807.4 4037.8C1810 4038.3 1812.9 4044.3 1816 4053.2C1819.2 4062.1 1823.2 4081.7 1826.3 4091C1829.5 4100.2 1832 4107.1 1834.9 4108.8C1837.8 4110.5 1840.3 4105.1 1843.5 4101.3C1846.6 4097.4 1850.1 4089.5 1853.8 4085.8C1857.5 4082.1 1862.1 4079.5 1865.8 4079C1869.5 4078.4 1872.7 4078.1 1876.1 4082.4C1879.5 4086.7 1883 4097 1886.4 4104.7C1889.8 4112.4 1893.3 4124.2 1896.7 4128.7C1900.1 4133.3 1903.6 4133.9 1907 4132.2C1910.4 4130.5 1913.6 4123.9 1917.3 4118.4C1921 4113 1925.6 4101.8 1929.3 4099.6C1933 4097.3 1936.2 4101 1939.6 4104.7C1943 4108.4 1946.2 4117 1949.9 4121.9C1953.6 4126.7 1957.9 4133.9 1961.9 4133.9C1965.9 4133.9 1969.9 4128 1973.9 4121.9C1977.9 4115.7 1982.5 4100 1985.9 4097.2C1989.4 4094.3 1991.7 4100 1994.5 4104.7C1997.4 4109.4 2000 4119.1 2003.1 4125.3C2006.3 4131.5 2010.3 4137.8 2013.4 4141.8C2016.6 4145.8 2019.1 4146.4 2022 4149.3C2024.9 4152.3 2027.7 4156.3 2030.6 4159.6C2033.4 4162.9 2036 4167.8 2039.2 4169.2C2042.3 4170.7 2046 4168.7 2049.5 4168.2C2052.9 4167.8 2056 4167.1 2059.8 4166.5C2063.5 4165.9 2068 4163.9 2071.8 4164.8C2075.5 4165.6 2078.6 4168.5 2082.1 4171.6C2085.5 4174.8 2089.2 4179.4 2092.4 4183.7C2095.5 4188 2098.4 4192.2 2100.9 4197.4C2103.5 4202.5 2106.7 4211.7 2107.8 4214.6" stroke="#2e6fe0" stroke-width="2.6" fill="none" stroke-linejoin="round"/>
<path d="M1269.3 4214.6C1270.7 4210.6 1274.7 4196.8 1277.9 4190.5C1281 4184.2 1284.5 4180.3 1288.2 4176.8C1291.9 4173.2 1295.9 4170.8 1300.2 4169.2C1304.5 4167.6 1309.9 4168.8 1313.9 4167.2C1317.9 4165.6 1320.2 4163.5 1324.2 4159.6C1328.2 4155.8 1333.7 4147.2 1338 4144.2C1342.2 4141.2 1346.3 4142.9 1350 4141.8C1353.7 4140.6 1357.1 4138.8 1360.3 4137.3C1363.4 4135.8 1366 4132.9 1368.9 4132.9C1371.7 4132.9 1374.6 4134.9 1377.4 4137.3C1380.3 4139.8 1383.2 4147.9 1386 4147.6C1388.9 4147.3 1391.7 4141.6 1394.6 4135.6C1397.5 4129.6 1400 4120.2 1403.2 4111.6C1406.3 4103 1409.5 4091 1413.5 4084.1C1417.5 4077.2 1422.6 4073.9 1427.2 4070.4C1431.8 4066.8 1436.4 4062.8 1440.9 4062.8C1445.5 4062.8 1450.7 4067.4 1454.7 4070.4C1458.7 4073.4 1461.5 4075.5 1465 4080.7C1468.4 4085.8 1471.8 4096.4 1475.3 4101.3C1478.7 4106.1 1482.1 4106.4 1485.6 4109.9C1489 4113.3 1492.7 4116.4 1495.9 4121.9C1499 4127.3 1501.6 4136.2 1504.5 4142.5C1507.3 4148.8 1510.2 4159.6 1513 4159.6C1515.9 4159.6 1518.8 4152.8 1521.6 4142.5C1524.5 4132.2 1527.3 4113.3 1530.2 4097.8C1533.1 4082.4 1535.6 4064.7 1538.8 4049.8C1541.9 4034.9 1545.6 4021.2 1549.1 4008.6C1552.5 3996 1555.9 3982.8 1559.4 3974.3C1562.8 3965.7 1566.2 3962.8 1569.7 3957.1C1573.1 3951.4 1576.5 3945.9 1580 3939.9C1583.4 3933.9 1587.1 3924.2 1590.3 3921C1593.4 3917.9 1595.7 3920.5 1598.9 3921C1602 3921.6 1605.7 3923 1609.2 3924.5C1612.6 3925.9 1616.3 3925.9 1619.5 3929.6C1622.6 3933.3 1625.2 3939.4 1628 3946.8C1630.9 3954.2 1633.5 3966.2 1636.6 3974.3C1639.8 3982.3 1643.5 3988.3 1646.9 3994.9C1650.3 4001.4 1653.8 4009.4 1657.2 4013.7C1660.6 4018 1664.1 4018.6 1667.5 4020.6C1670.9 4022.6 1674.4 4022.6 1677.8 4025.7C1681.2 4028.9 1684.8 4032.6 1688.1 4039.5C1691.4 4046.3 1694.3 4058.4 1697.6 4066.9C1700.9 4075.5 1704.7 4086.1 1707.9 4091C1711 4095.8 1713.6 4095.8 1716.5 4096.1C1719.3 4096.4 1722.5 4092.1 1725 4092.7C1727.6 4093.3 1729.3 4094.1 1731.9 4099.6C1734.5 4105 1737.3 4118 1740.5 4125.3C1743.6 4132.6 1747.4 4142.3 1750.8 4143.2C1754.2 4144 1757.7 4134.6 1761.1 4130.5C1764.5 4126.3 1768 4121.3 1771.4 4118.4C1774.8 4115.6 1778.3 4117.9 1781.7 4113.3C1785.1 4108.7 1788.8 4098.1 1792 4091C1795.1 4083.8 1798.2 4074.5 1800.6 4070.4C1803 4066.3 1804.1 4064.5 1806.4 4066.3C1808.7 4068 1811.3 4072 1814.3 4080.7C1817.3 4089.4 1821.5 4109.4 1824.6 4118.4C1827.7 4127.5 1830.3 4133.8 1833.2 4134.9C1836 4136.1 1838.6 4130.3 1841.8 4125.3C1844.9 4120.3 1848.3 4109.2 1852.1 4104.7C1855.8 4100.2 1860.1 4099.1 1864.1 4098.5C1868.1 4098 1872.4 4098 1876.1 4101.3C1879.8 4104.6 1883 4112.7 1886.4 4118.4C1889.8 4124.2 1893.3 4131.9 1896.7 4135.6C1900.1 4139.3 1903.6 4141.3 1907 4140.8C1910.4 4140.2 1913.9 4135.4 1917.3 4132.2C1920.7 4128.9 1924.2 4122.6 1927.6 4121.2C1931 4119.8 1934.2 4122 1937.9 4123.6C1941.6 4125.1 1945.6 4127.3 1949.9 4130.5C1954.2 4133.6 1959.6 4142.2 1963.6 4142.5C1967.6 4142.8 1970.5 4137 1973.9 4132.2C1977.4 4127.3 1981.4 4117.2 1984.2 4113.3C1987.1 4109.4 1988.5 4107.4 1991.1 4108.8C1993.7 4110.3 1996.8 4116.8 1999.7 4121.9C2002.5 4126.9 2005.1 4134.2 2008.3 4139C2011.4 4143.9 2015.1 4147.3 2018.6 4151C2022 4154.8 2025.4 4158.2 2028.9 4161.3C2032.3 4164.5 2035.7 4168.8 2039.2 4169.9C2042.6 4171.1 2045.4 4168.5 2049.5 4168.2C2053.5 4167.9 2058.6 4167.6 2063.2 4168.2C2067.8 4168.8 2072.6 4169.6 2076.9 4171.6C2081.2 4173.6 2085.2 4176.5 2088.9 4180.2C2092.7 4183.9 2096.1 4188.8 2099.2 4194C2102.4 4199.1 2106.4 4208.3 2107.8 4211.1" stroke="#1ec31e" stroke-width="2.8" fill="none" stroke-linejoin="round"/>
<g font-family="Liberation Sans, sans-serif" font-weight="bold" font-size="22" fill="#000" text-anchor="end">
<text x="1241.5" y="4137.7">0.1</text>
<text x="1241.5" y="4208">0.05</text>
<text x="1241.5" y="4278.4">0</text>
<text x="1241.5" y="4348.9">0.05</text>
<text x="1241.5" y="4419.4">0.1</text>
</g>
<g font-family="Liberation Sans, sans-serif" font-weight="bold" font-size="22" fill="#000">
<text x="2137.3" y="4270.9">0</text>
<text x="2137.3" y="4183.3">25</text>
<text x="2137.3" y="4095.8">50</text>
<text x="2137.3" y="4008.2">75</text>
<text x="2137.3" y="3920.7">100</text>
</g>
<text transform="translate(1188.5 4260.5) rotate(-90)" font-family="Liberation Sans, sans-serif" font-weight="bold" font-size="26.8" text-anchor="middle">mC per 10kb</text>
<text transform="translate(2206.1 4165.8) rotate(-90)" font-family="Liberation Sans, sans-serif" font-weight="bold" font-size="26.8" text-anchor="middle">Normalized mC density per 100 kb</text>
<g font-family="Liberation Sans, sans-serif" font-weight="bold" font-size="26" fill="#2471b0"><text x="1283.7" y="4144.7">Watson</text><text x="1283.7" y="4425.4">Crick</text></g>
<g font-family="Liberation Serif, serif" font-weight="bold" font-size="31" text-anchor="middle"><text x="1725.7" y="4455">20Mb</text><text x="2117" y="4455">40Mb</text></g>
<text x="1686.7" y="4502" font-family="Liberation Sans, sans-serif" font-weight="bold" font-size="27" text-anchor="middle">C09</text>
</svg>
</div></body></html>
